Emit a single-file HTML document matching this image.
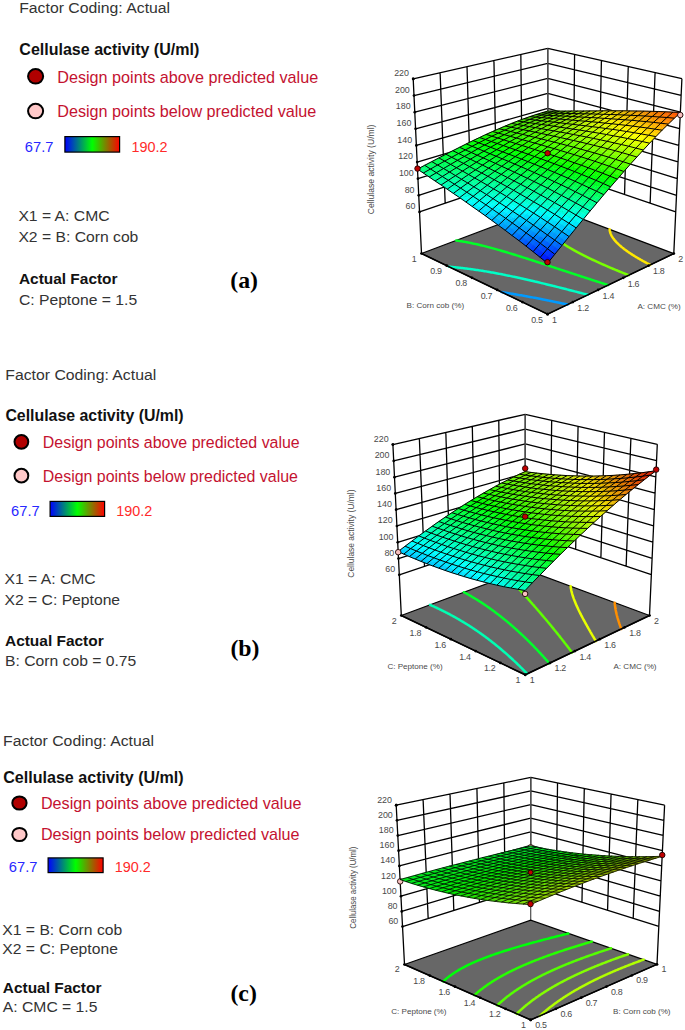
<!DOCTYPE html>
<html><head><meta charset="utf-8"><style>
html,body{margin:0;padding:0;background:#fff;}
body{width:685px;height:1030px;overflow:hidden;position:relative;}
svg{position:absolute;left:0;top:0;}
</style></head><body>
<svg width="685" height="1030" viewBox="0 0 685 1030">
<defs><linearGradient id="cb" x1="0" x2="1" y1="0" y2="0"><stop offset="0" stop-color="#0000ff"/><stop offset="0.5" stop-color="#00ff00"/><stop offset="1" stop-color="#ff0000"/></linearGradient></defs>
<rect width="685" height="1030" fill="#fff"/>
<g font-family="Liberation Sans, sans-serif"><text transform="translate(19.2 13.1) scale(1.053 1)" font-size="15.0" fill="#333" >Factor Coding: Actual</text><text transform="translate(19.299999999999997 55.0) scale(1.0 1)" font-size="16.04" fill="#111" font-weight="bold" >Cellulase activity (U/ml)</text><ellipse cx="35.6" cy="76.3" rx="7.55" ry="7.25" fill="#b00000" stroke="#000" stroke-width="2"/><ellipse cx="35.6" cy="111.1" rx="7.55" ry="7.25" fill="#ffc8c8" stroke="#000" stroke-width="2"/><text transform="translate(57.2 82.6) scale(1.0 1)" font-size="16.19" fill="#c41230" >Design points above predicted value</text><text transform="translate(57.2 116.8) scale(1.0 1)" font-size="16.19" fill="#c41230" >Design points below predicted value</text><text transform="translate(24.8 152.1) scale(1.0 1)" font-size="14.7" fill="#2828ff" >67.7</text><rect x="64.9" y="136.6" width="54.69999999999999" height="15.5" fill="url(#cb)" stroke="#000" stroke-width="1.2"/><text transform="translate(131.4 152.1) scale(1.0 1)" font-size="14.4" fill="#ff2a2a" >190.2</text><text transform="translate(18.4 221.3) scale(1.047 1)" font-size="15.0" fill="#333" >X1 = A: CMC</text><text transform="translate(18.4 242.0) scale(1.047 1)" font-size="15.0" fill="#333" >X2 = B: Corn cob</text><text transform="translate(18.9 284.0) scale(1.0 1)" font-size="15.45" fill="#111" font-weight="bold" >Actual Factor</text><text transform="translate(18.9 305.4) scale(1.047 1)" font-size="15.0" fill="#333" >C: Peptone = 1.5</text><text x="230.3" y="287.5" font-size="23.8" font-family="Liberation Serif, serif" font-weight="bold" fill="#000">(a)</text></g>
<g font-family="Liberation Sans, sans-serif"><text transform="translate(5.3 379.9) scale(1.053 1)" font-size="15.0" fill="#333" >Factor Coding: Actual</text><text transform="translate(5.4 420.7) scale(1.0 1)" font-size="15.88" fill="#111" font-weight="bold" >Cellulase activity (U/ml)</text><ellipse cx="21.4" cy="441.8" rx="6.9" ry="6.9" fill="#b00000" stroke="#000" stroke-width="2"/><ellipse cx="21.4" cy="475.7" rx="6.9" ry="6.9" fill="#ffc8c8" stroke="#000" stroke-width="2"/><text transform="translate(42.8 448.0) scale(1.0 1)" font-size="15.94" fill="#c41230" >Design points above predicted value</text><text transform="translate(42.8 481.8) scale(1.0 1)" font-size="15.94" fill="#c41230" >Design points below predicted value</text><text transform="translate(11.1 515.5) scale(1.0 1)" font-size="14.7" fill="#2828ff" >67.7</text><rect x="50.1" y="501.4" width="54.49999999999999" height="15.0" fill="url(#cb)" stroke="#000" stroke-width="1.2"/><text transform="translate(116.2 515.5) scale(1.0 1)" font-size="14.4" fill="#ff2a2a" >190.2</text><text transform="translate(4.5 584.1) scale(1.047 1)" font-size="15.0" fill="#333" >X1 = A: CMC</text><text transform="translate(4.5 604.5) scale(1.047 1)" font-size="15.0" fill="#333" >X2 = C: Peptone</text><text transform="translate(5.0 646.0) scale(1.0 1)" font-size="15.45" fill="#111" font-weight="bold" >Actual Factor</text><text transform="translate(5.0 666.4) scale(1.047 1)" font-size="15.0" fill="#333" >B: Corn cob = 0.75</text><text x="230.4" y="656.0" font-size="23.8" font-family="Liberation Serif, serif" font-weight="bold" fill="#000">(b)</text></g>
<g font-family="Liberation Sans, sans-serif"><text transform="translate(3.0999999999999996 745.6) scale(1.053 1)" font-size="15.0" fill="#333" >Factor Coding: Actual</text><text transform="translate(3.1999999999999997 783.0) scale(1.0 1)" font-size="16.08" fill="#111" font-weight="bold" >Cellulase activity (U/ml)</text><ellipse cx="19.45" cy="803.0" rx="7.15" ry="6.6" fill="#b00000" stroke="#000" stroke-width="2"/><ellipse cx="19.45" cy="834.5" rx="7.15" ry="6.6" fill="#ffc8c8" stroke="#000" stroke-width="2"/><text transform="translate(40.9 808.6) scale(1.0 1)" font-size="16.16" fill="#c41230" >Design points above predicted value</text><text transform="translate(40.9 840.0) scale(1.0 1)" font-size="16.16" fill="#c41230" >Design points below predicted value</text><text transform="translate(8.8 872.0) scale(1.0 1)" font-size="14.7" fill="#2828ff" >67.7</text><rect x="48.1" y="857.9" width="54.99999999999999" height="14.700000000000045" fill="url(#cb)" stroke="#000" stroke-width="1.2"/><text transform="translate(114.7 872.0) scale(1.0 1)" font-size="14.4" fill="#ff2a2a" >190.2</text><text transform="translate(2.3 935.3) scale(1.047 1)" font-size="15.0" fill="#333" >X1 = B: Corn cob</text><text transform="translate(2.3 954.3) scale(1.047 1)" font-size="15.0" fill="#333" >X2 = C: Peptone</text><text transform="translate(2.8 992.8) scale(1.0 1)" font-size="15.45" fill="#111" font-weight="bold" >Actual Factor</text><text transform="translate(2.8 1012.1) scale(1.047 1)" font-size="15.0" fill="#333" >A: CMC = 1.5</text><text x="230.4" y="1000.7" font-size="23.8" font-family="Liberation Serif, serif" font-weight="bold" fill="#000">(c)</text></g>
<path d="M419.52 211.93L547.79 168.38M547.79 168.38L675.73 211.96M418.73 195.30L547.78 153.37M547.78 153.37L676.50 195.30M417.94 178.67L547.78 138.36M547.78 138.36L677.27 178.64M417.15 162.04L547.77 123.35M547.77 123.35L678.04 161.99M416.36 145.41L547.77 108.34M547.77 108.34L678.81 145.33M415.57 128.79L547.76 93.33M547.76 93.33L679.59 128.67M414.78 112.16L547.76 78.32M547.76 78.32L680.36 112.01M413.99 95.53L547.75 63.31M547.75 63.31L681.13 95.36M413.20 78.90L547.75 48.30M547.75 48.30L681.90 78.70M413.20 78.90L421.50 253.50M440.11 72.78L445.18 203.22M467.02 66.66L470.83 194.51M493.93 60.54L496.48 185.80M520.84 54.42L522.14 177.09M547.75 48.30L547.79 168.38M574.58 54.38L573.38 177.09M601.41 60.46L598.96 185.81M628.24 66.54L624.55 194.52M655.07 72.62L650.14 203.24M681.90 78.70L673.80 253.60" stroke="#000" stroke-width="1.3" fill="none"/>
<path d="M547.75 48.30L547.80 205.90" stroke="#555" stroke-width="1.3" fill="none"/>
<path d="M421.50 253.50L547.80 205.90L673.80 253.60L547.60 314.20Z" fill="#676767" stroke="#000" stroke-width="1.2"/>
<path d="M501.59 292.09L502.44 292.22L503.71 292.42L504.12 292.48L504.97 292.62L506.23 292.82L506.69 292.89L507.49 293.02L508.75 293.22L509.29 293.31L510.00 293.43L511.26 293.64L511.91 293.75L512.51 293.85L513.76 294.06L514.57 294.19L515.00 294.27L516.25 294.48L517.26 294.66L517.49 294.70L518.73 294.91L519.98 295.13L519.99 295.13L521.21 295.35L522.45 295.57L522.74 295.62L523.69 295.79L524.92 296.01L525.53 296.12L526.16 296.24L527.39 296.46L528.35 296.64L528.62 296.69L529.85 296.92L531.08 297.15L531.20 297.17L532.31 297.38L533.54 297.61L534.08 297.71L534.76 297.84L535.99 298.08L537.00 298.27L537.21 298.31L538.44 298.55L539.66 298.79L539.96 298.84L540.88 299.03L542.10 299.27L542.94 299.43L543.32 299.51L544.55 299.75L545.77 299.99L545.96 300.03L546.98 300.23L548.20 300.48L549.01 300.64L549.42 300.73L550.64 300.97L551.86 301.22L552.10 301.27L553.08 301.47L554.29 301.72L555.22 301.91L555.51 301.97L556.73 302.22L557.95 302.47L558.37 302.56L559.16 302.73L560.38 302.98L561.56 303.23L561.60 303.24L562.81 303.49L564.03 303.75L564.78 303.91L565.25 304.01L566.46 304.27L567.68 304.53" stroke="#009aff" stroke-width="2.5" fill="none" stroke-linecap="round"/>
<path d="M448.82 266.68L449.82 266.76L450.80 266.85L451.15 266.88L452.48 267.00L452.80 267.03L453.79 267.12L454.83 267.22L455.10 267.25L456.40 267.38L456.89 267.43L457.69 267.52L458.97 267.65L458.98 267.65L460.25 267.79L461.10 267.89L461.52 267.94L462.78 268.09L463.26 268.14L464.04 268.24L465.29 268.39L465.45 268.41L466.53 268.55L467.67 268.69L467.77 268.70L469.00 268.87L469.94 268.99L470.23 269.03L471.45 269.20L472.24 269.31L472.67 269.37L473.88 269.54L474.58 269.64L475.09 269.72L476.29 269.89L476.96 269.99L477.48 270.07L478.68 270.25L479.38 270.36L479.87 270.44L481.05 270.63L481.85 270.75L482.23 270.81L483.41 271.01L484.36 271.16L484.58 271.20L485.75 271.39L486.91 271.59L486.92 271.59L488.08 271.79L489.24 271.99L489.51 272.04L490.39 272.19L491.55 272.40L492.17 272.51L492.70 272.60L493.85 272.81L494.87 273.00L494.99 273.02L496.13 273.24L497.27 273.45L497.62 273.51L498.41 273.66L499.54 273.88L500.42 274.05L500.68 274.10L501.81 274.32L502.94 274.54L503.27 274.61L504.06 274.76L505.19 274.99L506.18 275.19L506.31 275.22L507.43 275.44L508.55 275.67L509.15 275.79L509.67 275.90L510.78 276.13L511.90 276.37L512.17 276.42L513.01 276.60L514.12 276.84L515.23 277.07L515.24 277.08L516.34 277.31L517.45 277.55L518.38 277.75L518.56 277.79L519.66 278.03L520.77 278.28L521.57 278.45L521.87 278.52L522.98 278.77L524.08 279.01L524.82 279.18L525.18 279.26L526.28 279.51L527.38 279.76L528.13 279.93L528.48 280.01L529.58 280.26L530.68 280.52L531.50 280.71L531.78 280.77L532.87 281.02L533.97 281.28L534.93 281.50L535.07 281.54L536.16 281.80L537.26 282.05L538.36 282.31L538.41 282.33L539.45 282.57L540.55 282.84L541.64 283.10L541.96 283.17L542.74 283.36L543.83 283.63L544.93 283.89L545.56 284.05L546.02 284.16L547.12 284.42L548.21 284.69L549.22 284.94L549.31 284.96L550.40 285.23L551.50 285.50L552.60 285.77L552.93 285.86L553.69 286.04L554.79 286.32L555.88 286.59L556.71 286.79L556.98 286.86L558.08 287.14L559.18 287.41L560.27 287.69L560.53 287.75L561.37 287.97L562.47 288.24L563.57 288.52L564.41 288.73L564.67 288.80L565.77 289.08L566.87 289.36L567.97 289.64L568.34 289.73L569.08 289.92L570.18 290.20L571.28 290.49L572.32 290.75L572.39 290.77L573.49 291.05L574.60 291.34L575.70 291.62L576.34 291.79L576.81 291.91L577.92 292.20L579.03 292.48L580.14 292.77L580.42 292.84L581.25 293.06L582.36 293.35L583.47 293.64L584.53 293.92L584.58 293.93L585.70 294.22L586.81 294.51L587.93 294.80" stroke="#00ffc6" stroke-width="2.5" fill="none" stroke-linecap="round"/>
<path d="M456.15 240.49L457.27 240.65L457.62 240.70L458.37 240.81L459.47 240.97L459.92 241.04L460.56 241.14L461.63 241.31L462.30 241.42L462.70 241.49L463.76 241.67L464.79 241.85L464.81 241.86L465.85 242.04L466.89 242.23L467.40 242.33L467.92 242.43L468.94 242.63L469.95 242.83L470.12 242.86L470.96 243.03L471.97 243.24L472.96 243.45L472.99 243.45L473.95 243.66L474.94 243.87L475.92 244.09L476.01 244.11L476.90 244.31L477.87 244.53L478.84 244.75L479.19 244.84L479.80 244.98L480.76 245.21L481.72 245.44L482.56 245.65L482.67 245.67L483.62 245.91L484.56 246.14L485.50 246.38L486.14 246.55L486.44 246.62L487.38 246.87L488.31 247.11L489.25 247.36L489.94 247.54L490.17 247.60L491.10 247.85L492.03 248.10L492.95 248.35L493.87 248.61L493.99 248.64L494.79 248.86L495.71 249.12L496.62 249.38L497.53 249.63L498.30 249.85L498.45 249.89L499.36 250.16L500.27 250.42L501.18 250.68L502.09 250.95L502.89 251.18L502.99 251.21L503.90 251.48L504.80 251.75L505.71 252.02L506.61 252.29L507.51 252.56L507.77 252.64L508.42 252.83L509.32 253.11L510.22 253.38L511.12 253.66L512.02 253.93L512.92 254.21L512.96 254.22L513.82 254.49L514.72 254.77L515.63 255.05L516.53 255.33L517.43 255.61L518.33 255.90L518.43 255.93L519.23 256.18L520.13 256.46L521.03 256.75L521.93 257.03L522.83 257.32L523.73 257.61L524.19 257.75L524.63 257.89L525.53 258.18L526.44 258.47L527.34 258.76L528.24 259.05L529.15 259.34L530.05 259.64L530.22 259.69L530.96 259.93L531.86 260.22L532.77 260.52L533.68 260.81L534.59 261.10L535.49 261.40L536.40 261.70L536.47 261.72L537.31 261.99L538.22 262.29L539.14 262.59L540.05 262.89L540.96 263.18L541.88 263.48L542.79 263.78L542.92 263.82L543.71 264.08L544.63 264.38L545.55 264.69L546.46 264.99L547.39 265.29L548.31 265.59L549.23 265.90L549.51 265.99L550.15 266.20L551.08 266.50L552.00 266.81L552.93 267.11L553.86 267.42L554.79 267.72L555.72 268.03L556.22 268.19L556.65 268.34L557.59 268.64L558.52 268.95L559.46 269.26L560.39 269.57L561.33 269.88L562.27 270.19L562.99 270.42L563.21 270.50L564.16 270.81L565.10 271.12L566.04 271.43L566.99 271.74L567.94 272.05L568.89 272.36L569.81 272.66L569.84 272.67L570.79 272.98L571.75 273.30L572.70 273.61L573.66 273.92L574.62 274.24L575.58 274.55L576.54 274.87L576.62 274.89L577.50 275.18L578.46 275.50L579.43 275.81L580.40 276.13L581.37 276.44L582.34 276.76L583.31 277.08L583.42 277.11L584.28 277.39L585.26 277.71L586.24 278.03L587.21 278.35L588.19 278.66L589.18 278.98L590.16 279.30L590.19 279.31L591.15 279.62L592.13 279.94L593.12 280.26L594.11 280.58L595.10 280.90L596.10 281.22L596.90 281.48L597.09 281.54L598.09 281.86L599.09 282.18L600.09 282.50L601.09 282.83L602.10 283.15L603.10 283.47L603.56 283.62L604.11 283.79L605.12 284.12L606.13 284.44L607.14 284.76L608.16 285.09" stroke="#00ff27" stroke-width="2.5" fill="none" stroke-linecap="round"/>
<path d="M558.57 209.99L557.95 210.29L557.35 210.60L556.75 210.92L556.16 211.24L555.59 211.56L555.45 211.64L555.02 211.89L554.47 212.22L553.92 212.56L553.39 212.90L553.10 213.10L552.87 213.25L552.36 213.61L551.87 213.97L551.45 214.29L551.39 214.34L550.92 214.71L550.47 215.09L550.21 215.33L550.04 215.48L549.62 215.87L549.23 216.26L549.21 216.28L548.83 216.69L548.46 217.11L548.44 217.13L548.11 217.54L547.81 217.94L547.79 217.97L547.48 218.42L547.30 218.70L547.20 218.87L546.93 219.34L546.89 219.43L546.70 219.82L546.56 220.12L546.49 220.31L546.31 220.79L546.30 220.81L546.15 221.32L546.12 221.44L546.02 221.85L545.98 222.07L545.93 222.39L545.89 222.68L545.87 222.94L545.85 223.27L545.84 223.51L545.84 223.85L545.85 224.10L545.88 224.42L545.91 224.70L545.94 224.97L546.00 225.33L546.04 225.52L546.14 225.97L546.17 226.05L546.32 226.58L546.33 226.63L546.49 227.10L546.58 227.32L546.69 227.61L546.88 228.03L546.91 228.11L547.15 228.61L547.24 228.77L547.41 229.10L547.66 229.54L547.69 229.58L547.98 230.06L548.16 230.33L548.29 230.54L548.61 231.01L548.73 231.16L548.95 231.47L549.31 231.93L549.39 232.03L549.67 232.39L550.05 232.84L550.14 232.94L550.45 233.29L550.85 233.74L550.99 233.89L551.26 234.18L551.69 234.62L551.95 234.89L552.12 235.06L552.57 235.49L553.02 235.92L553.04 235.94L553.49 236.35L553.96 236.78L554.27 237.05L554.45 237.20L554.94 237.62L555.44 238.04L555.66 238.23L555.94 238.46L556.46 238.87L556.98 239.29L557.24 239.49L557.51 239.70L558.05 240.11L558.59 240.52L559.02 240.84L559.14 240.92L559.70 241.33L560.27 241.73L560.84 242.13L561.06 242.29L561.41 242.53L562.00 242.93L562.59 243.33L563.18 243.73L563.40 243.87L563.78 244.12L564.39 244.52L565.00 244.91L565.62 245.30L566.10 245.60L566.24 245.69L566.87 246.08L567.50 246.47L568.14 246.86L568.78 247.25L569.26 247.53L569.43 247.63L570.08 248.02L570.74 248.40L571.40 248.78L572.07 249.17L572.74 249.55L573.03 249.71L573.42 249.93L574.10 250.31L574.78 250.69L575.47 251.07L576.16 251.45L576.86 251.82L577.56 252.20L577.66 252.25L578.27 252.58L578.98 252.95L579.69 253.33L580.41 253.70L581.13 254.08L581.86 254.45L582.58 254.82L583.32 255.20L583.62 255.35L584.05 255.57L584.79 255.94L585.54 256.31L586.29 256.68L587.04 257.05L587.79 257.42L588.55 257.79L589.31 258.16L590.08 258.53L590.85 258.90L591.62 259.27L592.08 259.49L592.40 259.63L593.18 260.00L593.96 260.37L594.75 260.73L595.54 261.10L596.33 261.47L597.12 261.83L597.92 262.20L598.73 262.56L599.53 262.93L600.34 263.29L601.15 263.65L601.97 264.02L602.79 264.38L603.61 264.75L604.43 265.11L605.26 265.47L606.09 265.83L606.93 266.20L607.76 266.56L608.60 266.92L609.45 267.28L610.29 267.64L610.65 267.79L611.14 268.01L612.00 268.37L612.85 268.73L613.71 269.09L614.57 269.45L615.43 269.81L616.30 270.17L617.17 270.53L618.04 270.89L618.92 271.25L619.80 271.61L620.68 271.97L621.56 272.33L622.45 272.69L623.34 273.05L624.23 273.41L625.13 273.77L625.39 273.87L626.03 274.12L626.93 274.48L627.83 274.84L628.74 275.20" stroke="#77ff00" stroke-width="2.5" fill="none" stroke-linecap="round"/>
<path d="M609.60 229.27L609.65 229.85L609.65 229.87L609.73 230.44L609.73 230.47L609.83 231.05L609.84 231.06L609.97 231.65L609.97 231.67L610.12 232.22L610.15 232.31L610.30 232.79L610.36 232.96L610.50 233.35L610.61 233.63L610.72 233.90L610.89 234.31L610.95 234.45L611.21 234.99L611.22 235.02L611.48 235.52L611.60 235.74L611.77 236.05L612.02 236.48L612.08 236.57L612.40 237.09L612.50 237.25L612.74 237.61L613.03 238.03L613.08 238.12L613.45 238.62L613.61 238.85L613.82 239.12L614.21 239.62L614.26 239.68L614.61 240.11L614.98 240.55L615.02 240.60L615.45 241.09L615.77 241.45L615.88 241.57L616.32 242.05L616.63 242.38L616.78 242.53L617.24 243.00L617.58 243.34L617.72 243.47L618.20 243.94L618.63 244.34L618.70 244.41L619.20 244.87L619.71 245.33L619.77 245.39L620.23 245.79L620.76 246.25L621.03 246.48L621.29 246.70L621.83 247.16L622.39 247.61L622.41 247.63L622.94 248.05L623.51 248.50L623.93 248.83L624.08 248.95L624.67 249.39L625.25 249.83L625.61 250.09L625.85 250.27L626.45 250.71L627.06 251.14L627.47 251.43L627.67 251.58L628.29 252.01L628.92 252.44L629.53 252.86L629.55 252.87L630.19 253.30L630.84 253.73L631.49 254.15L631.83 254.38L632.14 254.58L632.81 255.00L633.47 255.43L634.15 255.85L634.42 256.02L634.83 256.27L635.51 256.69L636.20 257.11L636.89 257.52L637.36 257.80L637.59 257.94L638.30 258.35L639.01 258.77L639.72 259.18L640.44 259.59L640.73 259.75L641.17 260.00L641.90 260.42L642.63 260.82L643.37 261.23L644.12 261.64L644.66 261.94L644.86 262.05L645.62 262.46L646.37 262.86L647.14 263.27L647.90 263.67L648.67 264.07L649.37 264.43L649.45 264.48L650.23 264.88" stroke="#ffe800" stroke-width="2.5" fill="none" stroke-linecap="round"/>
<path d="M421.50 253.50L547.60 314.20L673.80 253.60" stroke="#000" stroke-width="1.5" fill="none"/>
<g fill="#000"><circle cx="421.50" cy="253.50" r="1.35"/><circle cx="547.60" cy="314.20" r="1.35"/><circle cx="446.72" cy="265.64" r="1.35"/><circle cx="572.84" cy="302.08" r="1.35"/><circle cx="471.94" cy="277.78" r="1.35"/><circle cx="598.08" cy="289.96" r="1.35"/><circle cx="497.16" cy="289.92" r="1.35"/><circle cx="623.32" cy="277.84" r="1.35"/><circle cx="522.38" cy="302.06" r="1.35"/><circle cx="648.56" cy="265.72" r="1.35"/><circle cx="547.60" cy="314.20" r="1.35"/><circle cx="673.80" cy="253.60" r="1.35"/><circle cx="419.52" cy="211.93" r="1.35"/><circle cx="418.73" cy="195.30" r="1.35"/><circle cx="417.94" cy="178.67" r="1.35"/><circle cx="417.15" cy="162.04" r="1.35"/><circle cx="416.36" cy="145.41" r="1.35"/><circle cx="415.57" cy="128.79" r="1.35"/><circle cx="414.78" cy="112.16" r="1.35"/><circle cx="413.99" cy="95.53" r="1.35"/><circle cx="413.20" cy="78.90" r="1.35"/><circle cx="413.20" cy="78.90" r="1.35"/></g>
<g stroke-width="4.5" transform="scale(0.1)"><path d="M5475 2633l36 -45l-36 -29l-36 44z" fill="#0010ff" stroke="#0010ff"/><path d="M5439 2603l36 -44l-36 -29l-37 44z" fill="#0020ff" stroke="#0020ff"/><path d="M5402 2574l37 -44l-36 -28l-37 43zm109 14l37 -45l-37 -28l-36 44z" fill="#002cff" stroke="#002cff"/><path d="M5366 2545l37 -43l-36 -27l-36 42zm109 14l36 -44l-36 -28l-36 43z" fill="#0038ff" stroke="#0038ff"/><path d="M5331 2517l36 -42l-36 -28l-36 42zm108 13l36 -43l-36 -27l-36 42z" fill="#0044ff" stroke="#0044ff"/><path d="M5295 2489l36 -42l-35 -26l-36 40zm108 13l36 -42l-36 -27l-36 42z" fill="#0050ff" stroke="#0050ff"/><path d="M5260 2461l36 -40l-35 -27l-36 40z" fill="#0058ff" stroke="#0058ff"/><path d="M5225 2434l36 -40l-35 -26l-36 39zm359 64l36 -44l-37 -27l-36 44z" fill="#0064ff" stroke="#0064ff"/><path d="M5190 2407l36 -39l-35 -26l-36 39zm106 14l36 -41l-35 -26l-36 40zm251 50l36 -44l-36 -26l-36 43z" fill="#0070ff" stroke="#0070ff"/><path d="M5155 2381l36 -39l-34 -25l-37 38zm106 13l36 -40l-35 -25l-36 39z" fill="#007cff" stroke="#007cff"/><path d="M5120 2355l37 -38l-35 -26l-36 38zm106 13l36 -39l-35 -25l-36 38zm106 12l36 -40l-35 -25l-36 39zm251 47l36 -43l-36 -26l-36 43z" fill="#0088ff" stroke="#0088ff"/><path d="M5086 2329l36 -38l-34 -24l-36 36zm105 13l36 -38l-34 -25l-36 38zm248 49l36 -41l-35 -26l-36 41z" fill="#0090ff" stroke="#0090ff"/><path d="M5052 2303l36 -36l-34 -25l-36 36zm105 14l36 -38l-34 -25l-37 37zm354 58l36 -42l-36 -25l-36 42z" fill="#009cff" stroke="#009cff"/><path d="M5018 2278l36 -36l-33 -24l-37 35zm601 106l36 -43l-37 -25l-35 42z" fill="#00a4ff" stroke="#00a4ff"/><path d="M4984 2253l37 -35l-34 -24l-36 35zm104 14l36 -37l-33 -23l-37 35zm105 12l36 -38l-35 -23l-35 36zm247 45l35 -40l-35 -24l-36 40z" fill="#00b0ff" stroke="#00b0ff"/><path d="M4951 2229l36 -35l-33 -23l-36 33zm103 13l37 -35l-34 -24l-36 35zm350 58l36 -40l-35 -24l-36 39zm143 33l35 -42l-36 -24l-35 41z" fill="#00b8ff" stroke="#00b8ff"/><path d="M4918 2204l36 -33l-33 -24l-36 33zm103 14l36 -35l-34 -23l-36 34zm103 12l36 -36l-34 -23l-35 36zm245 45l36 -39l-35 -23l-36 38z" fill="#00c4ff" stroke="#00c4ff"/><path d="M4885 2180l36 -33l-33 -23l-36 33zm102 14l36 -34l-33 -23l-36 34zm347 57l36 -38l-35 -23l-36 38z" fill="#00ccff" stroke="#00ccff"/><path d="M4852 2157l36 -33l-33 -23l-36 32zm102 14l36 -34l-33 -23l-36 33zm103 12l36 -35l-34 -22l-36 34zm103 11l36 -36l-34 -22l-36 35zm245 42l35 -38l-35 -23l-35 38zm141 31l36 -40l-36 -23l-35 40zm144 31l35 -43l-36 -23l-35 42z" fill="#00d8ff" stroke="#00d8ff"/><path d="M4819 2133l36 -32l-32 -22l-36 31zm102 14l36 -33l-33 -22l-36 32zm102 13l36 -34l-33 -22l-36 33zm103 11l36 -35l-34 -22l-35 34zm244 42l35 -38l-35 -22l-35 37zm141 31l35 -40l-35 -23l-36 40zm143 30l35 -42l-36 -23l-35 41z" fill="#00e0ff" stroke="#00e0ff"/><path d="M4787 2110l36 -31l-33 -22l-36 30zm101 14l36 -32l-33 -22l-36 31zm102 13l36 -33l-33 -22l-36 32zm240 44l36 -36l-34 -22l-36 35zm245 40l36 -40l-36 -22l-35 39zm143 29l35 -41l-36 -22l-35 40zm144 29l35 -43l-37 -23l-35 42z" fill="#00e8ff" stroke="#00e8ff"/><path d="M4754 2087l36 -30l-32 -22l-36 30zm101 14l36 -31l-32 -22l-36 31zm102 13l36 -32l-33 -22l-36 32zm239 44l36 -35l-34 -22l-36 35zm244 40l35 -39l-35 -22l-35 38zm142 29l35 -40l-36 -22l-35 39zm143 28l35 -42l-36 -22l-35 41z" fill="#00f0ff" stroke="#00f0ff"/><path d="M4722 2065l36 -30l-32 -22l-36 29zm101 14l36 -31l-33 -22l-36 31zm101 13l36 -32l-33 -22l-36 32zm238 44l36 -35l-34 -21l-36 34zm243 39l35 -38l-35 -21l-35 37zm141 29l35 -39l-35 -22l-35 38zm143 28l35 -41l-36 -22l-35 40z" fill="#00f8ff" stroke="#00f8ff"/><path d="M4690 2042l36 -29l-31 -22l-36 29zm100 15l36 -31l-32 -21l-36 30zm101 13l36 -32l-32 -21l-36 31zm341 53l35 -35l-34 -21l-35 34zm138 30l35 -37l-34 -22l-35 37zm283 56l35 -40l-36 -22l-35 40zm144 27l35 -42l-37 -22l-35 41z" fill="#00fffc" stroke="#00fffc"/><path d="M4659 2020l36 -29l-32 -21l-36 28zm301 40l35 -32l-32 -21l-36 31zm102 10l35 -32l-33 -21l-36 32zm239 39l35 -36l-34 -20l-35 35zm139 28l35 -37l-35 -21l-35 37zm141 28l35 -40l-35 -21l-35 39z" fill="#00fff0" stroke="#00fff0"/><path d="M4627 1998l36 -28l-31 -21l-36 27zm401 51l36 -32l-33 -20l-36 31zm239 39l35 -35l-34 -21l-35 35zm138 28l35 -37l-34 -21l-35 36zm141 27l35 -39l-36 -21l-35 38z" fill="#00ffe8" stroke="#00ffe8"/><path d="M4596 1976l36 -27l-31 -21l-37 27zm399 52l36 -31l-33 -21l-35 31zm238 39l35 -35l-34 -20l-35 34zm138 27l35 -36l-35 -20l-35 35zm139 27l35 -38l-35 -20l-35 37zm322 73l35 -42l-37 -22l-35 42z" fill="#00ffe0" stroke="#00ffe0"/><path d="M4564 1955l37 -27l-31 -21l-37 27zm399 52l35 -31l-32 -20l-36 31zm101 10l35 -32l-33 -20l-35 32zm135 29l35 -34l-33 -20l-35 33zm137 27l35 -35l-34 -20l-35 35zm139 27l35 -37l-35 -20l-35 36zm141 25l35 -38l-36 -21l-34 38zm179 47l35 -42l-36 -21l-35 41z" fill="#00ffd8" stroke="#00ffd8"/><path d="M4533 1934l37 -27l-31 -20l-36 25zm99 15l36 -27l-31 -20l-36 26zm298 38l36 -31l-33 -19l-35 29zm101 10l35 -32l-33 -19l-35 30zm135 28l35 -33l-34 -19l-35 32zm136 28l35 -35l-34 -20l-35 34zm138 26l35 -36l-34 -20l-35 35zm141 25l34 -38l-35 -20l-35 37z" fill="#00ffd0" stroke="#00ffd0"/><path d="M4503 1912l36 -25l-31 -20l-36 25zm98 16l36 -26l-31 -21l-36 26zm397 48l35 -30l-32 -20l-35 30zm134 29l35 -32l-33 -20l-35 32zm413 78l35 -37l-35 -20l-35 37zm322 69l34 -42l-36 -21l-35 41z" fill="#00ffc8" stroke="#00ffc8"/><path d="M4472 1892l36 -25l-30 -21l-36 25zm98 15l36 -26l-31 -19l-36 25zm396 49l35 -30l-32 -19l-36 30zm235 36l35 -32l-34 -19l-35 32zm136 26l35 -34l-34 -19l-35 33zm173 45l35 -37l-35 -19l-35 36zm141 24l35 -39l-36 -20l-35 38zm179 43l35 -41l-37 -20l-34 40z" fill="#00ffc0" stroke="#00ffc0"/><path d="M4442 1871l36 -25l-31 -19l-36 23zm97 16l36 -25l-31 -20l-36 25zm164 8l36 -27l-31 -19l-36 26zm99 12l35 -28l-31 -19l-36 27zm131 30l36 -30l-33 -18l-35 28zm100 9l36 -31l-33 -18l-35 29zm134 27l35 -32l-33 -19l-35 31zm136 25l35 -33l-34 -19l-35 33zm312 68l35 -38l-35 -19l-35 37zm179 43l34 -40l-36 -20l-35 40z" fill="#00ffb8" stroke="#00ffb8"/><path d="M4411 1850l36 -23l-30 -20l-36 23zm164 12l35 -26l-30 -19l-36 25zm97 13l36 -26l-31 -19l-36 26zm98 12l36 -27l-32 -18l-35 26zm231 39l35 -29l-32 -19l-35 29zm133 27l35 -31l-33 -19l-35 31zm135 26l35 -33l-33 -19l-35 33zm137 24l35 -35l-34 -18l-35 34zm174 43l35 -37l-35 -19l-35 36zm321 64l35 -41l-37 -20l-34 40z" fill="#00ffb0" stroke="#00ffb0"/><path d="M4381 1830l36 -23l-30 -20l-36 23zm163 12l36 -25l-31 -19l-35 24zm97 14l36 -26l-31 -18l-36 24zm98 12l35 -26l-31 -19l-35 26zm98 11l36 -27l-32 -19l-35 27zm132 28l35 -29l-33 -18l-35 29zm100 8l34 -30l-32 -18l-35 30zm303 69l35 -34l-34 -19l-35 34zm138 23l35 -36l-35 -19l-35 35zm176 41l34 -38l-35 -19l-35 37zm179 41l34 -40l-36 -20l-35 40z" fill="#00ffa8" stroke="#00ffa8"/><path d="M4351 1810l36 -23l-29 -19l-36 22zm163 12l35 -24l-30 -18l-36 23zm96 14l36 -24l-31 -19l-35 24zm98 13l35 -26l-31 -18l-35 25zm98 11l35 -27l-31 -18l-36 27zm98 10l35 -28l-31 -18l-35 28zm132 27l35 -30l-33 -18l-34 29zm133 25l35 -31l-33 -18l-35 30zm135 24l35 -33l-34 -18l-34 32zm171 41l35 -35l-34 -18l-35 34zm175 41l35 -37l-36 -19l-34 37zm178 41l35 -40l-37 -19l-34 39z" fill="#00ffa0" stroke="#00ffa0"/><path d="M4322 1790l36 -22l-30 -20l-36 22zm161 13l36 -23l-30 -19l-36 23zm97 14l35 -24l-30 -18l-36 23zm194 25l36 -27l-32 -18l-35 26zm99 10l35 -28l-32 -17l-35 26zm131 26l34 -29l-32 -17l-35 28zm132 25l35 -30l-33 -18l-35 30zm135 24l34 -32l-33 -18l-35 32zm309 63l34 -36l-35 -19l-34 36zm176 39l34 -38l-36 -19l-34 38z" fill="#00ff98" stroke="#00ff98"/><path d="M4292 1770l36 -22l-29 -19l-36 21zm161 14l36 -23l-30 -19l-36 23zm162 9l36 -24l-31 -18l-35 24zm97 12l35 -25l-30 -18l-36 25zm129 28l35 -26l-31 -18l-35 26zm98 9l35 -28l-32 -17l-34 27zm132 25l35 -29l-33 -17l-35 28zm133 24l35 -31l-33 -17l-35 30zm169 40l34 -33l-34 -17l-34 32zm172 40l34 -36l-35 -18l-34 35zm175 39l34 -38l-35 -18l-34 37zm179 39l34 -40l-36 -19l-34 39z" fill="#00ff90" stroke="#00ff90"/><path d="M4263 1750l36 -21l-30 -19l-36 20zm160 15l36 -23l-30 -18l-35 22zm162 10l35 -24l-30 -18l-35 23zm96 12l36 -25l-31 -17l-35 24zm97 10l35 -25l-31 -17l-35 25zm130 27l34 -27l-31 -17l-35 27zm130 25l35 -28l-32 -17l-35 28zm133 24l35 -30l-33 -17l-35 29zm134 22l35 -32l-34 -17l-34 31zm171 39l34 -34l-34 -18l-35 34zm387 95l34 -39l-36 -19l-35 39z" fill="#00ff88" stroke="#00ff88"/><path d="M4233 1730l36 -20l-29 -19l-36 20zm161 16l35 -22l-29 -18l-36 21zm65 -4l36 -22l-30 -17l-36 21zm96 14l35 -23l-30 -17l-36 22zm96 13l35 -24l-31 -17l-35 23zm96 11l35 -25l-30 -17l-35 24zm98 9l34 -26l-31 -16l-35 25zm129 25l35 -27l-32 -17l-35 27zm132 24l34 -29l-32 -17l-35 29zm166 39l34 -31l-33 -17l-34 31zm169 39l35 -34l-35 -17l-34 33zm173 38l34 -36l-35 -18l-34 35zm176 37l35 -38l-36 -18l-35 37z" fill="#00ff80" stroke="#00ff80"/><path d="M4204 1711l36 -20l-29 -19l-36 19zm225 13l36 -21l-30 -18l-35 21zm161 9l35 -22l-30 -17l-35 22zm96 12l35 -24l-31 -16l-35 23zm127 27l35 -25l-31 -17l-35 25zm98 8l35 -26l-32 -16l-35 25zm162 41l35 -29l-32 -16l-35 28zm133 22l34 -30l-33 -16l-34 29zm167 38l35 -33l-34 -16l-34 31zm171 36l35 -34l-35 -17l-34 34zm210 55l35 -37l-36 -18l-34 37z" fill="#00ff78" stroke="#00ff78"/><path d="M5367 2475l36 -42l-35 -27l-37 41z" fill="#005cff" stroke="#005cff"/><path d="M5331 2447l37 -41l-36 -26l-36 41zm108 13l36 -43l-36 -26l-36 42z" fill="#0068ff" stroke="#0068ff"/><path d="M5122 2291l37 -37l-35 -24l-36 37zm105 13l36 -38l-34 -25l-36 38zm248 46l36 -42l-36 -24l-35 40z" fill="#00a8ff" stroke="#00a8ff"/><path d="M4758 2035l36 -30l-32 -21l-36 29zm101 13l36 -31l-33 -21l-36 30zm339 53l35 -34l-34 -21l-35 34zm138 30l35 -37l-35 -21l-35 36zm281 56l35 -40l-36 -22l-35 40zm143 26l35 -41l-36 -22l-35 41z" fill="#00fff4" stroke="#00fff4"/><path d="M4726 2013l36 -29l-31 -21l-36 28zm100 13l36 -30l-32 -20l-36 29zm101 12l36 -31l-33 -20l-35 30zm237 42l35 -34l-33 -21l-36 34zm560 111l35 -41l-36 -22l-35 41z" fill="#00ffec" stroke="#00ffec"/><path d="M4695 1991l36 -28l-32 -21l-36 28zm99 14l36 -29l-32 -21l-36 29zm101 12l35 -30l-32 -21l-36 30zm235 42l36 -34l-34 -20l-35 33zm558 110l35 -41l-36 -21l-35 40z" fill="#00ffe4" stroke="#00ffe4"/><path d="M4663 1970l36 -28l-31 -20l-36 27zm99 14l36 -29l-32 -20l-35 28zm100 12l36 -30l-32 -20l-36 30zm235 42l35 -33l-33 -20l-35 32zm555 109l35 -40l-36 -20l-35 38z" fill="#00ffdc" stroke="#00ffdc"/><path d="M4508 1867l36 -25l-30 -20l-36 24zm98 14l35 -25l-31 -20l-35 26zm295 36l35 -28l-32 -19l-35 28zm540 106l34 -36l-34 -19l-35 35zm316 66l35 -40l-36 -20l-35 39z" fill="#00ffb4" stroke="#00ffb4"/><path d="M4478 1846l36 -24l-31 -19l-36 24zm391 52l35 -28l-31 -18l-36 27zm232 36l35 -31l-33 -18l-34 30zm135 26l35 -33l-34 -18l-35 32zm309 66l35 -36l-35 -19l-35 36zm176 42l35 -39l-36 -19l-34 38z" fill="#00ffac" stroke="#00ffac"/><path d="M4447 1827l36 -24l-30 -19l-36 23zm489 62l35 -29l-32 -18l-35 28zm266 52l35 -32l-33 -18l-35 31zm136 24l35 -34l-34 -18l-35 33z" fill="#00ffa4" stroke="#00ffa4"/><path d="M4417 1807l36 -23l-30 -19l-36 22zm260 23l35 -25l-31 -18l-35 25zm764 138l35 -34l-35 -18l-34 34zm174 41l34 -37l-35 -18l-34 36zm177 40l34 -39l-36 -19l-34 38z" fill="#00ff9c" stroke="#00ff9c"/><path d="M4387 1787l36 -22l-29 -19l-36 22zm162 11l36 -23l-30 -19l-36 24zm97 14l35 -25l-30 -18l-36 24zm97 11l35 -26l-31 -17l-35 25zm228 37l35 -28l-32 -18l-35 28zm132 25l35 -30l-32 -17l-35 29zm134 24l35 -32l-33 -17l-35 31zm170 41l34 -34l-34 -18l-34 33zm529 119l34 -41l-37 -19l-34 40z" fill="#00ff94" stroke="#00ff94"/><path d="M4358 1768l36 -22l-30 -19l-36 21zm161 12l36 -24l-31 -18l-35 23zm291 35l35 -26l-32 -17l-35 25zm529 98l34 -32l-33 -18l-35 32zm171 39l34 -35l-34 -17l-34 34zm175 39l34 -37l-36 -18l-34 36z" fill="#00ff8c" stroke="#00ff8c"/><path d="M4328 1748l36 -21l-29 -19l-36 21zm161 13l35 -23l-29 -18l-36 22zm387 46l35 -27l-32 -17l-34 26zm130 25l35 -28l-32 -17l-35 27zm132 23l35 -29l-33 -17l-34 29zm511 117l34 -36l-35 -18l-34 36zm177 38l35 -39l-36 -18l-35 38z" fill="#00ff84" stroke="#00ff84"/><path d="M4299 1729l36 -21l-30 -18l-36 20zm65 -2l36 -21l-30 -18l-35 20zm160 11l36 -22l-30 -17l-35 21zm96 13l35 -23l-30 -17l-35 22zm97 11l35 -24l-31 -17l-35 24zm225 35l35 -27l-31 -16l-35 26zm297 63l34 -31l-33 -16l-34 30zm168 38l34 -33l-33 -17l-35 33zm172 37l34 -35l-34 -17l-35 34zm391 93l34 -41l-36 -18l-35 40z" fill="#00ff7c" stroke="#00ff7c"/><path d="M4269 1710l36 -20l-29 -19l-36 20zm66 -2l35 -20l-29 -18l-36 20zm160 12l35 -21l-30 -18l-35 22zm287 35l35 -25l-31 -16l-34 24zm259 49l35 -28l-33 -16l-34 27zm132 22l34 -29l-32 -17l-35 29zm167 37l34 -31l-34 -17l-34 31zm379 91l34 -37l-35 -17l-35 36zm214 55l35 -40l-37 -19l-34 40z" fill="#00ff74" stroke="#00ff74"/><path d="M4240 1691l36 -20l-29 -18l-36 19zm160 15l35 -21l-29 -18l-36 21zm65 -3l35 -22l-30 -17l-35 21zm95 13l35 -22l-30 -17l-35 22zm95 12l35 -23l-30 -17l-35 23zm97 10l34 -24l-30 -16l-35 23zm127 25l35 -25l-31 -16l-35 25zm130 24l34 -27l-31 -16l-35 26zm131 22l35 -29l-33 -16l-34 28zm166 37l34 -31l-33 -16l-34 30zm204 54l34 -34l-34 -17l-34 33zm173 36l35 -36l-36 -18l-34 36zm214 54l34 -40l-36 -17l-34 38z" fill="#00ff70" stroke="#00ff70"/><path d="M5548 2543l36 -45l-37 -27l-36 44z" fill="#0048ff" stroke="#0048ff"/><path d="M5511 2515l36 -44l-36 -27l-36 43z" fill="#0054ff" stroke="#0054ff"/><path d="M5475 2487l36 -43l-36 -27l-36 43z" fill="#0060ff" stroke="#0060ff"/><path d="M5403 2433l36 -42l-35 -26l-36 41z" fill="#0074ff" stroke="#0074ff"/><path d="M5368 2406l36 -41l-36 -25l-36 40zm252 48l36 -45l-37 -25l-36 43z" fill="#0080ff" stroke="#0080ff"/><path d="M5297 2354l36 -39l-35 -25l-36 39zm250 47l36 -43l-36 -25l-36 42z" fill="#0094ff" stroke="#0094ff"/><path d="M5262 2329l36 -39l-35 -24l-36 38zm106 11l36 -40l-35 -25l-36 40z" fill="#00a0ff" stroke="#00a0ff"/><path d="M5159 2254l35 -36l-34 -24l-36 36zm496 87l35 -43l-36 -24l-36 42z" fill="#00bcff" stroke="#00bcff"/><path d="M5091 2207l35 -36l-33 -23l-36 35zm103 11l36 -37l-34 -23l-36 36zm246 42l35 -39l-35 -23l-35 38zm142 31l36 -41l-36 -23l-36 40zm145 31l35 -43l-37 -24l-35 43z" fill="#00d0ff" stroke="#00d0ff"/><path d="M4731 1963l35 -28l-31 -20l-36 27zm99 13l36 -30l-32 -20l-36 29zm929 174l35 -41l-37 -20l-34 39z" fill="#00ffd4" stroke="#00ffd4"/><path d="M4699 1942l36 -27l-32 -20l-35 27zm99 13l36 -29l-32 -19l-36 28zm100 11l35 -29l-32 -20l-35 29zm370 66l35 -34l-34 -19l-35 33zm138 26l35 -35l-35 -20l-35 35zm317 70l34 -39l-36 -21l-34 39z" fill="#00ffcc" stroke="#00ffcc"/><path d="M4668 1922l35 -27l-31 -20l-35 27zm98 13l36 -28l-32 -20l-35 28zm100 11l35 -29l-32 -19l-35 28zm233 39l35 -32l-33 -19l-35 31zm135 27l35 -33l-33 -19l-35 32zm137 26l35 -35l-34 -19l-35 34zm316 69l34 -39l-35 -20l-35 39z" fill="#00ffc4" stroke="#00ffc4"/><path d="M4637 1902l35 -27l-31 -19l-35 25zm98 13l35 -28l-31 -19l-36 27zm99 11l35 -28l-32 -19l-35 28zm232 39l35 -31l-32 -19l-36 31zm409 78l35 -36l-35 -20l-34 36z" fill="#00ffbc" stroke="#00ffbc"/><path d="M4305 1690l36 -20l-29 -18l-36 19zm65 -2l36 -21l-30 -17l-35 20zm255 23l35 -23l-30 -16l-35 22zm223 36l35 -25l-31 -16l-35 24zm129 23l35 -26l-32 -16l-34 26zm296 59l34 -30l-33 -16l-34 30zm203 53l34 -33l-34 -16l-35 32zm172 36l34 -36l-35 -16l-34 34zm213 53l34 -38l-36 -18l-34 38z" fill="#00ff6c" stroke="#00ff6c"/><path d="M4276 1671l36 -19l-29 -18l-36 19zm65 -1l35 -20l-29 -17l-35 19zm159 11l35 -21l-29 -16l-36 20zm95 13l35 -22l-30 -17l-35 22zm95 11l35 -23l-30 -16l-35 22zm224 33l35 -26l-32 -15l-34 25zm494 110l34 -31l-34 -16l-34 31z" fill="#00ff64" stroke="#00ff64"/><path d="M5511 2444l36 -43l-36 -26l-36 42z" fill="#0078ff" stroke="#0078ff"/><path d="M5475 2417l36 -42l-36 -25l-36 41z" fill="#0084ff" stroke="#0084ff"/><path d="M5404 2365l36 -41l-36 -24l-36 40zm252 44l35 -43l-36 -25l-36 43z" fill="#0098ff" stroke="#0098ff"/><path d="M5333 2315l36 -40l-35 -24l-36 39zm250 43l35 -42l-36 -25l-35 42z" fill="#00acff" stroke="#00acff"/><path d="M5298 2290l36 -39l-35 -23l-36 38zm393 76l36 -44l-37 -24l-35 43z" fill="#00b4ff" stroke="#00b4ff"/><path d="M5263 2266l36 -38l-34 -24l-36 37zm248 42l35 -41l-35 -23l-36 40z" fill="#00c0ff" stroke="#00c0ff"/><path d="M5229 2241l36 -37l-35 -23l-36 37zm246 43l36 -40l-36 -23l-35 39zm143 32l36 -42l-36 -24l-36 41z" fill="#00c8ff" stroke="#00c8ff"/><path d="M5093 2148l35 -34l-33 -22l-36 34zm242 42l35 -37l-34 -22l-36 36z" fill="#00ecff" stroke="#00ecff"/><path d="M5059 2126l36 -34l-33 -22l-36 34zm241 41l36 -36l-35 -22l-35 36z" fill="#00f4ff" stroke="#00f4ff"/><path d="M5026 2104l36 -34l-34 -21l-35 33zm240 41l35 -36l-34 -21l-35 35z" fill="#00fcff" stroke="#00fcff"/><path d="M4993 2082l35 -33l-33 -21l-35 32zm102 10l35 -33l-33 -21l-35 32zm380 67l35 -38l-35 -21l-35 37z" fill="#00fff8" stroke="#00fff8"/><path d="M4312 1652l35 -19l-29 -17l-35 18zm64 -2l36 -20l-29 -16l-36 19zm254 22l35 -22l-30 -16l-35 21zm710 143l35 -30l-34 -16l-34 30zm628 154l33 -40l-36 -17l-34 38z" fill="#00ff5c" stroke="#00ff5c"/><path d="M5299 2228l36 -38l-35 -23l-35 37z" fill="#00d4ff" stroke="#00d4ff"/><path d="M5265 2204l35 -37l-34 -22l-36 36z" fill="#00dcff" stroke="#00dcff"/><path d="M5128 2114l36 -34l-34 -21l-35 33zm383 67l35 -38l-36 -22l-35 38z" fill="#00ffff" stroke="#00ffff"/><path d="M4435 1685l35 -21l-29 -17l-35 20zm95 14l35 -22l-30 -17l-35 21zm191 22l35 -23l-31 -16l-35 23zm96 9l35 -24l-31 -16l-35 24zm129 24l34 -26l-31 -16l-35 26zm162 38l34 -28l-32 -15l-34 27zm-32 -16l34 -27l-32 -16l-35 27zm164 37l34 -30l-33 -15l-34 29zm201 52l35 -32l-34 -16l-34 31zm172 35l34 -34l-34 -17l-34 34zm212 53l34 -38l-36 -17l-34 37z" fill="#00ff68" stroke="#00ff68"/><path d="M4406 1667l35 -20l-29 -17l-36 20zm64 -3l36 -20l-30 -17l-35 20zm95 13l35 -22l-30 -16l-35 21zm95 11l35 -22l-30 -16l-35 22zm126 26l35 -24l-31 -16l-34 24zm-30 -16l34 -24l-30 -15l-35 23zm127 24l34 -25l-31 -15l-34 24zm160 38l35 -27l-32 -15l-34 26zm-31 -16l34 -26l-32 -16l-34 26zm195 53l34 -29l-32 -16l-34 28zm-32 -17l34 -28l-33 -15l-34 27zm199 52l34 -31l-33 -16l-35 30zm205 51l34 -34l-35 -16l-34 33zm-35 -17l34 -33l-34 -16l-34 32zm245 69l34 -37l-36 -17l-34 36zm-36 -18l34 -36l-35 -17l-34 36zm251 70l34 -40l-37 -18l-33 40z" fill="#00ff60" stroke="#00ff60"/><path d="M4347 1633l36 -19l-29 -17l-36 19zm65 -3l35 -19l-29 -16l-35 19zm94 14l35 -21l-30 -15l-35 19zm189 22l34 -22l-30 -16l-34 22zm383 67l34 -26l-32 -15l-34 26zm196 50l34 -29l-33 -15l-34 29zm408 99l34 -35l-35 -16l-34 35zm213 51l34 -39l-37 -16l-33 37z" fill="#00ff54" stroke="#00ff54"/><path d="M4441 1647l35 -20l-29 -16l-35 19zm94 13l35 -21l-29 -16l-35 21zm65 -5l35 -21l-30 -15l-35 20zm125 27l35 -23l-31 -15l-34 22zm127 24l34 -24l-31 -16l-34 24zm-31 -16l34 -24l-30 -15l-35 23zm159 38l34 -26l-31 -15l-34 25zm-31 -16l34 -25l-31 -15l-35 25zm193 52l34 -27l-32 -15l-34 27zm-32 -15l34 -27l-32 -15l-34 26zm197 50l34 -30l-33 -15l-34 29zm203 50l34 -32l-34 -16l-34 32zm-34 -16l34 -32l-34 -16l-34 32zm242 67l34 -36l-36 -17l-34 35zm213 50l34 -38l-36 -18l-34 39z" fill="#00ff58" stroke="#00ff58"/><path d="M4383 1614l35 -19l-29 -16l-35 18zm158 9l34 -20l-29 -15l-35 20zm94 11l34 -21l-29 -15l-35 21zm379 68l34 -25l-31 -14l-34 24zm162 35l34 -28l-32 -14l-34 27zm199 48l33 -30l-33 -15l-34 29zm238 64l33 -34l-34 -15l-34 33zm210 49l33 -37l-35 -16l-34 36z" fill="#00ff4c" stroke="#00ff4c"/><path d="M4476 1627l35 -19l-29 -16l-35 19zm94 12l35 -20l-30 -16l-34 20zm95 11l34 -22l-30 -15l-34 21zm125 24l35 -23l-31 -15l-34 23zm-30 -15l34 -23l-30 -14l-35 22zm157 38l35 -25l-31 -14l-35 24zm-31 -15l35 -24l-31 -15l-35 23zm160 36l34 -26l-32 -15l-34 25zm195 50l34 -29l-32 -15l-34 28zm-32 -16l34 -28l-33 -15l-34 28zm233 65l34 -32l-34 -15l-34 31zm-34 -16l34 -31l-34 -15l-33 30zm239 65l34 -35l-35 -16l-33 34zm212 49l33 -37l-36 -17l-33 37z" fill="#00ff50" stroke="#00ff50"/><path d="M4447 1611l35 -19l-29 -16l-35 19zm64 -3l35 -20l-29 -15l-35 19zm94 11l35 -21l-30 -15l-35 20zm124 25l35 -22l-30 -15l-35 21zm-30 -16l35 -21l-30 -15l-35 21zm156 38l35 -23l-31 -14l-34 22zm-30 -15l34 -22l-31 -15l-34 22zm158 36l34 -24l-31 -15l-34 24zm161 35l34 -27l-32 -15l-34 27zm197 47l34 -29l-33 -15l-34 29zm237 64l34 -33l-34 -16l-34 33zm-34 -16l34 -33l-35 -15l-33 32zm243 64l34 -36l-36 -16l-33 35zm251 66l34 -40l-37 -17l-34 39z" fill="#00ff48" stroke="#00ff48"/><path d="M4418 1595l35 -19l-29 -16l-35 19zm157 8l35 -20l-30 -14l-34 19zm219 33l34 -22l-30 -14l-34 22zm158 36l34 -24l-31 -14l-34 24zm160 35l34 -27l-32 -14l-34 26zm196 47l34 -29l-33 -14l-34 28zm202 47l33 -32l-34 -15l-33 31zm242 63l33 -35l-35 -16l-34 34zm249 65l34 -39l-36 -17l-34 39z" fill="#00ff44" stroke="#00ff44"/><path d="M4482 1592l35 -19l-29 -15l-35 18zm64 -4l34 -19l-29 -15l-34 19zm123 25l35 -21l-30 -14l-34 20zm-29 -15l34 -20l-30 -14l-34 19zm124 24l34 -22l-30 -14l-34 21zm157 36l34 -24l-31 -14l-34 23zm-31 -15l34 -23l-31 -14l-34 23zm190 49l34 -26l-32 -14l-34 25zm-32 -15l34 -25l-31 -14l-34 25zm227 62l34 -28l-32 -15l-34 28zm-32 -15l34 -28l-33 -14l-34 27zm233 61l33 -31l-33 -15l-34 31zm240 62l34 -34l-35 -16l-34 34zm249 65l34 -39l-37 -16l-33 37z" fill="#00ff40" stroke="#00ff40"/><path d="M4453 1576l35 -18l-29 -16l-35 18zm281 31l34 -21l-30 -14l-34 20zm125 22l34 -23l-31 -14l-34 22zm158 34l34 -25l-31 -14l-34 24zm193 46l34 -27l-32 -14l-34 27zm232 61l34 -31l-34 -14l-34 30zm239 61l34 -34l-35 -15l-34 33zm248 63l33 -37l-36 -16l-34 37z" fill="#00ff3c" stroke="#00ff3c"/><path d="M4517 1573l34 -19l-29 -15l-34 19zm93 10l34 -19l-29 -15l-35 20zm-30 -14l35 -20l-29 -14l-35 19zm124 23l34 -20l-30 -14l-34 20zm124 22l34 -22l-30 -13l-34 21zm158 34l34 -24l-31 -13l-34 23zm192 47l34 -27l-32 -14l-34 26zm-32 -15l34 -26l-32 -13l-34 25zm262 75l34 -30l-33 -14l-34 29zm-33 -15l34 -29l-33 -15l-34 29zm271 75l34 -33l-34 -15l-34 33zm-34 -15l34 -33l-35 -15l-33 32zm280 78l34 -37l-36 -16l-34 36z" fill="#00ff38" stroke="#00ff38"/><path d="M4488 1558l34 -19l-29 -14l-34 17zm186 20l34 -20l-30 -14l-34 20zm124 22l34 -21l-30 -14l-34 21zm157 34l34 -23l-31 -14l-34 23zm159 32l34 -25l-32 -14l-34 25zm228 59l34 -29l-33 -13l-34 28zm236 59l33 -32l-34 -14l-34 31zm278 77l34 -36l-36 -16l-33 36z" fill="#00ff34" stroke="#00ff34"/><path d="M4551 1554l35 -19l-30 -14l-34 18zm-29 -15l34 -18l-28 -14l-35 18zm122 25l34 -20l-29 -14l-34 19zm124 22l34 -21l-30 -13l-34 20zm-30 -14l34 -20l-30 -14l-34 20zm186 48l34 -23l-31 -13l-34 22zm-31 -14l34 -22l-31 -13l-34 21zm189 46l34 -25l-31 -13l-34 24zm-31 -14l34 -24l-32 -13l-33 23zm258 73l34 -28l-33 -14l-33 27zm-32 -15l33 -27l-32 -14l-34 27zm266 73l34 -31l-34 -15l-34 31zm278 76l33 -36l-35 -15l-34 35zm-36 -16l34 -35l-35 -16l-34 35zm287 78l34 -39l-37 -16l-34 38z" fill="#00ff30" stroke="#00ff30"/><path d="M4615 1549l34 -19l-29 -13l-34 18zm93 9l34 -20l-29 -13l-35 19zm154 34l34 -21l-30 -14l-34 22zm158 32l33 -23l-31 -13l-33 23zm224 58l34 -27l-33 -13l-33 26zm265 72l34 -31l-34 -14l-33 30zm-33 -15l33 -30l-33 -14l-34 30zm274 74l34 -35l-35 -14l-34 33zm285 77l34 -38l-37 -17l-33 38z" fill="#00ff2c" stroke="#00ff2c"/><path d="M4586 1535l34 -18l-29 -14l-35 18zm-30 -14l35 -18l-29 -13l-34 17zm122 23l35 -19l-30 -13l-34 18zm154 35l34 -22l-30 -13l-34 21zm-30 -14l34 -21l-30 -12l-34 20zm187 46l33 -23l-31 -13l-33 22zm-31 -14l33 -22l-30 -13l-34 22zm254 71l33 -26l-32 -13l-33 25zm-32 -14l33 -25l-32 -13l-33 25zm-32 -13l33 -25l-31 -13l-34 24zm294 84l34 -30l-34 -13l-33 29zm-33 -14l33 -29l-33 -14l-33 28zm306 86l34 -33l-35 -15l-34 33zm284 76l33 -38l-36 -15l-34 37z" fill="#00ff28" stroke="#00ff28"/><path d="M4649 1530l34 -18l-29 -13l-34 18zm123 22l34 -20l-30 -13l-34 19zm155 32l34 -22l-31 -13l-34 22zm189 43l34 -24l-32 -13l-33 24zm260 69l33 -28l-33 -13l-33 28zm304 86l34 -33l-35 -14l-33 32zm-34 -15l33 -32l-34 -15l-34 32zm316 90l34 -37l-36 -16l-34 37z" fill="#00ff24" stroke="#00ff24"/><path d="M4620 1517l34 -18l-29 -13l-34 17zm-29 -14l34 -17l-29 -13l-34 17zm151 35l34 -19l-30 -13l-33 19zm-29 -13l33 -19l-29 -13l-34 19zm183 46l34 -22l-30 -12l-34 20zm-30 -14l34 -20l-30 -13l-34 20zm219 57l33 -24l-31 -13l-34 24zm-32 -13l34 -24l-31 -12l-34 23zm290 82l33 -28l-32 -13l-34 27zm-33 -14l34 -27l-33 -13l-33 26zm301 83l34 -32l-35 -13l-33 31zm-34 -14l33 -31l-33 -14l-34 30zm349 103l34 -37l-36 -15l-34 36zm-36 -16l34 -36l-36 -15l-34 35z" fill="#00ff20" stroke="#00ff20"/><path d="M4683 1512l34 -19l-29 -12l-34 18zm153 32l34 -20l-31 -12l-33 20zm-30 -12l33 -20l-29 -13l-34 20zm216 56l34 -23l-31 -13l-34 23zm-31 -13l34 -23l-31 -12l-33 22zm287 80l33 -26l-32 -13l-34 26zm-33 -13l34 -26l-32 -13l-34 26zm298 81l34 -30l-34 -14l-34 30zm311 86l34 -35l-36 -15l-33 35z" fill="#00ff1c" stroke="#00ff1c"/><path d="M4654 1499l34 -18l-30 -13l-33 18zm-29 -13l33 -18l-28 -12l-34 17zm151 33l34 -20l-30 -12l-34 19zm-30 -13l34 -19l-29 -12l-34 18zm215 56l33 -22l-30 -12l-34 21zm-31 -13l34 -21l-31 -12l-33 21zm-30 -12l33 -21l-30 -12l-33 20zm313 92l34 -26l-32 -12l-34 25zm-32 -13l34 -25l-32 -12l-33 24zm-31 -13l33 -24l-31 -13l-34 24zm359 106l34 -30l-34 -13l-33 29zm-33 -14l33 -29l-33 -13l-34 29zm343 99l33 -35l-35 -14l-33 33zm-35 -16l33 -33l-35 -15l-33 34zm322 90l33 -39l-37 -16l-33 39z" fill="#00ff18" stroke="#00ff18"/><path d="M4717 1493l34 -18l-30 -12l-33 18zm153 31l33 -20l-30 -12l-34 20zm248 66l34 -24l-32 -12l-33 23zm-31 -13l33 -23l-31 -12l-33 23zm355 105l34 -29l-33 -13l-34 28zm-33 -14l34 -28l-33 -13l-34 28zm340 96l33 -34l-35 -14l-33 33zm320 88l33 -39l-36 -15l-34 37z" fill="#00ff14" stroke="#00ff14"/><path d="M4688 1481l33 -18l-29 -12l-34 17zm-30 -13l34 -17l-29 -12l-33 17zm181 44l34 -20l-30 -12l-33 19zm-29 -13l33 -19l-29 -11l-34 18zm-30 -12l34 -18l-30 -12l-33 18zm276 78l33 -23l-31 -12l-33 22zm-31 -13l33 -22l-30 -11l-34 21zm-31 -12l34 -21l-31 -12l-33 21zm382 115l34 -28l-33 -12l-33 27zm-32 -13l33 -27l-32 -12l-34 26zm-33 -13l34 -26l-33 -13l-33 26zm403 120l33 -33l-35 -13l-33 32zm-35 -14l33 -32l-34 -14l-33 31zm353 100l34 -37l-37 -15l-33 37zm-36 -15l33 -37l-36 -15l-33 36z" fill="#00ff10" stroke="#00ff10"/><path d="M4751 1475l33 -18l-29 -12l-34 18zm-30 -12l34 -18l-29 -11l-34 17zm243 65l33 -21l-30 -11l-34 20zm-31 -12l34 -20l-31 -12l-33 20zm346 100l33 -26l-32 -12l-33 25zm-32 -13l33 -25l-32 -12l-33 25zm398 117l33 -31l-34 -13l-34 31zm-35 -13l34 -31l-34 -13l-33 30zm350 97l33 -36l-36 -15l-33 36z" fill="#00ff0c" stroke="#00ff0c"/><path d="M4692 1451l34 -17l-29 -11l-34 16z" fill="#00fc08" stroke="#00fc08"/><path d="M4903 1504l33 -20l-30 -11l-33 19zm-30 -12l33 -19l-30 -11l-33 18zm-30 -12l33 -18l-29 -12l-33 19zm372 111l33 -25l-32 -11l-33 24zm-32 -12l33 -24l-31 -12l-33 23zm-31 -13l33 -23l-31 -12l-34 23zm-32 -12l34 -23l-32 -11l-33 22zm-31 -12l33 -22l-31 -11l-33 21zm488 151l33 -30l-34 -13l-33 29zm-34 -14l33 -29l-34 -13l-33 29zm-34 -13l33 -29l-33 -12l-33 28zm415 123l33 -36l-36 -14l-33 35zm-36 -15l33 -35l-35 -14l-34 34z" fill="#00ff08" stroke="#00ff08"/><path d="M4814 1469l33 -19l-30 -11l-33 18zm244 61l33 -21l-30 -11l-33 21zm-30 -11l33 -21l-31 -11l-33 20zm-31 -12l33 -20l-30 -11l-33 20zm479 146l33 -28l-33 -12l-33 27zm-33 -13l33 -27l-33 -13l-33 27zm409 119l34 -34l-36 -14l-33 34z" fill="#00ff04" stroke="#00ff04"/><path d="M4784 1457l33 -18l-29 -11l-33 17zm-29 -12l33 -17l-29 -11l-33 17z" fill="#00fc04" stroke="#00fc04"/><path d="M4726 1434l33 -17l-29 -11l-33 17zm121 16l33 -17l-30 -11l-33 17z" fill="#00fc00" stroke="#00fc00"/><path d="M4967 1496l33 -20l-30 -11l-34 19zm-31 -12l34 -19l-31 -11l-33 19zm-30 -11l33 -19l-29 -11l-34 19zm-30 -11l34 -19l-30 -10l-33 17zm534 165l33 -27l-33 -12l-33 27zm-33 -12l33 -27l-32 -11l-33 26zm-32 -12l33 -26l-33 -12l-33 25zm-33 -13l33 -25l-32 -11l-33 24zm-32 -12l33 -24l-32 -12l-33 24zm537 167l33 -34l-35 -13l-33 32zm-35 -15l33 -32l-35 -14l-33 32zm-35 -14l33 -32l-34 -13l-34 32zm392 113l34 -38l-37 -15l-34 37z" fill="#00ff00" stroke="#00ff00"/><path d="M4817 1439l33 -17l-29 -11l-33 17zm-29 -11l33 -17l-29 -10l-33 16zm-29 -11l33 -16l-29 -11l-33 16z" fill="#04fc00" stroke="#04fc00"/><path d="M5248 1566l33 -24l-31 -11l-34 24zm-32 -11l34 -24l-32 -11l-33 23zm-31 -12l33 -23l-31 -11l-33 22zm-31 -12l33 -22l-32 -11l-33 22zm558 172l34 -32l-35 -13l-33 31zm390 110l34 -37l-37 -15l-33 37z" fill="#04ff00" stroke="#04ff00"/><path d="M5122 1520l33 -22l-30 -11l-34 22zm-31 -11l34 -22l-31 -10l-33 21zm-30 -11l33 -21l-31 -11l-33 21zm-31 -11l33 -21l-30 -10l-33 20zm-30 -11l33 -20l-31 -10l-32 19zm-30 -11l32 -19l-30 -11l-33 19zm708 224l33 -31l-34 -12l-33 30zm-34 -13l33 -30l-34 -13l-33 30zm-34 -13l33 -30l-34 -12l-33 29zm-34 -13l33 -29l-34 -12l-33 28zm490 148l33 -37l-37 -15l-33 37zm-37 -15l33 -37l-36 -14l-33 36z" fill="#08ff00" stroke="#08ff00"/><path d="M4939 1454l33 -19l-29 -10l-33 18zm-29 -11l33 -18l-30 -10l-33 18zm-30 -10l33 -18l-30 -10l-33 17zm-30 -11l33 -17l-29 -10l-33 16z" fill="#08fc00" stroke="#08fc00"/><path d="M4821 1411l33 -16l-29 -10l-33 16zm-29 -10l33 -16l-29 -10l-33 15z" fill="#0cf800" stroke="#0cf800"/><path d="M5542 1637l33 -28l-33 -12l-33 28zm-33 -12l33 -28l-33 -12l-33 28zm-33 -12l33 -28l-33 -11l-33 26zm-33 -13l33 -26l-33 -12l-33 26zm550 168l33 -36l-36 -14l-33 35z" fill="#0cff00" stroke="#0cff00"/><path d="M5410 1588l33 -26l-32 -11l-33 26zm-32 -11l33 -26l-33 -11l-33 25zm-33 -12l33 -25l-32 -11l-33 25zm-32 -11l33 -25l-32 -11l-33 24zm-32 -12l33 -24l-32 -10l-32 23zm-31 -11l32 -23l-31 -11l-33 23zm-32 -11l33 -23l-31 -10l-33 22zm-31 -11l33 -22l-32 -10l-33 21zm-32 -11l33 -21l-31 -11l-32 21zm-30 -11l32 -21l-30 -10l-33 21zm-31 -10l33 -21l-31 -10l-33 20zm-31 -11l33 -20l-30 -10l-33 20zm-30 -10l33 -20l-31 -9l-33 19zm924 297l33 -35l-36 -13l-33 34zm-36 -14l33 -34l-35 -14l-33 34zm-35 -14l33 -34l-36 -13l-33 33z" fill="#10ff00" stroke="#10ff00"/><path d="M5002 1446l33 -19l-30 -10l-33 18zm-30 -11l33 -18l-30 -10l-32 18zm-29 -10l32 -18l-29 -10l-33 18z" fill="#10fc00" stroke="#10fc00"/><path d="M4913 1415l33 -18l-30 -9l-33 17zm-30 -10l33 -17l-29 -10l-33 17zm-29 -10l33 -17l-29 -9l-33 16zm-29 -10l33 -16l-29 -10l-33 16z" fill="#10f800" stroke="#10f800"/><path d="M5850 1711l33 -33l-35 -13l-33 33zm-35 -13l33 -33l-35 -13l-33 32z" fill="#14ff00" stroke="#14ff00"/><path d="M5780 1684l33 -32l-34 -12l-33 31zm-34 -13l33 -31l-35 -12l-33 30zm-35 -13l33 -30l-34 -12l-33 30zm-34 -12l33 -30l-34 -12l-33 29zm-34 -13l33 -29l-34 -12l-33 29zm530 158l33 -38l-37 -15l-33 38z" fill="#18ff00" stroke="#18ff00"/><path d="M5609 1621l33 -29l-34 -11l-33 28zm-34 -12l33 -28l-33 -12l-33 28zm-33 -12l33 -28l-33 -11l-33 27zm-33 -12l33 -27l-33 -11l-33 27zm-33 -11l33 -27l-33 -10l-33 25zm-33 -12l33 -25l-33 -11l-32 25zm-32 -11l32 -25l-32 -10l-33 24zm-33 -11l33 -24l-32 -11l-33 24zm-32 -11l33 -24l-32 -10l-33 23zm-32 -11l33 -23l-32 -10l-33 23zm-32 -10l33 -23l-31 -10l-33 22zm-31 -11l33 -22l-32 -10l-32 22zm-31 -10l32 -22l-31 -10l-33 22zm-32 -10l33 -22l-31 -9l-33 20zm-31 -11l33 -20l-31 -10l-32 20zm-30 -10l32 -20l-30 -9l-33 19zm1009 320l33 -38l-37 -14l-33 37z" fill="#1cff00" stroke="#1cff00"/><path d="M5096 1446l33 -19l-31 -10l-32 19z" fill="#1cfc00" stroke="#1cfc00"/><path d="M5066 1436l32 -19l-30 -9l-33 19zm-31 -9l33 -19l-30 -9l-33 18zm-30 -10l33 -18l-30 -9l-33 17z" fill="#18fc00" stroke="#18fc00"/><path d="M4975 1407l33 -17l-30 -10l-32 17zm-29 -10l32 -17l-29 -9l-33 17zm-30 -9l33 -17l-30 -9l-32 16z" fill="#18f800" stroke="#18f800"/><path d="M4887 1378l32 -16l-29 -9l-32 16zm-29 -9l32 -16l-29 -9l-32 15z" fill="#18f400" stroke="#18f400"/><path d="M6099 1761l33 -37l-37 -14l-33 36zm-37 -15l33 -36l-36 -13l-33 35zm-36 -14l33 -35l-36 -13l-33 34z" fill="#20ff00" stroke="#20ff00"/><path d="M5990 1718l33 -34l-36 -13l-33 34zm-36 -13l33 -34l-35 -13l-33 33z" fill="#24ff00" stroke="#24ff00"/><path d="M5919 1691l33 -33l-36 -13l-33 33zm-36 -13l33 -33l-35 -12l-33 32zm-35 -13l33 -32l-35 -12l-33 31zm-35 -13l33 -31l-35 -12l-32 31zm-34 -12l32 -31l-34 -11l-33 30zm-35 -12l33 -30l-34 -12l-33 30zm-333 -112l33 -25l-32 -9l-33 23zm-32 -11l33 -23l-32 -10l-33 23zm-32 -10l33 -23l-32 -10l-33 23zm-32 -10l33 -23l-32 -9l-32 22zm-31 -10l32 -22l-31 -9l-33 21zm-32 -10l33 -21l-31 -10l-33 21zm-31 -10l33 -21l-31 -9l-33 21z" fill="#28ff00" stroke="#28ff00"/><path d="M5710 1616l33 -30l-34 -11l-33 29zm-34 -12l33 -29l-34 -11l-33 28zm-34 -12l33 -28l-34 -11l-33 28zm-34 -11l33 -28l-33 -11l-33 27zm-33 -12l33 -27l-34 -10l-32 26zm-33 -11l32 -26l-33 -10l-32 25zm-33 -11l32 -25l-32 -11l-33 26zm-33 -10l33 -26l-33 -10l-33 25zm-33 -11l33 -25l-32 -10l-33 25z" fill="#2cff00" stroke="#2cff00"/><path d="M5190 1446l33 -21l-31 -9l-33 20zm-31 -10l33 -20l-31 -9l-32 20zm-30 -9l32 -20l-30 -9l-33 19zm-31 -10l33 -19l-31 -8l-32 18z" fill="#24fc00" stroke="#24fc00"/><path d="M5068 1408l32 -18l-30 -9l-32 18zm-30 -9l32 -18l-30 -9l-32 18zm-30 -9l32 -18l-29 -8l-33 16zm-30 -10l33 -16l-30 -9l-32 16z" fill="#20f800" stroke="#20f800"/><path d="M4949 1371l32 -16l-29 -9l-33 16zm-30 -9l33 -16l-29 -8l-33 15zm-29 -9l33 -15l-29 -9l-33 15z" fill="#1cf400" stroke="#1cf400"/><path d="M6206 1753l33 -38l-37 -14l-33 37zm-921 -309l32 -21l-31 -9l-32 20z" fill="#30ff00" stroke="#30ff00"/><path d="M6169 1738l33 -37l-37 -13l-33 36zm-37 -14l33 -36l-37 -13l-33 35zm-784 -262l32 -22l-31 -9l-33 22zm-32 -9l33 -22l-32 -8l-32 21z" fill="#34ff00" stroke="#34ff00"/><path d="M6095 1710l33 -35l-36 -13l-33 35zm-36 -13l33 -35l-36 -13l-33 35zm-36 -13l33 -35l-36 -12l-33 34zm-36 -13l33 -34l-36 -12l-32 33zm-35 -13l32 -33l-35 -12l-33 32zm-411 -136l33 -26l-33 -10l-32 25zm-32 -11l32 -25l-32 -9l-33 24zm-33 -10l33 -24l-33 -9l-32 23zm-32 -10l32 -23l-32 -10l-32 24zm-32 -9l32 -24l-32 -9l-32 23zm-32 -10l32 -23l-32 -9l-32 22z" fill="#38ff00" stroke="#38ff00"/><path d="M5916 1645l33 -32l-35 -12l-33 32zm-35 -12l33 -32l-35 -11l-33 31zm-35 -12l33 -31l-35 -11l-33 30zm-35 -12l33 -30l-34 -11l-33 30zm-34 -11l33 -30l-35 -11l-32 29zm-34 -12l32 -29l-34 -11l-32 29zm-34 -11l32 -29l-34 -10l-32 28zm-34 -11l32 -28l-33 -10l-33 27zm-34 -11l33 -27l-34 -10l-32 26zm-33 -11l32 -26l-33 -10l-33 26zm-34 -10l33 -26l-33 -10l-33 26z" fill="#3cff00" stroke="#3cff00"/><path d="M5254 1434l32 -20l-31 -9l-32 20zm-31 -9l32 -20l-31 -8l-32 19zm-31 -9l32 -19l-31 -9l-32 19z" fill="#30fc00" stroke="#30fc00"/><path d="M5161 1407l32 -19l-30 -8l-32 18zm-30 -9l32 -18l-30 -8l-33 18z" fill="#2cf800" stroke="#2cf800"/><path d="M5100 1390l33 -18l-30 -9l-33 18zm-30 -9l33 -18l-30 -8l-33 17z" fill="#28f800" stroke="#28f800"/><path d="M5040 1372l33 -17l-30 -8l-32 17z" fill="#28f400" stroke="#28f400"/><path d="M5011 1364l32 -17l-30 -8l-32 16zm-30 -9l32 -16l-29 -8l-32 15zm-29 -9l32 -15l-29 -8l-32 15z" fill="#24f400" stroke="#24f400"/><path d="M4923 1338l32 -15l-29 -8l-32 14z" fill="#20f000" stroke="#20f000"/><path d="M6239 1715l32 -37l-37 -13l-32 36zm-37 -14l32 -36l-36 -13l-33 36zm-562 -185l33 -27l-34 -9l-32 26zm-33 -10l32 -26l-33 -9l-32 25zm-33 -10l32 -25l-33 -9l-32 24zm-33 -10l32 -24l-32 -9l-32 24zm-32 -9l32 -24l-33 -9l-32 24z" fill="#48ff00" stroke="#48ff00"/><path d="M6165 1688l33 -36l-37 -12l-33 35zm-37 -13l33 -35l-36 -12l-33 34zm-36 -13l33 -34l-36 -12l-33 33zm-351 -116l33 -28l-34 -10l-33 28zm-34 -10l33 -28l-34 -9l-32 27zm-33 -10l32 -27l-33 -10l-33 27zm-230 -99l32 -22l-32 -8l-32 21z" fill="#4cff00" stroke="#4cff00"/><path d="M6056 1649l33 -33l-36 -12l-33 33zm-36 -12l33 -33l-36 -12l-33 33zm-36 -12l33 -33l-35 -11l-33 32zm-35 -12l33 -32l-36 -11l-32 31zm-35 -12l32 -31l-35 -11l-32 31zm-35 -11l32 -31l-34 -10l-33 30zm-35 -11l33 -30l-35 -11l-32 30zm-34 -11l32 -30l-34 -10l-33 29zm-35 -11l33 -29l-34 -10l-33 28zm-267 -113l33 -23l-33 -8l-32 22zm-32 -9l32 -22l-32 -8l-32 22z" fill="#50ff00" stroke="#50ff00"/><path d="M5476 1468l32 -24l-32 -9l-32 23zm-32 -10l32 -23l-32 -8l-32 22z" fill="#44ff00" stroke="#44ff00"/><path d="M5412 1449l32 -22l-32 -9l-32 22zm-32 -9l32 -22l-31 -8l-32 21z" fill="#40ff00" stroke="#40ff00"/><path d="M5349 1431l32 -21l-32 -8l-32 21z" fill="#40fc00" stroke="#40fc00"/><path d="M5317 1423l32 -21l-31 -8l-32 20zm-31 -9l32 -20l-31 -8l-32 19z" fill="#3cfc00" stroke="#3cfc00"/><path d="M5255 1405l32 -19l-31 -8l-32 19z" fill="#38fc00" stroke="#38fc00"/><path d="M5224 1397l32 -19l-30 -8l-33 18z" fill="#38f800" stroke="#38f800"/><path d="M5193 1388l33 -18l-31 -8l-32 18zm-30 -8l32 -18l-30 -8l-32 18z" fill="#34f800" stroke="#34f800"/><path d="M5133 1372l32 -18l-30 -8l-32 17zm-30 -9l32 -17l-30 -7l-32 16z" fill="#30f400" stroke="#30f400"/><path d="M5073 1355l32 -16l-30 -8l-32 16zm-30 -8l32 -16l-29 -8l-33 16z" fill="#2cf400" stroke="#2cf400"/><path d="M5013 1339l33 -16l-30 -7l-32 15zm-29 -8l32 -15l-29 -8l-32 15zm-29 -8l32 -15l-29 -7l-32 14z" fill="#28f000" stroke="#28f000"/><path d="M6271 1678l33 -37l-37 -12l-33 36zm-37 -13l33 -36l-37 -12l-32 35zm-36 -13l32 -35l-36 -12l-33 35zm-37 -12l33 -35l-37 -11l-32 34zm-36 -12l32 -34l-36 -12l-32 34zm-108 -36l32 -32l-35 -10l-32 31zm-35 -11l32 -31l-35 -11l-33 31zm-36 -11l33 -31l-35 -10l-33 30zm-35 -11l33 -30l-35 -10l-32 30zm-34 -10l32 -30l-35 -9l-32 28zm-35 -11l32 -28l-34 -10l-32 28zm-34 -10l32 -28l-34 -9l-32 27zm-202 -91l32 -23l-33 -8l-32 23zm-33 -8l32 -23l-33 -8l-31 23z" fill="#60ff00" stroke="#60ff00"/><path d="M6089 1616l32 -34l-36 -11l-32 33zm-36 -12l32 -33l-36 -11l-32 32zm-415 -158l32 -24l-32 -8l-32 23z" fill="#64ff00" stroke="#64ff00"/><path d="M5774 1518l32 -27l-34 -10l-32 27zm-34 -10l32 -27l-34 -9l-32 27zm-34 -9l32 -27l-33 -9l-32 26zm-165 -78l31 -23l-32 -7l-32 22z" fill="#5cff00" stroke="#5cff00"/><path d="M5673 1489l32 -26l-33 -8l-33 25zm-34 -9l33 -25l-34 -9l-32 25zm-33 -9l32 -25l-32 -9l-33 25z" fill="#58ff00" stroke="#58ff00"/><path d="M5573 1462l33 -25l-33 -8l-32 24zm-32 -9l32 -24l-32 -8l-33 23z" fill="#54ff00" stroke="#54ff00"/><path d="M5412 1418l32 -21l-31 -8l-32 21z" fill="#4cfc00" stroke="#4cfc00"/><path d="M5381 1410l32 -21l-32 -8l-32 21zm-32 -8l32 -21l-31 -7l-32 20z" fill="#48fc00" stroke="#48fc00"/><path d="M5318 1394l32 -20l-31 -8l-32 20z" fill="#44f800" stroke="#44f800"/><path d="M5287 1386l32 -20l-31 -7l-32 19zm-31 -8l32 -19l-30 -8l-32 19z" fill="#40f800" stroke="#40f800"/><path d="M5226 1370l32 -19l-31 -7l-32 18z" fill="#3cf800" stroke="#3cf800"/><path d="M5195 1362l32 -18l-30 -7l-32 17z" fill="#3cf400" stroke="#3cf400"/><path d="M5165 1354l32 -17l-30 -7l-32 16zm-30 -8l32 -16l-30 -8l-32 17z" fill="#38f400" stroke="#38f400"/><path d="M5105 1339l32 -17l-30 -7l-32 16z" fill="#34f000" stroke="#34f000"/><path d="M5075 1331l32 -16l-30 -7l-31 15zm-29 -8l31 -15l-29 -7l-32 15z" fill="#30f000" stroke="#30f000"/><path d="M5016 1316l32 -15l-29 -7l-32 14z" fill="#2cf000" stroke="#2cf000"/><path d="M4987 1308l32 -14l-29 -7l-32 14z" fill="#2cec00" stroke="#2cec00"/><path d="M6304 1641l33 -36l-38 -11l-32 35zm-37 -12l32 -35l-36 -12l-33 35zm-37 -12l33 -35l-37 -11l-32 34zm-36 -12l32 -34l-37 -11l-32 34zm-37 -11l32 -34l-36 -11l-32 33zm-36 -12l32 -33l-36 -10l-32 32zm-36 -11l32 -32l-35 -10l-33 31zm-36 -11l33 -31l-36 -10l-32 31zm-279 -114l32 -26l-33 -7l-32 25zm-33 -8l32 -25l-34 -8l-31 25z" fill="#78ff00" stroke="#78ff00"/><path d="M6014 1550l32 -31l-35 -10l-32 30zm-35 -11l32 -30l-35 -9l-32 29zm-35 -10l32 -29l-35 -10l-32 29zm-240 -99l31 -25l-33 -7l-32 24z" fill="#74ff00" stroke="#74ff00"/><path d="M5909 1519l32 -29l-35 -9l-32 29zm-35 -9l32 -29l-34 -9l-32 28zm-34 -10l32 -28l-34 -9l-32 28zm-34 -9l32 -28l-34 -8l-32 26zm-136 -69l32 -24l-33 -8l-31 24zm-32 -8l31 -24l-32 -7l-32 23z" fill="#70ff00" stroke="#70ff00"/><path d="M5772 1481l32 -26l-34 -9l-32 26z" fill="#6cff00" stroke="#6cff00"/><path d="M5738 1472l32 -26l-33 -8l-32 25zm-33 -9l32 -25l-33 -8l-32 25zm-33 -8l32 -25l-34 -8l-32 24z" fill="#68ff00" stroke="#68ff00"/><path d="M5508 1413l32 -22l-32 -8l-32 22z" fill="#5cfc00" stroke="#5cfc00"/><path d="M5476 1405l32 -22l-32 -7l-32 21z" fill="#58fc00" stroke="#58fc00"/><path d="M5444 1397l32 -21l-31 -7l-32 20z" fill="#54fc00" stroke="#54fc00"/><path d="M5413 1389l32 -20l-32 -8l-32 20z" fill="#54f800" stroke="#54f800"/><path d="M5381 1381l32 -20l-31 -7l-32 20z" fill="#50f800" stroke="#50f800"/><path d="M5350 1374l32 -20l-31 -7l-32 19zm-31 -8l32 -19l-31 -7l-32 19z" fill="#4cf800" stroke="#4cf800"/><path d="M5288 1359l32 -19l-31 -7l-31 18z" fill="#48f400" stroke="#48f400"/><path d="M5258 1351l31 -18l-30 -6l-32 17z" fill="#44f400" stroke="#44f400"/><path d="M5227 1344l32 -17l-30 -7l-32 17zm-30 -7l32 -17l-31 -7l-31 17z" fill="#40f400" stroke="#40f400"/><path d="M5167 1330l31 -17l-30 -7l-31 16z" fill="#3cf000" stroke="#3cf000"/><path d="M5137 1322l31 -16l-29 -6l-32 15zm-30 -7l32 -15l-30 -7l-32 15z" fill="#38f000" stroke="#38f000"/><path d="M5077 1308l32 -15l-29 -7l-32 15zm3 -22l31 -14l-29 -6l-31 14z" fill="#34ec00" stroke="#34ec00"/><path d="M5048 1301l32 -15l-29 -6l-32 14zm-29 -7l32 -14l-30 -7l-31 14z" fill="#30ec00" stroke="#30ec00"/><path d="M6337 1605l32 -35l-37 -11l-33 35zm-38 -11l33 -35l-37 -11l-32 34zm-361 -141l32 -28l-34 -7l-32 27zm-34 -8l32 -27l-34 -8l-32 26z" fill="#90ff00" stroke="#90ff00"/><path d="M6263 1582l32 -34l-37 -11l-32 34zm-37 -11l32 -34l-36 -10l-33 33zm-37 -11l33 -33l-37 -10l-32 32zm-36 -11l32 -32l-35 -10l-33 32zm-283 -113l32 -26l-34 -8l-32 26zm-34 -8l32 -26l-34 -7l-32 25z" fill="#8cff00" stroke="#8cff00"/><path d="M6117 1539l33 -32l-36 -9l-32 31zm-35 -10l32 -31l-36 -10l-32 31zm-36 -10l32 -31l-35 -9l-32 30zm-35 -10l32 -30l-35 -9l-32 30zm-209 -89l32 -25l-34 -7l-31 25z" fill="#88ff00" stroke="#88ff00"/><path d="M5976 1500l32 -30l-35 -8l-32 28zm-35 -10l32 -28l-35 -9l-32 28zm-172 -77l31 -25l-33 -7l-32 24z" fill="#84ff00" stroke="#84ff00"/><path d="M5906 1481l32 -28l-34 -8l-32 27zm-34 -9l32 -27l-34 -9l-32 27zm-34 -9l32 -27l-34 -8l-32 27zm-103 -58l32 -24l-33 -7l-32 24zm-33 -7l32 -24l-33 -7l-32 23z" fill="#80ff00" stroke="#80ff00"/><path d="M5804 1455l32 -27l-34 -8l-32 26z" fill="#7cff00" stroke="#7cff00"/><path d="M5605 1406l32 -23l-33 -7l-32 22z" fill="#6cfc00" stroke="#6cfc00"/><path d="M5572 1398l32 -22l-32 -7l-32 22z" fill="#68fc00" stroke="#68fc00"/><path d="M5540 1391l32 -22l-32 -7l-32 21zm-32 -8l32 -21l-32 -7l-32 21z" fill="#64fc00" stroke="#64fc00"/><path d="M5476 1376l32 -21l-32 -7l-31 21z" fill="#60f800" stroke="#60f800"/><path d="M5445 1369l31 -21l-31 -6l-32 19z" fill="#5cf800" stroke="#5cf800"/><path d="M5413 1361l32 -19l-31 -7l-32 19z" fill="#58f800" stroke="#58f800"/><path d="M5382 1354l32 -19l-31 -6l-32 18zm-31 -7l32 -18l-31 -7l-32 18z" fill="#54f400" stroke="#54f400"/><path d="M5320 1340l32 -18l-31 -6l-32 17z" fill="#50f400" stroke="#50f400"/><path d="M5289 1333l32 -17l-31 -7l-31 18z" fill="#4cf400" stroke="#4cf400"/><path d="M5259 1327l31 -18l-30 -6l-31 17z" fill="#48f000" stroke="#48f000"/><path d="M5229 1320l31 -17l-30 -6l-32 16zm-31 -7l32 -16l-30 -6l-32 15z" fill="#44f000" stroke="#44f000"/><path d="M5168 1306l32 -15l-30 -7l-31 16z" fill="#40f000" stroke="#40f000"/><path d="M5139 1300l31 -16l-29 -6l-32 15z" fill="#3cec00" stroke="#3cec00"/><path d="M5109 1293l32 -15l-30 -6l-31 14z" fill="#38ec00" stroke="#38ec00"/><path d="M5051 1280l31 -14l-29 -6l-32 13z" fill="#34e800" stroke="#34e800"/><path d="M6369 1570l32 -36l-37 -10l-32 35zm-37 -11l32 -35l-37 -10l-32 34zm-37 -11l32 -34l-37 -10l-32 33zm-290 -115l32 -27l-35 -8l-32 27zm-35 -8l32 -27l-35 -7l-31 27zm-105 -55l32 -24l-34 -6l-31 24z" fill="#a4ff00" stroke="#a4ff00"/><path d="M6258 1537l32 -33l-36 -10l-32 33zm-36 -10l32 -33l-37 -9l-32 32zm-37 -10l32 -32l-36 -9l-31 31zm-35 -10l31 -31l-35 -9l-32 31zm-214 -89l31 -27l-34 -7l-31 26z" fill="#a0ff00" stroke="#a0ff00"/><path d="M6114 1498l32 -31l-36 -9l-32 30zm-36 -10l32 -30l-35 -8l-32 29zm-176 -78l31 -26l-34 -7l-31 25z" fill="#9cff00" stroke="#9cff00"/><path d="M6043 1479l32 -29l-35 -9l-32 29zm-35 -9l32 -29l-35 -8l-32 29zm-140 -68l31 -25l-34 -7l-31 25zm-34 -7l31 -25l-33 -6l-32 24z" fill="#98ff00" stroke="#98ff00"/><path d="M5973 1462l32 -29l-35 -8l-32 28zm-173 -74l32 -24l-33 -7l-32 24z" fill="#94ff00" stroke="#94ff00"/><path d="M5669 1390l32 -23l-33 -6l-31 22z" fill="#7cfc00" stroke="#7cfc00"/><path d="M5637 1383l31 -22l-32 -7l-32 22z" fill="#78fc00" stroke="#78fc00"/><path d="M5604 1376l32 -22l-32 -7l-32 22z" fill="#74fc00" stroke="#74fc00"/><path d="M5572 1369l32 -22l-33 -6l-31 21z" fill="#70f800" stroke="#70f800"/><path d="M5540 1362l31 -21l-31 -6l-32 20z" fill="#6cf800" stroke="#6cf800"/><path d="M5508 1355l32 -20l-32 -6l-32 19z" fill="#68f800" stroke="#68f800"/><path d="M5476 1348l32 -19l-32 -7l-31 20z" fill="#64f800" stroke="#64f800"/><path d="M5445 1342l31 -20l-31 -6l-31 19z" fill="#60f400" stroke="#60f400"/><path d="M5414 1335l31 -19l-31 -6l-31 19zm-31 -6l31 -19l-31 -6l-31 18z" fill="#5cf400" stroke="#5cf400"/><path d="M5352 1322l31 -18l-31 -5l-31 17zm0 -23l32 -17l-31 -6l-31 17z" fill="#58f000" stroke="#58f000"/><path d="M5321 1316l31 -17l-30 -6l-32 16z" fill="#54f000" stroke="#54f000"/><path d="M5290 1309l32 -16l-30 -6l-32 16z" fill="#50f000" stroke="#50f000"/><path d="M5260 1303l32 -16l-31 -6l-31 16z" fill="#4cf000" stroke="#4cf000"/><path d="M5230 1297l31 -16l-29 -6l-32 16zm2 -22l31 -15l-30 -5l-31 15z" fill="#48ec00" stroke="#48ec00"/><path d="M5200 1291l32 -16l-30 -5l-32 14z" fill="#44ec00" stroke="#44ec00"/><path d="M5170 1284l32 -14l-30 -6l-31 14z" fill="#40ec00" stroke="#40ec00"/><path d="M5141 1278l31 -14l-29 -6l-32 14zm2 -20l31 -13l-29 -6l-32 14z" fill="#3ce800" stroke="#3ce800"/><path d="M5111 1272l32 -14l-30 -5l-31 13zm-29 -6l31 -13l-29 -6l-31 13z" fill="#38e800" stroke="#38e800"/><path d="M6401 1534l32 -34l-37 -10l-32 34zm-37 -10l32 -34l-37 -9l-32 33zm-37 -10l32 -33l-37 -10l-32 33zm-37 -10l32 -33l-36 -9l-32 32zm-219 -91l32 -28l-35 -7l-31 28zm-34 -7l31 -28l-35 -7l-31 27z" fill="#b8ff00" stroke="#b8ff00"/><path d="M6254 1494l32 -32l-37 -8l-32 31zm-37 -9l32 -31l-36 -9l-32 31zm-215 -87l31 -27l-34 -6l-32 26z" fill="#b4ff00" stroke="#b4ff00"/><path d="M6181 1476l32 -31l-36 -8l-31 30zm-35 -9l31 -30l-35 -8l-32 29zm-179 -76l32 -26l-34 -7l-32 26z" fill="#b0ff00" stroke="#b0ff00"/><path d="M6110 1458l32 -29l-35 -8l-32 29zm-177 -74l32 -26l-34 -6l-32 25z" fill="#acff00" stroke="#acff00"/><path d="M6075 1450l32 -29l-36 -8l-31 28zm-35 -9l31 -28l-34 -7l-32 27zm-141 -64l32 -25l-34 -6l-32 24z" fill="#a8ff00" stroke="#a8ff00"/><path d="M5767 1381l32 -24l-34 -6l-31 23z" fill="#90fc00" stroke="#90fc00"/><path d="M5734 1374l31 -23l-32 -6l-32 22z" fill="#8cfc00" stroke="#8cfc00"/><path d="M5701 1367l32 -22l-33 -7l-32 23z" fill="#88fc00" stroke="#88fc00"/><path d="M5668 1361l32 -23l-33 -6l-31 22z" fill="#84fc00" stroke="#84fc00"/><path d="M5636 1354l31 -22l-32 -6l-31 21z" fill="#80f800" stroke="#80f800"/><path d="M5604 1347l31 -21l-32 -5l-32 20z" fill="#7cf800" stroke="#7cf800"/><path d="M5571 1341l32 -20l-32 -6l-31 20z" fill="#74f800" stroke="#74f800"/><path d="M5540 1335l31 -20l-32 -6l-31 20zm-1 -26l32 -19l-32 -5l-31 19z" fill="#74f400" stroke="#74f400"/><path d="M5508 1329l31 -20l-31 -5l-32 18z" fill="#70f400" stroke="#70f400"/><path d="M5476 1322l32 -18l-31 -6l-32 18z" fill="#68f400" stroke="#68f400"/><path d="M5445 1316l32 -18l-32 -6l-31 18z" fill="#64f000" stroke="#64f000"/><path d="M5414 1310l31 -18l-31 -5l-31 17z" fill="#60f000" stroke="#60f000"/><path d="M5383 1304l31 -17l-30 -5l-32 17z" fill="#5cf000" stroke="#5cf000"/><path d="M5322 1293l31 -17l-30 -5l-31 16z" fill="#54ec00" stroke="#54ec00"/><path d="M5292 1287l31 -16l-30 -5l-32 15z" fill="#50ec00" stroke="#50ec00"/><path d="M5261 1281l32 -15l-30 -6l-31 15z" fill="#4cec00" stroke="#4cec00"/><path d="M5202 1270l31 -15l-30 -5l-31 14z" fill="#44e800" stroke="#44e800"/><path d="M5172 1264l31 -14l-29 -5l-31 13z" fill="#40e800" stroke="#40e800"/><path d="M5113 1253l32 -14l-29 -5l-32 13z" fill="#38e400" stroke="#38e400"/><path d="M6433 1500l32 -34l-37 -10l-32 34zm-37 -10l32 -34l-37 -8l-32 33zm-223 -90l32 -29l-35 -7l-32 28zm-108 -55l31 -26l-35 -5l-31 25z" fill="#d0ff00" stroke="#d0ff00"/><path d="M6359 1481l32 -33l-37 -9l-32 32zm-37 -10l32 -32l-37 -8l-31 31zm-184 -79l32 -28l-36 -6l-31 27z" fill="#ccff00" stroke="#ccff00"/><path d="M6286 1462l31 -31l-36 -8l-32 31zm-37 -8l32 -31l-36 -8l-32 30zm-146 -69l31 -27l-35 -7l-31 27zm-35 -7l31 -27l-34 -6l-32 26z" fill="#c8ff00" stroke="#c8ff00"/><path d="M6213 1445l32 -30l-36 -8l-32 30z" fill="#c4ff00" stroke="#c4ff00"/><path d="M6177 1437l32 -30l-36 -7l-31 29zm-35 -8l31 -29l-35 -8l-31 29zm-109 -58l32 -26l-35 -6l-31 26zm-34 -6l31 -26l-34 -6l-31 25z" fill="#c0ff00" stroke="#c0ff00"/><path d="M6107 1421l31 -29l-35 -7l-32 28zm-142 -63l31 -25l-34 -5l-31 24z" fill="#bcff00" stroke="#bcff00"/><path d="M5832 1364l31 -24l-33 -6l-31 23z" fill="#a0fc00" stroke="#a0fc00"/><path d="M5799 1357l31 -23l-33 -6l-32 23z" fill="#9cfc00" stroke="#9cfc00"/><path d="M5765 1351l32 -23l-33 -6l-31 23z" fill="#98fc00" stroke="#98fc00"/><path d="M5733 1345l31 -23l-33 -5l-31 21z" fill="#90f800" stroke="#90f800"/><path d="M5700 1338l31 -21l-32 -6l-32 21z" fill="#8cf800" stroke="#8cf800"/><path d="M5667 1332l32 -21l-33 -5l-31 20z" fill="#88f800" stroke="#88f800"/><path d="M5635 1326l31 -20l-32 -5l-31 20z" fill="#84f400" stroke="#84f400"/><path d="M5603 1321l31 -20l-32 -6l-31 20z" fill="#80f400" stroke="#80f400"/><path d="M5571 1315l31 -20l-31 -5l-32 19z" fill="#7cf400" stroke="#7cf400"/><path d="M5508 1304l31 -19l-31 -5l-31 18z" fill="#70f000" stroke="#70f000"/><path d="M5477 1298l31 -18l-31 -5l-32 17z" fill="#6cf000" stroke="#6cf000"/><path d="M5445 1292l32 -17l-31 -5l-32 17z" fill="#68f000" stroke="#68f000"/><path d="M5414 1287l32 -17l-31 -5l-31 17zm1 -22l31 -16l-31 -4l-31 15z" fill="#64ec00" stroke="#64ec00"/><path d="M5384 1282l31 -17l-31 -5l-31 16z" fill="#60ec00" stroke="#60ec00"/><path d="M5353 1276l31 -16l-30 -5l-31 16z" fill="#5cec00" stroke="#5cec00"/><path d="M5323 1271l31 -16l-30 -4l-31 15z" fill="#58ec00" stroke="#58ec00"/><path d="M5293 1266l31 -15l-30 -5l-31 14z" fill="#54e800" stroke="#54e800"/><path d="M5263 1260l31 -14l-30 -5l-31 14z" fill="#4ce800" stroke="#4ce800"/><path d="M5233 1255l31 -14l-30 -5l-31 14z" fill="#48e800" stroke="#48e800"/><path d="M5203 1250l31 -14l-29 -4l-31 13zm2 -18l31 -13l-29 -5l-31 13z" fill="#44e400" stroke="#44e400"/><path d="M5174 1245l31 -13l-29 -5l-31 12z" fill="#40e400" stroke="#40e400"/><path d="M5145 1239l31 -12l-29 -5l-31 12z" fill="#3ce400" stroke="#3ce400"/><path d="M6465 1466l31 -34l-37 -9l-31 33zm-189 -81l32 -29l-36 -7l-31 29zm-110 -54l31 -27l-35 -5l-31 26z" fill="#e8ff00" stroke="#e8ff00"/><path d="M6428 1456l31 -33l-37 -8l-31 33zm-187 -78l31 -29l-36 -6l-31 28zm-110 -53l31 -26l-35 -5l-31 25z" fill="#e4ff00" stroke="#e4ff00"/><path d="M6391 1448l31 -33l-37 -8l-31 32zm-37 -9l31 -32l-36 -7l-32 31zm-149 -68l31 -28l-35 -6l-31 27zm-35 -7l31 -27l-35 -6l-32 27z" fill="#e0ff00" stroke="#e0ff00"/><path d="M6317 1431l32 -31l-37 -8l-31 31z" fill="#dcff00" stroke="#dcff00"/><path d="M6281 1423l31 -31l-36 -7l-31 30zm-36 -8l31 -30l-35 -7l-32 29zm-111 -57l32 -27l-35 -6l-32 26zm-35 -7l32 -26l-35 -6l-31 26z" fill="#d8ff00" stroke="#d8ff00"/><path d="M6209 1407l32 -29l-36 -7l-32 29z" fill="#d4ff00" stroke="#d4ff00"/><path d="M5931 1352l31 -24l-34 -6l-31 24z" fill="#b4fc00" stroke="#b4fc00"/><path d="M5897 1346l31 -24l-33 -6l-32 24z" fill="#b0fc00" stroke="#b0fc00"/><path d="M5863 1340l32 -24l-34 -5l-31 23z" fill="#acfc00" stroke="#acfc00"/><path d="M5830 1334l31 -23l-33 -5l-31 22z" fill="#a8f800" stroke="#a8f800"/><path d="M5797 1328l31 -22l-33 -5l-31 21z" fill="#a0f800" stroke="#a0f800"/><path d="M5764 1322l31 -21l-33 -5l-31 21z" fill="#9cf800" stroke="#9cf800"/><path d="M5731 1317l31 -21l-32 -5l-31 20z" fill="#98f800" stroke="#98f800"/><path d="M5699 1311l31 -20l-33 -5l-31 20z" fill="#90f400" stroke="#90f400"/><path d="M5666 1306l31 -20l-32 -5l-31 20z" fill="#8cf400" stroke="#8cf400"/><path d="M5634 1301l31 -20l-32 -5l-31 19z" fill="#88f400" stroke="#88f400"/><path d="M5602 1295l31 -19l-31 -4l-31 18z" fill="#84f000" stroke="#84f000"/><path d="M5571 1290l31 -18l-32 -5l-31 18z" fill="#80f000" stroke="#80f000"/><path d="M5539 1285l31 -18l-31 -5l-31 18z" fill="#78f000" stroke="#78f000"/><path d="M5508 1280l31 -18l-31 -4l-31 17zm0 -22l30 -17l-31 -4l-30 16z" fill="#74ec00" stroke="#74ec00"/><path d="M5477 1275l31 -17l-31 -5l-31 17z" fill="#70ec00" stroke="#70ec00"/><path d="M5446 1270l31 -17l-31 -4l-31 16z" fill="#6cec00" stroke="#6cec00"/><path d="M5384 1260l31 -15l-30 -5l-31 15z" fill="#60e800" stroke="#60e800"/><path d="M5354 1255l31 -15l-30 -4l-31 15z" fill="#5ce800" stroke="#5ce800"/><path d="M5324 1251l31 -15l-30 -4l-31 14z" fill="#58e800" stroke="#58e800"/><path d="M5294 1246l31 -14l-30 -5l-31 14zm31 -14l31 -14l-30 -4l-31 13z" fill="#54e400" stroke="#54e400"/><path d="M5264 1241l31 -14l-30 -4l-31 13z" fill="#4ce400" stroke="#4ce400"/><path d="M5234 1236l31 -13l-29 -4l-31 13z" fill="#48e400" stroke="#48e400"/><path d="M5176 1227l31 -13l-29 -4l-31 12zm31 -13l30 -12l-29 -4l-30 12z" fill="#40e000" stroke="#40e000"/><path d="M6496 1432l32 -33l-37 -8l-32 32zm-188 -76l31 -29l-36 -6l-31 28z" fill="#fcff00" stroke="#fcff00"/><path d="M6459 1423l32 -32l-37 -8l-32 32zm-37 -8l32 -32l-37 -7l-32 31zm-150 -66l31 -28l-36 -6l-31 28z" fill="#f8ff00" stroke="#f8ff00"/><path d="M6385 1407l32 -31l-37 -7l-31 31zm-149 -64l31 -28l-35 -5l-31 27z" fill="#f4ff00" stroke="#f4ff00"/><path d="M6349 1400l31 -31l-36 -7l-32 30zm-148 -63l31 -27l-35 -6l-31 27z" fill="#f0ff00" stroke="#f0ff00"/><path d="M6312 1392l32 -30l-36 -6l-32 29z" fill="#ecff00" stroke="#ecff00"/><path d="M6030 1339l31 -25l-34 -5l-31 24z" fill="#ccfc00" stroke="#ccfc00"/><path d="M5996 1333l31 -24l-34 -6l-31 25z" fill="#c8fc00" stroke="#c8fc00"/><path d="M5962 1328l31 -25l-34 -5l-31 24z" fill="#c4fc00" stroke="#c4fc00"/><path d="M5928 1322l31 -24l-33 -5l-31 23z" fill="#bcfc00" stroke="#bcfc00"/><path d="M5895 1316l31 -23l-34 -4l-31 22z" fill="#b8f800" stroke="#b8f800"/><path d="M5861 1311l31 -22l-33 -5l-31 22z" fill="#b0f800" stroke="#b0f800"/><path d="M5828 1306l31 -22l-33 -5l-31 22z" fill="#acf800" stroke="#acf800"/><path d="M5795 1301l31 -22l-33 -4l-31 21z" fill="#a8f400" stroke="#a8f400"/><path d="M5762 1296l31 -21l-32 -5l-31 21z" fill="#a0f400" stroke="#a0f400"/><path d="M5730 1291l31 -21l-33 -4l-31 20z" fill="#9cf400" stroke="#9cf400"/><path d="M5697 1286l31 -20l-32 -4l-31 19z" fill="#94f000" stroke="#94f000"/><path d="M5665 1281l31 -19l-32 -5l-31 19z" fill="#90f000" stroke="#90f000"/><path d="M5633 1276l31 -19l-32 -4l-30 19z" fill="#8cf000" stroke="#8cf000"/><path d="M5602 1272l30 -19l-31 -4l-31 18z" fill="#84ec00" stroke="#84ec00"/><path d="M5570 1267l31 -18l-31 -4l-31 17z" fill="#80ec00" stroke="#80ec00"/><path d="M5539 1262l31 -17l-32 -4l-30 17z" fill="#78ec00" stroke="#78ec00"/><path d="M5477 1253l30 -16l-30 -4l-31 16zm0 -20l30 -15l-30 -3l-31 14z" fill="#70e800" stroke="#70e800"/><path d="M5446 1249l31 -16l-31 -4l-31 16z" fill="#68e800" stroke="#68e800"/><path d="M5415 1245l31 -16l-30 -3l-31 14z" fill="#64e800" stroke="#64e800"/><path d="M5385 1240l31 -14l-30 -4l-31 14zm1 -18l30 -14l-30 -4l-30 14z" fill="#60e400" stroke="#60e400"/><path d="M5355 1236l31 -14l-30 -4l-31 14z" fill="#5ce400" stroke="#5ce400"/><path d="M5295 1227l31 -13l-30 -4l-31 13z" fill="#50e400" stroke="#50e400"/><path d="M5265 1223l31 -13l-29 -4l-31 13z" fill="#4ce000" stroke="#4ce000"/><path d="M5236 1219l31 -13l-30 -4l-30 12zm31 -13l30 -12l-29 -3l-31 11z" fill="#48e000" stroke="#48e000"/><path d="M6528 1399l31 -33l-37 -7l-31 32zm-37 -8l31 -32l-37 -7l-31 31zm-152 -64l31 -29l-36 -5l-31 28z" fill="#fff000" stroke="#fff000"/><path d="M6454 1383l31 -31l-37 -7l-31 31z" fill="#fff400" stroke="#fff400"/><path d="M6417 1376l31 -31l-37 -6l-31 30zm-114 -55l31 -28l-36 -5l-31 27z" fill="#fff800" stroke="#fff800"/><path d="M6380 1369l31 -30l-36 -6l-31 29zm-113 -54l31 -27l-35 -5l-31 27z" fill="#fffc00" stroke="#fffc00"/><path d="M6344 1362l31 -29l-36 -6l-31 29zm-112 -52l31 -27l-36 -5l-30 26z" fill="#ffff00" stroke="#ffff00"/><path d="M6096 1319l31 -25l-35 -5l-31 25z" fill="#e0fc00" stroke="#e0fc00"/><path d="M6061 1314l31 -25l-34 -4l-31 24z" fill="#d8fc00" stroke="#d8fc00"/><path d="M6027 1309l31 -24l-34 -5l-31 23z" fill="#d4fc00" stroke="#d4fc00"/><path d="M5993 1303l31 -23l-34 -5l-31 23z" fill="#ccf800" stroke="#ccf800"/><path d="M5959 1298l31 -23l-34 -4l-30 22z" fill="#c8f800" stroke="#c8f800"/><path d="M5926 1293l30 -22l-33 -4l-31 22z" fill="#c0f800" stroke="#c0f800"/><path d="M5892 1289l31 -22l-33 -4l-31 21z" fill="#bcf400" stroke="#bcf400"/><path d="M5859 1284l31 -21l-33 -5l-31 21z" fill="#b8f400" stroke="#b8f400"/><path d="M5826 1279l31 -21l-33 -4l-31 21z" fill="#b0f400" stroke="#b0f400"/><path d="M5793 1275l31 -21l-33 -3l-30 19z" fill="#a8f000" stroke="#a8f000"/><path d="M5761 1270l30 -19l-32 -4l-31 19z" fill="#a4f000" stroke="#a4f000"/><path d="M5728 1266l31 -19l-32 -4l-31 19z" fill="#9cf000" stroke="#9cf000"/><path d="M5696 1262l31 -19l-32 -4l-31 18z" fill="#98f000" stroke="#98f000"/><path d="M5664 1257l31 -18l-32 -3l-31 17z" fill="#90ec00" stroke="#90ec00"/><path d="M5632 1253l31 -17l-31 -4l-31 17z" fill="#8cec00" stroke="#8cec00"/><path d="M5601 1249l31 -17l-32 -4l-30 17z" fill="#88ec00" stroke="#88ec00"/><path d="M5570 1245l30 -17l-31 -3l-31 16zm-1 -20l31 -16l-31 -3l-31 15z" fill="#80e800" stroke="#80e800"/><path d="M5538 1241l31 -16l-31 -4l-31 16z" fill="#7ce800" stroke="#7ce800"/><path d="M5507 1237l31 -16l-31 -3l-30 15z" fill="#74e800" stroke="#74e800"/><path d="M5446 1229l31 -14l-31 -4l-30 15z" fill="#68e400" stroke="#68e400"/><path d="M5416 1226l30 -15l-30 -3l-30 14z" fill="#64e400" stroke="#64e400"/><path d="M5356 1218l30 -14l-30 -3l-30 13z" fill="#58e000" stroke="#58e000"/><path d="M5326 1214l30 -13l-29 -3l-31 12zm30 -13l31 -13l-30 -3l-30 13z" fill="#54e000" stroke="#54e000"/><path d="M5296 1210l31 -12l-30 -4l-30 12z" fill="#50e000" stroke="#50e000"/><path d="M5237 1202l31 -11l-29 -4l-31 11zm31 -11l30 -12l-29 -3l-30 11z" fill="#44dc00" stroke="#44dc00"/><path d="M6559 1366l31 -32l-37 -6l-31 31zm-117 -57l31 -29l-36 -5l-31 29z" fill="#ffd800" stroke="#ffd800"/><path d="M6522 1359l31 -31l-37 -7l-31 31zm-116 -55l31 -29l-36 -4l-31 27z" fill="#ffdc00" stroke="#ffdc00"/><path d="M6485 1352l31 -31l-37 -6l-31 30zm-115 -54l31 -27l-36 -5l-31 27z" fill="#ffe000" stroke="#ffe000"/><path d="M6448 1345l31 -30l-37 -6l-31 30zm-114 -52l31 -27l-36 -5l-31 27z" fill="#ffe400" stroke="#ffe400"/><path d="M6411 1339l31 -30l-36 -5l-31 29zm-113 -51l31 -27l-36 -4l-30 26z" fill="#ffe800" stroke="#ffe800"/><path d="M6375 1333l31 -29l-36 -6l-31 29z" fill="#ffec00" stroke="#ffec00"/><path d="M6197 1304l30 -26l-35 -4l-30 25z" fill="#f8fc00" stroke="#f8fc00"/><path d="M6162 1299l30 -25l-34 -5l-31 25z" fill="#f4fc00" stroke="#f4fc00"/><path d="M6127 1294l31 -25l-35 -4l-31 24z" fill="#ecfc00" stroke="#ecfc00"/><path d="M6092 1289l31 -24l-34 -4l-31 24z" fill="#e4f800" stroke="#e4f800"/><path d="M6058 1285l31 -24l-34 -4l-31 23z" fill="#e0f800" stroke="#e0f800"/><path d="M6024 1280l31 -23l-34 -4l-31 22z" fill="#d8f800" stroke="#d8f800"/><path d="M5990 1275l31 -22l-34 -4l-31 22z" fill="#d4f400" stroke="#d4f400"/><path d="M5956 1271l31 -22l-33 -4l-31 22z" fill="#ccf400" stroke="#ccf400"/><path d="M5923 1267l31 -22l-34 -3l-30 21z" fill="#c4f400" stroke="#c4f400"/><path d="M5890 1263l30 -21l-33 -4l-30 20z" fill="#c0f400" stroke="#c0f400"/><path d="M5857 1258l30 -20l-32 -3l-31 19z" fill="#b8f000" stroke="#b8f000"/><path d="M5824 1254l31 -19l-33 -4l-31 20z" fill="#b4f000" stroke="#b4f000"/><path d="M5791 1251l31 -20l-32 -3l-31 19z" fill="#acf000" stroke="#acf000"/><path d="M5759 1247l31 -19l-33 -3l-30 18z" fill="#a4ec00" stroke="#a4ec00"/><path d="M5727 1243l30 -18l-32 -4l-30 18z" fill="#a0ec00" stroke="#a0ec00"/><path d="M5695 1239l30 -18l-31 -3l-31 18z" fill="#98ec00" stroke="#98ec00"/><path d="M5663 1236l31 -18l-32 -3l-30 17z" fill="#94e800" stroke="#94e800"/><path d="M5632 1232l30 -17l-31 -3l-31 16z" fill="#8ce800" stroke="#8ce800"/><path d="M5600 1228l31 -16l-31 -3l-31 16z" fill="#84e800" stroke="#84e800"/><path d="M5538 1221l31 -15l-31 -3l-31 15z" fill="#78e400" stroke="#78e400"/><path d="M5507 1218l31 -15l-31 -3l-30 15z" fill="#74e400" stroke="#74e400"/><path d="M5477 1215l30 -15l-30 -3l-31 14z" fill="#6ce400" stroke="#6ce400"/><path d="M5446 1211l31 -14l-30 -3l-31 14z" fill="#68e000" stroke="#68e000"/><path d="M5416 1208l31 -14l-30 -3l-31 13z" fill="#60e000" stroke="#60e000"/><path d="M5386 1204l31 -13l-30 -3l-31 13z" fill="#5ce000" stroke="#5ce000"/><path d="M5327 1198l30 -13l-29 -3l-31 12z" fill="#50dc00" stroke="#50dc00"/><path d="M5297 1194l31 -12l-30 -3l-30 12zm31 -12l30 -11l-29 -3l-31 11z" fill="#4cdc00" stroke="#4cdc00"/><path d="M6590 1334l31 -32l-37 -5l-31 31zm-117 -54l31 -28l-37 -5l-30 28z" fill="#ffc400" stroke="#ffc400"/><path d="M6553 1328l31 -31l-37 -6l-31 30zm-116 -53l30 -28l-36 -4l-30 28z" fill="#ffc800" stroke="#ffc800"/><path d="M6516 1321l31 -30l-37 -5l-31 29zm-37 -6l31 -29l-37 -6l-31 29zm-78 -44l30 -28l-36 -4l-30 27z" fill="#ffd000" stroke="#ffd000"/><path d="M6263 1283l30 -26l-35 -4l-31 25z" fill="#fcec00" stroke="#fcec00"/><path d="M6227 1278l31 -25l-35 -4l-31 25z" fill="#fcf000" stroke="#fcf000"/><path d="M6192 1274l31 -25l-35 -4l-30 24z" fill="#fcf400" stroke="#fcf400"/><path d="M6158 1269l30 -24l-34 -4l-31 24z" fill="#f8f800" stroke="#f8f800"/><path d="M6123 1265l31 -24l-35 -3l-30 23z" fill="#f0f800" stroke="#f0f800"/><path d="M6089 1261l30 -23l-34 -4l-30 23z" fill="#e8f800" stroke="#e8f800"/><path d="M6055 1257l30 -23l-34 -3l-30 22z" fill="#e4f400" stroke="#e4f400"/><path d="M6021 1253l30 -22l-33 -4l-31 22z" fill="#dcf400" stroke="#dcf400"/><path d="M5987 1249l31 -22l-34 -3l-30 21z" fill="#d8f400" stroke="#d8f400"/><path d="M5954 1245l30 -21l-33 -3l-31 21z" fill="#d0f000" stroke="#d0f000"/><path d="M5920 1242l31 -21l-33 -3l-31 20z" fill="#c8f000" stroke="#c8f000"/><path d="M5887 1238l31 -20l-33 -3l-30 20z" fill="#c0f000" stroke="#c0f000"/><path d="M5855 1235l30 -20l-33 -3l-30 19zm-3 -23l31 -18l-33 -3l-30 18z" fill="#bcec00" stroke="#bcec00"/><path d="M5822 1231l30 -19l-32 -3l-30 19z" fill="#b4ec00" stroke="#b4ec00"/><path d="M5790 1228l30 -19l-32 -2l-31 18z" fill="#acec00" stroke="#acec00"/><path d="M5757 1225l31 -18l-32 -3l-31 17z" fill="#a8e800" stroke="#a8e800"/><path d="M5725 1221l31 -17l-32 -3l-30 17z" fill="#a0e800" stroke="#a0e800"/><path d="M5694 1218l30 -17l-32 -2l-30 16z" fill="#98e800" stroke="#98e800"/><path d="M5662 1215l30 -16l-31 -3l-30 16z" fill="#90e800" stroke="#90e800"/><path d="M5631 1212l30 -16l-31 -2l-30 15z" fill="#8ce400" stroke="#8ce400"/><path d="M5600 1209l30 -15l-31 -3l-30 15z" fill="#84e400" stroke="#84e400"/><path d="M5569 1206l30 -15l-31 -3l-30 15z" fill="#7ce400" stroke="#7ce400"/><path d="M5538 1203l30 -15l-30 -2l-31 14z" fill="#78e000" stroke="#78e000"/><path d="M5507 1200l31 -14l-31 -2l-30 13z" fill="#70e000" stroke="#70e000"/><path d="M5477 1197l30 -13l-30 -3l-30 13z" fill="#6ce000" stroke="#6ce000"/><path d="M5447 1194l30 -13l-30 -2l-30 12z" fill="#64e000" stroke="#64e000"/><path d="M5417 1191l30 -12l-30 -3l-30 12zm30 -12l30 -13l-30 -2l-30 12z" fill="#60dc00" stroke="#60dc00"/><path d="M5387 1188l30 -12l-30 -2l-30 11zm30 -12l30 -12l-30 -2l-30 12z" fill="#58dc00" stroke="#58dc00"/><path d="M5357 1185l30 -11l-29 -3l-30 11z" fill="#54dc00" stroke="#54dc00"/><path d="M5298 1179l31 -11l-30 -2l-30 10zm31 -11l30 -10l-30 -2l-30 10z" fill="#48d800" stroke="#48d800"/><path d="M6621 1302l31 -31l-37 -5l-31 31zm-80 -46l30 -28l-37 -4l-30 28z" fill="#ffb000" stroke="#ffb000"/><path d="M6584 1297l31 -31l-37 -5l-31 30z" fill="#ffb800" stroke="#ffb800"/><path d="M6547 1291l31 -30l-37 -5l-31 30z" fill="#ffbc00" stroke="#ffbc00"/><path d="M6510 1286l31 -30l-37 -4l-31 28z" fill="#ffc000" stroke="#ffc000"/><path d="M6365 1266l30 -27l-36 -4l-30 26z" fill="#fcd400" stroke="#fcd400"/><path d="M6329 1261l30 -26l-35 -3l-31 25z" fill="#fcd800" stroke="#fcd800"/><path d="M6293 1257l31 -25l-35 -4l-31 25z" fill="#fcdc00" stroke="#fcdc00"/><path d="M6258 1253l31 -25l-35 -4l-31 25z" fill="#f8e000" stroke="#f8e000"/><path d="M6223 1249l31 -25l-35 -3l-31 24z" fill="#f8e400" stroke="#f8e400"/><path d="M6188 1245l31 -24l-35 -3l-30 23z" fill="#f8ec00" stroke="#f8ec00"/><path d="M6154 1241l30 -23l-34 -3l-31 23z" fill="#f4f000" stroke="#f4f000"/><path d="M6119 1238l31 -23l-34 -3l-31 22z" fill="#f4f400" stroke="#f4f400"/><path d="M6085 1234l31 -22l-34 -3l-31 22z" fill="#ecf400" stroke="#ecf400"/><path d="M6051 1231l31 -22l-34 -3l-30 21zm-3 -25l30 -20l-33 -2l-30 20z" fill="#e8f000" stroke="#e8f000"/><path d="M6018 1227l30 -21l-33 -2l-31 20z" fill="#e0f000" stroke="#e0f000"/><path d="M5984 1224l31 -20l-34 -3l-30 20z" fill="#d8f000" stroke="#d8f000"/><path d="M5951 1221l30 -20l-33 -3l-30 20zm-3 -23l30 -19l-33 -1l-30 18z" fill="#d0ec00" stroke="#d0ec00"/><path d="M5918 1218l30 -20l-33 -2l-30 19z" fill="#c8ec00" stroke="#c8ec00"/><path d="M5885 1215l30 -19l-32 -2l-31 18z" fill="#c0ec00" stroke="#c0ec00"/><path d="M5820 1209l30 -18l-32 -2l-30 18z" fill="#b4e800" stroke="#b4e800"/><path d="M5788 1207l30 -18l-32 -2l-30 17z" fill="#ace800" stroke="#ace800"/><path d="M5756 1204l30 -17l-32 -2l-30 16z" fill="#a4e800" stroke="#a4e800"/><path d="M5724 1201l30 -16l-31 -2l-31 16z" fill="#9ce400" stroke="#9ce400"/><path d="M5692 1199l31 -16l-32 -2l-30 15z" fill="#98e400" stroke="#98e400"/><path d="M5661 1196l30 -15l-31 -3l-30 16z" fill="#90e400" stroke="#90e400"/><path d="M5630 1194l30 -16l-31 -2l-30 15z" fill="#88e000" stroke="#88e000"/><path d="M5599 1191l30 -15l-31 -2l-30 14z" fill="#80e000" stroke="#80e000"/><path d="M5568 1188l30 -14l-30 -2l-30 14z" fill="#7ce000" stroke="#7ce000"/><path d="M5538 1186l30 -14l-31 -2l-30 14z" fill="#74e000" stroke="#74e000"/><path d="M5507 1184l30 -14l-30 -2l-30 13z" fill="#6cdc00" stroke="#6cdc00"/><path d="M5477 1181l30 -13l-30 -2l-30 13z" fill="#68dc00" stroke="#68dc00"/><path d="M5387 1174l30 -12l-29 -2l-30 11zm30 -12l30 -11l-29 -1l-30 10z" fill="#54d800" stroke="#54d800"/><path d="M5358 1171l30 -11l-29 -2l-30 10z" fill="#4cd800" stroke="#4cd800"/><path d="M6652 1271l31 -30l-38 -5l-30 30z" fill="#ffa000" stroke="#ffa000"/><path d="M6615 1266l30 -30l-37 -4l-30 29z" fill="#ffa400" stroke="#ffa400"/><path d="M6578 1261l30 -29l-37 -4l-30 28z" fill="#ffa800" stroke="#ffa800"/><path d="M6504 1252l30 -28l-36 -4l-31 27z" fill="#ffb400" stroke="#ffb400"/><path d="M6467 1247l31 -27l-36 -4l-31 27z" fill="#fcb800" stroke="#fcb800"/><path d="M6431 1243l31 -27l-36 -3l-31 26z" fill="#fcbc00" stroke="#fcbc00"/><path d="M6395 1239l31 -26l-36 -3l-31 25z" fill="#fcc400" stroke="#fcc400"/><path d="M6359 1235l31 -25l-36 -3l-30 25z" fill="#f8c800" stroke="#f8c800"/><path d="M6324 1232l30 -25l-35 -4l-30 25z" fill="#f8cc00" stroke="#f8cc00"/><path d="M6289 1228l30 -25l-35 -2l-30 23z" fill="#f8d000" stroke="#f8d000"/><path d="M6254 1224l30 -23l-35 -3l-30 23z" fill="#f4d800" stroke="#f4d800"/><path d="M6219 1221l30 -23l-35 -3l-30 23z" fill="#f4dc00" stroke="#f4dc00"/><path d="M6184 1218l30 -23l-34 -2l-30 22z" fill="#f4e000" stroke="#f4e000"/><path d="M6150 1215l30 -22l-34 -3l-30 22z" fill="#f4e400" stroke="#f4e400"/><path d="M6116 1212l30 -22l-34 -2l-30 21z" fill="#f0ec00" stroke="#f0ec00"/><path d="M6082 1209l30 -21l-34 -2l-30 20z" fill="#f0f000" stroke="#f0f000"/><path d="M6015 1204l30 -20l-34 -3l-30 20z" fill="#e0ec00" stroke="#e0ec00"/><path d="M5981 1201l30 -20l-33 -2l-30 19z" fill="#d8ec00" stroke="#d8ec00"/><path d="M5915 1196l30 -18l-32 -2l-30 18z" fill="#c8e800" stroke="#c8e800"/><path d="M5883 1194l30 -18l-33 -2l-30 17z" fill="#c0e800" stroke="#c0e800"/><path d="M5850 1191l30 -17l-32 -2l-30 17z" fill="#b8e800" stroke="#b8e800"/><path d="M5818 1189l30 -17l-32 -2l-30 17z" fill="#b0e400" stroke="#b0e400"/><path d="M5786 1187l30 -17l-32 -1l-30 16z" fill="#ace400" stroke="#ace400"/><path d="M5754 1185l30 -16l-31 -2l-30 16z" fill="#a4e400" stroke="#a4e400"/><path d="M5723 1183l30 -16l-32 -2l-30 16z" fill="#9ce000" stroke="#9ce000"/><path d="M5691 1181l30 -16l-31 -1l-30 14z" fill="#94e000" stroke="#94e000"/><path d="M5660 1178l30 -14l-31 -2l-30 14z" fill="#8ce000" stroke="#8ce000"/><path d="M5629 1176l30 -14l-31 -1l-30 13z" fill="#84e000" stroke="#84e000"/><path d="M5598 1174l30 -13l-30 -2l-30 13z" fill="#7cdc00" stroke="#7cdc00"/><path d="M5568 1172l30 -13l-31 -1l-30 12z" fill="#78dc00" stroke="#78dc00"/><path d="M5537 1170l30 -12l-30 -2l-30 12z" fill="#70dc00" stroke="#70dc00"/><path d="M5507 1168l30 -12l-30 -2l-30 12z" fill="#68d800" stroke="#68d800"/><path d="M5477 1166l30 -12l-30 -1l-30 11zm30 -12l30 -11l-30 -1l-30 11z" fill="#64d800" stroke="#64d800"/><path d="M5447 1164l30 -11l-30 -2l-30 11z" fill="#5cd800" stroke="#5cd800"/><path d="M5388 1160l30 -10l-30 -2l-29 10zm30 -10l30 -11l-30 -1l-30 10z" fill="#50d400" stroke="#50d400"/><path d="M5359 1158l29 -10l-29 -2l-30 10zm29 -10l30 -10l-29 -1l-30 9z" fill="#48d400" stroke="#48d400"/><path d="M6683 1241l30 -30l-37 -4l-31 29z" fill="#ff8c00" stroke="#ff8c00"/><path d="M6645 1236l31 -29l-37 -4l-31 29z" fill="#ff9000" stroke="#ff9000"/><path d="M6608 1232l31 -29l-37 -3l-31 28z" fill="#ff9800" stroke="#ff9800"/><path d="M6571 1228l31 -28l-37 -4l-31 28z" fill="#ff9c00" stroke="#ff9c00"/><path d="M6534 1224l31 -28l-37 -3l-30 27z" fill="#fca000" stroke="#fca000"/><path d="M6498 1220l30 -27l-36 -3l-30 26z" fill="#fca800" stroke="#fca800"/><path d="M6462 1216l30 -26l-36 -3l-30 26z" fill="#fcac00" stroke="#fcac00"/><path d="M6426 1213l30 -26l-36 -2l-30 25z" fill="#f8b000" stroke="#f8b000"/><path d="M6390 1210l30 -25l-35 -3l-31 25z" fill="#f8b800" stroke="#f8b800"/><path d="M6354 1207l31 -25l-36 -2l-30 23z" fill="#f8bc00" stroke="#f8bc00"/><path d="M6319 1203l30 -23l-35 -3l-30 24z" fill="#f4c000" stroke="#f4c000"/><path d="M6284 1201l30 -24l-35 -2l-30 23z" fill="#f4c800" stroke="#f4c800"/><path d="M6249 1198l30 -23l-34 -2l-31 22z" fill="#f4cc00" stroke="#f4cc00"/><path d="M6214 1195l31 -22l-35 -2l-30 22z" fill="#f0d000" stroke="#f0d000"/><path d="M6180 1193l30 -22l-34 -2l-30 21z" fill="#f0d800" stroke="#f0d800"/><path d="M6146 1190l30 -21l-34 -2l-30 21z" fill="#f0dc00" stroke="#f0dc00"/><path d="M6112 1188l30 -21l-34 -1l-30 20z" fill="#ece400" stroke="#ece400"/><path d="M6078 1186l30 -20l-33 -2l-30 20z" fill="#ece800" stroke="#ece800"/><path d="M6045 1184l30 -20l-34 -2l-30 19z" fill="#e8ec00" stroke="#e8ec00"/><path d="M6011 1181l30 -19l-33 -1l-30 18z" fill="#e0e800" stroke="#e0e800"/><path d="M5978 1179l30 -18l-33 -2l-30 19z" fill="#d8e800" stroke="#d8e800"/><path d="M5945 1178l30 -19l-32 -1l-30 18z" fill="#d0e800" stroke="#d0e800"/><path d="M5913 1176l30 -18l-33 -1l-30 17z" fill="#c8e400" stroke="#c8e400"/><path d="M5880 1174l30 -17l-32 -1l-30 16z" fill="#c0e400" stroke="#c0e400"/><path d="M5848 1172l30 -16l-32 -2l-30 16z" fill="#b8e400" stroke="#b8e400"/><path d="M5816 1170l30 -16l-32 -1l-30 16z" fill="#b0e000" stroke="#b0e000"/><path d="M5784 1169l30 -16l-31 -1l-30 15z" fill="#a8e000" stroke="#a8e000"/><path d="M5753 1167l30 -15l-32 -1l-30 14z" fill="#a0e000" stroke="#a0e000"/><path d="M5721 1165l30 -14l-31 -1l-30 14z" fill="#98e000" stroke="#98e000"/><path d="M5690 1164l30 -14l-31 -1l-30 13z" fill="#90dc00" stroke="#90dc00"/><path d="M5659 1162l30 -13l-31 -2l-30 14z" fill="#88dc00" stroke="#88dc00"/><path d="M5628 1161l30 -14l-31 -1l-29 13z" fill="#80dc00" stroke="#80dc00"/><path d="M5598 1159l29 -13l-30 -1l-30 13z" fill="#78d800" stroke="#78d800"/><path d="M5567 1158l30 -13l-30 -1l-30 12z" fill="#70d800" stroke="#70d800"/><path d="M5537 1156l30 -12l-30 -1l-30 11z" fill="#6cd800" stroke="#6cd800"/><path d="M5477 1153l30 -11l-30 -1l-30 10zm30 -11l29 -11l-29 -1l-30 11z" fill="#5cd400" stroke="#5cd400"/><path d="M5447 1151l30 -10l-29 -2l-30 11z" fill="#54d400" stroke="#54d400"/><path d="M6713 1211l31 -29l-38 -4l-30 29z" fill="#ff7800" stroke="#ff7800"/><path d="M6676 1207l30 -29l-37 -3l-30 28z" fill="#ff8000" stroke="#ff8000"/><path d="M6639 1203l30 -28l-37 -3l-30 28z" fill="#fc8400" stroke="#fc8400"/><path d="M6602 1200l30 -28l-37 -2l-30 26z" fill="#fc8800" stroke="#fc8800"/><path d="M6565 1196l30 -26l-37 -3l-30 26z" fill="#fc9000" stroke="#fc9000"/><path d="M6528 1193l30 -26l-36 -2l-30 25z" fill="#f89400" stroke="#f89400"/><path d="M6492 1190l30 -25l-36 -3l-30 25z" fill="#f89c00" stroke="#f89c00"/><path d="M6456 1187l30 -25l-36 -2l-30 25z" fill="#f8a000" stroke="#f8a000"/><path d="M6420 1185l30 -25l-35 -2l-30 24z" fill="#f4a800" stroke="#f4a800"/><path d="M6385 1182l30 -24l-36 -2l-30 24z" fill="#f4ac00" stroke="#f4ac00"/><path d="M6349 1180l30 -24l-35 -2l-30 23z" fill="#f4b400" stroke="#f4b400"/><path d="M6314 1177l30 -23l-35 -1l-30 22z" fill="#f0b800" stroke="#f0b800"/><path d="M6279 1175l30 -22l-34 -2l-30 22z" fill="#f0c000" stroke="#f0c000"/><path d="M6245 1173l30 -22l-35 -1l-30 21z" fill="#f0c400" stroke="#f0c400"/><path d="M6210 1171l30 -21l-34 -2l-30 21z" fill="#eccc00" stroke="#eccc00"/><path d="M6176 1169l30 -21l-34 -1l-30 20z" fill="#ecd000" stroke="#ecd000"/><path d="M6142 1167l30 -20l-34 -1l-30 20z" fill="#ecd800" stroke="#ecd800"/><path d="M6108 1166l30 -20l-33 -1l-30 19z" fill="#e8dc00" stroke="#e8dc00"/><path d="M6075 1164l30 -19l-34 -1l-30 18z" fill="#e8e400" stroke="#e8e400"/><path d="M6041 1162l30 -18l-33 -1l-30 18z" fill="#e4e800" stroke="#e4e800"/><path d="M6008 1161l30 -18l-33 -1l-30 17z" fill="#dce400" stroke="#dce400"/><path d="M5975 1159l30 -17l-32 -1l-30 17z" fill="#d4e400" stroke="#d4e400"/><path d="M5943 1158l30 -17l-33 -1l-30 17z" fill="#cce400" stroke="#cce400"/><path d="M5910 1157l30 -17l-32 -1l-30 17z" fill="#c4e400" stroke="#c4e400"/><path d="M5878 1156l30 -17l-32 0l-30 15z" fill="#bce000" stroke="#bce000"/><path d="M5846 1154l30 -15l-32 -1l-30 15z" fill="#b4e000" stroke="#b4e000"/><path d="M5814 1153l30 -15l-32 -1l-29 15z" fill="#ace000" stroke="#ace000"/><path d="M5783 1152l29 -15l-31 0l-30 14zm29 -15l30 -14l-32 0l-29 14z" fill="#a4dc00" stroke="#a4dc00"/><path d="M5751 1151l30 -14l-31 -1l-30 14z" fill="#9cdc00" stroke="#9cdc00"/><path d="M5720 1150l30 -14l-31 -1l-30 14z" fill="#94dc00" stroke="#94dc00"/><path d="M5689 1149l30 -14l-31 0l-30 12zm30 -14l29 -13l-31 0l-29 13z" fill="#8cd800" stroke="#8cd800"/><path d="M5658 1147l30 -12l-31 -1l-30 12zm30 -12l29 -13l-30 0l-30 12z" fill="#84d800" stroke="#84d800"/><path d="M5627 1146l30 -12l-30 -1l-30 12z" fill="#7cd800" stroke="#7cd800"/><path d="M5597 1145l30 -12l-31 0l-29 11z" fill="#74d800" stroke="#74d800"/><path d="M5567 1144l29 -11l-30 -1l-29 11zm29 -11l30 -11l-30 -1l-30 11z" fill="#6cd400" stroke="#6cd400"/><path d="M5537 1143l29 -11l-30 -1l-29 11zm29 -11l30 -11l-30 0l-30 10z" fill="#64d400" stroke="#64d400"/><path d="M5477 1141l30 -11l-30 0l-29 9z" fill="#58d400" stroke="#58d400"/><path d="M5448 1139l29 -9l-29 -1l-30 9zm29 -9l30 -10l-30 0l-29 9z" fill="#50d000" stroke="#50d000"/><path d="M5418 1138l30 -9l-29 -1l-30 9z" fill="#48d000" stroke="#48d000"/><path d="M6744 1182l30 -29l-38 -3l-30 28z" fill="#ff6800" stroke="#ff6800"/><path d="M6706 1178l30 -28l-37 -2l-30 27z" fill="#fc6c00" stroke="#fc6c00"/><path d="M6669 1175l30 -27l-37 -3l-30 27z" fill="#fc7400" stroke="#fc7400"/><path d="M6632 1172l30 -27l-37 -2l-30 27z" fill="#fc7800" stroke="#fc7800"/><path d="M6595 1170l30 -27l-37 -2l-30 26z" fill="#f88000" stroke="#f88000"/><path d="M6558 1167l30 -26l-36 -2l-30 26z" fill="#f88400" stroke="#f88400"/><path d="M6522 1165l30 -26l-36 -1l-30 24z" fill="#f48c00" stroke="#f48c00"/><path d="M6486 1162l30 -24l-36 -2l-30 24z" fill="#f49000" stroke="#f49000"/><path d="M6450 1160l30 -24l-36 -1l-29 23z" fill="#f49800" stroke="#f49800"/><path d="M6415 1158l29 -23l-35 -2l-30 23z" fill="#f09c00" stroke="#f09c00"/><path d="M6379 1156l30 -23l-35 -1l-30 22z" fill="#f0a400" stroke="#f0a400"/><path d="M6344 1154l30 -22l-35 -1l-30 22z" fill="#f0ac00" stroke="#f0ac00"/><path d="M6309 1153l30 -22l-35 -1l-29 21z" fill="#ecb000" stroke="#ecb000"/><path d="M6275 1151l29 -21l-34 -1l-30 21z" fill="#ecb800" stroke="#ecb800"/><path d="M6240 1150l30 -21l-34 -1l-30 20z" fill="#ecc000" stroke="#ecc000"/><path d="M6206 1148l30 -20l-34 -1l-30 20z" fill="#e8c400" stroke="#e8c400"/><path d="M6172 1147l30 -20l-34 0l-30 19z" fill="#e8cc00" stroke="#e8cc00"/><path d="M6138 1146l30 -19l-34 -1l-29 19z" fill="#e8d000" stroke="#e8d000"/><path d="M6105 1145l29 -19l-33 0l-30 18z" fill="#e8d800" stroke="#e8d800"/><path d="M6071 1144l30 -18l-33 -1l-30 18z" fill="#e4e000" stroke="#e4e000"/><path d="M6038 1143l30 -18l-33 0l-30 17z" fill="#e4e400" stroke="#e4e400"/><path d="M6005 1142l30 -17l-33 -1l-29 17z" fill="#d8e400" stroke="#d8e400"/><path d="M5973 1141l29 -17l-32 0l-30 16z" fill="#d0e000" stroke="#d0e000"/><path d="M5940 1140l30 -16l-33 0l-29 15z" fill="#c8e000" stroke="#c8e000"/><path d="M5908 1139l29 -15l-32 -1l-29 16z" fill="#c0e000" stroke="#c0e000"/><path d="M5876 1139l29 -16l-32 0l-29 15z" fill="#b8dc00" stroke="#b8dc00"/><path d="M5844 1138l29 -15l-31 0l-30 14z" fill="#b0dc00" stroke="#b0dc00"/><path d="M5781 1137l29 -14l-31 0l-29 13z" fill="#9cd800" stroke="#9cd800"/><path d="M5750 1136l29 -13l-31 -1l-29 13z" fill="#94d800" stroke="#94d800"/><path d="M5657 1134l30 -12l-31 0l-29 11zm30 -12l29 -12l-31 1l-29 11z" fill="#7cd400" stroke="#7cd400"/><path d="M5627 1133l29 -11l-30 0l-30 11z" fill="#74d400" stroke="#74d400"/><path d="M5536 1131l30 -10l-30 0l-29 9z" fill="#60d000" stroke="#60d000"/><path d="M5507 1130l29 -9l-29 -1l-30 10z" fill="#58d000" stroke="#58d000"/><path d="M5448 1129l29 -9l-29 -1l-29 9zm29 -9l29 -9l-29 0l-29 8z" fill="#48cc00" stroke="#48cc00"/><path d="M6774 1153l30 -28l-38 -2l-30 27z" fill="#fc5400" stroke="#fc5400"/><path d="M6736 1150l30 -27l-37 -2l-30 27z" fill="#fc5c00" stroke="#fc5c00"/><path d="M6699 1148l30 -27l-37 -2l-30 26z" fill="#f86000" stroke="#f86000"/><path d="M6662 1145l30 -26l-37 -1l-30 25z" fill="#f86800" stroke="#f86800"/><path d="M6625 1143l30 -25l-37 -2l-30 25z" fill="#f87000" stroke="#f87000"/><path d="M6588 1141l30 -25l-36 -1l-30 24z" fill="#f47400" stroke="#f47400"/><path d="M6552 1139l30 -24l-36 -1l-30 24z" fill="#f47c00" stroke="#f47c00"/><path d="M6516 1138l30 -24l-36 -1l-30 23z" fill="#f48400" stroke="#f48400"/><path d="M6480 1136l30 -23l-36 -1l-30 23z" fill="#f08800" stroke="#f08800"/><path d="M6444 1135l30 -23l-35 -1l-30 22z" fill="#f09000" stroke="#f09000"/><path d="M6409 1133l30 -22l-35 -1l-30 22z" fill="#f09800" stroke="#f09800"/><path d="M6374 1132l30 -22l-35 0l-30 21z" fill="#ec9c00" stroke="#ec9c00"/><path d="M6339 1131l30 -21l-35 -1l-30 21z" fill="#eca400" stroke="#eca400"/><path d="M6304 1130l30 -21l-35 0l-29 20z" fill="#ecac00" stroke="#ecac00"/><path d="M6270 1129l29 -20l-34 -1l-29 20z" fill="#e8b400" stroke="#e8b400"/><path d="M6236 1128l29 -20l-34 0l-29 19z" fill="#e8b800" stroke="#e8b800"/><path d="M6202 1127l29 -19l-34 0l-29 19z" fill="#e8c000" stroke="#e8c000"/><path d="M6168 1127l29 -19l-33 0l-30 18z" fill="#e4c800" stroke="#e4c800"/><path d="M6134 1126l30 -18l-34 0l-29 18z" fill="#e4cc00" stroke="#e4cc00"/><path d="M6101 1126l29 -18l-33 0l-29 17z" fill="#e4d400" stroke="#e4d400"/><path d="M6068 1125l29 -17l-33 0l-29 17z" fill="#e0dc00" stroke="#e0dc00"/><path d="M6035 1125l29 -17l-32 0l-30 16z" fill="#e0e000" stroke="#e0e000"/><path d="M6002 1124l30 -16l-33 0l-29 16z" fill="#d4e000" stroke="#d4e000"/><path d="M5970 1124l29 -16l-32 1l-30 15z" fill="#ccdc00" stroke="#ccdc00"/><path d="M5937 1124l30 -15l-32 0l-30 14z" fill="#c4dc00" stroke="#c4dc00"/><path d="M5905 1123l30 -14l-32 0l-30 14z" fill="#bcdc00" stroke="#bcdc00"/><path d="M5873 1123l30 -14l-32 0l-29 14z" fill="#b0d800" stroke="#b0d800"/><path d="M5842 1123l29 -14l-31 1l-30 13z" fill="#a8d800" stroke="#a8d800"/><path d="M5810 1123l30 -13l-32 0l-29 13z" fill="#a0d800" stroke="#a0d800"/><path d="M5779 1123l29 -13l-31 0l-29 12z" fill="#98d800" stroke="#98d800"/><path d="M5748 1122l29 -12l-30 0l-30 12z" fill="#90d400" stroke="#90d400"/><path d="M5717 1122l30 -12l-31 0l-29 12z" fill="#88d400" stroke="#88d400"/><path d="M5656 1122l29 -11l-30 0l-29 11z" fill="#74d000" stroke="#74d000"/><path d="M5626 1122l29 -11l-30 0l-29 10z" fill="#6cd000" stroke="#6cd000"/><path d="M5596 1121l29 -10l-30 0l-29 10z" fill="#64d000" stroke="#64d000"/><path d="M5566 1121l29 -10l-30 0l-29 10z" fill="#5cd000" stroke="#5cd000"/><path d="M5536 1121l29 -10l-29 0l-29 9z" fill="#58cc00" stroke="#58cc00"/><path d="M5507 1120l29 -9l-30 0l-29 9z" fill="#50cc00" stroke="#50cc00"/></g>
<path d="M547.5 263.3L540.2 257.4L533.1 251.7L526.0 246.1L519.0 240.7L512.0 235.5L505.2 230.3L498.4 225.3L491.8 220.4L485.2 215.7L478.7 211.0L472.2 206.5L465.9 202.0L459.6 197.6L453.3 193.4L447.2 189.2L441.1 185.0L435.1 181.0L429.2 177.0L423.3 173.0L417.5 169.1M547.5 263.3L554.8 254.3L562.0 245.4L569.1 236.6L576.2 227.9L583.2 219.4L590.1 211.0L597.0 202.8L603.8 194.7L610.6 186.8L617.3 179.1L623.9 171.5L630.4 164.1L636.9 157.0L643.3 150.0L649.6 143.2L655.9 136.6L662.1 130.2L668.3 124.1L674.4 118.2L680.4 112.5M554.8 254.3L547.5 248.7L540.3 243.3L533.2 238.0L526.2 232.9L519.3 227.9L512.4 223.0L505.7 218.3L499.0 213.7L492.4 209.2L485.9 204.8L479.4 200.5L473.1 196.3L466.8 192.2L460.6 188.1L454.4 184.2L448.3 180.3L442.3 176.5L436.4 172.7L430.5 169.0L424.7 165.3M540.2 257.4L547.5 248.7L554.7 240.1L561.8 231.6L568.9 223.2L575.9 215.0L582.8 206.9L589.7 199.0L596.5 191.2L603.2 183.5L609.9 176.1L616.5 168.8L623.0 161.7L629.5 154.8L635.9 148.1L642.2 141.5L648.5 135.2L654.7 129.1L660.8 123.2L666.9 117.5L672.9 112.1M562.0 245.4L554.7 240.1L547.5 235.0L540.4 230.0L533.4 225.1L526.5 220.4L519.6 215.8L512.8 211.4L506.2 207.0L499.5 202.8L493.0 198.7L486.6 194.6L480.2 190.7L473.9 186.8L467.7 183.0L461.5 179.3L455.5 175.6L449.5 172.0L443.5 168.5L437.6 165.0L431.8 161.6M533.1 251.7L540.3 243.3L547.5 235.0L554.6 226.7L561.7 218.7L568.7 210.7L575.6 202.9L582.5 195.3L589.2 187.8L596.0 180.4L602.6 173.2L609.2 166.2L615.7 159.4L622.2 152.7L628.6 146.2L634.9 140.0L641.1 133.9L647.3 128.0L653.4 122.4L659.5 117.0L665.5 111.8M569.1 236.6L561.8 231.6L554.6 226.7L547.5 222.1L540.5 217.5L533.6 213.1L526.7 208.8L519.9 204.6L513.2 200.5L506.6 196.5L500.1 192.6L493.6 188.9L487.3 185.2L481.0 181.5L474.7 178.0L468.6 174.5L462.5 171.1L456.5 167.7L450.6 164.4L444.7 161.1L438.9 157.9M526.0 246.1L533.2 238.0L540.4 230.0L547.5 222.1L554.6 214.3L561.5 206.6L568.5 199.1L575.3 191.7L582.1 184.5L588.8 177.4L595.4 170.5L602.0 163.7L608.5 157.1L615.0 150.7L621.3 144.5L627.6 138.5L633.9 132.7L640.1 127.1L646.2 121.6L652.2 116.5L658.2 111.5M576.2 227.9L568.9 223.2L561.7 218.7L554.6 214.3L547.5 210.0L540.6 205.8L533.7 201.8L526.9 197.9L520.2 194.1L513.6 190.3L507.1 186.7L500.6 183.2L494.2 179.7L487.9 176.3L481.7 173.0L475.6 169.8L469.5 166.6L463.5 163.4L457.5 160.3L451.7 157.3L445.9 154.2M519.0 240.7L526.2 232.9L533.4 225.1L540.5 217.5L547.5 210.0L554.5 202.6L561.4 195.4L568.2 188.2L575.0 181.3L581.7 174.5L588.3 167.8L594.9 161.3L601.4 155.0L607.8 148.8L614.2 142.9L620.5 137.1L626.7 131.5L632.9 126.1L639.0 121.0L645.0 116.0L651.0 111.3M583.2 219.4L575.9 215.0L568.7 210.7L561.5 206.6L554.5 202.6L547.5 198.7L540.7 195.0L533.9 191.3L527.2 187.7L520.6 184.3L514.0 180.9L507.6 177.6L501.2 174.4L494.9 171.2L488.6 168.2L482.5 165.1L476.4 162.2L470.4 159.2L464.4 156.4L458.6 153.5L452.8 150.7M512.0 235.5L519.3 227.9L526.5 220.4L533.6 213.1L540.6 205.8L547.5 198.7L554.4 191.7L561.3 184.9L568.0 178.2L574.7 171.6L581.3 165.2L587.9 159.0L594.4 152.9L600.8 147.0L607.1 141.3L613.4 135.8L619.7 130.4L625.8 125.3L631.9 120.3L637.9 115.6L643.9 111.1M590.1 211.0L582.8 206.9L575.6 202.9L568.5 199.1L561.4 195.4L554.4 191.7L547.6 188.2L540.8 184.8L534.0 181.5L527.4 178.3L520.9 175.2L514.4 172.2L508.0 169.2L501.7 166.3L495.5 163.4L489.3 160.6L483.2 157.9L477.2 155.2L471.3 152.5L465.4 149.9L459.6 147.3M505.2 230.3L512.4 223.0L519.6 215.8L526.7 208.8L533.7 201.8L540.7 195.0L547.6 188.2L554.4 181.7L561.1 175.2L567.8 168.9L574.4 162.8L581.0 156.8L587.4 151.0L593.8 145.3L600.2 139.8L606.5 134.5L612.7 129.4L618.8 124.5L624.9 119.8L630.9 115.3L636.9 111.0M597.0 202.8L589.7 199.0L582.5 195.3L575.3 191.7L568.2 188.2L561.3 184.9L554.4 181.7L547.6 178.5L540.8 175.5L534.2 172.5L527.7 169.6L521.2 166.8L514.8 164.1L508.5 161.4L502.2 158.8L496.1 156.2L490.0 153.7L483.9 151.2L478.0 148.7L472.1 146.3L466.3 143.9M498.4 225.3L505.7 218.3L512.8 211.4L519.9 204.6L526.9 197.9L533.9 191.3L540.8 184.8L547.6 178.5L554.3 172.3L561.0 166.3L567.6 160.4L574.1 154.6L580.6 149.1L587.0 143.6L593.3 138.4L599.6 133.3L605.8 128.5L611.9 123.8L618.0 119.3L624.0 115.0L629.9 110.9M603.8 194.7L596.5 191.2L589.2 187.8L582.1 184.5L575.0 181.3L568.0 178.2L561.1 175.2L554.3 172.3L547.6 169.5L540.9 166.8L534.4 164.2L527.9 161.6L521.5 159.1L515.2 156.6L508.9 154.2L502.8 151.9L496.7 149.6L490.6 147.3L484.7 145.0L478.8 142.8L473.0 140.6M491.8 220.4L499.0 213.7L506.2 207.0L513.2 200.5L520.2 194.1L527.2 187.7L534.0 181.5L540.8 175.5L547.6 169.5L554.2 163.7L560.8 158.1L567.4 152.6L573.8 147.2L580.2 142.0L586.5 137.0L592.8 132.2L599.0 127.5L605.1 123.1L611.2 118.8L617.2 114.7L623.1 110.8M610.6 186.8L603.2 183.5L596.0 180.4L588.8 177.4L581.7 174.5L574.7 171.6L567.8 168.9L561.0 166.3L554.2 163.7L547.6 161.3L541.0 158.8L534.5 156.5L528.1 154.2L521.8 152.0L515.5 149.8L509.4 147.7L503.3 145.6L497.2 143.5L491.3 141.5L485.4 139.5L479.6 137.5M485.2 215.7L492.4 209.2L499.5 202.8L506.6 196.5L513.6 190.3L520.6 184.3L527.4 178.3L534.2 172.5L540.9 166.8L547.6 161.3L554.2 155.8L560.7 150.6L567.2 145.5L573.5 140.5L579.9 135.7L586.1 131.1L592.3 126.7L598.4 122.4L604.5 118.4L610.5 114.5L616.4 110.8M617.3 179.1L609.9 176.1L602.6 173.2L595.4 170.5L588.3 167.8L581.3 165.2L574.4 162.8L567.6 160.4L560.8 158.1L554.2 155.8L547.6 153.7L541.1 151.6L534.7 149.5L528.4 147.5L522.1 145.5L515.9 143.6L509.8 141.7L503.8 139.9L497.8 138.0L491.9 136.2L486.1 134.4M478.7 211.0L485.9 204.8L493.0 198.7L500.1 192.6L507.1 186.7L514.0 180.9L520.9 175.2L527.7 169.6L534.4 164.2L541.0 158.8L547.6 153.7L554.1 148.6L560.6 143.7L566.9 139.0L573.3 134.5L579.5 130.1L585.7 125.8L591.8 121.8L597.8 117.9L603.8 114.3L609.7 110.8M623.9 171.5L616.5 168.8L609.2 166.2L602.0 163.7L594.9 161.3L587.9 159.0L581.0 156.8L574.1 154.6L567.4 152.6L560.7 150.6L554.1 148.6L547.6 146.8L541.2 144.9L534.9 143.1L528.6 141.4L522.4 139.7L516.3 138.0L510.3 136.3L504.3 134.7L498.4 133.1L492.6 131.5M472.2 206.5L479.4 200.5L486.6 194.6L493.6 188.9L500.6 183.2L507.6 177.6L514.4 172.2L521.2 166.8L527.9 161.6L534.5 156.5L541.1 151.6L547.6 146.8L554.1 142.1L560.4 137.6L566.7 133.2L573.0 129.1L579.1 125.1L585.2 121.2L591.3 117.6L597.3 114.1L603.2 110.8M630.4 164.1L623.0 161.7L615.7 159.4L608.5 157.1L601.4 155.0L594.4 152.9L587.4 151.0L580.6 149.1L573.8 147.2L567.2 145.5L560.6 143.7L554.1 142.1L547.6 140.5L541.3 138.9L535.0 137.4L528.8 135.9L522.7 134.4L516.7 133.0L510.7 131.5L504.8 130.1L499.0 128.7M465.9 202.0L473.1 196.3L480.2 190.7L487.3 185.2L494.2 179.7L501.2 174.4L508.0 169.2L514.8 164.1L521.5 159.1L528.1 154.2L534.7 149.5L541.2 144.9L547.6 140.5L554.0 136.2L560.3 132.1L566.5 128.1L572.7 124.3L578.8 120.7L584.8 117.2L590.8 113.9L596.7 110.9M636.9 157.0L629.5 154.8L622.2 152.7L615.0 150.7L607.8 148.8L600.8 147.0L593.8 145.3L587.0 143.6L580.2 142.0L573.5 140.5L566.9 139.0L560.4 137.6L554.0 136.2L547.6 134.8L541.4 133.5L535.2 132.2L529.0 130.9L523.0 129.7L517.0 128.4L511.1 127.2L505.3 126.0M459.6 197.6L466.8 192.2L473.9 186.8L481.0 181.5L487.9 176.3L494.9 171.2L501.7 166.3L508.5 161.4L515.2 156.6L521.8 152.0L528.4 147.5L534.9 143.1L541.3 138.9L547.6 134.8L553.9 130.9L560.2 127.2L566.3 123.6L572.4 120.1L578.4 116.9L584.4 113.8L590.3 110.9M643.3 150.0L635.9 148.1L628.6 146.2L621.3 144.5L614.2 142.9L607.1 141.3L600.2 139.8L593.3 138.4L586.5 137.0L579.9 135.7L573.3 134.5L566.7 133.2L560.3 132.1L553.9 130.9L547.7 129.8L541.4 128.7L535.3 127.6L529.3 126.6L523.3 125.5L517.4 124.5L511.6 123.4M453.3 193.4L460.6 188.1L467.7 183.0L474.7 178.0L481.7 173.0L488.6 168.2L495.5 163.4L502.2 158.8L508.9 154.2L515.5 149.8L522.1 145.5L528.6 141.4L535.0 137.4L541.4 133.5L547.7 129.8L553.9 126.2L560.0 122.8L566.1 119.6L572.1 116.5L578.1 113.7L584.0 111.0M649.6 143.2L642.2 141.5L634.9 140.0L627.6 138.5L620.5 137.1L613.4 135.8L606.5 134.5L599.6 133.3L592.8 132.2L586.1 131.1L579.5 130.1L573.0 129.1L566.5 128.1L560.2 127.2L553.9 126.2L547.7 125.3L541.5 124.5L535.5 123.6L529.5 122.7L523.6 121.9L517.8 121.0M447.2 189.2L454.4 184.2L461.5 179.3L468.6 174.5L475.6 169.8L482.5 165.1L489.3 160.6L496.1 156.2L502.8 151.9L509.4 147.7L515.9 143.6L522.4 139.7L528.8 135.9L535.2 132.2L541.4 128.7L547.7 125.3L553.8 122.1L559.9 119.1L565.9 116.2L571.9 113.5L577.7 111.0M655.9 136.6L648.5 135.2L641.1 133.9L633.9 132.7L626.7 131.5L619.7 130.4L612.7 129.4L605.8 128.5L599.0 127.5L592.3 126.7L585.7 125.8L579.1 125.1L572.7 124.3L566.3 123.6L560.0 122.8L553.8 122.1L547.7 121.5L541.6 120.8L535.6 120.1L529.7 119.4L523.9 118.7M441.1 185.0L448.3 180.3L455.5 175.6L462.5 171.1L469.5 166.6L476.4 162.2L483.2 157.9L490.0 153.7L496.7 149.6L503.3 145.6L509.8 141.7L516.3 138.0L522.7 134.4L529.0 130.9L535.3 127.6L541.5 124.5L547.7 121.5L553.8 118.6L559.8 115.9L565.7 113.4L571.6 111.0M662.1 130.2L654.7 129.1L647.3 128.0L640.1 127.1L632.9 126.1L625.8 125.3L618.8 124.5L611.9 123.8L605.1 123.1L598.4 122.4L591.8 121.8L585.2 121.2L578.8 120.7L572.4 120.1L566.1 119.6L559.9 119.1L553.8 118.6L547.7 118.1L541.7 117.6L535.8 117.1L529.9 116.6M435.1 181.0L442.3 176.5L449.5 172.0L456.5 167.7L463.5 163.4L470.4 159.2L477.2 155.2L483.9 151.2L490.6 147.3L497.2 143.5L503.8 139.9L510.3 136.3L516.7 133.0L523.0 129.7L529.3 126.6L535.5 123.6L541.6 120.8L547.7 118.1L553.7 115.6L559.6 113.3L565.5 111.1M668.3 124.1L660.8 123.2L653.4 122.4L646.2 121.6L639.0 121.0L631.9 120.3L624.9 119.8L618.0 119.3L611.2 118.8L604.5 118.4L597.8 117.9L591.3 117.6L584.8 117.2L578.4 116.9L572.1 116.5L565.9 116.2L559.8 115.9L553.7 115.6L547.7 115.3L541.8 115.0L535.9 114.6M429.2 177.0L436.4 172.7L443.5 168.5L450.6 164.4L457.5 160.3L464.4 156.4L471.3 152.5L478.0 148.7L484.7 145.0L491.3 141.5L497.8 138.0L504.3 134.7L510.7 131.5L517.0 128.4L523.3 125.5L529.5 122.7L535.6 120.1L541.7 117.6L547.7 115.3L553.6 113.1L559.5 111.1M674.4 118.2L666.9 117.5L659.5 117.0L652.2 116.5L645.0 116.0L637.9 115.6L630.9 115.3L624.0 115.0L617.2 114.7L610.5 114.5L603.8 114.3L597.3 114.1L590.8 113.9L584.4 113.8L578.1 113.7L571.9 113.5L565.7 113.4L559.6 113.3L553.6 113.1L547.7 113.0L541.9 112.8M423.3 173.0L430.5 169.0L437.6 165.0L444.7 161.1L451.7 157.3L458.6 153.5L465.4 149.9L472.1 146.3L478.8 142.8L485.4 139.5L491.9 136.2L498.4 133.1L504.8 130.1L511.1 127.2L517.4 124.5L523.6 121.9L529.7 119.4L535.8 117.1L541.8 115.0L547.7 113.0L553.6 111.1M680.4 112.5L672.9 112.1L665.5 111.8L658.2 111.5L651.0 111.3L643.9 111.1L636.9 111.0L629.9 110.9L623.1 110.8L616.4 110.8L609.7 110.8L603.2 110.8L596.7 110.9L590.3 110.9L584.0 111.0L577.7 111.0L571.6 111.0L565.5 111.1L559.5 111.1L553.6 111.1L547.7 111.1M417.5 169.1L424.7 165.3L431.8 161.6L438.9 157.9L445.9 154.2L452.8 150.7L459.6 147.3L466.3 143.9L473.0 140.6L479.6 137.5L486.1 134.4L492.6 131.5L499.0 128.7L505.3 126.0L511.6 123.4L517.8 121.0L523.9 118.7L529.9 116.6L535.9 114.6L541.9 112.8L547.7 111.1" fill="none" stroke="#000" stroke-width="1.0" stroke-linejoin="round"/>
<circle cx="417.50" cy="168.60" r="2.75" fill="#c00000" stroke="#1a0000" stroke-width="0.9"/>
<circle cx="547.60" cy="153.20" r="2.75" fill="#c00000" stroke="#1a0000" stroke-width="0.9"/>
<circle cx="547.49" cy="262.20" r="2.75" fill="#c00000" stroke="#1a0000" stroke-width="0.9"/>
<circle cx="680.25" cy="115.00" r="2.75" fill="#f8c0c0" stroke="#1a0000" stroke-width="0.9"/>
<g font-family="Liberation Sans, sans-serif" fill="#4a4a4a"><text transform="translate(415.32 209.23) scale(1 1.0)" font-size="8.9" text-anchor="end">60</text><text transform="translate(414.53 192.60) scale(1 1.0)" font-size="8.9" text-anchor="end">80</text><text transform="translate(413.74 175.97) scale(1 1.0)" font-size="8.9" text-anchor="end">100</text><text transform="translate(412.95 159.34) scale(1 1.0)" font-size="8.9" text-anchor="end">120</text><text transform="translate(412.16 142.71) scale(1 1.0)" font-size="8.9" text-anchor="end">140</text><text transform="translate(411.37 126.09) scale(1 1.0)" font-size="8.9" text-anchor="end">160</text><text transform="translate(410.58 109.46) scale(1 1.0)" font-size="8.9" text-anchor="end">180</text><text transform="translate(409.79 92.83) scale(1 1.0)" font-size="8.9" text-anchor="end">200</text><text transform="translate(409.00 76.20) scale(1 1.0)" font-size="8.9" text-anchor="end">220</text><text transform="translate(416.50 262.20) scale(1 1.0)" font-size="8.9" text-anchor="end" letter-spacing="-0.3">1</text><text transform="translate(441.72 274.34) scale(1 1.0)" font-size="8.9" text-anchor="end" letter-spacing="-0.3">0.9</text><text transform="translate(466.94 286.48) scale(1 1.0)" font-size="8.9" text-anchor="end" letter-spacing="-0.3">0.8</text><text transform="translate(492.16 298.62) scale(1 1.0)" font-size="8.9" text-anchor="end" letter-spacing="-0.3">0.7</text><text transform="translate(517.38 310.76) scale(1 1.0)" font-size="8.9" text-anchor="end" letter-spacing="-0.3">0.6</text><text transform="translate(542.60 322.90) scale(1 1.0)" font-size="8.9" text-anchor="end" letter-spacing="-0.3">0.5</text><text transform="translate(552.10 322.90) scale(1 1.0)" font-size="8.9" letter-spacing="-0.3">1</text><text transform="translate(577.34 310.78) scale(1 1.0)" font-size="8.9" letter-spacing="-0.3">1.2</text><text transform="translate(602.58 298.66) scale(1 1.0)" font-size="8.9" letter-spacing="-0.3">1.4</text><text transform="translate(627.82 286.54) scale(1 1.0)" font-size="8.9" letter-spacing="-0.3">1.6</text><text transform="translate(653.06 274.42) scale(1 1.0)" font-size="8.9" letter-spacing="-0.3">1.8</text><text transform="translate(678.30 262.30) scale(1 1.0)" font-size="8.9" letter-spacing="-0.3">2</text><text transform="translate(435.40 308.10) scale(1 1.0)" font-size="8.1" text-anchor="middle">B: Corn cob (%)</text><text transform="translate(659.00 308.50) scale(1 1.0)" font-size="8.1" text-anchor="middle">A: CMC (%)</text><text transform="translate(373.50 169.40) rotate(-90) scale(1.0 1)" font-size="8.6" text-anchor="middle">Cellulase activity (U/ml)</text></g>
<path d="M399.30 574.81L525.21 532.47M525.21 532.47L651.36 574.74M398.50 558.53L525.22 517.70M525.22 517.70L652.10 558.43M397.70 542.26L525.22 502.93M525.22 502.93L652.84 542.13M396.90 525.98L525.23 488.16M525.23 488.16L653.59 525.82M396.10 509.70L525.23 473.39M525.23 473.39L654.33 509.52M395.30 493.43L525.24 458.61M525.24 458.61L655.07 493.21M394.50 477.15L525.24 443.84M525.24 443.84L655.81 476.91M393.70 460.88L525.25 429.07M525.25 429.07L656.56 460.60M392.90 444.60L525.25 414.30M525.25 414.30L657.30 444.30M392.90 444.60L401.30 615.50M419.37 438.54L424.48 566.34M445.84 432.48L449.66 557.87M472.31 426.42L474.85 549.41M498.78 420.36L500.03 540.94M525.25 414.30L525.21 532.47M551.66 420.30L550.44 540.92M578.07 426.30L575.67 549.38M604.48 432.30L600.90 557.83M630.89 438.30L626.13 566.28M657.30 444.30L649.50 615.50" stroke="#000" stroke-width="1.3" fill="none"/>
<path d="M525.25 414.30L525.20 569.40" stroke="#555" stroke-width="1.3" fill="none"/>
<path d="M401.30 615.50L525.20 569.40L649.50 615.50L525.20 674.80Z" fill="#676767" stroke="#000" stroke-width="1.2"/>
<path d="M430.08 604.87L430.77 605.18L431.47 605.49L432.16 605.80L432.85 606.11L433.54 606.42L434.23 606.73L434.92 607.04L435.60 607.36L436.29 607.68L436.97 608.00L437.65 608.32L438.33 608.64L438.68 608.81L439.01 608.96L439.68 609.29L440.36 609.61L441.03 609.94L441.70 610.27L442.37 610.60L443.04 610.93L443.71 611.26L444.37 611.60L445.04 611.93L445.70 612.27L446.36 612.61L447.02 612.95L447.68 613.29L448.34 613.64L449.00 613.98L449.65 614.33L450.31 614.68L450.96 615.03L451.01 615.06L451.61 615.38L452.26 615.73L452.91 616.08L453.55 616.44L454.20 616.79L454.84 617.15L455.49 617.51L456.13 617.87L456.77 618.24L457.41 618.60L457.74 618.79L458.05 618.97L458.68 619.34L459.32 619.70L459.95 620.07L460.59 620.45L461.22 620.82L461.85 621.20L462.48 621.57L462.95 621.86L463.11 621.95L463.73 622.33L464.36 622.71L464.99 623.09L465.61 623.48L466.23 623.86L466.85 624.25L467.35 624.56L467.47 624.64L468.09 625.03L468.71 625.42L469.33 625.82L469.95 626.21L470.56 626.61L471.18 627.01L471.22 627.04L471.79 627.41L472.40 627.81L473.01 628.21L473.62 628.62L474.23 629.02L474.72 629.35L474.84 629.43L475.45 629.84L476.06 630.25L476.66 630.66L477.26 631.08L477.87 631.49L477.94 631.55L478.47 631.91L479.07 632.33L479.67 632.75L480.27 633.17L480.87 633.60L480.93 633.64L481.47 634.02L482.07 634.45L482.66 634.88L483.26 635.31L483.74 635.66L483.85 635.74L484.45 636.18L485.04 636.61L485.63 637.05L486.22 637.49L486.40 637.62L486.81 637.93L487.40 638.37L487.99 638.82L488.58 639.26L488.93 639.53L489.17 639.71L489.76 640.16L490.34 640.61L490.93 641.06L491.35 641.39L491.51 641.51L492.10 641.97L492.68 642.43L493.26 642.89L493.66 643.21L493.84 643.35L494.42 643.81L495.00 644.27L495.58 644.74L495.89 644.99L496.16 645.21L496.74 645.68L497.32 646.15L497.89 646.62L498.05 646.75L498.47 647.10L499.05 647.57L499.62 648.05L500.13 648.48L500.19 648.53L500.77 649.01L501.34 649.49L501.91 649.98L502.15 650.19L502.49 650.47L503.06 650.96L503.63 651.45L504.12 651.87L504.20 651.94L504.77 652.43L505.34 652.93L505.91 653.43L506.03 653.54L506.47 653.93L507.04 654.43L507.61 654.93L507.90 655.19L508.17 655.44L508.74 655.94L509.31 656.45L509.72 656.83L509.87 656.96L510.44 657.48L511.00 657.99L511.50 658.45L511.56 658.51L512.13 659.02L512.69 659.54L513.24 660.06L513.25 660.07L513.81 660.59L514.37 661.11L514.94 661.64L514.95 661.66L515.50 662.17L516.06 662.70L516.62 663.24L516.62 663.25L517.18 663.77L517.73 664.31L518.27 664.82L518.29 664.85L518.85 665.39L519.41 665.93L519.88 666.40L519.97 666.48L520.52 667.02L521.08 667.57L521.47 667.96L521.64 668.12L522.19 668.68L522.75 669.23L523.03 669.51L523.30 669.79L523.86 670.35L524.41 670.91L524.57 671.06L524.97 671.47L525.52 672.04L526.08 672.60L526.08 672.61L526.63 673.17L527.18 673.74" stroke="#00ffb2" stroke-width="2.5" fill="none" stroke-linecap="round"/>
<path d="M463.89 592.19L464.49 592.52L465.09 592.84L465.59 593.11L465.69 593.17L466.29 593.50L466.89 593.83L467.48 594.16L468.08 594.49L468.67 594.83L469.26 595.16L469.85 595.50L470.07 595.63L470.44 595.84L471.02 596.18L471.61 596.52L472.19 596.87L472.78 597.21L473.36 597.56L473.86 597.86L473.94 597.90L474.51 598.25L475.09 598.60L475.67 598.95L476.24 599.31L476.82 599.66L477.22 599.91L477.39 600.02L477.96 600.38L478.53 600.73L479.10 601.09L479.67 601.46L480.23 601.82L480.26 601.84L480.80 602.18L481.36 602.55L481.93 602.92L482.49 603.29L483.05 603.66L483.06 603.67L483.61 604.03L484.17 604.40L484.73 604.78L485.28 605.15L485.68 605.42L485.84 605.53L486.39 605.91L486.95 606.29L487.50 606.67L488.05 607.06L488.14 607.12L488.60 607.44L489.15 607.83L489.70 608.22L490.25 608.61L490.47 608.76L490.80 609.00L491.34 609.39L491.89 609.78L492.43 610.18L492.69 610.37L492.98 610.58L493.52 610.97L494.06 611.37L494.60 611.77L494.82 611.93L495.14 612.18L495.68 612.58L496.22 612.99L496.76 613.39L496.86 613.47L497.30 613.80L497.84 614.21L498.37 614.62L498.83 614.98L498.91 615.04L499.44 615.45L499.98 615.87L500.51 616.28L500.74 616.47L501.04 616.70L501.57 617.12L502.10 617.54L502.59 617.93L502.63 617.97L503.17 618.39L503.69 618.82L504.22 619.25L504.39 619.38L504.75 619.68L505.28 620.11L505.81 620.54L506.14 620.81L506.33 620.97L506.86 621.41L507.38 621.85L507.84 622.23L507.91 622.29L508.43 622.73L508.95 623.17L509.48 623.61L509.51 623.64L510.00 624.05L510.52 624.50L511.04 624.95L511.13 625.03L511.56 625.40L512.08 625.85L512.60 626.30L512.73 626.41L513.12 626.76L513.64 627.21L514.16 627.67L514.29 627.78L514.68 628.13L515.20 628.59L515.71 629.05L515.82 629.15L516.23 629.51L516.75 629.98L517.26 630.44L517.33 630.50L517.78 630.91L518.30 631.38L518.81 631.85L518.81 631.85L519.32 632.33L519.84 632.80L520.26 633.20L520.35 633.28L520.87 633.76L521.38 634.23L521.70 634.53L521.89 634.72L522.40 635.20L522.92 635.68L523.11 635.86L523.43 636.17L523.94 636.66L524.45 637.15L524.50 637.19L524.96 637.64L525.47 638.13L525.87 638.51L525.98 638.62L526.49 639.12L527.00 639.62L527.22 639.83L527.51 640.12L528.02 640.62L528.53 641.12L528.56 641.15L529.04 641.62L529.55 642.13L529.88 642.46L530.06 642.64L530.57 643.15L531.07 643.66L531.18 643.77L531.58 644.17L532.09 644.69L532.47 645.07L532.60 645.20L533.10 645.72L533.61 646.24L533.75 646.38L534.12 646.76L534.63 647.28L535.01 647.68L535.13 647.81L535.64 648.34L536.14 648.86L536.26 648.98L536.65 649.39L537.16 649.93L537.49 650.28L537.66 650.46L538.17 651.00L538.67 651.53L538.72 651.58L539.18 652.07L539.69 652.61L539.93 652.88L540.19 653.16L540.70 653.70L541.13 654.18L541.20 654.25L541.71 654.80L542.21 655.35L542.33 655.47L542.72 655.90L543.22 656.45L543.51 656.77L543.73 657.01L544.23 657.57L544.68 658.06L544.74 658.13L545.24 658.69L545.75 659.25L545.84 659.36L546.25 659.81L546.76 660.38L547.00 660.65L547.26 660.95L547.77 661.52L548.14 661.95L548.27 662.09L548.77 662.67L549.28 663.25" stroke="#00ff2a" stroke-width="2.5" fill="none" stroke-linecap="round"/>
<path d="M507.22 575.94L507.49 576.24L507.57 576.34L507.93 576.74L508.24 577.08L508.28 577.14L508.64 577.54L508.99 577.93L509.00 577.93L509.36 578.33L509.72 578.73L509.76 578.78L510.08 579.14L510.44 579.54L510.53 579.63L510.80 579.94L511.17 580.34L511.30 580.49L511.53 580.75L511.90 581.15L512.09 581.36L512.27 581.56L512.63 581.96L512.87 582.23L513.00 582.37L513.37 582.78L513.67 583.10L513.74 583.19L514.12 583.59L514.47 583.98L514.49 584.00L514.86 584.41L515.23 584.83L515.27 584.86L515.61 585.24L515.98 585.65L516.07 585.75L516.36 586.07L516.74 586.48L516.88 586.64L517.12 586.90L517.50 587.31L517.70 587.53L517.88 587.73L518.26 588.15L518.51 588.43L518.64 588.57L519.02 588.99L519.33 589.33L519.40 589.41L519.78 589.83L520.15 590.24L520.17 590.25L520.55 590.68L520.94 591.10L520.98 591.15L521.32 591.53L521.71 591.95L521.80 592.06L522.09 592.38L522.48 592.81L522.63 592.97L522.87 593.24L523.26 593.67L523.46 593.89L523.65 594.10L524.04 594.53L524.29 594.81L524.43 594.96L524.82 595.40L525.13 595.74L525.21 595.83L525.60 596.27L525.96 596.67L526.00 596.71L526.39 597.14L526.78 597.58L526.80 597.60L527.18 598.02L527.57 598.47L527.63 598.53L527.97 598.91L528.36 599.35L528.47 599.47L528.76 599.80L529.16 600.24L529.31 600.41L529.56 600.69L529.95 601.14L530.15 601.36L530.35 601.58L530.75 602.03L530.99 602.30L531.15 602.49L531.55 602.94L531.83 603.25L531.95 603.39L532.35 603.85L532.67 604.20L532.75 604.30L533.16 604.76L533.51 605.16L533.56 605.21L533.96 605.67L534.35 606.12L534.36 606.13L534.77 606.59L535.17 607.06L535.19 607.08L535.58 607.52L535.98 607.99L536.03 608.04L536.39 608.45L536.80 608.92L536.87 609.01L537.20 609.39L537.61 609.86L537.71 609.98L538.02 610.33L538.42 610.80L538.55 610.95L538.83 611.27L539.24 611.74L539.39 611.92L539.65 612.22L540.06 612.70L540.23 612.90L540.47 613.17L540.88 613.65L541.07 613.88L541.29 614.13L541.71 614.62L541.91 614.86L542.12 615.10L542.53 615.58L542.75 615.85L542.94 616.07L543.36 616.56L543.59 616.84L543.77 617.04L544.19 617.53L544.43 617.83L544.60 618.02L545.02 618.51L545.27 618.82L545.43 619.01L545.85 619.50L546.11 619.82L546.26 620.00L546.68 620.50L546.95 620.82L547.10 620.99L547.52 621.49L547.79 621.82L547.93 622.00L548.35 622.50L548.62 622.82L548.77 623.00L549.19 623.51L549.46 623.83L549.61 624.01L550.03 624.52L550.29 624.84L550.45 625.03L550.87 625.54L551.13 625.85L551.30 626.05L551.72 626.57L551.96 626.87L552.14 627.08L552.56 627.60L552.80 627.89L552.99 628.12L553.41 628.64L553.63 628.91L553.83 629.16L554.26 629.68L554.46 629.93L554.68 630.20L555.11 630.73L555.30 630.96L555.54 631.26L555.96 631.78L556.13 631.99L556.39 632.31L556.82 632.85L556.96 633.02L557.24 633.38L557.67 633.91L557.79 634.06L558.10 634.45L558.53 634.98L558.62 635.10L558.96 635.52L559.39 636.06L559.45 636.14L559.82 636.61L560.25 637.15L560.28 637.18L560.68 637.69L561.10 638.23L561.11 638.24L561.55 638.79L561.93 639.28L561.98 639.34L562.41 639.89L562.76 640.33L562.84 640.44L563.28 641.00L563.58 641.39L563.71 641.55L564.15 642.11L564.41 642.44L564.58 642.67L565.02 643.23L565.23 643.51L565.45 643.79L565.89 644.36L566.06 644.57L566.33 644.92L566.76 645.49L566.88 645.64L567.20 646.06L567.64 646.63L567.70 646.71L568.08 647.20L568.52 647.77L568.52 647.78L568.96 648.35L569.35 648.86L569.40 648.93L569.84 649.51L570.17 649.94L570.28 650.09L570.72 650.67L570.99 651.02L571.16 651.25L571.61 651.84L571.81 652.11L572.05 652.43" stroke="#5eff00" stroke-width="2.5" fill="none" stroke-linecap="round"/>
<path d="M570.58 586.12L570.61 586.35L570.65 586.69L570.68 586.92L570.73 587.26L570.76 587.48L570.81 587.84L570.85 588.04L570.91 588.42L570.94 588.60L571.02 589.01L571.05 589.15L571.14 589.61L571.16 589.71L571.26 590.21L571.28 590.26L571.40 590.82L571.40 590.82L571.53 591.37L571.54 591.43L571.67 591.92L571.70 592.04L571.81 592.47L571.86 592.66L571.96 593.02L572.03 593.29L572.11 593.57L572.21 593.92L572.27 594.12L572.39 594.55L572.43 594.67L572.59 595.19L572.60 595.21L572.77 595.76L572.80 595.84L572.95 596.31L573.01 596.49L573.13 596.85L573.23 597.14L573.32 597.40L573.46 597.80L573.51 597.95L573.70 598.47L573.71 598.49L573.91 599.04L573.94 599.14L574.11 599.58L574.20 599.81L574.32 600.13L574.46 600.49L574.53 600.67L574.73 601.17L574.75 601.22L574.97 601.77L575.00 601.86L575.19 602.31L575.29 602.56L575.41 602.86L575.58 603.26L575.64 603.40L575.87 603.95L575.88 603.96L576.11 604.50L576.18 604.67L576.35 605.05L576.50 605.38L576.59 605.59L576.82 606.10L576.84 606.14L577.08 606.69L577.14 606.82L577.34 607.24L577.48 607.55L577.59 607.79L577.82 608.28L577.85 608.34L578.10 608.89L578.16 609.01L578.37 609.44L578.52 609.75L578.63 609.99L578.88 610.50L578.90 610.54L579.17 611.09L579.24 611.25L579.44 611.65L579.62 612.00L579.71 612.20L579.99 612.76L579.99 612.76L580.27 613.31L580.38 613.53L580.55 613.87L580.77 614.30L580.84 614.42L581.12 614.98L581.16 615.07L581.41 615.54L581.57 615.84L581.70 616.10L581.97 616.63L581.99 616.66L582.29 617.22L582.39 617.41L582.58 617.78L582.81 618.20L582.88 618.34L583.18 618.91L583.23 619.00L583.48 619.47L583.66 619.80L583.79 620.04L584.09 620.60L584.10 620.60L584.40 621.17L584.53 621.41L584.71 621.74L584.98 622.22L585.03 622.31L585.34 622.88L585.43 623.04L585.65 623.45L585.88 623.86L585.97 624.02L586.29 624.59L586.34 624.68L586.61 625.17L586.80 625.51L586.93 625.74L587.26 626.32L587.27 626.34L587.58 626.89L587.75 627.18L587.91 627.47L588.22 628.02L588.24 628.05L588.57 628.63L588.70 628.87L588.90 629.22L589.19 629.72L589.24 629.80L589.57 630.38L589.68 630.57L589.91 630.97L590.18 631.43L590.25 631.56L590.59 632.14L590.67 632.30L590.93 632.73L591.18 633.16L591.27 633.32L591.61 633.92L591.68 634.03L591.96 634.51L592.19 634.91L592.31 635.10L592.66 635.70L592.71 635.79L593.01 636.30L593.23 636.67L593.36 636.89L593.71 637.49L593.75 637.56L594.06 638.09L594.27 638.45L594.42 638.70L594.77 639.30L594.80 639.35L595.13 639.91L595.33 640.25L595.49 640.51L595.85 641.12" stroke="#e7ff00" stroke-width="2.5" fill="none" stroke-linecap="round"/>
<path d="M614.67 602.64L614.68 602.81L614.71 603.22L614.74 603.46L614.77 603.80L614.80 604.11L614.82 604.39L614.86 604.75L614.89 604.99L614.94 605.40L614.96 605.59L615.02 606.04L615.04 606.19L615.11 606.68L615.12 606.80L615.20 607.32L615.22 607.41L615.30 607.96L615.31 608.02L615.41 608.60L615.42 608.64L615.52 609.24L615.53 609.27L615.64 609.88L615.64 609.89L615.77 610.52L615.77 610.52L615.90 611.16L615.90 611.16L616.03 611.79L616.03 611.80L616.17 612.43L616.17 612.44L616.32 613.07L616.32 613.09L616.47 613.70L616.48 613.74L616.62 614.34L616.64 614.40L616.78 614.97L616.80 615.06L616.95 615.61L616.97 615.72L617.11 616.25L617.15 616.39L617.29 616.88L617.34 617.06L617.46 617.52L617.53 617.74L617.65 618.16L617.72 618.42L617.83 618.79L617.92 619.10L618.02 619.43L618.13 619.79L618.21 620.07L618.34 620.49L618.41 620.70L618.56 621.18L618.61 621.34L618.79 621.88L618.82 621.98L619.02 622.59L619.03 622.62L619.24 623.26L619.25 623.30L619.45 623.90L619.49 624.01L619.67 624.54L619.74 624.73L619.89 625.18L619.99 625.45L620.12 625.82L620.24 626.18L620.35 626.46L620.51 626.91L620.58 627.10L620.77 627.64L620.81 627.75L621.05 628.38L621.05 628.39L621.29 629.03" stroke="#ff8f00" stroke-width="2.5" fill="none" stroke-linecap="round"/>
<path d="M401.30 615.50L525.20 674.80L649.50 615.50" stroke="#000" stroke-width="1.5" fill="none"/>
<g fill="#000"><circle cx="401.30" cy="615.50" r="1.35"/><circle cx="525.20" cy="674.80" r="1.35"/><circle cx="426.08" cy="627.36" r="1.35"/><circle cx="550.06" cy="662.94" r="1.35"/><circle cx="450.86" cy="639.22" r="1.35"/><circle cx="574.92" cy="651.08" r="1.35"/><circle cx="475.64" cy="651.08" r="1.35"/><circle cx="599.78" cy="639.22" r="1.35"/><circle cx="500.42" cy="662.94" r="1.35"/><circle cx="624.64" cy="627.36" r="1.35"/><circle cx="525.20" cy="674.80" r="1.35"/><circle cx="649.50" cy="615.50" r="1.35"/><circle cx="399.30" cy="574.81" r="1.35"/><circle cx="398.50" cy="558.53" r="1.35"/><circle cx="397.70" cy="542.26" r="1.35"/><circle cx="396.90" cy="525.98" r="1.35"/><circle cx="396.10" cy="509.70" r="1.35"/><circle cx="395.30" cy="493.43" r="1.35"/><circle cx="394.50" cy="477.15" r="1.35"/><circle cx="393.70" cy="460.88" r="1.35"/><circle cx="392.90" cy="444.60" r="1.35"/><circle cx="392.90" cy="444.60" r="1.35"/></g>
<g stroke-width="4.5" transform="scale(0.1)"><path d="M5251 5905l36 -38l-36 -6l-36 38zm-72 -55l36 -37l-35 -6l-36 37zm-69 -55l35 -36l-35 -6l-35 35zm-68 -56l35 -34l-34 -7l-35 34zm-100 -62l35 -33l-33 -7l-35 32zm-96 -64l35 -31l-32 -8l-35 31zm-93 -63l34 -30l-31 -8l-34 29zm-31 -9l34 -29l-31 -9l-35 29zm-120 -74l34 -28l-31 -9l-34 28zm-31 -9l34 -28l-30 -9l-34 27zm-30 -10l34 -27l-30 -10l-34 27z" fill="#00ffb8" stroke="#00ffb8"/><path d="M5215 5899l36 -38l-36 -5l-36 37zm-71 -55l36 -37l-35 -6l-36 36zm-69 -56l35 -35l-34 -7l-36 35zm-166 -119l35 -32l-33 -8l-35 32zm-95 -64l35 -31l-32 -8l-35 31zm-32 -8l35 -31l-32 -8l-35 30zm-123 -74l35 -29l-31 -9l-35 29zm-31 -9l35 -29l-31 -9l-34 28zm-176 -95l34 -27l-30 -10l-34 26zm-30 -11l34 -26l-29 -10l-34 26zm-29 -10l34 -26l-29 -10l-34 26zm-29 -10l34 -26l-29 -10l-34 25zm-29 -11l34 -25l-29 -11l-33 26zm-28 -10l33 -26l-28 -10l-34 25zm-29 -11l34 -25l-29 -11l-33 25zm-28 -11l33 -25l-28 -10l-34 24z" fill="#00ffc0" stroke="#00ffc0"/><path d="M5179 5893l36 -37l-36 -6l-36 37zm-70 -56l36 -36l-35 -6l-36 35zm-69 -56l36 -35l-34 -7l-36 35zm-100 -64l36 -33l-34 -7l-35 33zm-96 -64l35 -32l-33 -8l-35 32zm-126 -74l35 -29l-31 -9l-35 30zm-151 -84l35 -28l-31 -9l-34 27zm-30 -10l34 -27l-30 -10l-34 28zm-30 -9l34 -28l-30 -10l-34 28z" fill="#00ffc8" stroke="#00ffc8"/><path d="M5143 5887l36 -37l-35 -6l-36 36zm-69 -57l36 -35l-35 -7l-36 35zm-102 -64l36 -34l-34 -7l-35 34zm-98 -64l35 -33l-33 -8l-35 33zm-95 -66l35 -31l-32 -8l-35 31zm-123 -75l34 -29l-31 -9l-34 29zm-31 -9l34 -29l-31 -9l-34 29zm-207 -107l34 -26l-30 -11l-34 27zm-30 -10l34 -27l-29 -10l-34 26zm-29 -11l34 -26l-29 -10l-34 26zm-29 -10l34 -26l-29 -11l-34 26zm-29 -11l34 -26l-28 -10l-34 25zm-28 -11l34 -25l-29 -11l-34 25zm-29 -11l34 -25l-28 -11l-34 25zm-28 -11l34 -25l-29 -11l-33 25z" fill="#00ffd0" stroke="#00ffd0"/><path d="M5108 5880l36 -36l-35 -7l-36 37zm-69 -57l36 -35l-35 -7l-35 35zm-292 -195l35 -31l-32 -9l-35 31zm-153 -85l34 -29l-30 -10l-35 29zm-31 -10l35 -29l-31 -9l-34 28z" fill="#00ffd4" stroke="#00ffd4"/><path d="M5073 5874l36 -37l-35 -7l-36 37zm-168 -123l35 -34l-33 -7l-35 33zm-96 -66l35 -32l-33 -8l-35 32zm-157 -84l35 -30l-31 -10l-35 30zm-179 -98l34 -27l-30 -10l-34 27zm-30 -10l34 -27l-30 -11l-34 28zm-30 -10l34 -28l-29 -10l-34 27z" fill="#00ffdc" stroke="#00ffdc"/><path d="M5038 5867l36 -37l-35 -7l-36 36zm-101 -66l35 -35l-33 -7l-36 34zm-98 -66l35 -33l-33 -8l-35 32zm-280 -163l35 -29l-31 -10l-34 29z" fill="#00ffe4" stroke="#00ffe4"/><path d="M5003 5859l36 -36l-34 -7l-36 36zm-100 -66l36 -34l-34 -8l-35 34zm-97 -67l35 -32l-32 -9l-36 33zm-94 -67l35 -31l-32 -9l-35 31zm-32 -9l35 -31l-31 -9l-35 31zm-151 -88l34 -29l-30 -10l-35 29zm-31 -10l35 -29l-30 -10l-35 29zm-30 -10l35 -29l-30 -10l-35 29z" fill="#00ffe8" stroke="#00ffe8"/><path d="M4969 5852l36 -36l-34 -7l-36 35zm-99 -67l35 -34l-33 -8l-36 34zm-129 -76l35 -32l-32 -9l-35 32zm-123 -78l34 -30l-31 -10l-35 30zm-32 -10l35 -30l-31 -9l-35 30zm-237 -121l35 -28l-30 -10l-34 27zm-29 -11l34 -27l-29 -11l-34 27zm-29 -11l34 -27l-29 -11l-34 27zm-29 -11l34 -27l-29 -11l-34 27zm-29 -11l34 -27l-28 -11l-35 27zm-29 -11l35 -27l-29 -11l-34 26zm-28 -12l34 -26l-28 -11l-34 26zm-28 -11l34 -26l-28 -12l-34 26z" fill="#00fff0" stroke="#00fff0"/><path d="M4935 5844l36 -35l-34 -8l-36 35zm-99 -67l36 -34l-33 -8l-36 33zm-127 -77l35 -32l-32 -9l-35 32zm-154 -88l35 -30l-31 -10l-34 30z" fill="#00fff4" stroke="#00fff4"/><path d="M4901 5836l36 -35l-34 -8l-36 35zm-98 -68l36 -33l-33 -9l-35 33zm-126 -77l35 -32l-32 -9l-35 31zm-152 -89l34 -30l-30 -10l-35 30zm-31 -10l35 -30l-31 -10l-34 29zm-30 -11l34 -29l-30 -10l-34 29z" fill="#00fff8" stroke="#00fff8"/><path d="M4867 5828l36 -35l-33 -8l-36 34zm-253 -156l35 -31l-31 -10l-35 31zm-270 -133l35 -28l-30 -11l-34 28zm-29 -11l34 -28l-29 -11l-35 28zm-30 -11l35 -28l-29 -11l-35 28zm-29 -11l35 -28l-29 -11l-35 27zm-29 -12l35 -27l-29 -11l-34 27zm-28 -11l34 -27l-29 -11l-34 26zm-29 -12l34 -26l-28 -12l-34 27zm-28 -11l34 -27l-28 -11l-35 26zm-29 -12l35 -26l-28 -12l-35 26z" fill="#00ffff" stroke="#00ffff"/><path d="M4834 5819l36 -34l-34 -8l-35 34zm-96 -68l35 -33l-32 -9l-35 32zm-155 -89l35 -31l-32 -10l-35 31zm-32 -10l35 -31l-31 -9l-35 30z" fill="#00fcff" stroke="#00fcff"/><path d="M4801 5811l35 -34l-33 -9l-35 34zm-95 -70l35 -32l-32 -9l-35 32zm-32 -9l35 -32l-32 -9l-35 32zm-154 -90l35 -30l-30 -10l-35 30zm-30 -10l35 -30l-31 -10l-35 29z" fill="#00f8ff" stroke="#00f8ff"/><path d="M4768 5802l35 -34l-32 -9l-36 34zm-33 -9l36 -34l-33 -8l-36 33zm-125 -80l35 -32l-31 -9l-35 31zm-211 -113l35 -29l-30 -11l-35 29zm-30 -11l35 -29l-30 -10l-35 28zm-30 -11l35 -28l-30 -11l-35 28zm-30 -11l35 -28l-29 -11l-35 28zm-29 -11l35 -28l-30 -11l-34 28zm-29 -11l34 -28l-29 -11l-34 27zm-29 -12l34 -27l-29 -12l-34 28zm-29 -11l34 -28l-28 -11l-35 27zm-29 -12l35 -27l-29 -12l-34 27zm-28 -12l34 -27l-28 -11l-35 26zm-29 -12l35 -26l-29 -12l-34 26zm-28 -12l34 -26l-28 -12l-34 26z" fill="#00f0ff" stroke="#00f0ff"/><path d="M4702 5784l36 -33l-32 -10l-36 33zm-32 -10l36 -33l-32 -9l-36 33zm-154 -91l35 -31l-31 -10l-35 31zm-31 -10l35 -31l-30 -10l-35 30z" fill="#00e8ff" stroke="#00e8ff"/><path d="M4638 5765l36 -33l-32 -9l-36 32zm-183 -103l35 -30l-31 -11l-35 31zm-31 -10l35 -31l-30 -10l-35 30z" fill="#00e4ff" stroke="#00e4ff"/><path d="M4606 5755l36 -32l-32 -10l-35 32zm-212 -114l35 -30l-30 -11l-35 30zm-30 -11l35 -30l-30 -11l-35 30zm-30 -11l35 -30l-30 -11l-35 30zm-30 -11l35 -30l-30 -11l-34 29zm-29 -12l34 -29l-29 -11l-35 29zm-30 -11l35 -29l-29 -11l-35 28zm-87 -35l35 -28l-29 -12l-35 28zm-29 -12l35 -28l-28 -12l-35 28zm-28 -12l35 -28l-29 -12l-35 28zm-29 -12l35 -28l-28 -12l-35 27zm-28 -13l35 -27l-28 -12l-35 27z" fill="#00e0ff" stroke="#00e0ff"/><path d="M4575 5745l35 -32l-31 -10l-36 32zm-32 -10l36 -32l-32 -10l-35 32zm-327 -162l35 -28l-29 -12l-35 29zm-29 -11l35 -29l-29 -11l-35 28z" fill="#00dcff" stroke="#00dcff"/><path d="M4512 5725l35 -32l-31 -10l-35 31zm-31 -11l35 -31l-31 -10l-35 31z" fill="#00d8ff" stroke="#00d8ff"/><path d="M4450 5704l35 -31l-30 -11l-36 31z" fill="#00d4ff" stroke="#00d4ff"/><path d="M4419 5693l36 -31l-31 -10l-35 30zm-30 -11l35 -30l-30 -11l-35 30zm-30 -11l35 -30l-30 -11l-35 30zm-30 -11l35 -30l-30 -11l-35 30zm-30 -11l35 -30l-30 -11l-35 29zm-233 -95l35 -28l-29 -12l-34 27zm-28 -13l34 -27l-28 -13l-35 28zm-29 -12l35 -28l-28 -12l-35 27z" fill="#00d0ff" stroke="#00d0ff"/><path d="M4269 5637l35 -29l-29 -12l-35 30zm-29 -11l35 -30l-30 -11l-35 29zm-30 -12l35 -29l-29 -12l-35 29zm-29 -12l35 -29l-29 -11l-35 28zm-29 -12l35 -28l-29 -12l-35 28zm-29 -12l35 -28l-29 -12l-35 28zm-29 -12l35 -28l-28 -12l-35 28z" fill="#00ccff" stroke="#00ccff"/><path d="M5287 5867l36 -38l-36 -5l-36 37zm-107 -102l36 -35l-35 -6l-36 35zm-69 -53l36 -34l-35 -6l-35 33zm-100 -61l35 -32l-34 -7l-35 32zm-65 -53l35 -31l-33 -8l-35 31zm-95 -62l34 -29l-32 -8l-34 29zm-32 -8l34 -29l-31 -8l-35 29zm-91 -62l34 -28l-31 -9l-34 28zm-31 -9l34 -28l-31 -8l-34 27zm-148 -81l34 -26l-30 -10l-34 26zm-30 -10l34 -26l-29 -9l-34 25zm-29 -10l34 -25l-30 -9l-33 25zm-29 -9l33 -25l-29 -10l-33 25z" fill="#00ffa0" stroke="#00ffa0"/><path d="M5251 5861l36 -37l-36 -5l-36 37zm-208 -163l35 -33l-34 -7l-35 33zm-66 -54l35 -32l-33 -7l-35 32zm-96 -62l34 -30l-32 -8l-34 30zm-94 -62l35 -29l-32 -8l-34 29zm-31 -8l34 -29l-31 -9l-34 29zm-120 -73l33 -27l-30 -9l-34 27zm-31 -9l34 -27l-30 -9l-34 27zm-30 -9l34 -27l-30 -9l-34 26z" fill="#00ffa8" stroke="#00ffa8"/><path d="M5215 5856l36 -37l-36 -6l-36 37zm-70 -55l35 -36l-35 -6l-35 36zm-69 -55l35 -34l-34 -7l-35 34zm-67 -55l35 -33l-33 -7l-35 33zm-98 -62l35 -31l-33 -8l-34 31zm-94 -63l34 -30l-32 -8l-34 30zm-123 -72l34 -28l-31 -9l-34 28zm-31 -9l34 -28l-31 -9l-34 28zm-177 -93l33 -26l-29 -10l-34 26zm-30 -10l34 -26l-29 -9l-34 25zm-29 -10l34 -25l-29 -10l-34 25zm-29 -10l34 -25l-29 -10l-34 25zm-29 -10l34 -25l-29 -10l-34 24z" fill="#00ffb0" stroke="#00ffb0"/><path d="M5005 5816l35 -35l-34 -7l-35 35zm-66 -57l35 -34l-34 -8l-35 34zm-98 -65l35 -33l-32 -8l-35 32zm-126 -75l35 -31l-32 -9l-34 31zm-31 -9l34 -31l-31 -8l-35 30zm-151 -87l34 -28l-30 -10l-34 28zm-30 -10l34 -28l-30 -9l-34 27z" fill="#00ffd8" stroke="#00ffd8"/><path d="M4971 5809l35 -35l-34 -8l-35 35zm-99 -66l35 -33l-33 -8l-35 33zm-96 -66l35 -32l-32 -9l-35 32zm-32 -9l35 -32l-32 -8l-35 31zm-123 -77l35 -30l-31 -9l-35 30zm-31 -9l35 -30l-31 -9l-35 29zm-206 -110l34 -27l-30 -10l-34 27zm-30 -10l34 -27l-29 -11l-34 27zm-29 -11l34 -27l-29 -10l-34 26zm-29 -11l34 -26l-29 -11l-34 26zm-29 -11l34 -26l-28 -11l-34 26zm-28 -11l34 -26l-29 -11l-34 26zm-29 -11l34 -26l-28 -11l-34 26zm-28 -11l34 -26l-28 -11l-34 25z" fill="#00ffe0" stroke="#00ffe0"/><path d="M4771 5759l35 -33l-33 -8l-35 33zm-126 -78l35 -31l-31 -9l-35 31zm-211 -110l34 -29l-30 -10l-34 28zm-30 -11l34 -28l-30 -11l-34 29zm-30 -10l34 -29l-29 -10l-35 28z" fill="#00fffc" stroke="#00fffc"/><path d="M4642 5723l35 -32l-32 -10l-35 32zm-183 -102l35 -29l-30 -11l-35 30zm-30 -10l35 -30l-30 -10l-35 29z" fill="#00f4ff" stroke="#00f4ff"/><path d="M4579 5703l35 -31l-31 -10l-36 31zm-32 -10l36 -31l-32 -10l-35 31z" fill="#00ecff" stroke="#00ecff"/><path d="M5323 5829l36 -37l-36 -5l-36 37zm-342 -262l34 -31l-33 -7l-34 30zm-96 -60l34 -30l-32 -7l-34 29zm-92 -61l34 -28l-32 -8l-33 28zm-150 -78l33 -26l-30 -9l-33 26zm-30 -9l33 -26l-30 -9l-33 26z" fill="#00ff8c" stroke="#00ff8c"/><path d="M5287 5824l36 -37l-36 -5l-36 37zm-275 -212l35 -32l-33 -6l-35 31zm-190 -121l34 -29l-32 -8l-34 29zm-122 -70l34 -27l-31 -9l-34 27zm-206 -99l34 -25l-30 -10l-33 25zm-29 -10l33 -25l-29 -9l-33 24zm-29 -10l33 -24l-28 -10l-34 24z" fill="#00ff94" stroke="#00ff94"/><path d="M5251 5819l36 -37l-36 -5l-36 36zm-207 -161l35 -32l-33 -7l-35 32zm-285 -184l34 -28l-31 -8l-34 28zm-150 -80l34 -26l-30 -9l-34 26zm-30 -9l34 -26l-30 -9l-34 26z" fill="#00ff9c" stroke="#00ff9c"/><path d="M5215 5813l36 -36l-36 -6l-35 36zm-70 -54l36 -35l-35 -6l-36 35zm-68 -54l35 -33l-34 -7l-35 33zm-164 -115l35 -31l-33 -7l-34 30zm-247 -142l34 -27l-31 -9l-33 27zm-234 -111l33 -25l-29 -10l-33 25zm-29 -10l33 -25l-29 -10l-33 25zm-29 -10l33 -25l-28 -10l-34 24zm-29 -11l34 -24l-29 -10l-33 24zm-28 -10l33 -24l-28 -10l-33 24z" fill="#00ffa4" stroke="#00ffa4"/><path d="M5180 5807l35 -36l-35 -6l-35 36zm-70 -54l36 -35l-35 -6l-35 34zm-166 -116l35 -32l-33 -7l-35 31zm-95 -63l34 -30l-32 -8l-34 30zm-124 -71l34 -29l-31 -8l-34 28zm-180 -92l34 -26l-30 -9l-34 26zm-30 -9l34 -26l-30 -10l-33 26z" fill="#00ffac" stroke="#00ffac"/><path d="M5006 5774l36 -35l-34 -7l-36 34zm-99 -64l35 -33l-33 -8l-35 33zm-96 -65l35 -32l-32 -8l-35 31zm-124 -74l35 -30l-32 -9l-34 29zm-210 -105l34 -28l-30 -10l-34 27zm-30 -11l34 -27l-29 -9l-34 26z" fill="#00ffcc" stroke="#00ffcc"/><path d="M4773 5718l36 -33l-33 -8l-35 32zm-124 -77l35 -31l-32 -9l-34 30zm-211 -109l35 -29l-30 -10l-35 28zm-30 -11l35 -28l-30 -10l-34 28zm-29 -10l34 -28l-29 -11l-35 28z" fill="#00ffec" stroke="#00ffec"/><path d="M5359 5792l36 -37l-37 -4l-35 36zm-177 -148l34 -33l-34 -6l-35 33zm-68 -51l35 -31l-34 -7l-35 32zm-99 -57l34 -31l-32 -6l-35 30zm-63 -51l34 -29l-33 -8l-34 29zm-94 -59l34 -28l-32 -7l-33 27zm-121 -67l33 -26l-30 -8l-34 25zm-31 -9l34 -25l-31 -9l-33 26zm-145 -78l33 -24l-29 -9l-33 24zm-29 -9l33 -24l-29 -9l-33 24zm-29 -9l33 -24l-29 -9l-33 23zm-29 -10l33 -23l-29 -9l-33 23z" fill="#00ff78" stroke="#00ff78"/><path d="M5323 5787l35 -36l-36 -5l-35 36zm-72 -51l35 -36l-35 -5l-35 35zm-204 -156l34 -31l-33 -6l-34 31zm-65 -51l35 -30l-33 -7l-34 30zm-95 -59l34 -29l-31 -7l-34 28zm-92 -60l34 -27l-31 -8l-34 27zm-31 -8l34 -27l-31 -8l-33 27zm-118 -69l33 -25l-30 -9l-33 25zm-30 -9l33 -25l-29 -9l-34 25zm-30 -9l34 -25l-30 -9l-33 25z" fill="#00ff80" stroke="#00ff80"/><path d="M5287 5782l35 -36l-36 -5l-35 36zm-71 -52l35 -35l-35 -5l-35 34zm-69 -52l35 -34l-35 -6l-35 34zm-68 -52l35 -33l-34 -6l-34 32zm-65 -52l34 -31l-33 -7l-34 31zm-97 -60l35 -29l-33 -8l-34 30zm-93 -60l34 -28l-31 -8l-34 28zm-121 -69l34 -26l-31 -9l-33 27zm-30 -8l33 -27l-30 -8l-33 26zm-175 -90l34 -24l-29 -9l-34 24zm-29 -9l34 -24l-29 -10l-33 24zm-28 -10l33 -24l-29 -9l-33 23zm-29 -10l33 -23l-28 -10l-33 23zm-28 -10l33 -23l-29 -10l-33 23z" fill="#00ff88" stroke="#00ff88"/><path d="M5251 5777l35 -36l-35 -5l-36 35zm-70 -53l35 -34l-35 -6l-35 34zm-69 -52l35 -34l-34 -6l-35 33zm-66 -53l34 -32l-33 -7l-35 32zm-98 -60l34 -30l-32 -7l-35 30zm-95 -60l34 -29l-31 -8l-34 29zm-91 -61l33 -28l-31 -8l-33 27zm-31 -9l33 -27l-30 -8l-34 27zm-148 -79l33 -26l-30 -9l-33 25zm-30 -10l33 -25l-29 -9l-33 25zm-29 -9l33 -25l-29 -9l-34 25z" fill="#00ff90" stroke="#00ff90"/><path d="M5215 5771l36 -35l-35 -6l-36 35zm-69 -53l35 -34l-34 -6l-36 34zm-68 -53l35 -33l-34 -6l-35 32zm-99 -60l35 -31l-33 -7l-35 31zm-64 -53l35 -30l-33 -8l-34 30zm-32 -8l34 -30l-32 -7l-34 29zm-93 -61l34 -29l-31 -8l-34 28zm-121 -71l34 -27l-30 -8l-34 26zm-30 -9l34 -26l-30 -9l-34 26zm-232 -111l34 -24l-29 -10l-33 24zm-28 -10l33 -24l-28 -10l-34 24zm-29 -10l34 -24l-29 -10l-33 24z" fill="#00ff98" stroke="#00ff98"/><path d="M5008 5732l35 -34l-34 -7l-35 34zm-318 -200l35 -29l-31 -9l-35 29zm-179 -94l34 -27l-30 -9l-34 26zm-30 -10l34 -26l-29 -10l-34 27z" fill="#00ffbc" stroke="#00ffbc"/><path d="M4974 5725l35 -34l-33 -7l-36 33zm-98 -64l35 -32l-32 -8l-35 32zm-126 -73l35 -30l-32 -8l-35 29zm-152 -84l34 -28l-30 -9l-35 28z" fill="#00ffc4" stroke="#00ffc4"/><path d="M5395 5755l35 -36l-36 -4l-36 36zm-109 -94l35 -34l-35 -5l-35 33zm-104 -94l35 -31l-34 -6l-34 32zm-66 -49l34 -30l-33 -6l-35 30zm-98 -56l34 -29l-33 -6l-33 29zm-63 -49l34 -28l-32 -7l-34 28zm-92 -57l33 -26l-31 -8l-33 27zm-31 -7l33 -27l-31 -7l-33 26zm-89 -58l33 -25l-31 -8l-33 25zm-31 -8l33 -25l-30 -8l-33 24zm-144 -76l33 -23l-29 -9l-32 23zm-28 -9l32 -23l-29 -8l-32 22zm-29 -9l32 -22l-28 -9l-33 22zm-29 -9l33 -22l-29 -10l-32 22z" fill="#00ff60" stroke="#00ff60"/><path d="M5358 5751l36 -36l-36 -5l-36 36zm-405 -303l34 -28l-32 -7l-34 28zm-93 -57l34 -27l-31 -8l-34 27zm-120 -66l33 -26l-30 -8l-34 25zm-31 -9l34 -25l-31 -8l-33 25zm-173 -86l32 -23l-28 -9l-33 23zm-29 -9l33 -23l-29 -9l-33 23zm-29 -9l33 -23l-29 -9l-33 22z" fill="#00ff6c" stroke="#00ff6c"/><path d="M5322 5746l36 -36l-36 -5l-36 36zm-71 -51l35 -34l-35 -6l-35 35zm-203 -152l34 -31l-33 -7l-34 31zm-64 -51l34 -30l-32 -6l-34 29zm-94 -58l33 -28l-31 -8l-34 28zm-123 -67l34 -26l-31 -8l-33 26zm-147 -77l33 -24l-30 -9l-33 24zm-30 -9l33 -24l-29 -9l-33 24z" fill="#00ff74" stroke="#00ff74"/><path d="M5286 5741l36 -36l-36 -5l-35 36zm-70 -51l35 -35l-35 -5l-35 34zm-69 -52l35 -33l-34 -5l-35 32zm-67 -51l35 -32l-34 -6l-34 31zm-161 -110l34 -29l-32 -7l-34 29zm-92 -59l33 -27l-31 -8l-34 27zm-151 -76l33 -26l-30 -8l-33 25zm-231 -107l33 -23l-29 -10l-32 23zm-28 -10l32 -23l-28 -9l-33 22z" fill="#00ff7c" stroke="#00ff7c"/><path d="M4976 5684l35 -33l-34 -7l-35 33zm-97 -63l34 -31l-32 -8l-35 31zm-94 -63l34 -30l-32 -8l-34 30zm-153 -82l34 -28l-30 -9l-34 28zm-292 -135l34 -24l-29 -11l-33 25zm-28 -10l33 -25l-28 -10l-34 24zm-29 -11l34 -24l-28 -10l-34 24z" fill="#00ffb4" stroke="#00ffb4"/><path d="M5430 5719l36 -36l-37 -4l-35 36z" fill="#00fc4c" stroke="#00fc4c"/><path d="M5394 5715l35 -36l-36 -4l-35 35zm-108 -93l35 -34l-35 -4l-35 33zm-329 -244l33 -27l-31 -7l-34 27zm-92 -56l33 -25l-31 -8l-33 26zm-120 -64l33 -24l-30 -8l-33 24zm-30 -8l33 -24l-30 -8l-32 24zm-172 -83l33 -22l-29 -9l-32 22zm-28 -9l32 -22l-28 -9l-33 21z" fill="#00ff54" stroke="#00ff54"/><path d="M5358 5710l35 -35l-36 -5l-35 35zm-107 -93l35 -33l-35 -6l-35 33zm-200 -148l33 -29l-32 -7l-34 29zm-157 -105l33 -27l-31 -7l-33 26zm-121 -65l33 -25l-30 -8l-33 25zm-146 -74l32 -24l-29 -8l-33 23zm-30 -9l33 -23l-29 -9l-33 23z" fill="#00ff5c" stroke="#00ff5c"/><path d="M5322 5705l35 -35l-36 -4l-35 34zm-71 -50l35 -33l-35 -5l-35 33zm-69 -50l35 -32l-35 -6l-34 33zm-67 -50l34 -31l-33 -6l-35 31zm-66 -50l34 -30l-32 -6l-34 30zm-63 -49l33 -29l-32 -7l-34 28zm-94 -58l33 -27l-31 -7l-34 27zm-122 -65l33 -26l-30 -8l-33 26zm-147 -76l33 -24l-29 -8l-33 23zm-29 -9l33 -23l-30 -9l-32 23zm-29 -9l32 -23l-29 -9l-32 23z" fill="#00ff68" stroke="#00ff68"/><path d="M5286 5700l35 -34l-35 -5l-35 34zm-70 -50l35 -33l-35 -6l-34 33zm-68 -50l34 -33l-33 -5l-35 31zm-67 -51l35 -31l-34 -6l-34 31zm-64 -50l34 -30l-33 -7l-34 30zm-96 -58l34 -28l-32 -7l-33 28zm-92 -58l34 -27l-31 -7l-34 26zm-31 -8l34 -26l-31 -8l-34 26zm-119 -67l33 -25l-30 -9l-33 25zm-30 -9l33 -25l-29 -8l-33 24zm-200 -97l33 -22l-28 -10l-33 23z" fill="#00ff70" stroke="#00ff70"/><path d="M5181 5684l35 -34l-34 -6l-35 34zm-68 -52l35 -32l-34 -7l-35 33zm-163 -110l34 -30l-32 -7l-35 29zm-94 -60l34 -28l-32 -8l-34 28zm-122 -68l33 -27l-30 -8l-34 26zm-177 -88l33 -25l-29 -9l-33 25zm-29 -9l33 -25l-29 -9l-34 24z" fill="#00ff84" stroke="#00ff84"/><path d="M5466 5683l35 -36l-37 -3l-35 35z" fill="#00fc38" stroke="#00fc38"/><path d="M5429 5679l35 -35l-36 -4l-35 35z" fill="#00fc40" stroke="#00fc40"/><path d="M5393 5675l35 -35l-36 -4l-35 34z" fill="#00fc48" stroke="#00fc48"/><path d="M5357 5670l35 -34l-36 -5l-35 35zm-106 -92l35 -32l-35 -5l-34 32zm-68 -48l34 -31l-34 -6l-34 31zm-66 -48l33 -30l-33 -6l-34 29zm-65 -49l33 -28l-32 -7l-34 29zm-63 -48l33 -27l-32 -7l-33 27zm-93 -55l33 -26l-31 -7l-33 25zm-120 -64l32 -24l-30 -8l-33 24zm-117 -65l33 -23l-29 -8l-33 23zm-29 -8l33 -23l-29 -8l-33 22zm-29 -9l33 -22l-29 -9l-33 22zm-29 -9l33 -22l-29 -8l-33 22z" fill="#00ff50" stroke="#00ff50"/><path d="M5321 5666l35 -35l-35 -4l-35 34zm-104 -93l34 -32l-34 -5l-35 31zm-68 -49l34 -31l-33 -5l-34 30zm-66 -49l34 -29l-33 -6l-33 29zm-64 -48l34 -29l-32 -6l-34 28zm-32 -7l34 -28l-32 -7l-34 28zm-62 -49l34 -27l-32 -7l-33 27zm-91 -56l33 -26l-31 -7l-33 25zm-31 -8l33 -25l-30 -8l-33 25zm-117 -65l32 -24l-29 -8l-33 23zm-30 -9l33 -23l-30 -9l-32 24z" fill="#00ff58" stroke="#00ff58"/><path d="M5501 5647l35 -35l-37 -3l-35 35zm-146 -128l34 -32l-35 -4l-34 31zm-104 -86l34 -29l-34 -5l-33 29z" fill="#00fc24" stroke="#00fc24"/><path d="M5464 5644l35 -35l-36 -4l-35 35zm-144 -130l34 -31l-35 -5l-34 31z" fill="#00fc2c" stroke="#00fc2c"/><path d="M5428 5640l35 -35l-36 -3l-35 34zm-37 -43l35 -33l-36 -4l-34 33z" fill="#00fc34" stroke="#00fc34"/><path d="M5392 5636l35 -34l-36 -5l-35 34zm-36 -43l34 -33l-35 -4l-34 32z" fill="#00fc3c" stroke="#00fc3c"/><path d="M5356 5631l35 -34l-35 -4l-35 34zm-105 -90l34 -32l-34 -5l-34 32zm-198 -143l33 -28l-32 -6l-33 28zm-63 -47l33 -27l-31 -6l-33 26zm-92 -54l33 -26l-31 -7l-33 25zm-120 -63l33 -24l-30 -8l-33 24zm-115 -64l32 -22l-29 -8l-32 22zm-29 -8l32 -22l-29 -9l-32 22z" fill="#00ff44" stroke="#00ff44"/><path d="M5321 5627l35 -34l-35 -5l-35 34zm-104 -91l34 -32l-34 -5l-34 31zm-67 -48l34 -30l-34 -6l-33 30zm-66 -48l34 -29l-33 -6l-33 28zm-157 -103l33 -26l-31 -7l-33 26zm-121 -63l33 -25l-31 -7l-32 24zm-117 -64l32 -23l-29 -9l-33 23z" fill="#00ff4c" stroke="#00ff4c"/><path d="M5216 5611l35 -33l-34 -5l-35 32zm-67 -49l34 -32l-34 -6l-34 31zm-67 -50l35 -30l-34 -7l-34 30zm-159 -106l34 -28l-32 -7l-33 27zm-122 -65l33 -26l-31 -8l-33 26zm-119 -67l33 -24l-29 -8l-33 24zm-29 -8l33 -24l-30 -9l-33 24z" fill="#00ff64" stroke="#00ff64"/><path d="M5536 5612l35 -35l-37 -3l-35 35zm-147 -125l34 -31l-35 -4l-34 31zm-36 -40l34 -30l-34 -4l-34 30zm-68 -43l33 -30l-33 -4l-34 29zm-100 -83l33 -27l-32 -5l-33 27zm-64 -43l33 -26l-32 -6l-33 26zm-62 -44l32 -25l-31 -6l-33 25zm-61 -43l32 -24l-31 -6l-32 23zm-31 -7l32 -23l-30 -7l-33 24zm-59 -43l32 -23l-30 -6l-32 22zm-87 -51l32 -21l-30 -7l-32 21z" fill="#00fc10" stroke="#00fc10"/><path d="M5499 5609l35 -35l-36 -3l-35 34zm-37 -41l34 -34l-36 -3l-34 33zm-108 -85l34 -31l-35 -5l-34 31zm-103 -84l34 -29l-34 -5l-33 28zm-66 -45l33 -27l-33 -6l-33 28z" fill="#00fc18" stroke="#00fc18"/><path d="M5463 5605l35 -34l-36 -3l-35 34zm-37 -41l34 -33l-35 -4l-35 33zm-107 -86l34 -31l-34 -4l-34 30zm-101 -85l33 -28l-33 -5l-33 28z" fill="#00fc20" stroke="#00fc20"/><path d="M5427 5602l35 -34l-36 -4l-35 33zm-37 -42l35 -33l-35 -4l-35 33zm-105 -87l34 -30l-34 -5l-34 30z" fill="#00fc28" stroke="#00fc28"/><path d="M5321 5588l34 -32l-35 -5l-34 33zm-104 -89l34 -31l-34 -5l-34 30zm-67 -47l34 -30l-33 -5l-34 29zm-65 -47l34 -28l-33 -7l-33 28zm-63 -47l33 -27l-32 -7l-33 27zm-93 -54l33 -26l-31 -7l-33 26zm-90 -55l32 -24l-30 -7l-33 24zm-31 -7l33 -24l-30 -8l-33 24zm-87 -55l33 -23l-30 -8l-32 22zm-29 -9l32 -22l-29 -8l-32 22z" fill="#00ff40" stroke="#00ff40"/><path d="M5286 5584l34 -33l-34 -5l-35 32zm-103 -91l34 -30l-33 -5l-34 30zm-66 -47l34 -29l-33 -6l-34 29zm-96 -54l33 -28l-32 -6l-33 27zm-62 -48l33 -26l-32 -7l-33 26zm-92 -55l33 -25l-31 -7l-33 25zm-31 -7l33 -25l-30 -8l-33 25zm-88 -56l33 -24l-30 -7l-33 23zm-30 -8l33 -23l-30 -8l-32 23zm-113 -65l32 -22l-29 -8l-32 22zm-29 -8l32 -22l-28 -9l-33 22zm-29 -9l33 -22l-29 -8l-32 21z" fill="#00ff48" stroke="#00ff48"/><path d="M5571 5577l34 -34l-36 -3l-35 34zm-39 -39l35 -34l-37 -3l-34 33zm-145 -121l34 -30l-35 -4l-33 30zm-35 -38l34 -29l-34 -4l-34 28zm-101 -80l33 -27l-33 -4l-33 26zm-65 -42l33 -26l-32 -5l-33 26zm-63 -42l32 -24l-31 -6l-33 24zm-62 -42l32 -23l-31 -6l-32 23zm-60 -42l32 -22l-31 -6l-32 22zm-59 -41l31 -21l-30 -7l-31 21zm-30 -7l31 -21l-29 -7l-32 21zm-57 -41l31 -20l-29 -7l-31 20zm-29 -7l31 -20l-29 -7l-32 19z" fill="#04fc00" stroke="#04fc00"/><path d="M5534 5574l35 -34l-37 -2l-34 33zm-38 -40l34 -33l-35 -3l-35 33zm-143 -121l33 -30l-34 -4l-33 29zm-102 -81l33 -28l-33 -5l-33 28zm-65 -43l33 -27l-33 -5l-32 26zm-126 -86l32 -24l-31 -6l-32 24zm-61 -42l32 -23l-30 -7l-32 23zm-59 -43l32 -22l-30 -6l-32 22zm-30 -6l32 -22l-30 -7l-32 22zm-57 -43l31 -20l-29 -7l-32 20zm-30 -7l32 -20l-29 -7l-32 20zm-84 -49l31 -20l-28 -7l-32 19z" fill="#00fc04" stroke="#00fc04"/><path d="M5498 5571l34 -33l-36 -4l-34 34zm-38 -40l35 -33l-36 -3l-34 32zm-141 -123l33 -29l-34 -5l-33 30zm-68 -43l33 -28l-33 -5l-33 28zm-97 -82l32 -26l-32 -5l-33 26zm-64 -43l33 -25l-32 -6l-32 25zm-61 -43l32 -24l-31 -6l-32 24zm-91 -49l32 -23l-30 -7l-32 23zm-88 -50l32 -22l-29 -7l-32 21zm-114 -58l32 -20l-29 -7l-32 19zm-29 -8l32 -19l-29 -8l-31 19z" fill="#00fc0c" stroke="#00fc0c"/><path d="M5355 5556l35 -33l-35 -4l-35 32z" fill="#00fc30" stroke="#00fc30"/><path d="M5320 5551l35 -32l-35 -5l-34 32zm-69 -47l34 -31l-34 -5l-34 31zm-197 -140l33 -27l-32 -6l-33 27zm-62 -46l33 -27l-32 -6l-33 26zm-92 -54l33 -25l-31 -7l-33 25zm-89 -54l32 -23l-30 -8l-32 23zm-30 -8l32 -23l-29 -7l-33 23zm-86 -54l32 -22l-29 -8l-32 22zm-29 -8l32 -22l-29 -8l-32 21zm-29 -9l32 -21l-29 -8l-32 21z" fill="#00ff38" stroke="#00ff38"/><path d="M5286 5546l34 -32l-35 -5l-34 32zm-102 -88l34 -30l-34 -6l-34 30zm-66 -47l34 -29l-33 -5l-34 28zm-158 -100l33 -26l-31 -7l-33 26zm-91 -54l33 -25l-31 -7l-32 24zm-118 -62l33 -23l-30 -8l-33 23zm-143 -72l32 -21l-28 -9l-32 21zm-28 -9l32 -21l-29 -8l-32 21z" fill="#00ff3c" stroke="#00ff3c"/><path d="M5605 5543l35 -34l-37 -2l-34 33zm-38 -39l34 -32l-36 -3l-35 32zm-38 -38l34 -32l-36 -3l-34 32z" fill="#18f800" stroke="#18f800"/><path d="M5569 5540l34 -33l-36 -3l-35 34z" fill="#0cf800" stroke="#0cf800"/><path d="M5425 5527l34 -32l-35 -4l-34 32zm-106 -84l34 -30l-34 -5l-34 30zm-101 -83l33 -28l-33 -5l-33 27zm-65 -44l33 -27l-32 -6l-33 27zm-64 -44l33 -26l-32 -6l-32 26zm-62 -44l33 -25l-31 -6l-33 24z" fill="#00fc14" stroke="#00fc14"/><path d="M5390 5523l34 -32l-35 -4l-34 32zm-105 -85l34 -30l-34 -4l-34 29z" fill="#00fc1c" stroke="#00fc1c"/><path d="M5285 5509l34 -31l-34 -5l-34 31zm-101 -87l34 -29l-33 -5l-34 29zm-65 -45l33 -28l-32 -6l-34 27zm-64 -46l33 -27l-31 -6l-34 26zm-93 -53l33 -25l-31 -7l-33 25zm-60 -46l33 -24l-31 -7l-33 24zm-31 -7l33 -24l-30 -7l-33 24zm-87 -53l32 -23l-30 -8l-32 23zm-30 -8l32 -23l-29 -7l-33 22zm-114 -62l32 -21l-28 -9l-32 21zm-28 -9l32 -21l-29 -8l-32 21z" fill="#00ff30" stroke="#00ff30"/><path d="M5640 5509l34 -33l-37 -2l-34 33zm-39 -37l34 -33l-36 -2l-34 32zm-182 -151l33 -28l-34 -4l-33 28zm-35 -36l33 -27l-34 -4l-32 27zm-100 -74l32 -25l-32 -5l-33 25zm-33 -35l33 -24l-33 -5l-32 24zm-63 -39l32 -23l-32 -5l-32 23zm-31 -33l32 -23l-31 -5l-32 22zm-61 -39l31 -21l-30 -6l-32 22zm-60 -38l32 -20l-30 -6l-32 20zm-58 -38l31 -20l-29 -6l-31 19zm-57 -38l31 -19l-29 -6l-31 18z" fill="#28f800" stroke="#28f800"/><path d="M5603 5507l34 -33l-36 -2l-34 32zm-38 -38l34 -32l-36 -3l-34 32zm-409 -337l32 -23l-31 -5l-32 23zm-61 -39l32 -22l-31 -6l-32 22zm-60 -39l32 -21l-31 -6l-31 21zm-58 -39l31 -20l-30 -6l-31 19zm-87 -46l31 -18l-29 -7l-31 19z" fill="#20f800" stroke="#20f800"/><path d="M5530 5501l35 -32l-36 -3l-34 32zm-37 -38l34 -32l-35 -3l-34 31zm-36 -38l33 -31l-35 -3l-33 30zm-105 -79l33 -29l-34 -4l-33 28zm-34 -37l33 -28l-34 -4l-33 27zm-67 -41l33 -27l-33 -5l-32 26zm-96 -77l33 -25l-32 -5l-32 24zm-62 -41l32 -23l-31 -6l-32 23zm-60 -41l31 -22l-30 -6l-32 22zm-60 -40l32 -21l-30 -7l-32 21zm-87 -47l32 -20l-30 -7l-31 20zm-85 -48l32 -18l-29 -7l-31 18z" fill="#10fc00" stroke="#10fc00"/><path d="M5495 5498l34 -32l-36 -3l-34 32zm-37 -39l34 -31l-35 -3l-34 31zm-140 -118l33 -28l-33 -4l-34 28zm-99 -79l32 -26l-32 -5l-33 26zm-64 -41l32 -25l-32 -5l-32 24zm-63 -42l32 -24l-31 -5l-32 23zm-61 -41l32 -23l-30 -6l-32 22zm-59 -42l32 -21l-31 -6l-31 21zm-88 -47l32 -21l-30 -6l-31 20zm-85 -48l31 -20l-29 -7l-31 19zm-29 -8l31 -19l-28 -7l-31 19z" fill="#08fc00" stroke="#08fc00"/><path d="M5459 5495l34 -32l-35 -4l-34 32zm-36 -39l34 -31l-35 -4l-34 31zm-105 -82l34 -28l-34 -5l-33 29zm-34 -37l34 -28l-34 -5l-33 28zm-66 -43l33 -26l-32 -6l-33 27zm-64 -42l33 -26l-32 -5l-33 25zm-63 -43l33 -24l-32 -6l-32 24zm-61 -42l32 -23l-31 -6l-32 23zm-60 -42l32 -22l-30 -7l-32 22zm-88 -49l32 -21l-30 -6l-31 20zm-86 -49l32 -19l-29 -7l-31 19zm-28 -7l31 -19l-29 -8l-31 20z" fill="#00fc00" stroke="#00fc00"/><path d="M5424 5491l34 -32l-35 -3l-34 31zm-36 -39l34 -31l-35 -4l-34 30zm-103 -82l33 -29l-34 -4l-33 28zm-67 -43l33 -28l-33 -5l-33 27zm-96 -81l33 -25l-32 -6l-33 25zm-153 -92l32 -23l-31 -6l-32 23zm-89 -49l32 -22l-30 -7l-32 22zm-86 -50l32 -20l-30 -8l-31 20zm-29 -8l31 -20l-28 -7l-32 20z" fill="#00fc08" stroke="#00fc08"/><path d="M5251 5468l34 -30l-34 -5l-34 30zm-258 -183l33 -26l-31 -6l-33 25zm-180 -106l33 -23l-30 -7l-32 23zm-115 -61l32 -21l-29 -8l-32 21zm-29 -8l32 -21l-29 -8l-32 21z" fill="#00ff2c" stroke="#00ff2c"/><path d="M5217 5463l34 -30l-33 -5l-34 30zm-66 -46l34 -29l-33 -6l-34 29zm-65 -47l34 -27l-33 -6l-33 27zm-63 -46l34 -26l-32 -7l-33 27zm-92 -53l33 -25l-31 -7l-33 25zm-90 -53l33 -24l-31 -7l-32 23zm-117 -62l33 -22l-30 -8l-32 22z" fill="#00ff34" stroke="#00ff34"/><path d="M5674 5476l34 -33l-37 -2l-34 33zm-39 -37l34 -32l-37 -2l-33 32zm-39 -36l34 -31l-36 -3l-33 31zm-37 -36l33 -30l-35 -3l-33 30zm-37 -36l33 -29l-35 -3l-33 29zm-36 -35l33 -28l-34 -3l-33 28zm-137 -106l32 -25l-33 -4l-32 25zm-33 -34l32 -24l-33 -4l-31 24zm-33 -32l32 -24l-32 -4l-32 23zm-63 -38l32 -22l-32 -5l-31 22zm-31 -32l31 -21l-31 -5l-31 21zm-61 -36l31 -21l-30 -5l-31 20zm-29 -31l31 -20l-30 -5l-31 19zm-59 -36l31 -19l-30 -6l-30 19z" fill="#3cf800" stroke="#3cf800"/><path d="M5637 5474l34 -33l-36 -2l-34 33zm-38 -37l33 -32l-36 -2l-33 31zm-38 -37l33 -31l-35 -2l-34 30zm-37 -36l33 -30l-35 -3l-33 30zm-37 -36l33 -29l-34 -3l-33 29zm-35 -35l33 -28l-34 -3l-33 27zm-103 -73l33 -26l-33 -4l-32 25zm-33 -34l32 -25l-32 -5l-32 25zm-96 -72l31 -23l-31 -5l-32 23zm-31 -33l31 -22l-31 -5l-31 22zm-62 -37l32 -21l-31 -5l-31 20zm-59 -37l31 -20l-30 -6l-31 20zm-29 -32l31 -19l-30 -5l-31 18zm-58 -36l31 -18l-29 -6l-31 17zm-56 -37l30 -17l-28 -6l-31 17z" fill="#34f800" stroke="#34f800"/><path d="M5218 5428l33 -29l-33 -6l-34 29zm-66 -46l33 -28l-33 -5l-33 28zm-65 -45l34 -27l-33 -6l-33 27zm-62 -46l33 -25l-32 -7l-33 26zm-61 -45l32 -25l-31 -6l-32 24zm-31 -7l32 -24l-30 -7l-33 24zm-59 -45l32 -23l-30 -7l-33 23zm-31 -7l33 -23l-30 -8l-33 23zm-86 -53l32 -22l-30 -8l-32 22zm-30 -8l32 -22l-29 -7l-32 21z" fill="#00ff28" stroke="#00ff28"/><path d="M5708 5443l34 -33l-37 -1l-34 32zm-294 -274l32 -25l-33 -4l-32 25zm-34 -33l32 -24l-32 -4l-32 24zm-33 -32l32 -23l-32 -4l-32 23zm-32 -31l31 -22l-32 -4l-31 22z" fill="#50f800" stroke="#50f800"/><path d="M5671 5441l34 -32l-36 -2l-34 32zm-39 -36l34 -31l-36 -2l-34 31zm-38 -36l34 -30l-36 -2l-33 30zm-37 -35l33 -29l-35 -3l-33 29zm-37 -35l33 -28l-34 -3l-33 28zm-35 -34l32 -27l-34 -3l-32 27zm-36 -34l33 -26l-34 -4l-32 27zm-101 -70l32 -25l-32 -4l-32 24zm-33 -33l32 -24l-32 -4l-32 24zm-32 -32l32 -23l-32 -4l-32 22zm-31 -32l31 -22l-31 -4l-32 21zm-63 -36l32 -21l-31 -5l-31 21zm-30 -31l31 -20l-30 -5l-31 20z" fill="#44f800" stroke="#44f800"/><path d="M5563 5434l33 -31l-35 -3l-34 31zm-38 -37l34 -30l-35 -3l-34 30zm-36 -36l33 -30l-35 -3l-33 29zm-36 -36l33 -29l-34 -3l-33 28zm-103 -75l33 -26l-34 -4l-32 26zm-33 -35l32 -25l-33 -4l-32 25zm-33 -34l32 -25l-32 -4l-33 24zm-64 -39l31 -23l-31 -5l-32 23zm-32 -33l32 -23l-31 -5l-32 23zm-61 -38l31 -22l-31 -5l-31 21zm-60 -38l31 -21l-30 -5l-32 20zm-59 -38l31 -20l-30 -6l-31 20zm-58 -38l31 -18l-29 -7l-31 19zm-56 -37l31 -18l-29 -6l-30 17z" fill="#2cf800" stroke="#2cf800"/><path d="M5527 5431l34 -31l-36 -3l-33 31zm-37 -37l34 -30l-35 -3l-34 30zm-36 -37l33 -29l-34 -3l-33 29zm-137 -111l32 -26l-32 -5l-33 26zm-98 -75l32 -24l-31 -5l-32 24zm-93 -73l32 -22l-31 -5l-32 22zm-61 -38l32 -22l-30 -5l-32 21zm-59 -39l32 -20l-30 -6l-31 20zm-57 -39l31 -19l-30 -6l-31 19zm-30 -6l31 -19l-29 -6l-31 18zm-27 -32l31 -18l-29 -6l-31 18zm-29 -6l31 -18l-28 -7l-31 18z" fill="#24f800" stroke="#24f800"/><path d="M5492 5428l33 -31l-35 -3l-33 31zm-545 -420l31 -19l-29 -7l-31 20zm-29 -6l31 -20l-30 -6l-31 19zm-57 -39l31 -19l-29 -6l-30 18zm-28 -7l30 -18l-28 -7l-31 18z" fill="#1cf800" stroke="#1cf800"/><path d="M5422 5421l33 -30l-34 -4l-34 30zm-36 -38l34 -29l-34 -4l-34 29zm-102 -79l33 -27l-33 -5l-33 27zm-97 -78l32 -25l-32 -5l-32 25zm-63 -41l32 -24l-32 -6l-32 24zm-62 -41l32 -23l-31 -6l-32 23zm-60 -41l32 -22l-30 -6l-32 21zm-59 -41l32 -21l-30 -6l-31 20zm-29 -7l31 -20l-29 -7l-32 21zm-57 -40l31 -20l-29 -7l-31 20zm-29 -7l31 -20l-29 -7l-31 20z" fill="#0cfc00" stroke="#0cfc00"/><path d="M5185 5388l33 -28l-33 -6l-33 28zm-65 -45l33 -27l-32 -6l-34 27zm-63 -45l32 -26l-31 -6l-33 25zm-62 -45l32 -25l-31 -7l-32 25zm-91 -52l32 -23l-30 -7l-32 23zm-118 -60l32 -22l-29 -7l-32 22zm-114 -60l32 -21l-28 -8l-32 20zm-28 -9l32 -20l-29 -8l-32 20z" fill="#00ff24" stroke="#00ff24"/><path d="M5742 5410l33 -32l-36 -1l-34 32zm-364 -355l31 -23l-32 -3l-31 22zm-32 -30l31 -22l-32 -3l-31 21zm-32 -29l31 -21l-32 -4l-30 20zm-93 -85l31 -18l-30 -5l-31 18z" fill="#60f400" stroke="#60f400"/><path d="M5705 5409l34 -32l-37 -1l-33 31zm-39 -35l33 -31l-36 -2l-33 31z" fill="#58f800" stroke="#58f800"/><path d="M5669 5407l33 -31l-36 -2l-34 31zm-39 -35l33 -31l-35 -2l-34 30zm-38 -35l33 -30l-35 -2l-33 29zm-37 -35l33 -28l-35 -3l-33 28zm-36 -34l33 -28l-35 -2l-32 27zm-36 -33l33 -27l-34 -3l-33 26zm-35 -34l33 -26l-34 -3l-32 26zm-165 -132l31 -22l-31 -5l-31 22zm-31 -31l31 -22l-31 -4l-32 21z" fill="#4cf800" stroke="#4cf800"/><path d="M5455 5391l34 -30l-35 -4l-33 30zm-35 -37l33 -29l-34 -4l-33 29zm-103 -77l33 -27l-33 -4l-33 26zm-33 -36l33 -26l-33 -4l-33 25zm-65 -40l32 -25l-32 -5l-32 25zm-94 -74l32 -23l-31 -6l-32 23zm-61 -40l32 -22l-31 -5l-31 21zm-59 -39l31 -21l-30 -6l-31 20z" fill="#1cfc00" stroke="#1cfc00"/><path d="M5421 5387l33 -30l-34 -3l-34 29zm-137 -115l33 -26l-33 -5l-33 27zm-65 -41l32 -25l-32 -5l-32 25zm-32 -35l32 -25l-31 -5l-33 25zm-63 -41l32 -23l-31 -5l-32 23zm-61 -40l32 -22l-31 -6l-31 22zm-59 -40l31 -21l-30 -6l-32 21zm-59 -40l32 -20l-30 -7l-31 20zm-29 -7l31 -20l-29 -6l-32 20zm-57 -40l31 -19l-29 -6l-31 18zm-29 -7l31 -18l-28 -7l-32 18z" fill="#14fc00" stroke="#14fc00"/><path d="M5152 5349l33 -28l-32 -5l-33 27zm-64 -45l33 -26l-32 -6l-32 26zm-153 -96l32 -24l-31 -6l-32 23zm-89 -52l32 -22l-30 -7l-32 22zm-30 -7l32 -22l-30 -8l-32 22zm-86 -52l32 -21l-29 -8l-32 21zm-29 -8l32 -21l-29 -8l-32 21z" fill="#00ff20" stroke="#00ff20"/><path d="M5775 5378l34 -32l-37 -1l-33 32zm-81 -98l33 -29l-36 -2l-33 29zm-38 -33l33 -28l-36 -1l-32 27zm-37 -32l32 -27l-35 -2l-32 27zm-109 -120l31 -24l-33 -3l-31 24zm-35 -30l32 -23l-33 -3l-31 23zm-33 -29l31 -22l-32 -3l-32 21zm-33 -29l30 -21l-31 -4l-31 21z" fill="#74f400" stroke="#74f400"/><path d="M5739 5377l33 -32l-36 -1l-34 32zm-40 -34l34 -31l-36 -1l-34 30zm-151 -162l32 -26l-34 -2l-32 26zm-35 -31l32 -25l-34 -3l-32 25zm-35 -31l32 -24l-33 -3l-32 24zm-34 -31l31 -23l-32 -3l-32 23zm-34 -30l32 -22l-33 -4l-31 23zm-33 -29l32 -22l-32 -4l-31 22zm-32 -29l31 -21l-31 -4l-31 21zm-32 -29l31 -20l-31 -4l-31 20zm-31 -28l31 -19l-31 -4l-30 18zm-30 -28l30 -18l-30 -4l-31 18z" fill="#68f400" stroke="#68f400"/><path d="M5702 5376l34 -32l-37 -1l-33 31z" fill="#60f800" stroke="#60f800"/><path d="M5386 5350l33 -29l-34 -4l-33 29zm-35 -37l33 -28l-33 -4l-33 28zm-100 -77l33 -25l-33 -5l-32 25zm-95 -75l32 -24l-32 -5l-32 23zm-62 -40l32 -23l-31 -5l-32 22zm-60 -40l31 -21l-30 -6l-31 21zm-59 -40l31 -20l-29 -6l-32 20zm-87 -46l31 -19l-29 -7l-31 19z" fill="#18fc00" stroke="#18fc00"/><path d="M5121 5310l33 -27l-33 -5l-33 26zm-95 -51l33 -25l-32 -6l-32 25zm-61 -44l33 -24l-31 -7l-32 24zm-89 -51l32 -23l-30 -7l-32 22zm-87 -52l32 -22l-30 -7l-32 21zm-30 -8l32 -21l-29 -7l-32 21z" fill="#00ff1c" stroke="#00ff1c"/><path d="M5809 5346l33 -31l-36 -1l-34 31zm-82 -95l32 -29l-35 -1l-33 28zm-38 -32l32 -27l-35 -2l-33 28zm-77 -89l32 -25l-34 -3l-32 25zm-36 -30l32 -24l-34 -2l-31 24z" fill="#84f400" stroke="#84f400"/><path d="M5772 5345l34 -31l-37 0l-33 30zm-39 -33l33 -30l-36 -1l-33 30zm-117 -126l33 -26l-35 -2l-32 26zm-36 -31l32 -25l-34 -3l-32 26zm-35 -30l31 -25l-33 -2l-32 24zm-71 -86l31 -22l-32 -3l-31 22zm-33 -28l30 -22l-32 -3l-30 21zm-33 -29l30 -20l-31 -4l-31 21z" fill="#78f400" stroke="#78f400"/><path d="M5736 5344l33 -30l-36 -2l-34 31zm-39 -33l33 -30l-36 -1l-33 29zm-115 -127l32 -26l-34 -3l-32 26zm-36 -31l32 -26l-33 -2l-32 25zm-35 -31l32 -24l-33 -3l-32 24zm-34 -30l31 -24l-33 -3l-31 23zm-34 -30l31 -23l-32 -3l-32 22zm-67 -83l31 -21l-32 -3l-30 20zm-32 -28l31 -20l-31 -3l-31 19z" fill="#70f400" stroke="#70f400"/><path d="M5663 5341l34 -30l-36 -2l-33 30zm-38 -34l33 -29l-35 -2l-33 29zm-37 -33l33 -29l-35 -2l-33 28zm-36 -34l32 -27l-34 -2l-33 27zm-36 -32l32 -27l-34 -2l-32 26zm-35 -33l32 -25l-34 -3l-32 25z" fill="#5cf800" stroke="#5cf800"/><path d="M5628 5339l33 -30l-36 -2l-33 30zm-38 -34l33 -29l-35 -2l-33 28zm-37 -34l33 -28l-34 -3l-33 28zm-36 -33l33 -27l-34 -3l-33 27zm-35 -33l32 -26l-33 -4l-33 26zm-35 -33l32 -25l-33 -3l-32 25zm-34 -32l32 -24l-33 -4l-32 24zm-33 -32l31 -23l-32 -4l-32 23z" fill="#54f800" stroke="#54f800"/><path d="M5385 5317l33 -28l-34 -4l-33 28zm-34 -36l32 -27l-33 -4l-33 27zm-100 -75l33 -25l-33 -5l-32 25zm-63 -40l32 -24l-32 -5l-32 24z" fill="#20fc00" stroke="#20fc00"/><path d="M5058 5266l32 -26l-31 -6l-33 25zm-62 -45l33 -24l-31 -6l-33 24zm-90 -50l32 -23l-30 -7l-32 23zm-88 -52l32 -21l-29 -8l-32 22zm-114 -59l32 -20l-29 -8l-31 20zm-28 -8l31 -20l-28 -8l-32 20z" fill="#00ff18" stroke="#00ff18"/><path d="M5842 5315l34 -31l-37 0l-33 30zm-83 -93l33 -28l-36 -1l-32 28zm-78 -88l32 -26l-35 -2l-32 26zm-37 -29l32 -25l-34 -2l-32 24z" fill="#94f400" stroke="#94f400"/><path d="M5806 5314l33 -30l-37 -1l-33 31zm-40 -32l33 -29l-36 -1l-33 29zm-80 -92l32 -27l-35 -2l-32 27zm-37 -30l32 -26l-35 -2l-32 26zm-75 -86l32 -24l-33 -2l-32 23zm-35 -29l32 -23l-33 -2l-31 22z" fill="#88f400" stroke="#88f400"/><path d="M5769 5314l33 -31l-36 -1l-33 30zm-39 -33l33 -29l-36 -1l-33 29zm-79 -93l32 -27l-34 -1l-33 26zm-37 -30l32 -26l-34 -2l-32 25zm-36 -31l32 -25l-34 -2l-31 25zm-37 -56l32 -23l-34 -3l-31 23zm-34 -29l31 -22l-33 -3l-31 22zm-34 -28l31 -22l-33 -3l-30 22z" fill="#80f400" stroke="#80f400"/><path d="M5661 5309l33 -29l-36 -2l-33 29zm-38 -33l33 -29l-35 -2l-33 29zm-37 -33l33 -28l-35 -2l-32 27zm-36 -32l32 -27l-34 -3l-32 27zm-36 -32l32 -26l-33 -3l-32 25zm-35 -32l32 -25l-33 -3l-32 25zm-34 -31l32 -24l-33 -4l-32 24zm-34 -31l32 -23l-33 -4l-31 23zm-129 -118l31 -20l-31 -4l-30 19zm-30 -29l30 -18l-30 -5l-31 19z" fill="#64f400" stroke="#64f400"/><path d="M5418 5289l33 -27l-34 -4l-33 27zm-35 -35l33 -26l-33 -4l-33 26zm-132 -107l32 -23l-32 -5l-31 23zm-93 -71l31 -22l-31 -5l-31 22zm-61 -38l31 -20l-30 -6l-31 21zm-59 -37l31 -20l-30 -6l-31 20zm-29 -32l31 -18l-29 -6l-31 18zm-29 -6l31 -18l-30 -6l-31 18zm-28 -31l31 -17l-29 -7l-31 18zm-29 -6l31 -18l-29 -6l-31 18z" fill="#30f800" stroke="#30f800"/><path d="M5876 5284l33 -30l-37 0l-33 30z" fill="#a4f400" stroke="#a4f400"/><path d="M5839 5284l33 -30l-37 -1l-33 30zm-44 -61l33 -29l-36 0l-33 28zm-39 -30l33 -28l-36 -1l-32 28z" fill="#9cf400" stroke="#9cf400"/><path d="M5802 5283l33 -30l-36 0l-33 29zm-39 -31l32 -29l-36 -1l-32 29zm-42 -60l32 -28l-35 -1l-32 27zm-38 -31l32 -26l-34 -1l-32 26zm-75 -85l31 -24l-33 -2l-32 24z" fill="#90f400" stroke="#90f400"/><path d="M5658 5278l33 -29l-35 -2l-33 29zm-37 -33l32 -27l-34 -3l-33 28zm-37 -32l32 -27l-34 -2l-32 27zm-175 -181l32 -21l-32 -4l-32 22zm-32 -29l31 -21l-32 -3l-31 21zm-32 -28l30 -20l-31 -4l-31 20zm-32 -28l31 -19l-31 -4l-31 19z" fill="#6cf400" stroke="#6cf400"/><path d="M5451 5262l32 -27l-34 -4l-32 27zm-35 -34l32 -27l-33 -3l-32 26zm-34 -34l32 -25l-33 -4l-32 25zm-131 -103l32 -22l-31 -5l-32 22zm-31 -32l32 -21l-32 -5l-31 21zm-61 -36l31 -21l-31 -5l-31 21zm-30 -31l31 -20l-30 -5l-31 20zm-59 -36l30 -19l-29 -5l-31 19z" fill="#40f800" stroke="#40f800"/><path d="M5417 5258l32 -27l-33 -3l-33 26zm-34 -34l32 -26l-33 -4l-33 26zm-99 -72l31 -24l-32 -4l-32 23zm-33 -33l32 -23l-32 -5l-31 23zm-93 -70l31 -21l-30 -5l-32 21zm-60 -37l31 -20l-30 -5l-31 20zm-29 -31l31 -19l-30 -6l-31 19zm-58 -36l30 -19l-29 -5l-31 18zm-57 -37l30 -17l-29 -6l-30 17z" fill="#38f800" stroke="#38f800"/><path d="M4936 5178l33 -24l-31 -6l-32 23zm-58 -44l32 -22l-30 -7l-32 22zm-30 -7l32 -22l-30 -7l-32 21zm-86 -51l32 -21l-29 -8l-32 21zm-29 -8l32 -21l-29 -7l-32 20z" fill="#00ff14" stroke="#00ff14"/><path d="M5909 5254l32 -31l-37 1l-32 30zm-45 -59l32 -29l-36 0l-32 28zm-82 -85l32 -26l-35 0l-32 25zm-41 -53l32 -25l-35 -1l-31 24zm-39 -52l31 -23l-34 -1l-31 23z" fill="#b4f000" stroke="#b4f000"/><path d="M5872 5254l32 -30l-36 0l-33 29zm-41 -31l33 -28l-36 -1l-33 29zm-42 -58l32 -27l-36 -1l-32 27zm-79 -84l31 -24l-34 -2l-31 25zm-39 -53l31 -23l-34 -1l-31 23zm-38 -50l30 -22l-33 -2l-30 22z" fill="#a8f000" stroke="#a8f000"/><path d="M5835 5253l33 -29l-37 -1l-32 30z" fill="#a0f400" stroke="#a0f400"/><path d="M5799 5253l32 -30l-36 0l-32 29zm-81 -90l32 -27l-35 -1l-32 26z" fill="#98f400" stroke="#98f400"/><path d="M5691 5249l33 -28l-35 -2l-33 28zm-38 -31l33 -28l-35 -2l-32 27zm-110 -120l31 -24l-33 -3l-31 24zm-35 -30l31 -23l-32 -3l-32 23z" fill="#7cf400" stroke="#7cf400"/><path d="M5941 5223l33 -29l-37 0l-33 30zm-45 -57l33 -28l-37 0l-32 28zm-43 -55l31 -26l-35 0l-32 26zm-43 -53l32 -25l-35 0l-31 25z" fill="#c4f000" stroke="#c4f000"/><path d="M5904 5224l33 -30l-37 1l-32 29zm-44 -58l32 -28l-36 0l-32 28zm-43 -55l32 -26l-35 -1l-32 26zm-41 -53l31 -25l-34 -1l-32 25zm-41 -51l31 -24l-33 -1l-31 23z" fill="#bcf000" stroke="#bcf000"/><path d="M5868 5224l32 -29l-36 0l-33 28zm-44 -58l32 -28l-35 0l-32 27zm-80 -83l32 -25l-35 -1l-31 24zm-40 -53l31 -23l-33 -2l-31 23zm-38 -50l30 -22l-33 -2l-30 22z" fill="#b0f000" stroke="#b0f000"/><path d="M5724 5221l32 -28l-35 -1l-32 27zm-78 -89l32 -26l-34 -1l-32 25zm-36 -30l32 -24l-34 -2l-32 24z" fill="#8cf400" stroke="#8cf400"/><path d="M5415 5198l32 -26l-33 -3l-32 25zm-34 -33l32 -25l-33 -4l-32 25zm-33 -33l32 -24l-33 -4l-32 24zm-33 -32l32 -23l-32 -4l-32 23zm-95 -67l32 -21l-31 -5l-32 21z" fill="#48f800" stroke="#48f800"/><path d="M4791 5083l32 -21l-29 -7l-32 21z" fill="#00ff10" stroke="#00ff10"/><path d="M5974 5194l32 -30l-37 1l-32 29zm-45 -56l32 -27l-37 0l-32 27z" fill="#d4f000" stroke="#d4f000"/><path d="M5937 5194l32 -29l-36 1l-33 29zm-45 -56l32 -27l-36 0l-32 27zm-43 -53l32 -26l-36 0l-31 25zm-42 -52l31 -24l-34 -1l-31 24z" fill="#c8f000" stroke="#c8f000"/><path d="M5900 5195l33 -29l-37 0l-32 29zm-44 -57l32 -27l-35 0l-32 27zm-42 -54l31 -25l-35 -1l-31 26zm-41 -52l31 -24l-34 0l-32 23z" fill="#c0f000" stroke="#c0f000"/><path d="M5828 5194l32 -28l-36 0l-32 28zm-43 -57l32 -26l-35 -1l-32 26zm-38 -28l32 -25l-35 -1l-31 25zm-40 -54l31 -24l-34 -1l-31 24zm-39 -51l31 -23l-33 -1l-31 22zm-38 -50l31 -21l-33 -2l-30 21z" fill="#acf000" stroke="#acf000"/><path d="M5792 5194l32 -28l-35 -1l-33 28zm-42 -58l32 -26l-35 -1l-32 26zm-77 -82l31 -24l-33 -2l-32 24zm-38 -52l31 -22l-33 -2l-31 22zm-37 -50l30 -21l-32 -2l-31 21z" fill="#a4f000" stroke="#a4f000"/><path d="M6006 5164l33 -28l-37 1l-33 28z" fill="#e4f000" stroke="#e4f000"/><path d="M5969 5165l33 -28l-37 1l-32 28zm-45 -54l32 -27l-36 1l-32 26z" fill="#d8f000" stroke="#d8f000"/><path d="M5933 5166l32 -28l-36 0l-33 28zm-45 -55l32 -26l-36 0l-31 26zm-43 -52l32 -25l-35 -1l-32 25z" fill="#ccf000" stroke="#ccf000"/><path d="M5753 5164l32 -27l-35 -1l-32 27zm-40 -56l31 -25l-34 -2l-32 25zm-37 -28l31 -25l-34 -1l-31 24zm-39 -53l31 -23l-33 -2l-31 22zm-37 -51l30 -22l-32 -2l-31 21zm-37 -49l31 -20l-32 -2l-31 19z" fill="#a0f000" stroke="#a0f000"/><path d="M5446 5144l32 -25l-33 -3l-32 24zm-34 -32l32 -24l-33 -3l-31 23zm-33 -31l31 -23l-32 -3l-31 22zm-33 -30l31 -22l-31 -4l-32 22zm-32 -30l31 -21l-31 -4l-31 20zm-31 -30l30 -20l-31 -4l-30 20zm-31 -29l30 -19l-30 -5l-31 20zm-31 -28l31 -19l-31 -4l-30 18zm-30 -28l31 -18l-30 -5l-31 18z" fill="#5cf400" stroke="#5cf400"/><path d="M6039 5136l32 -29l-37 2l-32 28zm-42 -26l32 -28l-37 1l-31 28zm-5 -27l32 -26l-36 1l-32 26zm-44 -50l31 -25l-36 1l-31 25zm-48 -71l31 -23l-35 0l-30 23z" fill="#ecec00" stroke="#ecec00"/><path d="M6002 5137l32 -28l-37 1l-32 28zm-50 -79l31 -25l-35 0l-32 26zm-48 -73l31 -24l-35 1l-31 23z" fill="#e8ec00" stroke="#e8ec00"/><path d="M5965 5138l32 -28l-36 1l-32 27z" fill="#dcf000" stroke="#dcf000"/><path d="M5821 5138l32 -27l-36 0l-32 26zm-42 -54l31 -26l-34 0l-32 25zm-41 -53l32 -23l-35 -1l-31 23zm-39 -50l31 -22l-34 -1l-30 22z" fill="#b8f000" stroke="#b8f000"/><path d="M5715 5135l32 -26l-34 -1l-32 26zm-76 -83l32 -24l-34 -1l-31 23zm-37 -52l31 -22l-33 -2l-31 21zm-35 -27l31 -21l-33 -2l-30 21zm-2 -23l31 -21l-33 -2l-30 20zm-34 -26l31 -19l-32 -3l-31 20z" fill="#9cf000" stroke="#9cf000"/><path d="M6071 5107l32 -28l-37 2l-32 28zm-52 -75l32 -26l-36 1l-32 26zm-49 -71l31 -24l-35 1l-31 23z" fill="#ecd800" stroke="#ecd800"/><path d="M6034 5109l32 -28l-37 1l-32 28zm-51 -76l32 -26l-36 1l-31 25zm-44 -48l31 -24l-35 0l-31 24zm-4 -24l31 -23l-35 1l-31 23z" fill="#ece400" stroke="#ece400"/><path d="M5961 5111l31 -28l-36 1l-32 27zm-45 -52l32 -26l-36 1l-31 25zm-4 -25l31 -25l-35 0l-31 25zm-43 -49l31 -23l-34 0l-31 23zm-3 -23l30 -23l-34 0l-31 22z" fill="#e0ec00" stroke="#e0ec00"/><path d="M5678 5106l32 -25l-34 -1l-32 25zm-36 -28l31 -24l-34 -2l-31 24zm-38 -54l31 -22l-33 -2l-31 22zm-71 -77l30 -20l-32 -3l-30 21zm-35 -48l30 -18l-31 -3l-30 19z" fill="#98f000" stroke="#98f000"/><path d="M5347 5077l31 -22l-32 -4l-31 22zm-95 -65l31 -21l-31 -4l-31 20zm-31 -30l31 -20l-31 -4l-31 19zm-30 -29l30 -19l-30 -5l-31 19zm-30 -29l30 -18l-30 -5l-30 18zm-29 -28l30 -17l-30 -5l-30 17zm-30 -5l30 -17l-29 -6l-30 17zm-28 -28l30 -16l-29 -6l-30 17z" fill="#54f400" stroke="#54f400"/><path d="M6103 5079l32 -28l-37 3l-32 27zm-47 -49l31 -26l-36 2l-32 26zm-5 -24l31 -26l-36 2l-31 25z" fill="#eccc00" stroke="#eccc00"/><path d="M6066 5081l32 -27l-37 1l-32 27zm-51 -74l31 -25l-36 1l-31 25z" fill="#ecd400" stroke="#ecd400"/><path d="M6029 5082l32 -27l-37 2l-32 26zm-50 -74l31 -25l-36 1l-31 25z" fill="#ece000" stroke="#ece000"/><path d="M5956 5084l32 -26l-36 0l-32 27zm-48 -75l31 -24l-35 0l-31 24zm-46 -70l30 -22l-34 0l-30 22zm-4 -22l31 -22l-34 0l-31 21z" fill="#e4ec00" stroke="#e4ec00"/><path d="M5920 5085l32 -27l-36 1l-32 26zm-47 -76l31 -24l-35 0l-31 24zm-45 -70l30 -22l-34 -1l-30 22zm-4 -23l31 -21l-34 0l-30 21z" fill="#dcec00" stroke="#dcec00"/><path d="M5884 5085l32 -26l-35 0l-32 26z" fill="#d0f000" stroke="#d0f000"/><path d="M5314 5047l32 -22l-32 -4l-31 21zm-31 -31l31 -20l-31 -5l-31 21zm-31 -29l30 -20l-30 -5l-31 20zm-31 -29l31 -20l-31 -4l-30 19zm-30 -29l30 -18l-30 -5l-30 18zm-30 -28l31 -18l-30 -4l-30 17zm-29 -27l30 -17l-29 -5l-30 16zm-29 -6l30 -16l-29 -5l-30 16z" fill="#58f400" stroke="#58f400"/><path d="M5283 5042l31 -21l-31 -5l-31 22zm-62 -35l31 -20l-31 -5l-31 20zm-31 -30l31 -19l-30 -5l-31 19zm-30 -29l31 -19l-30 -5l-31 19zm-29 -29l30 -18l-29 -5l-31 18zm-58 -34l30 -17l-29 -5l-30 17zm-28 -27l30 -17l-29 -5l-30 16z" fill="#50f400" stroke="#50f400"/><path d="M6135 5051l31 -27l-37 3l-31 27z" fill="#ecbc00" stroke="#ecbc00"/><path d="M6098 5054l31 -27l-37 2l-31 26zm-6 -25l32 -27l-37 2l-31 26z" fill="#ecc400" stroke="#ecc400"/><path d="M6061 5055l31 -26l-36 1l-32 27zm-51 -72l31 -24l-36 1l-31 24z" fill="#ecd000" stroke="#ecd000"/><path d="M6024 5057l32 -27l-37 2l-31 26zm-50 -73l31 -24l-35 1l-31 24z" fill="#ecdc00" stroke="#ecdc00"/><path d="M5988 5058l31 -26l-36 1l-31 25zm-45 -49l31 -25l-35 1l-31 24zm-47 -70l31 -22l-35 0l-30 22z" fill="#ece800" stroke="#ece800"/><path d="M5881 5059l31 -25l-35 0l-32 25zm-43 -50l31 -24l-34 0l-31 23zm-44 -71l30 -22l-33 0l-31 21zm-3 -22l30 -21l-33 -1l-31 21z" fill="#d4ec00" stroke="#d4ec00"/><path d="M5606 5050l31 -23l-33 -3l-31 24zm-35 -28l31 -22l-33 -3l-31 23zm-2 -25l31 -21l-33 -3l-31 22zm-34 -26l30 -21l-32 -3l-31 21zm-36 -49l31 -20l-32 -3l-30 20z" fill="#94f000" stroke="#94f000"/><path d="M5573 5048l31 -24l-33 -2l-32 23zm-35 -28l31 -23l-33 -2l-31 22zm-36 -52l31 -21l-32 -2l-31 20zm-33 -26l30 -20l-31 -3l-31 19zm-34 -49l30 -18l-31 -3l-30 18z" fill="#8cf000" stroke="#8cf000"/><path d="M5190 5002l31 -20l-31 -5l-31 20zm-60 -35l30 -19l-30 -5l-30 19zm-30 -30l31 -18l-30 -5l-30 18zm-28 -29l30 -17l-29 -6l-31 18zm-30 -5l31 -18l-29 -5l-31 17zm-27 -29l30 -16l-29 -6l-30 16z" fill="#48f400" stroke="#48f400"/><path d="M6166 5024l32 -27l-38 3l-31 27zm-58 -91l30 -24l-36 2l-30 24z" fill="#e8ac00" stroke="#e8ac00"/><path d="M6129 5027l31 -27l-36 2l-32 27zm-52 -70l31 -24l-36 2l-31 24zm-5 -22l30 -24l-35 2l-31 23z" fill="#e8b800" stroke="#e8b800"/><path d="M5877 5034l31 -25l-35 0l-31 24zm-42 -49l31 -23l-35 -1l-31 23zm-4 -24l31 -22l-34 0l-31 22zm-43 -67l30 -20l-33 -1l-31 20z" fill="#d8ec00" stroke="#d8ec00"/><path d="M5842 5033l31 -24l-35 0l-31 24zm-42 -49l31 -23l-34 0l-31 22zm-3 -23l31 -22l-34 -1l-31 22zm-43 -68l31 -20l-33 -1l-31 20z" fill="#d0ec00" stroke="#d0ec00"/><path d="M5505 5017l31 -22l-32 -3l-31 22zm-34 -28l31 -21l-32 -3l-31 21zm-34 -51l31 -19l-32 -3l-30 19zm-32 -26l30 -19l-31 -3l-30 19zm-32 -47l30 -17l-31 -4l-30 17z" fill="#84f000" stroke="#84f000"/><path d="M5160 4972l31 -19l-31 -5l-30 19zm-30 -29l31 -19l-30 -5l-31 18zm-29 -29l31 -18l-30 -5l-30 17zm-57 -34l30 -17l-29 -5l-30 16zm-28 -28l30 -16l-29 -6l-30 16z" fill="#4cf400" stroke="#4cf400"/><path d="M5100 4962l30 -19l-30 -6l-30 19zm-29 -30l30 -18l-29 -6l-31 18zm-58 -35l31 -17l-29 -6l-31 17zm-27 -29l30 -16l-29 -6l-30 16z" fill="#44f400" stroke="#44f400"/><path d="M6198 4997l31 -26l-37 3l-32 26zm-6 -23l31 -26l-37 3l-31 25z" fill="#e89c00" stroke="#e89c00"/><path d="M6160 5000l32 -26l-37 2l-31 26zm-58 -89l31 -23l-36 2l-30 23zm-5 -21l30 -23l-35 2l-30 22z" fill="#e8a800" stroke="#e8a800"/><path d="M6124 5002l31 -26l-37 3l-31 25zm-57 -89l30 -23l-35 1l-31 23zm-5 -22l30 -22l-35 2l-30 22z" fill="#e8b400" stroke="#e8b400"/><path d="M6087 5004l31 -25l-36 1l-31 26zm-51 -68l31 -23l-36 1l-30 23zm-5 -22l31 -23l-35 2l-31 22z" fill="#e8c000" stroke="#e8c000"/><path d="M5804 5008l31 -23l-35 -1l-30 24zm-44 -71l31 -21l-34 -1l-30 21zm-3 -22l31 -21l-34 -1l-30 21z" fill="#ccec00" stroke="#ccec00"/><path d="M5770 5008l30 -24l-34 -1l-31 24zm-43 -72l30 -21l-33 -1l-30 21zm-3 -22l30 -21l-33 -1l-30 20z" fill="#c4ec00" stroke="#c4ec00"/><path d="M5536 4995l31 -22l-32 -2l-31 21zm-35 -50l30 -21l-32 -2l-30 20zm-33 -26l30 -20l-31 -2l-31 19zm-1 -22l30 -19l-32 -3l-30 18z" fill="#90f000" stroke="#90f000"/><path d="M5504 4992l31 -21l-33 -3l-31 21zm-34 -27l31 -20l-32 -3l-31 20zm-34 -49l31 -19l-32 -4l-30 19zm-32 -26l30 -18l-31 -4l-30 19zm-1 -22l30 -17l-30 -3l-30 17z" fill="#88f000" stroke="#88f000"/><path d="M5439 4986l31 -21l-32 -3l-30 20zm-32 -28l30 -20l-31 -3l-31 20zm-33 -49l30 -19l-31 -3l-30 18zm-31 -26l30 -18l-31 -4l-30 18z" fill="#7cf000" stroke="#7cf000"/><path d="M5041 4926l31 -18l-30 -5l-30 18zm-57 -35l31 -17l-29 -6l-31 17z" fill="#40f400" stroke="#40f400"/><path d="M5012 4921l30 -18l-29 -6l-30 18zm-29 -6l30 -18l-29 -6l-30 17zm-28 -30l31 -17l-29 -6l-30 17z" fill="#3cf400" stroke="#3cf400"/><path d="M6229 4971l31 -26l-37 3l-31 26z" fill="#e89000" stroke="#e89000"/><path d="M6155 4976l31 -25l-37 2l-31 26zm-6 -23l31 -24l-36 2l-31 25z" fill="#e8a400" stroke="#e8a400"/><path d="M6118 4979l31 -26l-36 3l-31 24zm-5 -23l31 -25l-36 2l-31 24zm-56 -85l30 -22l-35 2l-30 21z" fill="#e8b000" stroke="#e8b000"/><path d="M6082 4980l31 -24l-36 1l-31 25zm-55 -87l30 -22l-35 1l-30 22zm-5 -21l30 -21l-35 1l-30 21z" fill="#e8bc00" stroke="#e8bc00"/><path d="M6046 4982l31 -25l-36 2l-31 24zm-50 -67l31 -22l-35 1l-31 22zm-4 -21l30 -22l-35 1l-30 22z" fill="#e8c800" stroke="#e8c800"/><path d="M5766 4983l31 -22l-34 -1l-30 22zm-3 -23l31 -22l-34 -1l-30 22zm-42 -68l31 -20l-33 -1l-30 20zm-2 -21l30 -19l-33 -1l-30 19z" fill="#c8ec00" stroke="#c8ec00"/><path d="M5733 4982l30 -22l-33 -1l-31 22zm-3 -23l30 -22l-33 -1l-31 22zm-39 -47l30 -20l-32 -1l-30 20zm-2 -21l30 -20l-33 -1l-30 19zm-3 -21l30 -19l-32 -2l-30 19z" fill="#c0ec00" stroke="#c0ec00"/><path d="M5438 4962l31 -20l-32 -4l-30 20zm-32 -27l30 -19l-31 -4l-30 19zm-33 -48l30 -19l-30 -3l-30 18zm-31 -26l30 -17l-30 -4l-30 17z" fill="#80f000" stroke="#80f000"/><path d="M5375 4955l31 -20l-31 -4l-31 20zm-31 -27l30 -19l-31 -4l-30 19zm-32 -27l31 -18l-31 -4l-30 18zm-30 -48l30 -16l-30 -5l-30 17zm-30 -25l29 -16l-29 -4l-30 16z" fill="#74f000" stroke="#74f000"/><path d="M6260 4945l31 -26l-37 4l-31 25z" fill="#e88000" stroke="#e88000"/><path d="M6223 4948l31 -25l-37 3l-31 25zm-6 -22l30 -25l-36 3l-31 25z" fill="#e88c00" stroke="#e88c00"/><path d="M6186 4951l31 -25l-37 3l-31 24zm-6 -22l31 -25l-37 3l-30 24z" fill="#e89800" stroke="#e89800"/><path d="M6041 4959l31 -24l-36 1l-31 24zm-54 -86l30 -21l-34 1l-30 21zm-4 -20l30 -21l-34 1l-30 20z" fill="#e8c400" stroke="#e8c400"/><path d="M6005 4960l31 -24l-35 1l-31 24zm-48 -65l30 -22l-34 1l-30 21z" fill="#e8d000" stroke="#e8d000"/><path d="M5696 4958l31 -22l-33 -1l-31 21zm-37 -47l30 -20l-33 -2l-30 20zm-3 -22l30 -19l-32 -2l-30 19z" fill="#b8ec00" stroke="#b8ec00"/><path d="M5663 4956l31 -21l-33 -2l-31 21zm-2 -23l30 -21l-32 -1l-31 20zm-37 -46l30 -19l-32 -2l-30 19zm-2 -21l30 -18l-32 -2l-30 18zm-2 -20l29 -18l-31 -2l-30 18z" fill="#b4ec00" stroke="#b4ec00"/><path d="M5375 4931l30 -19l-31 -3l-30 19zm-32 -26l30 -18l-30 -4l-31 18zm-31 -26l30 -18l-30 -4l-30 18zm0 -22l30 -17l-30 -3l-30 16zm-30 -25l29 -16l-30 -4l-29 16z" fill="#78f000" stroke="#78f000"/><path d="M5313 4924l30 -19l-31 -4l-30 19zm-31 -27l30 -18l-30 -4l-30 18zm0 -22l30 -18l-30 -4l-30 17zm-30 -26l30 -17l-30 -4l-30 17zm-30 -25l30 -16l-30 -4l-29 15z" fill="#70f000" stroke="#70f000"/><path d="M5282 4920l30 -19l-30 -4l-30 18zm-30 -50l30 -17l-30 -4l-30 17zm-30 -25l30 -17l-30 -4l-30 16zm-29 -26l29 -15l-29 -5l-29 16z" fill="#6cf000" stroke="#6cf000"/><path d="M6291 4919l31 -25l-38 4l-30 25z" fill="#e47400" stroke="#e47400"/><path d="M6254 4923l30 -25l-37 3l-30 25z" fill="#e48000" stroke="#e48000"/><path d="M6144 4931l30 -24l-36 2l-30 24zm-6 -22l31 -23l-36 2l-31 23z" fill="#e8a000" stroke="#e8a000"/><path d="M6001 4937l30 -23l-35 1l-30 23zm-48 -63l30 -21l-34 0l-30 21zm-4 -21l30 -20l-34 1l-30 20z" fill="#e8cc00" stroke="#e8cc00"/><path d="M5966 4938l30 -23l-35 1l-30 23zm-5 -22l31 -22l-35 1l-30 22zm-46 -62l30 -20l-34 0l-30 20zm-4 -20l29 -19l-33 0l-30 19z" fill="#e8d400" stroke="#e8d400"/><path d="M5931 4939l30 -23l-34 1l-31 22zm-46 -65l30 -20l-34 0l-30 20zm-4 -20l30 -20l-34 0l-29 20z" fill="#e8e000" stroke="#e8e000"/><path d="M5694 4935l30 -21l-33 -2l-30 21zm-40 -67l30 -19l-32 -1l-30 18z" fill="#bcec00" stroke="#bcec00"/><path d="M5628 4931l31 -20l-33 -2l-30 20zm-2 -22l30 -20l-32 -2l-30 20zm-36 -45l30 -18l-32 -2l-30 18zm-2 -20l30 -18l-32 -2l-30 18z" fill="#b0ec00" stroke="#b0ec00"/><path d="M5596 4929l30 -20l-32 -2l-31 20zm-36 -46l30 -19l-32 -2l-30 19zm-2 -21l30 -18l-32 -2l-29 18zm-2 -20l30 -18l-31 -2l-30 17z" fill="#a8ec00" stroke="#a8ec00"/><path d="M5252 4893l30 -18l-30 -5l-30 18zm-30 -27l30 -17l-30 -4l-30 16zm-30 -26l30 -16l-29 -5l-30 16zm-28 -25l29 -16l-29 -4l-30 15zm-29 -25l30 -15l-29 -5l-30 15z" fill="#68f000" stroke="#68f000"/><path d="M5222 4888l30 -18l-30 -4l-30 17zm-30 -27l30 -16l-30 -5l-30 17zm-29 -26l30 -16l-29 -4l-30 15zm-29 -25l30 -15l-29 -5l-29 15z" fill="#64f000" stroke="#64f000"/><path d="M5192 4883l30 -17l-30 -5l-30 18zm-30 -26l30 -17l-29 -5l-30 17zm-28 -27l30 -15l-30 -5l-29 15zm-28 -25l29 -15l-29 -5l-29 15z" fill="#60f000" stroke="#60f000"/><path d="M5162 4879l30 -18l-30 -4l-30 17zm-29 -27l30 -17l-29 -5l-30 17zm-28 -27l29 -15l-28 -5l-30 15z" fill="#5cf000" stroke="#5cf000"/><path d="M6322 4894l30 -25l-37 4l-31 25zm-7 -21l30 -24l-37 4l-30 24zm-7 -20l30 -23l-36 3l-30 24zm-6 -20l30 -22l-37 3l-30 23z" fill="#e46400" stroke="#e46400"/><path d="M6284 4898l31 -25l-37 4l-31 24zm-6 -21l30 -24l-36 4l-31 23zm-6 -20l30 -24l-37 4l-30 23zm-7 -20l30 -23l-36 4l-30 22z" fill="#e47000" stroke="#e47000"/><path d="M6247 4901l31 -24l-37 3l-30 24zm-6 -21l31 -23l-37 3l-30 23zm-6 -20l30 -23l-36 3l-30 23z" fill="#e47c00" stroke="#e47c00"/><path d="M6211 4904l30 -24l-36 3l-31 24zm-6 -21l30 -23l-36 3l-30 23zm-6 -20l30 -23l-36 3l-30 22z" fill="#e48800" stroke="#e48800"/><path d="M6174 4907l31 -24l-36 3l-31 23zm-5 -21l30 -23l-36 2l-30 23z" fill="#e49400" stroke="#e49400"/><path d="M5927 4917l30 -22l-34 0l-31 22zm-50 -83l30 -19l-33 0l-30 19z" fill="#e8dc00" stroke="#e8dc00"/><path d="M5892 4917l31 -22l-34 0l-31 22zm-3 -22l30 -21l-34 0l-30 21zm-45 -61l30 -19l-33 0l-30 19zm-3 -19l29 -19l-33 0l-29 18z" fill="#e8e400" stroke="#e8e400"/><path d="M5594 4907l30 -20l-32 -2l-30 20zm-2 -22l30 -19l-32 -2l-30 19z" fill="#acec00" stroke="#acec00"/><path d="M5562 4905l30 -20l-32 -2l-30 19zm-37 -66l30 -17l-31 -3l-30 17zm-1 -20l29 -17l-31 -2l-29 17z" fill="#a4ec00" stroke="#a4ec00"/><path d="M5530 4902l30 -19l-32 -2l-30 18zm-35 -45l30 -18l-31 -3l-30 18zm-1 -21l30 -17l-31 -2l-30 17z" fill="#9cec00" stroke="#9cec00"/><path d="M5104 4847l30 -17l-29 -5l-30 16zm-29 -6l30 -16l-29 -5l-30 16zm1 -21l30 -15l-29 -5l-30 15z" fill="#58f000" stroke="#58f000"/><path d="M5046 4836l30 -16l-29 -5l-30 15z" fill="#54f000" stroke="#54f000"/><path d="M6352 4869l31 -24l-38 4l-30 24zm-7 -20l31 -23l-38 4l-30 23z" fill="#e45800" stroke="#e45800"/><path d="M6133 4888l30 -23l-36 2l-30 23zm-6 -21l30 -22l-35 2l-30 22zm-5 -20l30 -21l-35 2l-30 21z" fill="#e49c00" stroke="#e49c00"/><path d="M5923 4895l30 -21l-34 0l-30 21zm-4 -21l30 -21l-34 1l-30 20z" fill="#e8d800" stroke="#e8d800"/><path d="M5855 4895l30 -21l-34 0l-30 21zm-4 -21l30 -20l-33 0l-30 20zm-3 -20l29 -20l-33 0l-30 19z" fill="#e8e800" stroke="#e8e800"/><path d="M5821 4895l30 -21l-33 0l-30 20zm-3 -21l30 -20l-34 -1l-29 20zm-4 -21l30 -19l-33 0l-30 19zm-3 -19l30 -19l-33 -1l-30 19zm-3 -20l29 -18l-32 0l-30 18z" fill="#e0e800" stroke="#e0e800"/><path d="M5528 4881l30 -19l-31 -2l-30 18zm-1 -21l29 -18l-31 -3l-30 18zm-34 -43l29 -17l-31 -3l-29 17z" fill="#a0ec00" stroke="#a0ec00"/><path d="M5497 4878l30 -18l-32 -3l-30 18zm-33 -24l30 -18l-31 -2l-30 17zm-1 -20l30 -17l-31 -3l-30 16zm-1 -20l29 -17l-30 -3l-30 17z" fill="#98ec00" stroke="#98ec00"/><path d="M5465 4875l30 -18l-31 -3l-30 18zm-33 -45l30 -16l-31 -3l-29 16zm-1 -19l30 -17l-31 -3l-29 16zm-1 -20l30 -15l-31 -3l-29 15z" fill="#94ec00" stroke="#94ec00"/><path d="M5434 4872l30 -18l-31 -3l-30 17zm-1 -21l30 -17l-31 -4l-29 18zm-32 -44l29 -16l-30 -3l-29 16zm-1 -19l29 -15l-30 -3l-29 15z" fill="#90ec00" stroke="#90ec00"/><path d="M6383 4845l30 -24l-37 5l-31 23zm-7 -19l30 -24l-38 5l-30 23zm-8 -19l30 -23l-36 4l-30 23zm-6 -19l29 -22l-36 4l-30 22zm-7 -18l29 -21l-36 4l-30 21zm-7 -17l29 -21l-36 4l-29 21z" fill="#e04c00" stroke="#e04c00"/><path d="M6163 4865l30 -22l-36 2l-30 22zm-6 -20l30 -22l-35 3l-30 21zm-5 -19l30 -22l-36 3l-29 21zm-6 -19l30 -21l-35 2l-29 21z" fill="#e49000" stroke="#e49000"/><path d="M6092 4869l30 -22l-35 2l-30 22z" fill="#e4a800" stroke="#e4a800"/><path d="M5785 4873l29 -20l-33 0l-29 19zm-4 -20l30 -19l-33 -1l-29 19zm-3 -20l30 -19l-33 0l-29 18zm-3 -19l30 -18l-33 -1l-29 18zm-3 -19l29 -17l-32 -1l-29 17z" fill="#d8e800" stroke="#d8e800"/><path d="M5752 4872l29 -19l-32 -1l-30 19zm-3 -20l29 -19l-32 -1l-30 19z" fill="#d0e800" stroke="#d0e800"/><path d="M5403 4848l29 -18l-30 -3l-30 17zm-1 -21l29 -16l-30 -4l-30 17zm-32 -42l29 -15l-29 -4l-30 15z" fill="#8cec00" stroke="#8cec00"/><path d="M5372 4844l30 -17l-31 -3l-29 16zm-1 -20l30 -17l-30 -3l-30 16zm0 -20l29 -16l-30 -3l-29 15zm-31 -23l30 -15l-30 -3l-29 14z" fill="#88ec00" stroke="#88ec00"/><path d="M5342 4840l29 -16l-30 -4l-29 17zm-31 -24l30 -16l-30 -3l-30 15zm0 -19l29 -16l-29 -4l-30 16zm0 -20l29 -14l-30 -4l-29 15zm-30 -22l29 -14l-29 -4l-29 14z" fill="#80ec00" stroke="#80ec00"/><path d="M5312 4837l29 -17l-30 -4l-29 16zm-31 -44l30 -16l-30 -3l-29 14zm0 -19l29 -15l-29 -4l-29 14zm-29 -23l29 -14l-29 -4l-29 14z" fill="#7cec00" stroke="#7cec00"/><path d="M6413 4821l30 -24l-37 5l-30 24zm-7 -19l29 -23l-37 5l-30 23zm-8 -18l30 -22l-37 4l-29 22zm-7 -18l30 -22l-37 5l-29 21z" fill="#e04000" stroke="#e04000"/><path d="M6338 4830l30 -23l-36 4l-30 22zm-6 -19l30 -23l-37 4l-30 22zm-7 -19l30 -22l-37 4l-29 22zm-7 -18l30 -21l-36 4l-30 21zm-6 -17l29 -21l-36 4l-29 20z" fill="#e05800" stroke="#e05800"/><path d="M6229 4840l30 -22l-36 3l-30 22zm-6 -19l30 -22l-36 3l-30 21z" fill="#e47800" stroke="#e47800"/><path d="M6193 4843l30 -22l-36 2l-30 22zm-6 -20l30 -21l-35 2l-30 22zm-5 -19l29 -20l-35 2l-30 21z" fill="#e48400" stroke="#e48400"/><path d="M6087 4849l30 -21l-35 1l-30 22zm-5 -20l30 -20l-35 2l-30 20zm-5 -18l29 -21l-34 2l-30 20zm-5 -19l29 -19l-34 1l-29 20z" fill="#e4a400" stroke="#e4a400"/><path d="M6052 4851l30 -22l-35 2l-30 21z" fill="#e4b000" stroke="#e4b000"/><path d="M6017 4852l30 -21l-34 1l-30 21zm-4 -20l29 -20l-34 1l-29 20zm-5 -19l30 -19l-34 1l-30 19z" fill="#e4b800" stroke="#e4b800"/><path d="M5716 4851l30 -19l-33 -1l-29 18zm-3 -20l30 -18l-32 -1l-30 17zm-2 -19l29 -18l-32 -1l-29 17zm-3 -19l29 -17l-31 -1l-30 16z" fill="#cce800" stroke="#cce800"/><path d="M5684 4849l29 -18l-32 -2l-29 19zm-3 -20l30 -17l-32 -2l-30 18zm-2 -19l29 -17l-32 -2l-29 18zm-3 -19l30 -16l-32 -2l-29 17zm-2 -18l29 -16l-31 -1l-29 16z" fill="#c4e800" stroke="#c4e800"/><path d="M5652 4848l29 -19l-32 -1l-29 18zm-3 -20l30 -18l-32 -1l-29 17zm-6 -56l29 -16l-32 -2l-29 16z" fill="#bce800" stroke="#bce800"/><path d="M5341 4820l30 -16l-30 -4l-30 16zm0 -20l29 -15l-30 -4l-29 16z" fill="#84ec00" stroke="#84ec00"/><path d="M5281 4812l30 -15l-30 -4l-29 15zm-29 -4l29 -15l-29 -5l-30 16zm0 -20l29 -14l-29 -5l-29 15zm0 -19l29 -14l-29 -4l-29 14zm-29 -22l29 -14l-29 -4l-29 13z" fill="#78ec00" stroke="#78ec00"/><path d="M5222 4804l30 -16l-29 -4l-30 15zm-29 -5l30 -15l-30 -4l-29 15zm0 -19l30 -15l-29 -4l-29 14zm1 -19l29 -14l-29 -5l-29 14z" fill="#70ec00" stroke="#70ec00"/><path d="M5164 4795l29 -15l-28 -5l-30 15z" fill="#68ec00" stroke="#68ec00"/><path d="M6443 4797l30 -23l-38 5l-29 23zm-8 -18l30 -22l-37 5l-30 22zm-7 -17l30 -22l-37 4l-30 22z" fill="#e03400" stroke="#e03400"/><path d="M6295 4814l30 -22l-36 4l-30 22zm-6 -18l29 -22l-36 4l-29 21zm-7 -18l30 -21l-36 3l-29 21zm-6 -18l29 -20l-35 3l-29 20z" fill="#e06400" stroke="#e06400"/><path d="M6259 4818l30 -22l-36 3l-30 22zm-6 -19l29 -21l-35 3l-30 21zm-6 -18l29 -21l-35 3l-30 21zm-6 -18l29 -20l-35 3l-30 20z" fill="#e07000" stroke="#e07000"/><path d="M6117 4828l29 -21l-34 2l-30 20zm-5 -19l29 -21l-35 2l-29 21zm-6 -19l30 -19l-35 2l-29 19z" fill="#e49800" stroke="#e49800"/><path d="M6047 4831l30 -20l-35 1l-29 20zm-5 -19l30 -20l-34 2l-30 19zm-4 -18l29 -20l-34 2l-29 19zm-5 -18l29 -19l-34 1l-29 19z" fill="#e4ac00" stroke="#e4ac00"/><path d="M5979 4833l29 -20l-34 1l-29 20zm-5 -19l30 -19l-34 0l-30 20zm-4 -19l29 -18l-33 0l-30 19zm-4 -18l29 -18l-33 1l-30 18z" fill="#e4c000" stroke="#e4c000"/><path d="M5945 4834l29 -20l-34 1l-29 19z" fill="#e4cc00" stroke="#e4cc00"/><path d="M5746 4832l29 -18l-32 -1l-30 18zm-3 -19l29 -18l-32 -1l-29 18zm-3 -19l29 -17l-32 -1l-29 17z" fill="#d4e800" stroke="#d4e800"/><path d="M5618 4826l29 -17l-32 -2l-29 17zm-3 -19l30 -17l-32 -2l-29 17zm-2 -19l30 -16l-32 -2l-29 16zm-2 -18l29 -16l-31 -2l-29 16z" fill="#b8e800" stroke="#b8e800"/><path d="M5586 4824l29 -17l-31 -2l-29 17zm-2 -19l29 -17l-31 -2l-29 16zm-2 -19l29 -16l-31 -2l-29 16zm-2 -18l29 -16l-30 -2l-29 16z" fill="#b0e800" stroke="#b0e800"/><path d="M5555 4822l29 -17l-31 -3l-29 17zm-2 -20l29 -16l-31 -2l-29 16zm-2 -18l29 -16l-30 -2l-29 15zm-1 -18l29 -16l-31 -2l-29 15z" fill="#ace800" stroke="#ace800"/><path d="M5223 4784l29 -15l-29 -4l-30 15zm0 -19l29 -14l-29 -4l-29 14z" fill="#74ec00" stroke="#74ec00"/><path d="M5165 4775l29 -14l-29 -5l-29 14z" fill="#6cec00" stroke="#6cec00"/><path d="M6473 4774l29 -23l-37 6l-30 22z" fill="#e02800" stroke="#e02800"/><path d="M6217 4802l30 -21l-36 3l-29 20zm-6 -18l30 -21l-36 3l-29 20z" fill="#e07800" stroke="#e07800"/><path d="M5940 4815l30 -20l-34 1l-29 19zm-4 -19l30 -19l-34 1l-29 18zm-4 -18l30 -18l-34 1l-29 17z" fill="#e4c800" stroke="#e4c800"/><path d="M5907 4815l29 -19l-33 0l-29 19z" fill="#e4d400" stroke="#e4d400"/><path d="M5874 4815l29 -19l-33 0l-29 19zm-4 -19l29 -18l-32 0l-30 18z" fill="#e4dc00" stroke="#e4dc00"/><path d="M5647 4809l29 -18l-31 -1l-30 17zm-2 -19l29 -17l-31 -1l-30 16z" fill="#c0e800" stroke="#c0e800"/><path d="M5522 4800l29 -16l-30 -3l-30 16zm-1 -19l29 -15l-31 -3l-29 16z" fill="#a4e800" stroke="#a4e800"/><path d="M5491 4797l30 -16l-31 -2l-29 15zm-1 -18l29 -16l-30 -2l-29 15zm-1 -18l29 -15l-31 -3l-29 15z" fill="#a0e800" stroke="#a0e800"/><path d="M5461 4794l29 -15l-30 -3l-30 15zm-1 -18l29 -15l-31 -3l-29 15zm-2 -18l29 -15l-30 -3l-29 15z" fill="#9ce800" stroke="#9ce800"/><path d="M6502 4751l30 -22l-37 6l-30 22z" fill="#dc1c00" stroke="#dc1c00"/><path d="M6465 4757l30 -22l-37 5l-30 22z" fill="#dc2800" stroke="#dc2800"/><path d="M6176 4786l29 -20l-35 3l-29 19zm-6 -17l30 -20l-35 2l-29 20z" fill="#e08400" stroke="#e08400"/><path d="M6141 4788l29 -19l-34 2l-30 19zm-5 -17l29 -20l-35 3l-29 19z" fill="#e09000" stroke="#e09000"/><path d="M6004 4795l29 -19l-34 1l-29 18zm-5 -18l29 -19l-33 1l-29 18z" fill="#e4b400" stroke="#e4b400"/><path d="M5903 4796l29 -18l-33 0l-29 18zm-4 -18l29 -17l-32 0l-29 17z" fill="#e4d000" stroke="#e4d000"/><path d="M5837 4796l30 -18l-33 0l-29 18z" fill="#e4e400" stroke="#e4e400"/><path d="M5805 4796l29 -18l-33 0l-29 17zm-4 -18l30 -17l-33 -1l-29 17z" fill="#e0e400" stroke="#e0e400"/><path d="M5429 4773l29 -15l-30 -3l-29 15z" fill="#94e800" stroke="#94e800"/><path d="M5399 4770l29 -15l-29 -3l-29 14zm0 -18l28 -15l-29 -3l-29 14z" fill="#90e800" stroke="#90e800"/><path d="M5370 4766l29 -14l-30 -4l-29 15zm-1 -18l29 -14l-30 -3l-29 14z" fill="#8ce800" stroke="#8ce800"/><path d="M5340 4763l29 -15l-30 -3l-29 14zm-1 -18l29 -14l-29 -4l-29 14z" fill="#88e800" stroke="#88e800"/><path d="M5310 4759l29 -14l-29 -4l-29 14zm0 -18l29 -14l-29 -3l-29 13z" fill="#84e800" stroke="#84e800"/><path d="M6532 4729l29 -22l-37 6l-29 22z" fill="#dc1400" stroke="#dc1400"/><path d="M6495 4735l29 -22l-37 5l-29 22z" fill="#dc2000" stroke="#dc2000"/><path d="M6458 4740l29 -22l-37 5l-29 21z" fill="#dc2c00" stroke="#dc2c00"/><path d="M6421 4744l29 -21l-37 5l-29 21z" fill="#dc3800" stroke="#dc3800"/><path d="M6384 4749l29 -21l-36 4l-29 21z" fill="#dc4400" stroke="#dc4400"/><path d="M6205 4766l30 -20l-35 3l-30 20z" fill="#e07c00" stroke="#e07c00"/><path d="M6101 4773l29 -19l-34 1l-29 19z" fill="#e09800" stroke="#e09800"/><path d="M6067 4774l29 -19l-34 2l-29 19z" fill="#e0a400" stroke="#e0a400"/><path d="M5867 4778l29 -17l-33 0l-29 17z" fill="#e4d800" stroke="#e4d800"/><path d="M5834 4778l29 -17l-32 0l-30 17z" fill="#e4e000" stroke="#e4e000"/><path d="M5769 4777l29 -17l-32 -1l-29 17z" fill="#d8e400" stroke="#d8e400"/><path d="M5737 4776l29 -17l-31 -1l-29 17z" fill="#d0e400" stroke="#d0e400"/><path d="M5706 4775l29 -17l-32 -1l-29 16z" fill="#cce400" stroke="#cce400"/><path d="M5519 4763l29 -15l-30 -2l-29 15z" fill="#a8e800" stroke="#a8e800"/><path d="M5428 4755l29 -15l-30 -3l-28 15z" fill="#98e800" stroke="#98e800"/><path d="M5281 4737l29 -13l-29 -4l-29 13z" fill="#80e800" stroke="#80e800"/><path d="M5252 4733l29 -13l-29 -4l-29 13z" fill="#7ce800" stroke="#7ce800"/></g>
<path d="M525.1 590.5L517.9 589.3L510.8 588.0L503.8 586.7L496.9 585.2L490.1 583.6L483.4 581.9L476.8 580.2L470.2 578.4L463.8 576.5L457.5 574.5L451.2 572.5L445.0 570.4L438.9 568.2L432.9 566.0L426.9 563.7L421.0 561.4L415.2 559.0L409.4 556.6L403.8 554.1L398.1 551.6M525.1 590.5L532.3 582.9L539.5 575.5L546.6 568.3L553.6 561.2L560.5 554.3L567.4 547.6L574.2 541.0L580.9 534.6L587.6 528.4L594.1 522.3L600.6 516.4L607.1 510.7L613.5 505.1L619.8 499.7L626.0 494.5L632.2 489.4L638.3 484.5L644.3 479.7L650.2 475.1L656.1 470.7M532.3 582.9L525.1 581.9L518.0 580.7L511.0 579.5L504.0 578.1L497.2 576.6L490.5 575.1L483.9 573.5L477.3 571.8L470.9 570.0L464.5 568.1L458.3 566.2L452.0 564.2L445.9 562.1L439.9 560.0L433.9 557.8L428.0 555.6L422.2 553.3L416.4 551.0L410.7 548.6L405.1 546.2M517.9 589.3L525.1 581.9L532.2 574.6L539.3 567.5L546.3 560.5L553.2 553.8L560.1 547.2L566.9 540.7L573.6 534.4L580.2 528.3L586.8 522.4L593.3 516.6L599.7 511.0L606.1 505.5L612.4 500.2L618.6 495.1L624.7 490.1L630.8 485.3L636.8 480.7L642.8 476.2L648.7 471.8M539.5 575.5L532.2 574.6L525.1 573.6L518.1 572.4L511.1 571.2L504.3 569.8L497.6 568.4L490.9 566.9L484.4 565.3L477.9 563.6L471.5 561.9L465.2 560.1L459.0 558.2L452.9 556.2L446.8 554.2L440.8 552.1L434.9 550.0L429.1 547.8L423.3 545.6L417.6 543.3L412.0 541.0M510.8 588.0L518.0 580.7L525.1 573.6L532.1 566.6L539.1 559.7L546.0 553.1L552.9 546.6L559.6 540.3L566.3 534.1L573.0 528.1L579.5 522.3L586.0 516.6L592.4 511.1L598.8 505.8L605.1 500.6L611.3 495.6L617.4 490.7L623.5 486.0L629.5 481.4L635.5 477.0L641.3 472.8M546.6 568.3L539.3 567.5L532.1 566.6L525.1 565.5L518.2 564.4L511.3 563.2L504.6 561.9L497.9 560.5L491.3 559.0L484.9 557.4L478.5 555.8L472.2 554.1L465.9 552.3L459.8 550.4L453.7 548.5L447.7 546.6L441.8 544.5L435.9 542.4L430.1 540.3L424.4 538.1L418.8 535.9M503.8 586.7L511.0 579.5L518.1 572.4L525.1 565.5L532.1 558.8L539.0 552.3L545.8 545.9L552.5 539.7L559.2 533.7L565.8 527.8L572.4 522.1L578.9 516.5L585.3 511.1L591.6 505.9L597.9 500.8L604.1 495.9L610.2 491.1L616.3 486.5L622.3 482.1L628.2 477.8L634.1 473.6M553.6 561.2L546.3 560.5L539.1 559.7L532.1 558.8L525.1 557.8L518.2 556.7L511.5 555.5L504.8 554.3L498.2 552.9L491.7 551.4L485.3 549.9L479.0 548.3L472.8 546.6L466.6 544.8L460.5 543.0L454.5 541.1L448.6 539.2L442.7 537.2L436.9 535.2L431.2 533.1L425.5 531.0M496.9 585.2L504.0 578.1L511.1 571.2L518.2 564.4L525.1 557.8L532.0 551.4L538.8 545.2L545.5 539.1L552.2 533.1L558.8 527.4L565.3 521.8L571.8 516.3L578.2 511.0L584.5 505.9L590.8 500.9L597.0 496.1L603.1 491.4L609.2 486.9L615.2 482.6L621.1 478.4L627.0 474.3M560.5 554.3L553.2 553.8L546.0 553.1L539.0 552.3L532.0 551.4L525.1 550.4L518.3 549.3L511.7 548.2L505.1 546.9L498.6 545.6L492.1 544.1L485.8 542.6L479.5 541.0L473.4 539.4L467.3 537.7L461.3 535.9L455.3 534.0L449.4 532.2L443.6 530.2L437.9 528.2L432.2 526.2M490.1 583.6L497.2 576.6L504.3 569.8L511.3 563.2L518.2 556.7L525.1 550.4L531.9 544.3L538.6 538.3L545.3 532.5L551.9 526.8L558.4 521.3L564.9 516.0L571.3 510.8L577.6 505.8L583.8 500.9L590.0 496.2L596.1 491.6L602.2 487.2L608.2 482.9L614.1 478.8L620.0 474.9M567.4 547.6L560.1 547.2L552.9 546.6L545.8 545.9L538.8 545.2L531.9 544.3L525.1 543.3L518.4 542.2L511.8 541.1L505.3 539.8L498.9 538.5L492.5 537.1L486.3 535.6L480.1 534.1L474.0 532.5L467.9 530.8L462.0 529.0L456.1 527.2L450.3 525.4L444.5 523.5L438.8 521.5M483.4 581.9L490.5 575.1L497.6 568.4L504.6 561.9L511.5 555.5L518.3 549.3L525.1 543.3L531.8 537.4L538.5 531.7L545.1 526.2L551.6 520.8L558.0 515.5L564.4 510.5L570.7 505.5L577.0 500.8L583.1 496.1L589.2 491.7L595.3 487.4L601.3 483.2L607.2 479.2L613.0 475.4M574.2 541.0L566.9 540.7L559.6 540.3L552.5 539.7L545.5 539.1L538.6 538.3L531.8 537.4L525.1 536.5L518.5 535.4L512.0 534.3L505.5 533.1L499.2 531.8L492.9 530.4L486.7 528.9L480.6 527.4L474.5 525.8L468.6 524.2L462.7 522.5L456.8 520.7L451.1 518.9L445.4 517.0M476.8 580.2L483.9 573.5L490.9 566.9L497.9 560.5L504.8 554.3L511.7 548.2L518.4 542.2L525.1 536.5L531.8 530.9L538.3 525.4L544.8 520.1L551.3 515.0L557.6 510.0L563.9 505.2L570.2 500.5L576.3 496.0L582.4 491.6L588.5 487.4L594.5 483.4L600.4 479.5L606.2 475.7M580.9 534.6L573.6 534.4L566.3 534.1L559.2 533.7L552.2 533.1L545.3 532.5L538.5 531.7L531.8 530.9L525.1 529.9L518.6 528.9L512.1 527.8L505.8 526.6L499.5 525.3L493.3 523.9L487.1 522.5L481.1 521.0L475.1 519.5L469.2 517.8L463.4 516.2L457.6 514.5L451.9 512.7M470.2 578.4L477.3 571.8L484.4 565.3L491.3 559.0L498.2 552.9L505.1 546.9L511.8 541.1L518.5 535.4L525.1 529.9L531.7 524.6L538.2 519.4L544.6 514.4L551.0 509.5L557.3 504.8L563.5 500.2L569.6 495.8L575.7 491.5L581.8 487.4L587.7 483.4L593.6 479.6L599.5 475.9M587.6 528.4L580.2 528.3L573.0 528.1L565.8 527.8L558.8 527.4L551.9 526.8L545.1 526.2L538.3 525.4L531.7 524.6L525.1 523.6L518.7 522.6L512.3 521.5L506.0 520.3L499.8 519.1L493.6 517.8L487.6 516.4L481.6 514.9L475.7 513.4L469.8 511.8L464.0 510.2L458.3 508.5M463.8 576.5L470.9 570.0L477.9 563.6L484.9 557.4L491.7 551.4L498.6 545.6L505.3 539.8L512.0 534.3L518.6 528.9L525.1 523.6L531.6 518.6L538.0 513.6L544.4 508.8L550.7 504.2L556.9 499.7L563.0 495.4L569.1 491.2L575.2 487.2L581.1 483.4L587.0 479.6L592.8 476.1M594.1 522.3L586.8 522.4L579.5 522.3L572.4 522.1L565.3 521.8L558.4 521.3L551.6 520.8L544.8 520.1L538.2 519.4L531.6 518.6L525.1 517.6L518.8 516.6L512.4 515.5L506.2 514.4L500.1 513.1L494.0 511.8L488.0 510.5L482.1 509.0L476.2 507.6L470.4 506.0L464.7 504.4M457.5 574.5L464.5 568.1L471.5 561.9L478.5 555.8L485.3 549.9L492.1 544.1L498.9 538.5L505.5 533.1L512.1 527.8L518.7 522.6L525.1 517.6L531.5 512.8L537.9 508.1L544.2 503.6L550.4 499.2L556.5 495.0L562.6 490.9L568.6 487.0L574.6 483.2L580.5 479.6L586.3 476.1M600.6 516.4L593.3 516.6L586.0 516.6L578.9 516.5L571.8 516.3L564.9 516.0L558.0 515.5L551.3 515.0L544.6 514.4L538.0 513.6L531.5 512.8L525.1 511.9L518.8 510.9L512.6 509.8L506.4 508.7L500.4 507.5L494.3 506.2L488.4 504.9L482.6 503.5L476.8 502.0L471.0 500.5M451.2 572.5L458.3 566.2L465.2 560.1L472.2 554.1L479.0 548.3L485.8 542.6L492.5 537.1L499.2 531.8L505.8 526.6L512.3 521.5L518.8 516.6L525.1 511.9L531.5 507.3L537.7 502.9L543.9 498.6L550.1 494.5L556.2 490.5L562.2 486.6L568.1 482.9L574.0 479.4L579.8 476.0M607.1 510.7L599.7 511.0L592.4 511.1L585.3 511.1L578.2 511.0L571.3 510.8L564.4 510.5L557.6 510.0L551.0 509.5L544.4 508.8L537.9 508.1L531.5 507.3L525.2 506.4L518.9 505.4L512.7 504.4L506.7 503.3L500.6 502.1L494.7 500.8L488.8 499.5L483.0 498.1L477.3 496.7M445.0 570.4L452.0 564.2L459.0 558.2L465.9 552.3L472.8 546.6L479.5 541.0L486.3 535.6L492.9 530.4L499.5 525.3L506.0 520.3L512.4 515.5L518.8 510.9L525.2 506.4L531.4 502.1L537.6 497.9L543.7 493.8L549.8 489.9L555.8 486.2L561.8 482.6L567.6 479.1L573.5 475.8M613.5 505.1L606.1 505.5L598.8 505.8L591.6 505.9L584.5 505.9L577.6 505.8L570.7 505.5L563.9 505.2L557.3 504.8L550.7 504.2L544.2 503.6L537.7 502.9L531.4 502.1L525.2 501.2L519.0 500.2L512.9 499.2L506.9 498.1L500.9 496.9L495.0 495.7L489.2 494.4L483.5 493.1M438.9 568.2L445.9 562.1L452.9 556.2L459.8 550.4L466.6 544.8L473.4 539.4L480.1 534.1L486.7 528.9L493.3 523.9L499.8 519.1L506.2 514.4L512.6 509.8L518.9 505.4L525.2 501.2L531.3 497.1L537.5 493.1L543.5 489.3L549.5 485.7L555.5 482.2L561.3 478.8L567.2 475.6M619.8 499.7L612.4 500.2L605.1 500.6L597.9 500.8L590.8 500.9L583.8 500.9L577.0 500.8L570.2 500.5L563.5 500.2L556.9 499.7L550.4 499.2L543.9 498.6L537.6 497.9L531.3 497.1L525.2 496.2L519.1 495.3L513.0 494.3L507.1 493.2L501.2 492.1L495.4 490.8L489.6 489.6M432.9 566.0L439.9 560.0L446.8 554.2L453.7 548.5L460.5 543.0L467.3 537.7L474.0 532.5L480.6 527.4L487.1 522.5L493.6 517.8L500.1 513.1L506.4 508.7L512.7 504.4L519.0 500.2L525.2 496.2L531.3 492.4L537.3 488.7L543.3 485.1L549.3 481.7L555.1 478.4L560.9 475.2M626.0 494.5L618.6 495.1L611.3 495.6L604.1 495.9L597.0 496.1L590.0 496.2L583.1 496.1L576.3 496.0L569.6 495.8L563.0 495.4L556.5 495.0L550.1 494.5L543.7 493.8L537.5 493.1L531.3 492.4L525.2 491.5L519.1 490.6L513.2 489.6L507.3 488.5L501.5 487.4L495.7 486.2M426.9 563.7L433.9 557.8L440.8 552.1L447.7 546.6L454.5 541.1L461.3 535.9L467.9 530.8L474.5 525.8L481.1 521.0L487.6 516.4L494.0 511.8L500.4 507.5L506.7 503.3L512.9 499.2L519.1 495.3L525.2 491.5L531.2 487.9L537.2 484.4L543.1 481.1L549.0 477.9L554.8 474.8M632.2 489.4L624.7 490.1L617.4 490.7L610.2 491.1L603.1 491.4L596.1 491.6L589.2 491.7L582.4 491.6L575.7 491.5L569.1 491.2L562.6 490.9L556.2 490.5L549.8 489.9L543.5 489.3L537.3 488.7L531.2 487.9L525.2 487.0L519.2 486.1L513.3 485.2L507.5 484.1L501.7 483.0M421.0 561.4L428.0 555.6L434.9 550.0L441.8 544.5L448.6 539.2L455.3 534.0L462.0 529.0L468.6 524.2L475.1 519.5L481.6 514.9L488.0 510.5L494.3 506.2L500.6 502.1L506.9 498.1L513.0 494.3L519.1 490.6L525.2 487.0L531.2 483.7L537.1 480.4L542.9 477.3L548.7 474.3M638.3 484.5L630.8 485.3L623.5 486.0L616.3 486.5L609.2 486.9L602.2 487.2L595.3 487.4L588.5 487.4L581.8 487.4L575.2 487.2L568.6 487.0L562.2 486.6L555.8 486.2L549.5 485.7L543.3 485.1L537.2 484.4L531.2 483.7L525.2 482.8L519.3 481.9L513.4 481.0L507.7 480.0M415.2 559.0L422.2 553.3L429.1 547.8L435.9 542.4L442.7 537.2L449.4 532.2L456.1 527.2L462.7 522.5L469.2 517.8L475.7 513.4L482.1 509.0L488.4 504.9L494.7 500.8L500.9 496.9L507.1 493.2L513.2 489.6L519.2 486.1L525.2 482.8L531.1 479.7L537.0 476.6L542.7 473.7M644.3 479.7L636.8 480.7L629.5 481.4L622.3 482.1L615.2 482.6L608.2 482.9L601.3 483.2L594.5 483.4L587.7 483.4L581.1 483.4L574.6 483.2L568.1 482.9L561.8 482.6L555.5 482.2L549.3 481.7L543.1 481.1L537.1 480.4L531.1 479.7L525.2 478.8L519.3 478.0L513.6 477.0M409.4 556.6L416.4 551.0L423.3 545.6L430.1 540.3L436.9 535.2L443.6 530.2L450.3 525.4L456.8 520.7L463.4 516.2L469.8 511.8L476.2 507.6L482.6 503.5L488.8 499.5L495.0 495.7L501.2 492.1L507.3 488.5L513.3 485.2L519.3 481.9L525.2 478.8L531.0 475.9L536.8 473.1M650.2 475.1L642.8 476.2L635.5 477.0L628.2 477.8L621.1 478.4L614.1 478.8L607.2 479.2L600.4 479.5L593.6 479.6L587.0 479.6L580.5 479.6L574.0 479.4L567.6 479.1L561.3 478.8L555.1 478.4L549.0 477.9L542.9 477.3L537.0 476.6L531.0 475.9L525.2 475.1L519.4 474.2M403.8 554.1L410.7 548.6L417.6 543.3L424.4 538.1L431.2 533.1L437.9 528.2L444.5 523.5L451.1 518.9L457.6 514.5L464.0 510.2L470.4 506.0L476.8 502.0L483.0 498.1L489.2 494.4L495.4 490.8L501.5 487.4L507.5 484.1L513.4 481.0L519.3 478.0L525.2 475.1L531.0 472.4M656.1 470.7L648.7 471.8L641.3 472.8L634.1 473.6L627.0 474.3L620.0 474.9L613.0 475.4L606.2 475.7L599.5 475.9L592.8 476.1L586.3 476.1L579.8 476.0L573.5 475.8L567.2 475.6L560.9 475.2L554.8 474.8L548.7 474.3L542.7 473.7L536.8 473.1L531.0 472.4L525.2 471.6M398.1 551.6L405.1 546.2L412.0 541.0L418.8 535.9L425.5 531.0L432.2 526.2L438.8 521.5L445.4 517.0L451.9 512.7L458.3 508.5L464.7 504.4L471.0 500.5L477.3 496.7L483.5 493.1L489.6 489.6L495.7 486.2L501.7 483.0L507.7 480.0L513.6 477.0L519.4 474.2L525.2 471.6" fill="none" stroke="#000" stroke-width="1.0" stroke-linejoin="round"/>
<circle cx="525.20" cy="468.40" r="2.75" fill="#c00000" stroke="#1a0000" stroke-width="0.9"/>
<circle cx="656.19" cy="469.60" r="2.75" fill="#c00000" stroke="#1a0000" stroke-width="0.9"/>
<circle cx="525.14" cy="516.60" r="2.75" fill="#c00000" stroke="#1a0000" stroke-width="0.9"/>
<circle cx="398.18" cy="552.20" r="2.75" fill="#f8c0c0" stroke="#1a0000" stroke-width="0.9"/>
<circle cx="525.09" cy="593.90" r="2.75" fill="#f8c0c0" stroke="#1a0000" stroke-width="0.9"/>
<g font-family="Liberation Sans, sans-serif" fill="#4a4a4a"><text transform="translate(395.10 572.16) scale(1 0.98)" font-size="8.9" text-anchor="end">60</text><text transform="translate(394.30 555.89) scale(1 0.98)" font-size="8.9" text-anchor="end">80</text><text transform="translate(393.50 539.61) scale(1 0.98)" font-size="8.9" text-anchor="end">100</text><text transform="translate(392.70 523.33) scale(1 0.98)" font-size="8.9" text-anchor="end">120</text><text transform="translate(391.90 507.06) scale(1 0.98)" font-size="8.9" text-anchor="end">140</text><text transform="translate(391.10 490.78) scale(1 0.98)" font-size="8.9" text-anchor="end">160</text><text transform="translate(390.30 474.51) scale(1 0.98)" font-size="8.9" text-anchor="end">180</text><text transform="translate(389.50 458.23) scale(1 0.98)" font-size="8.9" text-anchor="end">200</text><text transform="translate(388.70 441.95) scale(1 0.98)" font-size="8.9" text-anchor="end">220</text><text transform="translate(396.30 624.03) scale(1 0.98)" font-size="8.9" text-anchor="end" letter-spacing="-0.3">2</text><text transform="translate(421.08 635.89) scale(1 0.98)" font-size="8.9" text-anchor="end" letter-spacing="-0.3">1.8</text><text transform="translate(445.86 647.75) scale(1 0.98)" font-size="8.9" text-anchor="end" letter-spacing="-0.3">1.6</text><text transform="translate(470.64 659.61) scale(1 0.98)" font-size="8.9" text-anchor="end" letter-spacing="-0.3">1.4</text><text transform="translate(495.42 671.47) scale(1 0.98)" font-size="8.9" text-anchor="end" letter-spacing="-0.3">1.2</text><text transform="translate(520.20 683.33) scale(1 0.98)" font-size="8.9" text-anchor="end" letter-spacing="-0.3">1</text><text transform="translate(529.70 683.33) scale(1 0.98)" font-size="8.9" letter-spacing="-0.3">1</text><text transform="translate(554.56 671.47) scale(1 0.98)" font-size="8.9" letter-spacing="-0.3">1.2</text><text transform="translate(579.42 659.61) scale(1 0.98)" font-size="8.9" letter-spacing="-0.3">1.4</text><text transform="translate(604.28 647.75) scale(1 0.98)" font-size="8.9" letter-spacing="-0.3">1.6</text><text transform="translate(629.14 635.89) scale(1 0.98)" font-size="8.9" letter-spacing="-0.3">1.8</text><text transform="translate(654.00 624.03) scale(1 0.98)" font-size="8.9" letter-spacing="-0.3">2</text><text transform="translate(415.00 669.04) scale(1 0.98)" font-size="8.1" text-anchor="middle">C: Peptone (%)</text><text transform="translate(635.00 669.04) scale(1 0.98)" font-size="8.1" text-anchor="middle">A: CMC (%)</text><text transform="translate(353.50 533.60) rotate(-90) scale(0.982 1)" font-size="8.6" text-anchor="middle">Cellulase activity (U/ml)</text></g>
<path d="M402.52 926.57L530.71 886.19M530.71 886.19L658.81 926.47M401.73 911.40L530.72 872.58M530.72 872.58L659.53 911.30M400.94 896.23L530.72 858.98M530.72 858.98L660.26 896.13M400.15 881.06L530.73 845.37M530.73 845.37L660.98 880.96M399.36 865.89L530.73 831.77M530.73 831.77L661.70 865.79M398.57 850.71L530.74 818.16M530.74 818.16L662.43 850.61M397.78 835.54L530.74 804.56M530.74 804.56L663.15 835.44M396.99 820.37L530.75 790.95M530.75 790.95L663.88 820.27M396.20 805.20L530.75 777.35M530.75 777.35L664.60 805.10M396.20 805.20L404.50 964.50M423.11 799.63L428.16 918.49M450.02 794.06L453.80 910.42M476.93 788.49L479.44 902.34M503.84 782.92L505.07 894.26M530.75 777.35L530.71 886.19M557.52 782.90L556.33 894.24M584.29 788.45L581.95 902.30M611.06 794.00L607.57 910.36M637.83 799.55L633.19 918.41M664.60 805.10L657.00 964.40" stroke="#000" stroke-width="1.3" fill="none"/>
<path d="M530.75 777.35L530.70 920.20" stroke="#555" stroke-width="1.3" fill="none"/>
<path d="M404.50 964.50L530.70 920.20L657.00 964.40L530.70 1019.90Z" fill="#676767" stroke="#000" stroke-width="1.2"/>
<path d="M568.39 933.51L567.53 933.72L566.68 933.93L566.00 934.09L565.82 934.14L564.96 934.35L564.11 934.56L563.25 934.77L562.40 934.98L561.64 935.17L561.54 935.20L560.68 935.41L559.82 935.62L558.97 935.84L558.11 936.05L557.25 936.27L557.15 936.29L556.39 936.49L555.53 936.70L554.68 936.92L553.82 937.14L552.96 937.36L552.52 937.47L552.10 937.58L551.24 937.79L550.38 938.01L549.52 938.24L548.67 938.46L547.81 938.68L547.71 938.71L546.95 938.90L546.09 939.12L545.23 939.35L544.37 939.57L543.51 939.80L542.68 940.02L542.65 940.02L541.80 940.25L540.94 940.48L540.08 940.70L539.22 940.93L538.36 941.16L537.50 941.39L537.39 941.42L536.64 941.62L535.79 941.85L534.93 942.09L534.07 942.32L533.21 942.55L532.36 942.79L531.75 942.95L531.50 943.02L530.64 943.26L529.79 943.49L528.93 943.73L528.08 943.97L527.22 944.21L526.37 944.45L525.63 944.66L525.51 944.69L524.66 944.93L523.80 945.17L522.95 945.42L522.10 945.66L521.25 945.91L520.40 946.15L519.55 946.40L518.78 946.62L518.70 946.65L517.85 946.90L517.00 947.15L516.15 947.40L515.30 947.65L514.45 947.90L513.61 948.16L512.76 948.41L511.92 948.67L511.08 948.93L510.60 949.07L510.23 949.18L509.39 949.44L508.55 949.70L507.71 949.97L506.87 950.23L506.04 950.49L505.20 950.76L504.36 951.03L503.53 951.29L502.70 951.56L501.87 951.83L501.04 952.11L500.21 952.38L499.38 952.66L498.56 952.93L498.52 952.94L497.73 953.21L496.91 953.49L496.09 953.77L495.27 954.05L494.45 954.33L493.63 954.62L492.82 954.91L492.01 955.19L491.19 955.48L490.39 955.77L489.58 956.07L488.77 956.36L487.97 956.66L487.17 956.96L486.37 957.26L485.58 957.56L484.78 957.86L483.99 958.17L483.20 958.48L482.41 958.79L481.63 959.10L480.85 959.41L480.71 959.47L480.07 959.73L479.29 960.05L478.52 960.37L477.75 960.69L476.98 961.01L476.22 961.34L475.45 961.67L474.70 962.00L473.94 962.33L473.19 962.67L472.44 963.01L471.70 963.35L471.69 963.35L470.95 963.69L470.21 964.04L469.48 964.39L468.75 964.74L468.02 965.09L467.29 965.45L466.58 965.81L466.56 965.82L465.86 966.17L465.15 966.53L464.44 966.90L463.73 967.27L463.03 967.65L462.75 967.80L462.34 968.02L461.64 968.40L460.96 968.78L460.27 969.17L459.65 969.53L459.60 969.56L458.92 969.95L458.25 970.35L457.59 970.75L457.04 971.08L456.93 971.15L456.27 971.55L455.62 971.96L454.98 972.37L454.76 972.52L454.34 972.79L453.70 973.21L453.07 973.63L452.74 973.86L452.45 974.06L451.82 974.49L451.21 974.92L450.92 975.13L450.60 975.36L450.00 975.80L449.40 976.25L449.27 976.35L448.80 976.70L448.22 977.15L447.75 977.51L447.63 977.61L447.06 978.07L446.48 978.53L446.35 978.64L445.92 979.00L445.36 979.47L445.06 979.73L444.80 979.95L444.25 980.43L443.85 980.80L443.71 980.92L443.17 981.41" stroke="#00ff09" stroke-width="2.5" fill="none" stroke-linecap="round"/>
<path d="M591.83 941.62L591.02 941.85L590.21 942.09L589.40 942.33L588.59 942.57L587.78 942.80L586.97 943.04L586.16 943.28L586.06 943.31L585.35 943.52L584.54 943.77L583.73 944.01L582.92 944.25L582.11 944.49L581.30 944.74L580.49 944.98L579.68 945.23L579.45 945.30L578.88 945.48L578.07 945.72L577.26 945.97L576.45 946.22L575.64 946.47L574.84 946.72L574.03 946.97L573.23 947.23L572.42 947.48L571.97 947.62L571.61 947.73L570.81 947.99L570.00 948.24L569.20 948.50L568.40 948.76L567.59 949.02L566.79 949.28L565.99 949.54L565.19 949.80L564.39 950.06L563.58 950.32L562.95 950.53L562.78 950.59L561.98 950.85L561.18 951.12L560.39 951.38L559.59 951.65L558.79 951.92L557.99 952.19L557.20 952.46L556.40 952.73L555.61 953.01L554.81 953.28L554.02 953.55L553.22 953.83L552.43 954.11L551.64 954.39L550.85 954.66L550.06 954.94L549.60 955.11L549.27 955.23L548.48 955.51L547.69 955.79L546.91 956.08L546.12 956.36L545.34 956.65L544.55 956.94L543.77 957.23L542.99 957.52L542.21 957.81L541.43 958.10L540.65 958.40L539.87 958.69L539.09 958.99L538.32 959.29L537.54 959.59L536.77 959.89L535.99 960.19L535.22 960.50L534.45 960.80L533.68 961.11L532.91 961.41L532.15 961.72L531.38 962.03L530.62 962.35L529.85 962.66L529.09 962.98L528.33 963.29L527.57 963.61L526.91 963.89L526.82 963.93L526.06 964.25L525.31 964.57L524.55 964.90L523.80 965.22L523.05 965.55L522.30 965.88L521.56 966.21L520.81 966.54L520.07 966.87L519.32 967.21L518.58 967.55L517.85 967.89L517.11 968.23L516.37 968.57L516.22 968.64L515.64 968.91L514.91 969.26L514.18 969.61L513.45 969.96L512.73 970.31L512.00 970.66L511.28 971.02L510.56 971.38L509.84 971.74L509.84 971.74L509.13 972.10L508.41 972.46L507.70 972.83L506.99 973.19L506.29 973.56L505.58 973.93L505.00 974.24L504.88 974.31L504.18 974.68L503.48 975.06L502.78 975.44L502.09 975.82L501.40 976.21L501.02 976.42L500.71 976.59L500.03 976.98L499.34 977.37L498.66 977.77L497.98 978.16L497.61 978.38L497.31 978.56L496.63 978.96L495.96 979.37L495.29 979.77L494.63 980.18L494.61 980.19L493.97 980.59L493.31 981.00L492.65 981.42L492.00 981.84L491.93 981.88L491.35 982.26L490.70 982.68L490.05 983.11L489.49 983.48L489.41 983.53L488.77 983.97L488.13 984.40L487.50 984.84L487.27 985.00L486.87 985.28L486.24 985.72L485.62 986.16L485.21 986.46L485.00 986.61L484.38 987.06L483.77 987.52L483.30 987.87L483.16 987.97L482.55 988.43L481.94 988.90L481.52 989.22L481.34 989.36L480.75 989.83L480.15 990.30L479.85 990.54L479.56 990.78L478.97 991.26L478.39 991.74L478.28 991.83L477.81 992.22L477.23 992.71L476.80 993.08L476.66 993.20L476.09 993.69L475.53 994.19L475.40 994.31L474.97 994.69L474.41 995.20" stroke="#26ff00" stroke-width="2.5" fill="none" stroke-linecap="round"/>
<path d="M611.13 948.29L610.99 948.34L610.34 948.55L609.55 948.80L608.76 949.05L607.98 949.31L607.19 949.56L606.40 949.82L605.61 950.08L604.83 950.34L604.04 950.60L603.25 950.85L603.24 950.86L602.47 951.12L601.68 951.38L600.90 951.64L600.11 951.90L599.33 952.17L598.54 952.43L597.76 952.70L596.97 952.96L596.19 953.23L595.41 953.50L594.63 953.77L593.85 954.04L593.75 954.07L593.07 954.31L592.29 954.58L591.51 954.86L590.73 955.13L589.95 955.40L589.17 955.68L588.39 955.96L587.61 956.24L586.84 956.51L586.06 956.79L585.28 957.08L584.51 957.36L583.74 957.64L582.96 957.92L582.19 958.21L581.42 958.50L580.65 958.78L579.87 959.07L579.10 959.36L578.84 959.46L578.33 959.65L577.56 959.94L576.80 960.24L576.03 960.53L575.26 960.82L574.50 961.12L573.73 961.42L572.97 961.72L572.20 962.02L571.44 962.32L570.68 962.62L569.92 962.92L569.16 963.22L568.40 963.53L567.64 963.84L566.88 964.15L566.12 964.45L565.37 964.76L564.61 965.08L563.86 965.39L563.11 965.70L562.36 966.02L561.60 966.34L560.86 966.65L560.11 966.97L559.36 967.30L558.94 967.48L558.61 967.62L557.87 967.94L557.12 968.27L556.38 968.59L555.64 968.92L554.90 969.25L554.16 969.58L553.42 969.91L552.68 970.25L551.94 970.58L551.21 970.92L550.48 971.26L549.74 971.60L549.01 971.94L548.28 972.28L547.56 972.63L546.83 972.97L546.43 973.17L546.10 973.32L545.38 973.67L544.66 974.02L543.93 974.37L543.21 974.73L542.50 975.08L541.78 975.44L541.06 975.80L540.35 976.16L539.64 976.52L539.33 976.69L538.93 976.89L538.22 977.26L537.51 977.62L536.81 977.99L536.10 978.37L535.40 978.74L534.70 979.11L534.00 979.49L533.96 979.51L533.30 979.87L532.61 980.25L531.91 980.64L531.22 981.02L530.53 981.41L529.85 981.80L529.55 981.96L529.16 982.19L528.48 982.58L527.79 982.98L527.11 983.37L526.43 983.77L525.77 984.17L525.76 984.17L525.08 984.58L524.41 984.98L523.74 985.39L523.07 985.80L522.44 986.20L522.41 986.21L521.74 986.63L521.08 987.04L520.42 987.46L519.77 987.88L519.45 988.09L519.11 988.31L518.46 988.73L517.81 989.16L517.16 989.59L516.73 989.88L516.52 990.02L515.87 990.46L515.23 990.90L514.59 991.34L514.25 991.58L513.96 991.78L513.32 992.23L512.69 992.67L512.06 993.12L511.94 993.21L511.44 993.58L510.81 994.03L510.19 994.49L509.80 994.78L509.57 994.95L508.96 995.41L508.35 995.88L507.80 996.30L507.74 996.35L507.13 996.82L506.52 997.29L505.92 997.77L505.92 997.77L505.32 998.25L504.72 998.73L504.15 999.20L504.13 999.22L503.54 999.71L502.95 1000.20L502.48 1000.60L502.37 1000.69L501.78 1001.19L501.21 1001.69L500.89 1001.96L500.63 1002.19L500.06 1002.70L499.49 1003.21L499.39 1003.30L498.92 1003.72L498.35 1004.24L497.95 1004.61L497.79 1004.76L497.24 1005.28" stroke="#54ff00" stroke-width="2.5" fill="none" stroke-linecap="round"/>
<path d="M628.17 954.19L627.39 954.45L626.62 954.72L625.84 954.99L625.07 955.25L624.30 955.52L623.52 955.79L622.92 956.01L622.75 956.06L621.98 956.34L621.21 956.61L620.43 956.88L619.66 957.15L618.89 957.43L618.12 957.71L617.35 957.98L616.58 958.26L615.82 958.54L615.05 958.82L614.28 959.10L613.51 959.38L612.75 959.66L611.98 959.95L611.46 960.14L611.22 960.23L610.45 960.52L609.69 960.80L608.92 961.09L608.16 961.38L607.40 961.67L606.63 961.96L605.87 962.25L605.11 962.55L604.35 962.84L603.59 963.13L602.83 963.43L602.08 963.73L601.32 964.03L600.56 964.33L599.81 964.63L599.05 964.93L598.30 965.23L597.54 965.53L596.79 965.84L596.04 966.14L595.28 966.45L594.53 966.76L593.78 967.07L593.03 967.38L592.29 967.69L591.54 968.01L590.79 968.32L590.05 968.64L589.30 968.95L588.56 969.27L587.81 969.59L587.07 969.91L586.33 970.23L585.59 970.56L584.85 970.88L584.11 971.21L583.37 971.53L582.63 971.86L581.90 972.19L581.16 972.52L580.43 972.86L579.70 973.19L578.96 973.52L578.23 973.86L577.50 974.20L576.78 974.54L576.05 974.88L575.34 975.21L575.32 975.22L574.60 975.57L573.87 975.91L573.15 976.26L572.43 976.61L571.71 976.96L570.99 977.31L570.27 977.66L569.55 978.01L568.84 978.37L568.12 978.73L567.41 979.09L566.70 979.45L566.10 979.75L565.99 979.81L565.28 980.17L564.57 980.54L563.86 980.91L563.16 981.27L562.45 981.65L561.75 982.02L561.05 982.39L560.35 982.77L559.72 983.11L559.65 983.14L558.95 983.52L558.26 983.90L557.56 984.29L556.87 984.67L556.18 985.06L555.49 985.45L554.81 985.84L554.66 985.92L554.12 986.23L553.43 986.62L552.75 987.02L552.07 987.42L551.39 987.81L550.71 988.22L550.38 988.41L550.04 988.62L549.36 989.02L548.69 989.43L548.02 989.84L547.35 990.25L546.69 990.67L546.66 990.68L546.02 991.08L545.36 991.50L544.69 991.92L544.03 992.34L543.38 992.77L543.34 992.79L542.72 993.19L542.07 993.62L541.41 994.05L540.76 994.48L540.34 994.77L540.12 994.92L539.47 995.35L538.83 995.79L538.18 996.24L537.60 996.64L537.55 996.68L536.91 997.13L536.27 997.57L535.64 998.03L535.07 998.43L535.01 998.48L534.38 998.94L533.75 999.39L533.13 999.85L532.72 1000.16L532.50 1000.32L531.88 1000.78L531.27 1001.25L530.65 1001.72L530.53 1001.82L530.04 1002.20L529.43 1002.67L528.82 1003.15L528.47 1003.42L528.21 1003.63L527.61 1004.11L527.01 1004.60L526.54 1004.99L526.41 1005.09L525.81 1005.58L525.22 1006.08L524.71 1006.51L524.63 1006.57L524.04 1007.07L523.45 1007.58L522.97 1008.00L522.87 1008.08L522.29 1008.59L521.71 1009.10L521.32 1009.45L521.13 1009.62L520.56 1010.14L519.99 1010.66L519.75 1010.88L519.42 1011.18L518.86 1011.71L518.30 1012.23L518.26 1012.27L517.74 1012.77L517.18 1013.30L516.83 1013.65L516.63 1013.84" stroke="#83ff00" stroke-width="2.5" fill="none" stroke-linecap="round"/>
<path d="M643.74 959.57L642.97 959.85L642.21 960.13L641.44 960.41L640.68 960.68L639.92 960.96L639.16 961.25L638.39 961.53L637.63 961.81L636.87 962.09L636.11 962.38L635.35 962.66L634.59 962.95L634.38 963.03L633.83 963.24L633.08 963.53L632.32 963.82L631.56 964.11L630.80 964.40L630.05 964.69L629.29 964.98L628.54 965.28L627.78 965.57L627.03 965.87L626.28 966.17L625.52 966.47L624.77 966.77L624.02 967.07L623.27 967.37L622.52 967.67L621.77 967.98L621.02 968.28L620.28 968.59L619.53 968.90L618.78 969.21L618.04 969.52L617.29 969.83L616.55 970.14L615.80 970.45L615.06 970.77L614.32 971.08L613.58 971.40L612.84 971.72L612.10 972.04L611.36 972.36L610.62 972.68L609.88 973.00L609.15 973.32L608.41 973.65L607.68 973.98L606.94 974.30L606.21 974.63L605.48 974.96L604.75 975.30L604.01 975.63L603.29 975.96L602.56 976.30L601.83 976.64L601.10 976.97L600.38 977.31L599.65 977.65L598.93 978.00L598.21 978.34L597.48 978.69L596.76 979.03L596.04 979.38L595.33 979.73L594.61 980.08L593.89 980.43L593.40 980.68L593.18 980.79L592.46 981.14L591.75 981.50L591.04 981.86L590.33 982.22L589.62 982.58L588.91 982.94L588.20 983.31L587.49 983.67L586.79 984.04L586.09 984.41L585.38 984.78L584.75 985.11L584.68 985.15L583.98 985.53L583.28 985.90L582.58 986.28L581.89 986.66L581.19 987.04L580.50 987.42L579.81 987.80L579.12 988.19L578.54 988.51L578.43 988.58L577.74 988.97L577.05 989.36L576.37 989.75L575.68 990.14L575.00 990.54L574.32 990.94L573.64 991.34L573.53 991.41L572.96 991.74L572.29 992.14L571.61 992.55L570.94 992.96L570.27 993.37L569.60 993.78L569.27 993.98L568.93 994.19L568.26 994.61L567.60 995.02L566.93 995.44L566.27 995.86L565.61 996.29L565.52 996.34L564.95 996.71L564.29 997.14L563.64 997.57L562.99 998.00L562.33 998.43L562.18 998.54L561.68 998.87L561.04 999.31L560.39 999.75L559.74 1000.19L559.14 1000.61L559.10 1000.63L558.46 1001.08L557.82 1001.53L557.19 1001.98L556.55 1002.43L556.36 1002.57L555.92 1002.89L555.29 1003.34L554.66 1003.80L554.03 1004.27L553.79 1004.45L553.41 1004.73L552.78 1005.20L552.16 1005.67L551.54 1006.14L551.39 1006.26L550.93 1006.62L550.31 1007.09L549.70 1007.57L549.15 1008.00L549.09 1008.05L548.48 1008.54L547.87 1009.02L547.27 1009.51L547.05 1009.69L546.67 1010.01L546.07 1010.50L545.47 1011.00L545.07 1011.34L544.88 1011.50L544.28 1012.00L543.69 1012.51L543.19 1012.94L543.11 1013.01L542.52 1013.52L541.94 1014.04L541.41 1014.51L541.36 1014.55L540.78 1015.07L540.20 1015.59L539.71 1016.04" stroke="#b1ff00" stroke-width="2.5" fill="none" stroke-linecap="round"/>
<path d="M404.50 964.50L530.70 1019.90L657.00 964.40" stroke="#000" stroke-width="1.5" fill="none"/>
<g fill="#000"><circle cx="404.50" cy="964.50" r="1.35"/><circle cx="530.70" cy="1019.90" r="1.35"/><circle cx="429.74" cy="975.58" r="1.35"/><circle cx="555.96" cy="1008.80" r="1.35"/><circle cx="454.98" cy="986.66" r="1.35"/><circle cx="581.22" cy="997.70" r="1.35"/><circle cx="480.22" cy="997.74" r="1.35"/><circle cx="606.48" cy="986.60" r="1.35"/><circle cx="505.46" cy="1008.82" r="1.35"/><circle cx="631.74" cy="975.50" r="1.35"/><circle cx="530.70" cy="1019.90" r="1.35"/><circle cx="657.00" cy="964.40" r="1.35"/><circle cx="402.52" cy="926.57" r="1.35"/><circle cx="401.73" cy="911.40" r="1.35"/><circle cx="400.94" cy="896.23" r="1.35"/><circle cx="400.15" cy="881.06" r="1.35"/><circle cx="399.36" cy="865.89" r="1.35"/><circle cx="398.57" cy="850.71" r="1.35"/><circle cx="397.78" cy="835.54" r="1.35"/><circle cx="396.99" cy="820.37" r="1.35"/><circle cx="396.20" cy="805.20" r="1.35"/><circle cx="396.20" cy="805.20" r="1.35"/></g>
<circle cx="530.71" cy="847.30" r="2.75" fill="#f8c0c0" stroke="#1a0000" stroke-width="0.9"/>
<circle cx="400.19" cy="881.40" r="2.75" fill="#f8c0c0" stroke="#1a0000" stroke-width="0.9"/>
<g stroke-width="4.5" transform="scale(0.1)"><path d="M5305 9046l37 -17l-37 -2l-38 16zm74 -50l37 -16l-37 -2l-37 16zm72 -48l36 -14l-37 -2l-36 15zm36 -14l36 -14l-37 -2l-36 14z" fill="#8cd800" stroke="#8cd800"/><path d="M5267 9043l38 -16l-37 -2l-38 16zm38 -34l37 -15l-37 -3l-37 16zm37 -15l37 -16l-37 -2l-37 15zm72 -47l36 -15l-36 -2l-36 15zm36 -15l36 -14l-37 -2l-35 14z" fill="#84d800" stroke="#84d800"/><path d="M5230 9041l38 -16l-37 -3l-37 16zm75 -50l37 -15l-37 -2l-36 15zm73 -46l36 -15l-37 -2l-36 14zm36 -15l35 -14l-36 -2l-36 14zm70 -43l35 -13l-37 -2l-35 13z" fill="#7cd800" stroke="#7cd800"/><path d="M5194 9038l37 -16l-37 -3l-37 16z" fill="#74dc00" stroke="#74dc00"/><path d="M5157 9035l37 -16l-36 -3l-37 16zm38 -34l37 -15l-36 -3l-37 15z" fill="#6cdc00" stroke="#6cdc00"/><path d="M5121 9032l37 -16l-36 -3l-37 16zm37 -16l37 -15l-36 -3l-37 15zm38 -33l37 -15l-36 -3l-37 15z" fill="#68dc00" stroke="#68dc00"/><path d="M5085 9029l37 -16l-36 -3l-37 15zm37 -16l37 -15l-35 -3l-38 15zm38 -33l37 -15l-35 -3l-37 15zm37 -15l36 -14l-35 -3l-36 14z" fill="#60dc00" stroke="#60dc00"/><path d="M5049 9025l37 -15l-35 -4l-37 15zm39 -34l37 -14l-35 -4l-37 14zm37 -14l37 -15l-36 -3l-36 14z" fill="#58dc00" stroke="#58dc00"/><path d="M5014 9021l37 -15l-35 -4l-38 15zm39 -34l37 -14l-35 -4l-37 14zm37 -14l36 -14l-35 -4l-36 14zm38 -32l36 -14l-35 -3l-36 13zm36 -14l35 -13l-34 -4l-36 14z" fill="#50dc00" stroke="#50dc00"/><path d="M4978 9017l38 -15l-35 -4l-37 15zm38 -15l37 -15l-35 -4l-37 15zm39 -33l36 -14l-34 -4l-37 14zm36 -14l37 -14l-35 -4l-36 14zm38 -31l36 -14l-35 -3l-36 13zm36 -14l35 -13l-34 -3l-36 13z" fill="#4cdc00" stroke="#4cdc00"/><path d="M4944 9013l37 -15l-35 -4l-37 14zm39 -34l37 -14l-34 -4l-37 14zm37 -14l37 -14l-35 -4l-36 14zm38 -32l36 -13l-34 -4l-36 13zm36 -13l36 -13l-34 -4l-36 13zm36 -13l36 -13l-35 -4l-35 13zm72 -42l35 -13l-34 -3l-35 12z" fill="#44dc00" stroke="#44dc00"/><path d="M4909 9008l37 -14l-34 -5l-37 15zm37 -14l37 -15l-34 -4l-37 14zm40 -33l36 -14l-34 -4l-37 13zm36 -14l36 -14l-34 -4l-36 14zm38 -31l36 -13l-34 -4l-36 13zm36 -13l35 -13l-34 -4l-35 13zm35 -13l36 -13l-34 -4l-36 13zm36 -13l35 -12l-34 -4l-35 12zm36 -28l34 -12l-34 -4l-34 12z" fill="#40dc00" stroke="#40dc00"/><path d="M4875 9004l37 -15l-34 -5l-38 15z" fill="#38e000" stroke="#38e000"/><path d="M4840 8999l38 -15l-34 -5l-37 15zm38 -15l37 -14l-34 -4l-37 13z" fill="#34e000" stroke="#34e000"/><path d="M4807 8994l37 -15l-34 -5l-37 14zm3 -20l37 -13l-33 -6l-37 14zm37 -13l37 -14l-34 -5l-36 13zm37 -14l36 -14l-33 -4l-37 13z" fill="#2ce000" stroke="#2ce000"/><path d="M4773 8988l37 -14l-33 -5l-38 14zm41 -33l36 -13l-33 -5l-37 13zm36 -13l37 -13l-34 -6l-36 14zm37 -13l36 -14l-33 -4l-37 12zm3 -18l36 -13l-34 -5l-35 12z" fill="#28e000" stroke="#28e000"/><path d="M4739 8983l38 -14l-34 -6l-37 14zm38 -14l37 -14l-34 -5l-37 13zm40 -32l36 -14l-33 -5l-36 13zm36 -14l37 -12l-33 -6l-37 13zm39 -30l36 -13l-33 -5l-35 12z" fill="#24e000" stroke="#24e000"/><path d="M4706 8977l37 -14l-33 -5l-37 13zm4 -19l37 -14l-32 -5l-37 13zm37 -14l37 -13l-33 -6l-36 14zm37 -13l36 -13l-32 -5l-37 12zm4 -18l36 -13l-33 -6l-36 13zm36 -13l36 -13l-33 -5l-36 12zm36 -13l35 -12l-32 -5l-36 12zm3 -17l35 -12l-32 -6l-36 12zm35 -12l35 -12l-32 -5l-35 11z" fill="#1ce000" stroke="#1ce000"/><path d="M4673 8971l37 -13l-32 -6l-37 13zm5 -19l37 -13l-33 -6l-37 13zm37 -13l36 -14l-32 -5l-37 13zm36 -14l37 -12l-33 -6l-36 13zm40 -31l36 -12l-32 -6l-36 13zm36 -12l36 -12l-33 -6l-35 12zm39 -30l35 -11l-32 -6l-36 12zm35 -11l35 -12l-32 -5l-35 11z" fill="#18e000" stroke="#18e000"/><path d="M4641 8965l37 -13l-33 -6l-37 13zm41 -32l37 -13l-33 -6l-36 12zm37 -13l36 -13l-32 -6l-37 13zm36 -13l36 -13l-32 -5l-36 12zm4 -18l36 -13l-33 -5l-35 12zm36 -13l35 -12l-32 -5l-36 12zm35 -12l36 -12l-33 -5l-35 12zm39 -29l35 -11l-32 -6l-35 12zm35 -11l34 -11l-32 -6l-34 11z" fill="#14e000" stroke="#14e000"/><path d="M4608 8959l37 -13l-32 -7l-37 13zm37 -13l37 -13l-32 -7l-37 13zm5 -20l36 -12l-32 -7l-36 13zm36 -12l37 -13l-33 -6l-36 12zm37 -13l36 -12l-32 -6l-37 12zm4 -18l35 -12l-32 -6l-35 12zm35 -12l36 -12l-32 -6l-36 12zm36 -12l35 -12l-32 -6l-35 12zm35 -12l36 -12l-32 -5l-36 11zm-32 -6l36 -11l-32 -6l-35 11zm36 -11l35 -12l-32 -5l-35 11zm35 -12l34 -11l-32 -5l-34 11zm34 -11l35 -11l-32 -5l-35 11z" fill="#10e000" stroke="#10e000"/><path d="M4576 8952l37 -13l-32 -6l-37 13z" fill="#0ce400" stroke="#0ce400"/><path d="M4544 8946l37 -13l-32 -7l-37 13zm37 -13l37 -13l-32 -7l-37 13zm5 -20l36 -12l-31 -7l-37 13z" fill="#08e400" stroke="#08e400"/><path d="M4512 8939l37 -13l-32 -7l-37 13zm37 -13l37 -13l-32 -6l-37 12zm5 -19l37 -13l-32 -6l-36 12zm37 -13l36 -12l-32 -6l-36 12z" fill="#04e400" stroke="#04e400"/><path d="M4480 8932l37 -13l-31 -7l-37 13zm37 -13l37 -12l-31 -7l-37 12zm-31 -7l37 -12l-32 -7l-36 12zm37 -12l36 -12l-31 -7l-37 12zm36 -12l36 -12l-31 -7l-36 12zm36 -12l36 -12l-31 -7l-36 12zm-31 -7l36 -12l-31 -7l-36 12zm36 -12l36 -12l-31 -6l-36 11z" fill="#00e400" stroke="#00e400"/><path d="M4449 8925l37 -13l-31 -7l-37 12zm6 -20l36 -12l-31 -8l-36 13zm36 -12l37 -12l-31 -7l-37 11zm37 -12l36 -12l-31 -7l-36 12zm5 -19l36 -12l-31 -7l-36 12zm36 -12l36 -11l-31 -7l-36 11zm36 -11l35 -12l-31 -6l-35 11zm4 -18l36 -11l-31 -7l-35 11z" fill="#00e404" stroke="#00e404"/><path d="M4418 8917l37 -12l-31 -7l-37 12zm-31 -7l37 -12l-31 -8l-37 12zm37 -12l36 -13l-31 -7l-36 12zm36 -13l37 -11l-31 -8l-37 12zm-31 -7l37 -12l-31 -7l-36 11zm68 -4l36 -12l-31 -7l-36 11zm-31 -8l36 -11l-31 -8l-36 12zm36 -11l36 -12l-31 -7l-36 11zm36 -12l36 -11l-31 -7l-36 11zm-31 -7l36 -11l-30 -8l-36 11zm67 -4l35 -11l-30 -7l-36 11zm-31 -7l36 -11l-31 -7l-35 10zm36 -11l35 -11l-31 -7l-35 11zm35 -11l35 -11l-31 -7l-35 11z" fill="#00e408" stroke="#00e408"/><path d="M4356 8902l37 -12l-31 -8l-37 12zm37 -12l36 -12l-30 -8l-37 12zm-31 -8l37 -12l-31 -8l-36 12zm37 -12l36 -11l-30 -8l-37 11zm36 -11l36 -12l-30 -7l-36 11zm36 -12l36 -11l-30 -8l-36 12zm-30 -7l36 -12l-30 -7l-36 11zm36 -12l36 -11l-31 -7l-35 11zm36 -11l35 -10l-30 -8l-36 11zm35 -10l35 -11l-30 -7l-35 10zm35 -11l35 -11l-30 -7l-35 11zm-30 -7l35 -11l-30 -7l-35 10zm65 -4l35 -10l-30 -7l-35 10zm-30 -7l35 -10l-30 -7l-35 10zm35 -10l34 -10l-30 -8l-34 11zm34 -10l35 -11l-31 -6l-34 9z" fill="#00e40c" stroke="#00e40c"/><path d="M4325 8894l37 -12l-30 -8l-37 12zm7 -20l36 -12l-30 -8l-37 12zm36 -12l37 -11l-31 -8l-36 11zm37 -11l36 -11l-30 -8l-37 11zm-31 -8l37 -11l-31 -8l-36 11zm37 -11l36 -11l-31 -8l-36 11zm-31 -8l36 -11l-30 -8l-35 11zm67 -3l35 -11l-30 -8l-36 11zm-31 -8l36 -11l-30 -7l-36 10zm66 -3l36 -11l-30 -7l-36 10zm-30 -8l36 -10l-30 -8l-36 11zm66 -3l35 -10l-30 -8l-35 11zm-30 -7l35 -11l-30 -7l-35 10zm35 -11l35 -10l-30 -8l-35 11zm35 -10l35 -10l-30 -8l-35 10zm-30 -8l35 -10l-30 -7l-35 10zm65 -2l34 -11l-30 -7l-34 10zm-30 -8l34 -10l-30 -7l-34 10zm64 -3l34 -9l-30 -8l-34 10zm-30 -7l34 -10l-29 -7l-35 10zm64 -2l35 -10l-30 -7l-35 9zm-30 -8l35 -9l-30 -7l-34 9zm35 -9l34 -10l-30 -7l-34 10zm34 -10l33 -9l-30 -7l-33 9z" fill="#00e410" stroke="#00e410"/><path d="M4295 8886l37 -12l-31 -8l-36 12z" fill="#00e810" stroke="#00e810"/><path d="M4265 8878l36 -12l-30 -8l-36 11zm-30 -9l36 -11l-29 -9l-37 12zm66 -3l37 -12l-30 -8l-37 12zm-30 -8l37 -12l-30 -8l-36 11zm37 -12l36 -11l-30 -8l-36 11zm-30 -8l36 -11l-29 -9l-37 11zm36 -11l37 -11l-30 -8l-36 10zm7 -19l36 -11l-30 -8l-36 10z" fill="#00e814" stroke="#00e814"/><path d="M4205 8861l37 -12l-30 -8l-37 11zm-30 -9l37 -11l-30 -9l-36 11zm67 -3l36 -11l-30 -9l-36 12zm-30 -8l36 -12l-29 -8l-37 11zm-30 -9l37 -11l-29 -9l-37 11zm66 -3l37 -11l-30 -8l-36 11zm-29 -8l36 -11l-29 -9l-36 11zm66 -3l36 -10l-30 -9l-36 11zm-30 -8l36 -11l-29 -8l-36 10zm-29 -9l36 -10l-29 -9l-36 10zm65 -2l36 -10l-29 -9l-36 11zm-29 -8l36 -11l-30 -8l-35 10zm65 -2l36 -11l-30 -8l-35 10zm-29 -9l35 -10l-29 -8l-36 10zm35 -10l36 -10l-30 -8l-35 10zm-29 -8l35 -10l-29 -9l-35 10zm35 -10l36 -10l-30 -9l-35 10z" fill="#00e818" stroke="#00e818"/><path d="M4146 8843l36 -11l-29 -9l-37 11zm-30 -9l37 -11l-29 -10l-37 11zm-29 -10l37 -11l-29 -9l-37 11zm-29 -9l37 -11l-29 -9l-36 10zm-28 -10l36 -10l-28 -10l-37 10zm123 18l37 -11l-30 -9l-36 10zm-29 -10l36 -10l-29 -9l-36 10zm-29 -9l36 -10l-28 -10l-37 11zm-29 -9l37 -11l-29 -9l-36 10zm124 17l36 -11l-29 -9l-37 11zm-30 -9l37 -11l-29 -9l-37 11zm-29 -9l37 -11l-29 -9l-36 10zm-28 -10l36 -10l-29 -9l-36 10zm94 8l36 -10l-29 -9l-36 10zm-29 -9l36 -10l-29 -9l-36 10zm-29 -9l36 -10l-29 -9l-36 10zm94 8l35 -10l-29 -9l-35 10zm-29 -9l35 -10l-28 -9l-36 10zm-29 -9l36 -10l-29 -9l-36 10zm93 8l36 -10l-29 -9l-36 10zm-29 -9l36 -10l-29 -9l-35 10zm-28 -9l35 -10l-29 -9l-35 10zm64 -1l35 -10l-29 -9l-35 10zm-29 -9l35 -10l-28 -9l-36 10zm64 -1l35 -10l-28 -8l-36 9zm-29 -9l36 -9l-29 -9l-35 9zm64 -1l35 -9l-29 -9l-34 10zm-28 -8l34 -10l-28 -8l-35 9zm34 -10l35 -9l-29 -9l-34 10zm35 -9l35 -10l-29 -8l-35 9z" fill="#00e81c" stroke="#00e81c"/><path d="M5342 9029l38 -16l-38 -2l-37 16zm38 -16l37 -16l-38 -1l-37 15zm36 -33l36 -15l-37 -2l-36 15zm36 -15l37 -15l-38 -2l-36 15z" fill="#90d800" stroke="#90d800"/><path d="M5305 9027l37 -16l-37 -2l-37 16zm37 -16l37 -15l-37 -2l-37 15zm37 -33l36 -15l-37 -2l-36 15zm36 -15l36 -15l-37 -1l-36 14zm71 -45l35 -14l-36 -2l-36 14z" fill="#88d800" stroke="#88d800"/><path d="M5268 9025l37 -16l-37 -2l-37 15zm74 -49l36 -15l-36 -2l-37 15zm36 -15l36 -14l-36 -2l-36 14zm71 -45l36 -14l-37 -2l-35 14zm36 -14l35 -13l-36 -2l-36 13z" fill="#80d800" stroke="#80d800"/><path d="M5231 9022l37 -15l-36 -3l-38 15zm37 -15l37 -16l-36 -2l-37 15zm37 -33l37 -15l-37 -2l-36 14zm37 -15l36 -14l-37 -3l-36 15zm71 -45l35 -14l-36 -2l-35 14zm35 -14l36 -13l-37 -2l-35 13z" fill="#78d800" stroke="#78d800"/><path d="M5194 9019l38 -15l-37 -3l-37 15z" fill="#70dc00" stroke="#70dc00"/><path d="M5086 9010l38 -15l-36 -4l-37 15zm38 -15l36 -15l-35 -3l-37 14zm38 -33l36 -14l-35 -3l-37 14zm36 -14l36 -14l-35 -3l-36 14z" fill="#5cdc00" stroke="#5cdc00"/><path d="M5051 9006l37 -15l-35 -4l-37 15zm75 -47l37 -14l-35 -4l-37 14zm37 -14l36 -14l-35 -4l-36 14z" fill="#54dc00" stroke="#54dc00"/><path d="M4981 8998l37 -15l-35 -4l-37 15zm37 -15l37 -14l-35 -4l-37 14zm39 -32l36 -14l-35 -4l-36 14zm36 -14l36 -13l-35 -4l-36 13zm73 -43l35 -13l-34 -4l-36 13z" fill="#48dc00" stroke="#48dc00"/><path d="M4912 8989l37 -14l-34 -5l-37 14zm37 -14l37 -14l-35 -5l-36 14zm39 -32l36 -14l-34 -4l-36 13zm36 -14l36 -13l-34 -4l-36 13zm73 -43l36 -13l-34 -4l-35 13zm36 -13l35 -12l-34 -4l-35 12zm35 -12l35 -12l-34 -4l-35 12z" fill="#3cdc00" stroke="#3cdc00"/><path d="M4844 8979l37 -13l-34 -5l-37 13zm37 -13l36 -14l-33 -5l-37 14z" fill="#30e000" stroke="#30e000"/><path d="M4743 8963l37 -13l-33 -6l-37 14zm37 -13l37 -13l-33 -6l-37 13zm40 -32l37 -13l-33 -5l-36 13zm37 -13l35 -12l-32 -6l-36 13zm38 -30l36 -12l-33 -5l-35 12z" fill="#20e000" stroke="#20e000"/><path d="M4613 8939l37 -13l-32 -6l-37 13zm5 -19l36 -13l-32 -6l-36 12zm36 -13l36 -12l-31 -6l-37 12zm36 -12l37 -12l-32 -6l-36 12zm5 -18l35 -12l-31 -7l-36 12zm35 -12l36 -12l-32 -6l-35 11zm36 -12l35 -12l-31 -6l-36 12zm39 -29l35 -11l-32 -6l-35 11zm35 -11l34 -11l-31 -6l-35 11zm34 -11l35 -11l-32 -6l-34 11zm35 -11l34 -11l-31 -5l-35 10zm34 -11l34 -11l-31 -5l-34 11z" fill="#0ce000" stroke="#0ce000"/><path d="M5232 9004l37 -15l-37 -3l-37 15zm37 -15l36 -15l-36 -3l-37 15zm72 -47l36 -14l-36 -2l-36 14zm36 -14l36 -14l-36 -2l-36 14zm70 -43l35 -13l-35 -2l-35 13zm35 -13l35 -13l-36 -2l-34 13z" fill="#74d800" stroke="#74d800"/><path d="M5159 8998l37 -15l-36 -3l-36 15z" fill="#64dc00" stroke="#64dc00"/><path d="M4915 8970l36 -14l-34 -4l-36 14zm36 -14l37 -13l-34 -5l-37 14zm39 -31l36 -13l-34 -5l-36 13zm36 -13l36 -13l-34 -5l-36 13zm36 -13l35 -13l-33 -4l-36 12zm37 -30l35 -12l-34 -4l-35 12zm35 -12l35 -12l-34 -4l-35 12zm35 -12l34 -12l-33 -4l-35 12zm34 -12l35 -12l-34 -3l-34 11z" fill="#38dc00" stroke="#38dc00"/><path d="M4338 8854l36 -11l-30 -8l-36 11zm6 -19l36 -11l-29 -8l-37 11zm7 -19l35 -11l-29 -8l-36 11zm35 -11l36 -10l-30 -8l-35 10zm-29 -8l35 -10l-29 -9l-36 11zm65 -2l36 -11l-30 -8l-36 11zm-30 -8l36 -11l-30 -8l-35 10zm66 -3l35 -10l-30 -8l-35 10zm-30 -8l35 -10l-30 -8l-35 10zm65 -2l35 -11l-30 -7l-35 10zm-30 -8l35 -10l-30 -8l-35 10zm35 -10l35 -10l-30 -8l-35 10zm35 -10l34 -10l-29 -8l-35 10zm34 -10l35 -10l-30 -7l-34 9zm35 -10l34 -9l-30 -8l-34 10zm34 -9l34 -10l-30 -7l-34 9zm34 -10l33 -9l-29 -8l-34 10zm33 -9l34 -10l-30 -7l-33 9z" fill="#00e414" stroke="#00e414"/><path d="M5417 8997l36 -15l-37 -2l-37 16zm72 -47l35 -15l-37 -1l-36 14z" fill="#94d800" stroke="#94d800"/><path d="M5232 8986l37 -15l-36 -3l-37 15zm37 -32l36 -14l-36 -3l-36 14zm36 -14l36 -14l-36 -3l-36 14zm71 -44l36 -13l-36 -3l-35 13zm36 -13l35 -13l-36 -3l-35 13zm35 -13l34 -13l-35 -2l-35 12z" fill="#6cd800" stroke="#6cd800"/><path d="M4917 8952l37 -14l-34 -5l-36 14zm37 -14l36 -13l-34 -5l-36 13zm38 -31l36 -13l-33 -4l-36 13zm36 -13l36 -12l-34 -5l-35 13zm36 -12l35 -13l-34 -4l-35 12zm71 -41l35 -12l-34 -4l-34 12zm35 -12l34 -11l-33 -4l-35 11zm34 -11l34 -12l-33 -4l-34 12z" fill="#34dc00" stroke="#34dc00"/><path d="M4622 8901l37 -12l-32 -7l-36 12zm37 -12l36 -12l-32 -7l-36 12zm4 -19l36 -12l-32 -6l-36 12zm36 -12l35 -11l-31 -6l-36 11zm35 -11l36 -12l-32 -6l-35 12zm36 -12l35 -11l-32 -6l-35 11zm3 -17l35 -11l-31 -6l-35 11zm35 -11l35 -11l-32 -6l-34 11zm35 -11l34 -11l-31 -6l-35 11zm34 -11l35 -10l-32 -6l-34 10zm35 -10l34 -11l-32 -6l-34 11zm34 -11l33 -10l-31 -6l-34 10z" fill="#08e000" stroke="#08e000"/><path d="M5453 8982l37 -15l-38 -2l-36 15zm37 -15l36 -15l-37 -2l-37 15z" fill="#98d800" stroke="#98d800"/><path d="M5269 8971l36 -14l-36 -3l-36 14zm36 -14l36 -15l-36 -2l-36 14zm36 -31l36 -14l-36 -3l-36 14zm36 -14l35 -14l-36 -2l-35 13zm35 -14l35 -13l-35 -2l-36 13zm69 -41l35 -13l-36 -2l-34 13z" fill="#70d800" stroke="#70d800"/><path d="M5233 8968l36 -14l-36 -3l-36 14zm72 -45l36 -14l-36 -2l-35 13zm36 -14l35 -13l-35 -3l-36 14zm70 -42l35 -12l-36 -3l-34 13zm35 -12l34 -13l-35 -2l-35 12zm34 -13l34 -12l-35 -2l-34 12z" fill="#68d800" stroke="#68d800"/><path d="M4920 8933l36 -13l-33 -5l-36 14zm36 -13l36 -13l-33 -4l-36 12zm39 -30l35 -13l-33 -4l-36 12zm35 -13l35 -12l-33 -4l-35 12zm35 -12l35 -12l-33 -4l-35 12zm35 -12l35 -12l-33 -4l-35 12zm36 -28l35 -11l-33 -5l-35 12zm35 -11l34 -12l-33 -4l-34 11zm34 -12l34 -11l-33 -4l-34 11z" fill="#30dc00" stroke="#30dc00"/><path d="M4627 8882l36 -12l-32 -6l-36 12zm4 -18l36 -12l-31 -7l-36 12zm36 -12l36 -11l-32 -7l-35 11zm36 -11l35 -12l-31 -6l-36 11zm35 -12l35 -11l-31 -6l-35 11zm4 -17l35 -11l-31 -6l-35 10zm35 -11l34 -11l-31 -6l-34 11zm34 -11l35 -11l-31 -6l-35 11zm35 -11l34 -10l-31 -6l-34 10zm34 -10l34 -11l-31 -5l-34 10zm34 -11l34 -10l-31 -6l-34 11zm34 -10l34 -10l-32 -6l-33 10zm34 -10l33 -10l-31 -5l-34 9z" fill="#04e000" stroke="#04e000"/><path d="M5233 8951l36 -14l-35 -3l-36 14zm36 -14l36 -14l-35 -3l-36 14zm72 -44l35 -13l-35 -2l-35 13zm35 -13l35 -13l-35 -2l-35 13zm103 -52l34 -12l-35 -3l-34 12z" fill="#64d800" stroke="#64d800"/><path d="M4923 8915l36 -12l-33 -5l-36 13zm36 -12l36 -13l-34 -5l-35 13zm38 -30l35 -12l-33 -5l-35 12zm35 -12l35 -12l-33 -5l-35 12zm35 -12l35 -12l-33 -5l-35 12zm35 -12l34 -12l-33 -4l-34 11zm70 -39l34 -11l-33 -4l-34 11zm34 -11l33 -11l-33 -4l-33 11zm33 -11l34 -11l-33 -4l-34 11z" fill="#2cdc00" stroke="#2cdc00"/><path d="M5526 8952l36 -15l-38 -2l-35 15zm36 -15l36 -15l-38 -1l-36 14zm69 -44l35 -14l-37 -1l-35 14zm35 -14l35 -13l-38 -1l-34 13zm35 -13l34 -14l-37 -1l-35 14zm34 -14l34 -13l-37 0l-34 12z" fill="#9cd400" stroke="#9cd400"/><path d="M5234 8934l36 -14l-35 -3l-36 14zm36 -14l35 -13l-35 -3l-35 13zm35 -13l36 -14l-35 -2l-36 13zm71 -42l34 -13l-35 -2l-35 12zm34 -13l35 -12l-35 -3l-35 13zm35 -12l34 -12l-35 -3l-34 12z" fill="#60d800" stroke="#60d800"/><path d="M5199 8931l36 -14l-36 -3l-35 13zm36 -14l35 -13l-35 -3l-36 13zm71 -42l34 -13l-34 -3l-35 13zm34 -13l35 -12l-35 -3l-34 12zm35 -12l35 -13l-35 -3l-35 13zm135 -62l33 -12l-34 -2l-33 11z" fill="#58d800" stroke="#58d800"/><path d="M4926 8898l35 -13l-33 -5l-36 13zm35 -13l36 -12l-33 -5l-36 12zm38 -29l35 -12l-33 -5l-35 12zm35 -12l35 -12l-33 -4l-35 11zm35 -12l34 -11l-33 -5l-34 12zm34 -11l35 -12l-33 -4l-35 11zm35 -12l34 -11l-33 -4l-34 11zm102 -48l33 -10l-33 -4l-33 10z" fill="#28dc00" stroke="#28dc00"/><path d="M4636 8845l35 -11l-31 -7l-35 12zm35 -11l36 -11l-31 -7l-36 11zm36 -11l35 -11l-31 -7l-35 11zm-31 -7l35 -11l-31 -6l-35 11zm35 -11l35 -10l-31 -7l-35 11zm35 -10l34 -11l-31 -6l-34 10zm34 -11l35 -11l-31 -6l-35 11zm35 -11l34 -10l-31 -6l-34 10zm34 -10l34 -10l-31 -6l-34 10zm34 -10l34 -11l-31 -5l-34 10zm34 -11l33 -10l-31 -5l-33 10zm33 -10l34 -9l-31 -6l-34 10zm-31 -5l34 -10l-31 -6l-34 10zm65 -4l33 -10l-31 -6l-33 10zm-31 -6l33 -10l-31 -5l-33 9zm33 -10l33 -9l-31 -6l-33 10zm33 -9l33 -10l-31 -5l-33 9z" fill="#00e000" stroke="#00e000"/><path d="M4363 8778l35 -10l-29 -8l-36 10zm35 -10l35 -10l-29 -8l-35 10zm-29 -8l35 -10l-29 -8l-36 10zm64 -2l35 -10l-29 -8l-35 10zm-29 -8l35 -10l-30 -8l-34 10zm-29 -8l34 -10l-29 -8l-35 9zm93 6l35 -10l-29 -8l-35 10zm-29 -8l35 -10l-30 -8l-35 10zm-30 -8l35 -10l-29 -8l-35 10zm94 6l35 -10l-30 -7l-34 9zm-29 -8l34 -9l-29 -8l-35 9zm-30 -8l35 -9l-29 -8l-35 9zm94 6l34 -9l-30 -8l-34 10zm-30 -7l34 -10l-29 -8l-34 10zm-29 -8l34 -10l-29 -8l-34 10zm93 6l34 -10l-30 -7l-34 9zm-30 -8l34 -9l-29 -8l-34 9zm-29 -8l34 -9l-29 -8l-34 9zm93 6l34 -9l-30 -8l-34 10zm-30 -7l34 -10l-29 -7l-34 9zm-29 -8l34 -9l-29 -8l-34 9zm93 6l34 -10l-30 -7l-34 9zm-30 -8l34 -9l-29 -7l-34 9zm-29 -7l34 -9l-30 -8l-33 9zm93 5l33 -9l-29 -7l-34 9zm-30 -7l34 -9l-30 -7l-33 9zm-29 -7l33 -9l-29 -8l-34 9zm92 5l33 -9l-29 -7l-33 9zm-29 -7l33 -9l-30 -7l-33 9zm62 -2l33 -9l-29 -7l-33 9zm-29 -7l33 -9l-30 -7l-33 9zm33 -9l33 -9l-30 -7l-33 9zm33 -9l32 -8l-29 -7l-33 8z" fill="#00e418" stroke="#00e418"/><path d="M5524 8935l36 -14l-37 -1l-36 14zm70 -43l35 -14l-37 -1l-35 13zm35 -14l34 -13l-37 -1l-34 13zm34 -13l35 -14l-37 -1l-35 14z" fill="#94d400" stroke="#94d400"/><path d="M5199 8914l36 -13l-35 -4l-35 13zm36 -13l35 -13l-34 -4l-36 13zm35 -13l36 -13l-35 -3l-35 12zm70 -41l35 -13l-35 -3l-34 13zm35 -13l34 -12l-35 -2l-34 11zm34 -12l34 -11l-35 -3l-34 12zm34 -11l34 -12l-35 -3l-34 12zm34 -12l33 -11l-34 -3l-34 11z" fill="#54d800" stroke="#54d800"/><path d="M4928 8880l36 -12l-33 -5l-36 12zm36 -12l35 -12l-33 -5l-35 12zm72 -40l34 -12l-32 -4l-35 11zm34 -12l35 -11l-33 -5l-34 12zm35 -11l34 -11l-33 -5l-34 11zm34 -11l34 -11l-33 -5l-34 11zm34 -11l33 -11l-32 -4l-34 10zm33 -11l34 -11l-33 -4l-33 11z" fill="#24dc00" stroke="#24dc00"/><path d="M4640 8827l36 -11l-31 -6l-36 11zm5 -17l35 -11l-31 -7l-35 11zm35 -11l35 -11l-31 -7l-35 11zm35 -11l34 -10l-31 -7l-34 10zm34 -10l35 -11l-31 -6l-35 10zm35 -11l34 -10l-31 -6l-34 10zm34 -10l34 -10l-31 -7l-34 11zm34 -10l34 -10l-31 -6l-34 9zm34 -10l33 -10l-31 -6l-33 10zm2 -16l34 -10l-31 -6l-33 10zm34 -10l33 -9l-31 -6l-33 9zm33 -9l33 -10l-31 -6l-33 10z" fill="#00e004" stroke="#00e004"/><path d="M5598 8922l35 -14l-37 -1l-36 14zm35 -14l35 -14l-37 -1l-35 14zm35 -14l35 -14l-37 -1l-35 14zm101 -55l34 -13l-37 0l-34 13zm34 -13l34 -12l-37 -1l-34 13z" fill="#a0d400" stroke="#a0d400"/><path d="M5560 8921l36 -14l-38 -1l-35 14zm36 -14l35 -14l-37 -1l-36 14zm102 -56l34 -12l-37 -1l-34 12zm34 -12l34 -13l-37 -1l-34 13zm34 -13l34 -13l-37 0l-34 12zm34 -13l34 -12l-37 -1l-34 13z" fill="#98d400" stroke="#98d400"/><path d="M5523 8920l35 -14l-37 -2l-35 14zm35 -14l36 -14l-37 -2l-36 14zm103 -56l34 -12l-37 -1l-34 12zm34 -12l34 -13l-37 -1l-34 13zm34 -13l34 -12l-37 -1l-34 12zm34 -12l34 -13l-37 -1l-34 13zm34 -13l33 -12l-37 -1l-33 12z" fill="#90d400" stroke="#90d400"/><path d="M5270 8904l36 -13l-36 -3l-35 13zm36 -13l35 -13l-35 -3l-36 13zm35 -13l35 -13l-36 -3l-34 13zm69 -41l34 -12l-35 -3l-34 12zm34 -12l34 -12l-35 -2l-34 11zm34 -12l34 -12l-35 -2l-34 12zm34 -12l33 -11l-35 -2l-33 11z" fill="#5cd800" stroke="#5cd800"/><path d="M5200 8897l36 -13l-35 -3l-35 13zm36 -29l35 -12l-34 -4l-35 13zm35 -12l35 -12l-35 -4l-34 12zm35 -12l34 -13l-34 -3l-35 12zm34 -13l34 -11l-34 -3l-34 11zm34 -11l34 -12l-34 -3l-34 12zm100 -49l34 -11l-35 -3l-33 11zm34 -11l32 -11l-34 -2l-33 10zm32 -11l33 -10l-34 -3l-33 11z" fill="#4cd800" stroke="#4cd800"/><path d="M4931 8863l35 -12l-33 -5l-35 12zm35 -12l35 -12l-33 -5l-35 12zm35 -12l35 -11l-33 -5l-35 11zm37 -27l34 -12l-33 -4l-34 11zm34 -12l34 -11l-33 -4l-34 11zm34 -11l34 -11l-33 -4l-34 11zm34 -11l34 -10l-33 -5l-34 11zm34 -10l33 -11l-33 -4l-33 10zm33 -11l33 -10l-32 -5l-34 11zm33 -10l33 -11l-32 -4l-33 10zm33 -11l33 -10l-32 -4l-33 10z" fill="#20dc00" stroke="#20dc00"/><path d="M5521 8904l36 -14l-37 -1l-35 13zm36 -14l35 -13l-37 -2l-35 14zm67 -41l34 -12l-36 -2l-34 13zm34 -12l34 -13l-36 -1l-34 12zm34 -13l34 -12l-36 -2l-34 13zm34 -12l34 -13l-37 -1l-33 12zm34 -13l33 -12l-36 0l-34 11z" fill="#88d400" stroke="#88d400"/><path d="M5236 8884l35 -12l-35 -4l-35 13zm35 -12l35 -13l-35 -3l-35 12zm35 -13l34 -12l-34 -3l-35 12zm102 -51l34 -12l-34 -3l-34 12zm34 -12l34 -11l-35 -3l-33 11zm34 -11l33 -11l-35 -3l-33 11zm33 -11l33 -11l-34 -3l-34 11z" fill="#50d800" stroke="#50d800"/><path d="M5201 8881l35 -13l-34 -3l-35 12zm105 -53l34 -11l-34 -4l-34 12zm34 -11l34 -12l-34 -3l-34 11zm34 -12l34 -12l-35 -3l-33 12zm34 -12l33 -11l-34 -3l-34 11zm33 -11l33 -11l-34 -3l-33 11z" fill="#48d800" stroke="#48d800"/><path d="M4933 8846l35 -12l-32 -5l-35 12zm35 -12l35 -11l-32 -5l-35 11zm35 -11l35 -11l-33 -5l-34 11zm2 -16l34 -11l-32 -5l-34 11zm68 -22l34 -11l-32 -5l-34 11zm34 -11l34 -11l-32 -4l-34 10zm34 -11l33 -10l-32 -5l-33 11zm33 -10l34 -11l-33 -4l-33 10zm34 -11l33 -10l-33 -4l-33 10zm33 -10l33 -10l-33 -4l-33 10zm33 -10l32 -10l-32 -4l-33 10z" fill="#1cdc00" stroke="#1cdc00"/><path d="M4649 8792l35 -11l-31 -6l-35 10zm35 -11l34 -10l-30 -7l-35 11zm-31 -6l35 -11l-31 -6l-34 10zm65 -4l35 -10l-31 -7l-34 10zm-30 -7l34 -10l-30 -7l-35 11zm65 -3l34 -10l-31 -7l-34 10zm-31 -7l34 -10l-30 -7l-34 10zm65 -3l34 -11l-31 -6l-34 10zm-31 -7l34 -10l-30 -6l-34 9zm65 -4l34 -9l-31 -7l-34 10zm-31 -6l34 -10l-30 -6l-34 10zm65 -3l33 -10l-30 -6l-34 9zm-31 -7l34 -9l-31 -7l-33 10zm34 -9l33 -10l-30 -6l-34 9zm33 -10l33 -9l-30 -7l-33 10zm33 -9l33 -10l-30 -6l-33 9zm64 -4l33 -9l-31 -6l-33 9zm-31 -6l33 -9l-31 -6l-32 9zm64 -3l32 -9l-31 -6l-32 9zm-31 -6l32 -9l-30 -6l-33 9zm63 -3l33 -10l-31 -5l-33 9zm-31 -6l33 -9l-31 -6l-32 9zm33 -9l32 -9l-31 -6l-32 9z" fill="#00e008" stroke="#00e008"/><path d="M4380 8724l35 -10l-29 -8l-35 9zm35 -10l35 -9l-29 -9l-35 10zm35 -9l34 -10l-29 -8l-34 9zm-29 -9l34 -9l-29 -8l-34 9zm63 -1l34 -9l-29 -8l-34 9zm-29 -8l34 -9l-29 -8l-34 9zm63 -1l34 -9l-29 -8l-34 9zm-29 -8l34 -9l-29 -8l-34 9zm63 -1l33 -9l-29 -8l-33 9zm-29 -8l33 -9l-28 -8l-34 9zm62 -1l34 -9l-29 -7l-34 8zm-29 -8l34 -8l-29 -8l-33 8zm92 7l33 -9l-29 -8l-33 9zm-29 -8l33 -9l-29 -7l-33 9zm-29 -7l33 -9l-29 -8l-33 9zm91 6l33 -9l-29 -7l-33 8zm-29 -8l33 -8l-29 -8l-33 9zm62 -1l33 -9l-29 -7l-33 9zm-29 -7l33 -9l-29 -7l-33 8zm62 -2l33 -8l-29 -7l-33 8zm-29 -7l33 -8l-29 -8l-33 9zm62 -1l33 -9l-30 -7l-32 9zm33 -9l32 -8l-29 -7l-33 8z" fill="#00e41c" stroke="#00e41c"/><path d="M5520 8889l35 -14l-36 -1l-35 13zm68 -41l34 -13l-36 -1l-34 12zm34 -13l34 -12l-36 -2l-34 13zm34 -12l34 -13l-36 -1l-34 12zm34 -13l33 -12l-36 -1l-33 12z" fill="#80d400" stroke="#80d400"/><path d="M4936 8829l35 -11l-33 -5l-34 11zm35 -11l34 -11l-32 -5l-35 11zm68 -22l34 -11l-32 -5l-34 11zm2 -16l34 -11l-32 -5l-34 11zm34 -11l34 -10l-32 -5l-34 10zm34 -10l33 -11l-32 -5l-33 11zm33 -11l33 -10l-32 -5l-33 10zm33 -10l33 -10l-32 -5l-33 10zm33 -10l33 -10l-32 -5l-33 10zm33 -10l33 -10l-32 -4l-33 9zm33 -10l32 -10l-32 -4l-32 10zm32 -10l32 -9l-32 -4l-32 9z" fill="#18dc00" stroke="#18dc00"/><path d="M5703 8880l35 -14l-37 0l-35 13zm35 -14l35 -13l-38 -1l-34 14zm35 -13l34 -13l-38 -1l-34 13z" fill="#a4d400" stroke="#a4d400"/><path d="M5592 8877l34 -13l-36 -2l-35 13zm34 -13l35 -14l-37 -1l-34 13zm167 -77l33 -11l-36 -1l-33 12z" fill="#8cd400" stroke="#8cd400"/><path d="M5555 8875l35 -13l-37 -1l-34 13zm35 -13l34 -13l-36 -1l-35 13zm133 -64l34 -11l-36 -2l-34 12zm34 -11l33 -12l-36 -1l-33 11zm33 -12l33 -12l-36 -1l-33 12zm33 -12l32 -11l-36 -1l-32 11z" fill="#84d400" stroke="#84d400"/><path d="M5519 8874l34 -13l-36 -2l-35 13zm34 -13l35 -13l-36 -2l-35 13zm134 -64l34 -12l-36 -1l-34 12zm34 -12l33 -11l-36 -2l-33 12zm33 -11l33 -12l-36 -1l-33 11zm33 -12l32 -11l-36 -1l-32 11zm32 -11l33 -11l-36 -1l-33 11z" fill="#7cd400" stroke="#7cd400"/><path d="M5237 8852l34 -12l-34 -3l-34 12zm34 -12l35 -12l-34 -3l-35 12zm69 -38l33 -12l-33 -3l-34 11zm33 -12l34 -11l-34 -3l-33 11zm34 -11l33 -11l-34 -3l-33 11zm33 -11l33 -11l-34 -3l-33 11zm33 -11l33 -10l-34 -3l-33 10zm33 -10l33 -11l-34 -3l-33 11zm33 -11l32 -10l-34 -3l-32 10z" fill="#44d800" stroke="#44d800"/><path d="M4938 8813l35 -11l-32 -6l-35 11zm35 -11l34 -11l-32 -6l-34 11zm34 -11l34 -11l-32 -5l-34 10zm36 -27l34 -10l-32 -5l-34 10zm34 -10l33 -11l-32 -4l-33 10zm33 -11l33 -10l-32 -4l-33 10zm33 -10l33 -10l-32 -4l-33 10zm33 -10l33 -10l-32 -4l-33 10zm33 -10l33 -9l-32 -5l-33 10zm33 -9l32 -10l-32 -4l-32 9zm32 -10l32 -9l-32 -5l-32 10zm32 -9l32 -10l-32 -4l-32 9zm32 -10l32 -9l-32 -4l-32 9z" fill="#14dc00" stroke="#14dc00"/><path d="M5517 8859l35 -13l-36 -2l-35 13zm101 -51l33 -12l-35 -2l-34 12zm33 -12l34 -12l-36 -2l-33 12zm34 -12l33 -12l-36 -1l-33 11zm33 -12l33 -11l-36 -1l-33 11zm33 -11l32 -11l-35 -1l-33 11zm32 -11l33 -11l-36 -1l-32 11zm33 -11l32 -11l-36 -1l-32 11z" fill="#74d400" stroke="#74d400"/><path d="M5237 8837l35 -12l-34 -4l-35 12zm35 -12l34 -12l-34 -3l-34 11zm34 -12l34 -11l-34 -4l-34 12zm166 -69l33 -11l-34 -3l-32 11zm33 -11l32 -10l-33 -3l-33 10zm32 -10l33 -10l-34 -3l-32 10zm33 -10l32 -10l-34 -3l-32 10z" fill="#40d800" stroke="#40d800"/><path d="M4941 8796l34 -11l-32 -5l-34 11zm34 -11l34 -10l-32 -6l-34 11zm34 -10l34 -11l-32 -5l-34 10zm135 -56l33 -10l-32 -5l-32 10zm33 -10l33 -10l-32 -5l-33 10zm33 -10l32 -9l-32 -5l-32 9z" fill="#10dc00" stroke="#10dc00"/><path d="M4692 8747l34 -10l-30 -6l-35 10zm34 -10l34 -9l-30 -7l-34 10zm34 -9l34 -10l-31 -7l-33 10zm34 -10l33 -10l-30 -6l-34 9zm33 -10l34 -9l-31 -7l-33 10zm34 -9l33 -10l-31 -6l-33 9zm33 -10l33 -9l-31 -6l-33 9zm33 -9l32 -9l-30 -6l-33 9zm32 -9l33 -9l-30 -6l-33 9zm33 -9l32 -9l-30 -6l-32 9zm32 -9l32 -9l-30 -6l-32 9zm63 -3l32 -9l-31 -5l-32 8zm-31 -6l32 -8l-30 -6l-32 8zm32 -8l32 -9l-30 -6l-32 9z" fill="#00e00c" stroke="#00e00c"/><path d="M5552 8846l34 -12l-36 -2l-34 12zm34 -12l34 -13l-36 -1l-34 12zm34 -13l34 -12l-36 -1l-34 12zm34 -12l33 -12l-36 -1l-33 12z" fill="#78d400" stroke="#78d400"/><path d="M5516 8844l34 -12l-36 -2l-34 12zm34 -12l34 -12l-36 -2l-34 12zm34 -12l34 -12l-36 -2l-34 12zm260 -104l32 -10l-35 -1l-32 10z" fill="#70d400" stroke="#70d400"/><path d="M5238 8821l34 -11l-34 -4l-34 12zm34 -11l34 -12l-34 -3l-34 11zm34 -12l34 -11l-34 -3l-34 11zm34 -11l33 -11l-34 -3l-33 11zm33 -11l33 -11l-33 -3l-34 11zm33 -11l33 -11l-33 -3l-33 11zm33 -11l33 -10l-33 -3l-33 10z" fill="#3cd800" stroke="#3cd800"/><path d="M4696 8731l34 -10l-30 -7l-34 10zm34 -10l33 -10l-30 -6l-33 9zm33 -10l34 -9l-30 -7l-34 10zm-30 -6l34 -10l-30 -7l-34 10zm64 -3l33 -10l-30 -6l-33 9zm-30 -7l33 -9l-30 -7l-33 9zm63 -3l33 -9l-30 -6l-33 9zm-30 -6l33 -9l-30 -7l-33 9zm63 -3l33 -9l-30 -6l-33 9zm-30 -6l33 -9l-30 -7l-33 9zm63 -3l33 -9l-30 -6l-33 9zm33 -9l33 -9l-31 -6l-32 9zm33 -9l32 -9l-30 -6l-33 9zm32 -9l32 -9l-30 -6l-32 9zm32 -9l32 -8l-30 -6l-32 8zm32 -8l32 -9l-30 -6l-32 9zm62 -3l32 -9l-31 -5l-31 8zm-30 -6l31 -8l-30 -6l-31 8z" fill="#00e010" stroke="#00e010"/><path d="M5807 8840l34 -13l-38 -1l-34 13zm34 -13l34 -13l-38 0l-34 12zm34 -13l33 -13l-37 0l-34 13z" fill="#a8d000" stroke="#a8d000"/><path d="M5514 8830l34 -12l-35 -2l-34 12zm166 -72l32 -11l-35 -2l-33 11zm32 -11l33 -11l-35 -1l-33 10zm33 -11l32 -10l-35 -2l-32 11zm32 -10l32 -11l-35 -1l-32 10zm32 -11l32 -10l-35 -2l-32 11zm32 -10l31 -10l-35 -2l-31 10zm31 -10l32 -10l-35 -2l-32 10z" fill="#68d400" stroke="#68d400"/><path d="M5238 8806l34 -11l-33 -4l-34 11zm34 -11l34 -11l-34 -4l-33 11zm67 -37l33 -10l-33 -4l-33 11zm33 -10l33 -11l-33 -3l-33 10zm33 -11l33 -10l-33 -3l-33 10zm33 -10l32 -10l-33 -3l-32 10zm32 -10l32 -10l-33 -3l-32 10zm32 -10l33 -10l-34 -3l-32 10zm33 -10l31 -10l-33 -3l-32 10zm31 -10l32 -9l-33 -3l-32 9zm32 -9l31 -10l-33 -3l-31 10zm31 -10l32 -9l-34 -3l-31 9z" fill="#34d800" stroke="#34d800"/><path d="M4977 8769l34 -10l-32 -5l-33 10zm34 -10l34 -10l-32 -6l-34 11zm34 -10l33 -10l-32 -6l-33 10zm33 -10l33 -10l-31 -6l-34 10zm33 -10l33 -10l-31 -5l-33 9zm131 -39l32 -10l-31 -4l-33 9zm32 -10l32 -9l-31 -5l-32 10zm32 -9l32 -9l-32 -5l-31 9zm32 -9l32 -9l-32 -5l-32 9zm32 -9l31 -9l-32 -5l-31 9z" fill="#0cdc00" stroke="#0cdc00"/><path d="M5548 8818l34 -12l-35 -2l-34 12zm34 -12l34 -12l-36 -2l-33 12zm34 -12l33 -12l-35 -1l-34 11zm33 -12l33 -11l-35 -2l-33 12zm33 -11l33 -11l-35 -2l-33 11zm33 -11l33 -11l-36 -2l-32 11zm33 -11l32 -11l-35 -2l-33 11zm32 -11l32 -11l-35 -1l-32 10zm32 -11l32 -11l-35 -1l-32 11z" fill="#6cd400" stroke="#6cd400"/><path d="M5513 8816l34 -12l-35 -3l-34 12zm34 -12l33 -12l-35 -2l-33 11zm33 -12l34 -11l-36 -3l-33 12zm34 -11l33 -12l-36 -2l-33 11zm33 -12l33 -11l-36 -2l-33 11z" fill="#64d400" stroke="#64d400"/><path d="M5239 8791l33 -11l-33 -4l-33 11zm33 -11l34 -11l-33 -4l-34 11zm34 -11l33 -11l-33 -3l-33 10z" fill="#30d800" stroke="#30d800"/><path d="M4979 8754l34 -11l-31 -5l-34 10zm34 -11l33 -10l-31 -5l-33 10zm33 -10l34 -10l-32 -5l-33 10zm34 -10l33 -9l-32 -5l-33 9zm-32 -5l33 -9l-31 -6l-33 10zm65 -4l32 -10l-31 -5l-33 10zm-32 -5l33 -10l-31 -5l-33 9zm64 -5l33 -10l-31 -5l-33 10zm-31 -5l33 -10l-32 -5l-32 10zm64 -5l32 -9l-31 -5l-32 9zm32 -9l33 -9l-32 -5l-32 9zm33 -9l32 -10l-32 -4l-32 9zm32 -10l31 -9l-31 -4l-32 9zm31 -9l32 -9l-32 -4l-31 9zm32 -9l31 -9l-31 -4l-32 9zm31 -9l32 -8l-32 -5l-31 9zm32 -8l31 -9l-32 -4l-31 8zm31 -9l31 -9l-32 -4l-31 9z" fill="#08dc00" stroke="#08dc00"/><path d="M5837 8814l34 -13l-37 0l-34 12zm34 -13l33 -12l-37 0l-33 12z" fill="#a0d000" stroke="#a0d000"/><path d="M5306 8784l33 -11l-33 -4l-34 11zm33 -11l34 -11l-34 -4l-33 11zm34 -11l33 -11l-34 -3l-33 10zm33 -11l33 -10l-34 -4l-33 11zm33 -10l32 -11l-33 -3l-33 10zm32 -11l33 -10l-34 -3l-32 10zm33 -10l32 -10l-34 -3l-32 10zm32 -10l32 -10l-33 -3l-33 10zm32 -10l32 -10l-34 -3l-31 10zm32 -10l31 -9l-33 -3l-32 9z" fill="#38d800" stroke="#38d800"/><path d="M4737 8688l33 -9l-30 -7l-33 9zm33 -9l33 -9l-30 -7l-33 9zm33 -9l33 -9l-30 -7l-33 9zm63 -2l33 -9l-30 -7l-33 9zm-30 -7l33 -9l-30 -6l-33 8zm63 -2l32 -9l-30 -7l-32 9zm-30 -7l32 -9l-29 -6l-33 9zm62 -2l33 -9l-30 -6l-33 8zm33 -9l32 -9l-30 -6l-32 9zm-30 -6l32 -9l-30 -6l-32 8zm62 -3l32 -8l-30 -6l-32 8zm32 -8l32 -9l-31 -6l-31 9zm32 -9l31 -8l-30 -6l-32 8zm61 -2l32 -9l-31 -5l-31 8zm-30 -6l31 -8l-30 -6l-31 8zm62 -3l31 -8l-30 -6l-32 9zm-31 -5l32 -9l-30 -5l-32 8zm62 -3l31 -8l-30 -6l-31 8z" fill="#00e014" stroke="#00e014"/><path d="M5908 8801l34 -12l-38 0l-33 12zm34 -12l33 -12l-38 0l-33 12zm33 -12l33 -12l-38 0l-33 12zm33 -12l33 -12l-38 0l-33 12zm33 -12l32 -11l-38 0l-32 11zm32 -11l32 -12l-37 1l-33 11zm32 -12l32 -11l-37 0l-32 12z" fill="#acd000" stroke="#acd000"/><path d="M5834 8801l33 -12l-37 -1l-33 12z" fill="#98d000" stroke="#98d000"/><path d="M5545 8790l33 -12l-35 -2l-33 12zm33 -12l33 -11l-34 -2l-34 11z" fill="#5cd400" stroke="#5cd400"/><path d="M5273 8765l33 -10l-33 -4l-33 10zm33 -10l33 -11l-33 -4l-33 11zm33 -11l33 -10l-33 -4l-33 10zm33 -10l33 -10l-33 -4l-33 10zm33 -10l32 -10l-33 -4l-32 10zm32 -10l32 -10l-33 -4l-32 10zm32 -10l32 -10l-33 -3l-32 9zm32 -10l32 -10l-33 -3l-32 10zm32 -10l32 -9l-33 -3l-32 9zm32 -9l31 -10l-33 -3l-31 10zm31 -10l31 -9l-33 -3l-31 9zm31 -9l31 -9l-33 -3l-31 9zm31 -9l31 -9l-33 -3l-31 9z" fill="#2cd800" stroke="#2cd800"/><path d="M5015 8728l33 -10l-31 -5l-33 10zm132 -39l32 -9l-31 -5l-33 9zm32 -9l32 -9l-31 -5l-32 9zm32 -9l32 -9l-31 -5l-32 9zm32 -9l32 -9l-31 -5l-32 9zm32 -9l31 -9l-31 -5l-31 9zm31 -9l32 -9l-31 -5l-32 9zm32 -9l31 -9l-31 -4l-31 8zm31 -9l31 -8l-31 -5l-31 9zm31 -8l31 -9l-31 -4l-31 8zm31 -9l31 -8l-32 -5l-30 9z" fill="#04dc00" stroke="#04dc00"/><path d="M4623 8643l33 -9l-29 -7l-33 8zm33 -9l33 -8l-29 -8l-33 9zm33 -8l33 -9l-29 -7l-33 8zm62 -1l32 -9l-29 -7l-32 8zm-29 -8l32 -8l-29 -7l-32 8zm61 -1l33 -8l-30 -7l-32 8zm-29 -7l32 -8l-29 -7l-32 8zm62 -1l32 -8l-30 -7l-32 8zm-30 -7l32 -8l-28 -8l-33 9zm62 -1l32 -8l-30 -7l-32 8zm-30 -7l32 -8l-29 -8l-31 8z" fill="#00e420" stroke="#00e420"/><path d="M5904 8789l33 -12l-37 0l-33 12zm33 -12l33 -12l-37 0l-33 12zm33 -12l33 -12l-37 0l-33 12zm33 -12l32 -11l-37 0l-32 11zm32 -11l33 -11l-38 0l-32 11zm33 -11l32 -12l-38 1l-32 11zm32 -12l32 -10l-38 0l-32 11zm32 -10l31 -11l-37 0l-32 11z" fill="#a4d000" stroke="#a4d000"/><path d="M5867 8789l33 -12l-37 -1l-33 12zm33 -12l33 -12l-37 0l-33 11zm33 -12l33 -12l-37 0l-33 12zm33 -12l32 -11l-37 0l-32 11zm32 -11l32 -11l-37 0l-32 11zm32 -11l32 -11l-37 0l-32 11zm32 -11l32 -11l-37 0l-32 11zm32 -11l32 -11l-37 0l-32 11zm32 -11l31 -10l-37 0l-31 10z" fill="#9cd000" stroke="#9cd000"/><path d="M5830 8788l33 -12l-37 0l-33 11zm33 -12l33 -11l-37 -1l-33 12zm33 -11l33 -12l-37 0l-33 11zm33 -12l32 -11l-37 -1l-32 12zm32 -11l32 -11l-36 -1l-33 11zm32 -11l32 -11l-36 0l-32 10zm32 -11l32 -11l-36 0l-32 11zm32 -11l32 -11l-37 0l-31 11zm32 -11l31 -10l-36 0l-32 10zm31 -10l32 -10l-37 0l-31 10zm32 -10l31 -11l-37 1l-31 10z" fill="#94d000" stroke="#94d000"/><path d="M5543 8776l34 -11l-35 -2l-33 11zm34 -11l32 -11l-34 -2l-33 11zm32 -11l33 -11l-34 -2l-33 11zm33 -11l33 -10l-35 -2l-32 10zm33 -10l32 -11l-35 -2l-32 11zm32 -11l32 -10l-35 -2l-32 10zm32 -10l32 -10l-35 -2l-32 10zm32 -10l31 -10l-34 -2l-32 10zm31 -10l32 -10l-35 -2l-31 10zm32 -10l31 -10l-35 -2l-31 10zm31 -10l31 -10l-35 -1l-31 9zm31 -10l31 -9l-35 -2l-31 10zm31 -9l31 -9l-35 -2l-31 9z" fill="#58d400" stroke="#58d400"/><path d="M5273 8751l33 -11l-33 -4l-33 11zm33 -11l33 -10l-33 -4l-33 10zm33 -10l33 -10l-33 -4l-33 10zm33 -10l32 -10l-33 -4l-32 10zm32 -10l32 -10l-33 -3l-32 9zm32 -10l32 -9l-33 -4l-32 10zm32 -9l32 -10l-33 -3l-32 9zm32 -10l32 -9l-33 -4l-32 10zm32 -9l31 -10l-33 -3l-31 9zm31 -10l31 -9l-32 -3l-32 9zm31 -9l31 -9l-32 -3l-31 9z" fill="#28d800" stroke="#28d800"/><path d="M5017 8713l33 -10l-31 -5l-33 9zm33 -10l33 -9l-31 -6l-33 10zm33 -9l32 -10l-31 -5l-32 9zm32 -10l33 -9l-32 -5l-32 9zm33 -9l32 -9l-31 -5l-33 9zm32 -9l32 -9l-31 -5l-32 9zm32 -9l32 -9l-32 -5l-31 9zm32 -9l31 -9l-31 -5l-32 9zm31 -9l32 -9l-32 -5l-31 9zm32 -9l31 -8l-31 -5l-32 8zm31 -8l31 -9l-31 -5l-31 9zm31 -9l31 -8l-32 -5l-30 8zm31 -8l30 -9l-31 -4l-31 8zm62 -4l30 -9l-31 -4l-31 8z" fill="#00dc00" stroke="#00dc00"/><path d="M4773 8663l33 -9l-29 -7l-33 9zm33 -9l33 -8l-30 -7l-32 8zm33 -8l33 -9l-30 -7l-33 9zm-30 -7l33 -9l-29 -7l-33 9zm92 4l33 -8l-30 -7l-32 9zm-29 -6l32 -9l-30 -6l-32 8zm32 -9l32 -8l-30 -7l-32 9zm62 -2l32 -8l-30 -7l-32 9zm-30 -6l32 -9l-30 -6l-32 8zm62 -2l31 -9l-29 -6l-32 8zm-30 -7l32 -8l-30 -6l-32 8zm61 -2l32 -8l-30 -6l-31 8zm32 -8l31 -8l-29 -6l-32 8zm31 -8l32 -8l-30 -6l-31 8zm62 -3l31 -8l-30 -5l-31 8zm-30 -5l31 -8l-30 -6l-31 8zm61 -3l30 -8l-30 -5l-30 8zm30 -8l31 -8l-30 -5l-31 8zm31 -8l31 -8l-31 -5l-30 8z" fill="#00e018" stroke="#00e018"/><path d="M5826 8776l33 -12l-36 -1l-33 12zm33 -12l33 -11l-37 -1l-32 11zm33 -11l32 -12l-36 0l-33 11zm32 -12l33 -11l-37 0l-32 11zm33 -11l32 -10l-37 -1l-32 11zm32 -10l32 -11l-37 -1l-32 11zm32 -11l31 -11l-36 0l-32 10zm31 -11l32 -10l-37 0l-31 10zm32 -10l31 -10l-37 0l-31 10zm31 -10l31 -10l-37 0l-31 10zm31 -10l31 -10l-37 0l-31 10zm31 -10l30 -10l-36 0l-31 10z" fill="#8cd000" stroke="#8cd000"/><path d="M5611 8767l33 -11l-35 -2l-32 11zm33 -11l33 -11l-35 -2l-33 11zm33 -11l33 -10l-35 -2l-33 10zm33 -10l32 -11l-35 -2l-32 11zm32 -11l32 -10l-35 -2l-32 10zm32 -10l32 -11l-35 -1l-32 10zm32 -11l31 -10l-35 -1l-31 10zm31 -10l32 -10l-35 -1l-32 10zm32 -10l31 -10l-35 -1l-31 10zm31 -10l31 -9l-35 -2l-31 10z" fill="#60d400" stroke="#60d400"/><path d="M5542 8763l33 -11l-35 -3l-32 11zm33 -11l33 -11l-35 -2l-33 10zm33 -11l32 -10l-34 -3l-33 11zm32 -10l32 -11l-34 -2l-32 10zm32 -11l32 -10l-34 -2l-32 10zm158 -50l31 -9l-34 -2l-31 9zm31 -9l31 -10l-34 -1l-31 9zm31 -10l31 -9l-34 -2l-31 10zm31 -9l30 -9l-34 -2l-30 9zm30 -9l31 -9l-35 -2l-30 9z" fill="#50d400" stroke="#50d400"/><path d="M5306 8726l33 -10l-33 -4l-32 10zm33 -10l32 -10l-32 -4l-33 10zm32 -10l32 -9l-32 -4l-32 9zm32 -9l32 -10l-32 -4l-32 10zm222 -53l31 -9l-33 -3l-30 9zm31 -9l31 -9l-33 -3l-31 9zm31 -9l30 -9l-32 -3l-31 9zm30 -9l31 -8l-33 -3l-30 8z" fill="#24d800" stroke="#24d800"/><path d="M5052 8688l32 -9l-31 -5l-32 9zm32 -9l32 -9l-30 -6l-33 10zm32 -9l33 -9l-31 -6l-32 9zm33 -9l32 -9l-31 -5l-32 8zm32 -9l31 -9l-31 -5l-31 9zm31 -9l32 -9l-31 -5l-32 9zm32 -9l31 -9l-31 -5l-31 9zm31 -9l32 -8l-31 -5l-32 8zm32 -8l31 -9l-31 -4l-31 8zm31 -9l30 -8l-31 -5l-30 9zm92 -12l31 -8l-31 -4l-31 8zm31 -8l30 -8l-31 -5l-30 9zm30 -8l30 -8l-31 -5l-30 8zm30 -8l30 -8l-31 -5l-30 8zm30 -8l30 -8l-31 -4l-30 7z" fill="#00dc04" stroke="#00dc04"/><path d="M5855 8752l33 -11l-36 -1l-33 11zm33 -11l32 -11l-36 -1l-32 11zm32 -11l32 -11l-36 -1l-32 11zm32 -11l32 -11l-36 0l-32 10zm32 -11l32 -10l-36 -1l-32 11zm32 -10l31 -10l-36 -1l-31 10zm31 -10l31 -10l-36 -1l-31 10zm31 -10l31 -10l-36 -1l-31 10zm31 -10l31 -10l-36 -1l-31 10zm31 -10l31 -10l-36 0l-31 9zm31 -10l30 -10l-36 0l-30 10zm30 -10l30 -9l-36 0l-30 9z" fill="#84d000" stroke="#84d000"/><path d="M5573 8739l33 -11l-35 -2l-32 10zm33 -11l32 -10l-34 -2l-33 10zm32 -10l32 -10l-34 -3l-32 11zm32 -10l32 -10l-35 -3l-31 10zm32 -10l31 -10l-34 -2l-32 9zm31 -10l32 -10l-34 -2l-32 10zm32 -10l31 -10l-34 -2l-31 10zm31 -10l31 -9l-34 -2l-31 9zm31 -9l31 -9l-34 -2l-31 9zm31 -9l31 -10l-35 -1l-30 9zm31 -10l30 -9l-34 -2l-31 10z" fill="#4cd400" stroke="#4cd400"/><path d="M5306 8712l33 -10l-33 -4l-32 10zm33 -10l32 -9l-33 -4l-32 9zm32 -9l32 -10l-33 -4l-32 10zm32 -10l32 -9l-33 -4l-32 9zm32 -9l31 -9l-32 -4l-32 9zm31 -9l32 -10l-33 -3l-31 9zm32 -10l31 -9l-32 -3l-32 9zm31 -9l31 -9l-32 -3l-31 9zm31 -9l31 -8l-33 -4l-30 9zm31 -8l30 -9l-32 -4l-31 9zm30 -9l31 -9l-32 -3l-31 8zm154 -31l30 -8l-33 -3l-30 8z" fill="#1cd800" stroke="#1cd800"/><path d="M4842 8630l32 -8l-29 -7l-32 8zm32 -8l32 -9l-29 -6l-32 8zm-29 -7l32 -8l-29 -7l-32 8zm61 -2l32 -8l-29 -7l-32 9zm32 -8l32 -8l-29 -7l-32 8zm62 -2l31 -8l-29 -6l-32 8zm-30 -6l32 -8l-30 -7l-31 8zm61 -2l32 -8l-30 -6l-31 8zm-29 -6l31 -8l-30 -7l-31 8zm61 -2l31 -8l-30 -6l-31 8zm-30 -6l31 -8l-29 -7l-32 8zm61 -2l31 -8l-30 -6l-31 8zm61 -2l30 -8l-29 -6l-31 8zm-30 -6l31 -8l-30 -6l-31 8zm60 -2l31 -8l-30 -6l-30 8zm-29 -6l30 -8l-30 -6l-30 8zm60 -2l30 -8l-29 -6l-31 8zm30 -8l31 -8l-30 -5l-30 7zm31 -8l30 -7l-30 -6l-30 8z" fill="#00e01c" stroke="#00e01c"/><path d="M5852 8740l32 -11l-36 -1l-32 11zm32 -11l32 -11l-36 0l-32 10zm32 -11l32 -10l-36 -1l-32 11zm32 -10l32 -11l-36 0l-32 10zm32 -11l31 -10l-36 0l-31 10zm31 -10l31 -10l-36 0l-31 10zm31 -10l31 -10l-36 0l-31 10zm31 -10l31 -10l-36 0l-31 10zm31 -10l31 -9l-36 -1l-31 10zm31 -9l30 -10l-36 0l-30 9zm30 -10l30 -9l-36 0l-30 9zm30 -9l30 -9l-36 -1l-30 10zm30 -9l30 -9l-36 -1l-30 9z" fill="#7cd000" stroke="#7cd000"/><path d="M5571 8726l33 -10l-34 -3l-33 10zm33 -10l32 -11l-34 -2l-32 10zm32 -11l31 -10l-33 -2l-32 10zm31 -10l32 -9l-34 -3l-31 10zm32 -9l32 -10l-34 -2l-32 9zm32 -10l31 -10l-34 -2l-31 10zm31 -10l31 -9l-34 -2l-31 9zm31 -9l31 -9l-34 -2l-31 9zm31 -9l30 -9l-34 -3l-30 10zm30 -9l31 -10l-34 -2l-31 9zm31 -10l30 -8l-34 -2l-30 8zm30 -8l30 -9l-34 -2l-30 9zm30 -9l30 -9l-34 -2l-30 9zm30 -9l30 -9l-34 -1l-30 8z" fill="#44d400" stroke="#44d400"/><path d="M5086 8664l32 -9l-31 -5l-32 9zm32 -9l32 -8l-31 -6l-32 9zm32 -8l31 -9l-30 -6l-32 9zm31 -9l32 -9l-31 -5l-31 8zm32 -9l31 -9l-30 -5l-32 9zm31 -9l32 -8l-31 -5l-31 8zm32 -8l31 -8l-31 -5l-31 8zm31 -8l30 -9l-30 -5l-31 9zm61 -4l31 -8l-31 -5l-31 8zm31 -8l31 -8l-31 -5l-31 8zm31 -8l30 -9l-31 -4l-30 8zm30 -9l30 -8l-31 -4l-30 8zm30 -8l30 -8l-31 -4l-30 8zm30 -8l30 -7l-31 -5l-30 8z" fill="#00dc08" stroke="#00dc08"/><path d="M5848 8728l32 -10l-36 -2l-32 11zm32 -10l32 -11l-36 -1l-32 10zm95 -31l31 -10l-35 -1l-32 10zm31 -10l31 -10l-35 -1l-31 10zm31 -10l31 -10l-36 -1l-30 10zm31 -10l31 -10l-36 0l-31 9zm31 -10l30 -9l-36 -1l-30 10zm30 -9l30 -9l-35 -1l-31 9zm30 -9l30 -10l-35 0l-30 9zm30 -10l30 -9l-35 0l-30 9zm30 -9l30 -9l-36 0l-29 9zm30 -9l29 -8l-35 -1l-30 9z" fill="#74d000" stroke="#74d000"/><path d="M5338 8689l32 -10l-32 -4l-32 10zm32 -10l32 -9l-32 -4l-32 9zm32 -9l32 -9l-32 -4l-32 9zm32 -9l31 -9l-32 -4l-31 9zm31 -9l32 -9l-33 -4l-31 9zm32 -9l31 -9l-33 -4l-31 9zm31 -9l30 -9l-32 -4l-31 9zm124 -23l30 -8l-32 -4l-30 9zm30 -8l30 -9l-32 -3l-30 8zm30 -9l30 -8l-32 -3l-30 8zm30 -8l30 -8l-32 -4l-30 9zm30 -8l30 -8l-33 -4l-29 8zm30 -8l29 -9l-32 -3l-30 8z" fill="#18d800" stroke="#18d800"/><path d="M4877 8607l32 -9l-29 -6l-32 8zm32 -9l32 -8l-30 -7l-31 9zm-29 -6l31 -9l-29 -6l-32 8zm61 -2l31 -8l-29 -7l-32 8zm-30 -7l32 -8l-29 -6l-32 8zm61 -1l31 -8l-29 -6l-31 7zm-29 -7l31 -7l-29 -7l-31 8zm60 -1l32 -8l-30 -6l-31 8zm61 -1l31 -8l-29 -7l-31 8zm-29 -7l31 -8l-30 -6l-31 8zm60 -1l31 -8l-30 -6l-30 7zm31 -8l30 -8l-29 -6l-31 8zm60 -2l31 -8l-30 -6l-31 8zm-30 -6l31 -8l-30 -6l-30 8zm61 -2l30 -7l-30 -6l-30 7zm30 -7l30 -8l-30 -6l-30 8zm60 -2l30 -8l-30 -6l-30 8zm-30 -6l30 -8l-30 -5l-30 7zm60 -2l29 -8l-29 -5l-30 7z" fill="#00e020" stroke="#00e020"/><path d="M6137 8719l32 -11l-37 1l-32 10zm32 -11l32 -11l-38 1l-31 11zm32 -11l31 -10l-37 0l-32 11zm31 -10l31 -11l-37 1l-31 10zm31 -11l31 -10l-37 1l-31 10zm62 -20l31 -10l-38 1l-30 9z" fill="#b0cc00" stroke="#b0cc00"/><path d="M5704 8710l32 -10l-34 -2l-32 10zm32 -10l32 -10l-35 -2l-31 10zm32 -10l31 -10l-34 -2l-32 10zm31 -10l31 -10l-34 -2l-31 10z" fill="#54d400" stroke="#54d400"/><path d="M5602 8703l32 -10l-34 -3l-32 10zm32 -10l31 -10l-34 -2l-31 9zm31 -10l32 -9l-34 -3l-32 10zm32 -9l31 -10l-34 -2l-31 9zm31 -10l31 -9l-34 -3l-31 10zm277 -70l29 -8l-34 -2l-29 9zm29 -8l30 -8l-34 -2l-30 8zm30 -8l29 -9l-34 -1l-29 8z" fill="#40d400" stroke="#40d400"/><path d="M5435 8687l32 -9l-32 -4l-32 9zm32 -9l32 -10l-33 -3l-31 9zm32 -10l31 -9l-32 -4l-32 10zm31 -9l32 -9l-33 -4l-31 9zm32 -9l31 -9l-33 -4l-31 9zm31 -9l30 -9l-32 -3l-31 8zm30 -9l31 -9l-33 -3l-30 9zm31 -9l31 -9l-33 -3l-31 9zm31 -9l30 -8l-33 -3l-30 8zm30 -8l30 -9l-33 -3l-30 9zm30 -9l30 -8l-33 -3l-30 8z" fill="#20d800" stroke="#20d800"/><path d="M5119 8641l32 -9l-31 -5l-32 9zm32 -9l31 -8l-30 -6l-32 9zm31 -8l32 -9l-31 -5l-31 8zm32 -9l31 -8l-31 -5l-31 8zm31 -8l31 -8l-31 -6l-31 9zm31 -8l31 -9l-31 -5l-31 8zm61 -4l31 -8l-31 -5l-30 8zm-30 -5l30 -8l-30 -5l-31 8zm61 -3l31 -8l-31 -5l-31 8zm31 -8l30 -8l-31 -5l-30 8zm30 -8l30 -8l-31 -5l-30 8zm30 -8l30 -8l-31 -5l-30 8zm30 -8l30 -8l-31 -4l-30 7zm61 -3l29 -8l-31 -5l-29 8zm29 -8l30 -8l-31 -4l-30 7zm30 -8l29 -7l-31 -5l-29 8zm29 -7l29 -8l-31 -4l-29 7z" fill="#00dc0c" stroke="#00dc0c"/><path d="M4850 8585l32 -8l-29 -7l-32 7zm32 -8l32 -8l-29 -7l-32 8zm32 -8l31 -8l-29 -7l-31 8z" fill="#00e424" stroke="#00e424"/><path d="M5912 8707l32 -10l-36 -1l-32 10zm32 -10l31 -10l-36 -1l-31 10z" fill="#78d000" stroke="#78d000"/><path d="M5876 8706l32 -10l-36 -1l-31 10zm32 -10l31 -10l-35 -1l-32 10zm31 -10l32 -10l-36 -1l-31 10zm32 -10l31 -10l-36 -1l-31 10zm31 -10l30 -10l-35 -1l-31 10zm276 -73l30 -9l-36 0l-29 8z" fill="#70d000" stroke="#70d000"/><path d="M5370 8666l32 -9l-32 -4l-32 9zm32 -9l31 -9l-32 -4l-31 9zm31 -9l31 -9l-32 -4l-31 9zm31 -9l31 -9l-32 -4l-31 9zm31 -9l31 -9l-32 -4l-31 9zm31 -9l31 -8l-32 -4l-31 8zm31 -8l30 -9l-32 -4l-30 9zm30 -9l31 -8l-32 -4l-31 8zm31 -8l30 -9l-32 -3l-30 8zm30 -9l30 -8l-32 -3l-30 8zm92 -13l29 -8l-32 -3l-30 8zm29 -8l30 -8l-33 -3l-29 8zm30 -8l29 -7l-32 -4l-30 8zm29 -7l29 -8l-32 -3l-29 7z" fill="#10d800" stroke="#10d800"/><path d="M6163 8698l32 -11l-38 1l-31 10z" fill="#a8cc00" stroke="#a8cc00"/><path d="M5631 8681l32 -10l-34 -3l-31 10zm32 -10l31 -9l-33 -3l-32 9zm31 -9l31 -10l-33 -2l-31 9zm31 -10l31 -9l-33 -2l-31 9zm31 -9l31 -9l-34 -2l-30 9zm31 -9l30 -9l-33 -2l-31 9zm30 -9l30 -9l-33 -2l-30 9zm30 -9l31 -8l-34 -3l-30 9zm153 -32l30 -8l-34 -2l-29 8zm30 -8l29 -8l-34 -2l-29 8zm29 -8l29 -8l-34 -2l-29 8z" fill="#38d400" stroke="#38d400"/><path d="M5152 8618l31 -8l-30 -6l-32 9zm31 -8l31 -8l-30 -6l-31 8zm31 -8l31 -9l-30 -5l-31 8zm31 -9l31 -8l-30 -5l-31 8zm31 -8l31 -8l-31 -5l-30 8zm61 -3l31 -8l-31 -5l-30 8zm31 -8l30 -8l-31 -5l-30 8zm30 -8l30 -8l-30 -5l-31 8zm30 -8l30 -8l-31 -5l-29 8zm30 -8l30 -7l-31 -5l-30 7zm61 -3l29 -8l-31 -4l-29 8zm29 -8l30 -7l-31 -5l-30 8zm30 -7l29 -8l-31 -4l-29 7zm29 -8l29 -7l-31 -5l-29 8z" fill="#00dc10" stroke="#00dc10"/><path d="M6195 8687l31 -10l-37 0l-32 11zm31 -10l31 -10l-37 0l-31 10zm31 -10l31 -11l-38 1l-30 10zm31 -11l30 -9l-37 0l-31 10zm30 -9l31 -10l-38 1l-30 9zm31 -10l30 -10l-38 1l-30 10zm30 -10l30 -9l-38 1l-30 9zm30 -9l29 -10l-37 1l-30 10zm29 -10l30 -9l-37 1l-30 9zm30 -9l29 -9l-37 1l-29 9zm29 -9l30 -9l-38 1l-29 9z" fill="#a4cc00" stroke="#a4cc00"/><path d="M6157 8688l32 -11l-37 1l-32 10zm32 -11l31 -10l-37 0l-31 11zm31 -10l30 -10l-37 1l-30 9zm30 -10l31 -10l-37 1l-31 10zm31 -10l30 -9l-37 0l-30 10zm30 -9l30 -10l-37 1l-30 9zm30 -10l30 -9l-37 0l-30 10zm30 -9l30 -10l-37 1l-30 9zm30 -10l30 -9l-37 1l-30 9zm30 -9l29 -9l-37 1l-29 9z" fill="#9ccc00" stroke="#9ccc00"/><path d="M5904 8685l31 -10l-35 -2l-31 10zm31 -10l31 -10l-35 -1l-31 9zm31 -10l31 -10l-35 -1l-31 10zm31 -10l31 -9l-36 -1l-30 9zm31 -9l30 -9l-35 -1l-31 9zm30 -9l30 -10l-35 -1l-30 10zm243 -62l29 -8l-35 -1l-29 9z" fill="#68d000" stroke="#68d000"/><path d="M5401 8644l31 -9l-31 -4l-32 8zm31 -9l31 -9l-31 -4l-31 9zm31 -9l31 -9l-31 -4l-31 9zm31 -9l31 -8l-32 -4l-30 8zm31 -8l30 -9l-31 -3l-31 8zm30 -9l31 -8l-32 -4l-30 9zm31 -8l30 -8l-32 -4l-30 8zm92 -13l29 -8l-32 -3l-29 8zm29 -8l30 -8l-32 -3l-30 8zm30 -8l29 -8l-32 -3l-29 8zm29 -8l30 -8l-32 -3l-30 8zm30 -8l29 -7l-32 -4l-29 8z" fill="#0cd800" stroke="#0cd800"/><path d="M4974 8568l31 -8l-29 -7l-31 8zm-29 -7l31 -8l-29 -7l-31 8zm60 -1l31 -8l-29 -7l-31 8zm-29 -7l31 -8l-29 -6l-31 7zm90 5l30 -7l-29 -7l-31 8zm-30 -6l31 -8l-29 -6l-31 7zm60 -1l31 -8l-29 -6l-31 7zm-29 -7l31 -7l-30 -7l-30 8zm60 -1l30 -8l-29 -6l-30 8zm-29 -6l30 -8l-29 -6l-31 7zm89 4l30 -7l-29 -6l-31 7zm-30 -6l31 -7l-30 -6l-30 7zm60 -1l30 -8l-29 -6l-30 8zm-29 -6l30 -8l-30 -6l-30 8zm59 -2l30 -7l-29 -6l-30 7zm60 -2l30 -7l-30 -6l-30 8zm-30 -5l30 -8l-30 -6l-29 8zm60 -2l29 -8l-30 -5l-29 7zm-30 -6l29 -7l-29 -6l-30 7zm59 -2l30 -7l-30 -5l-30 7zm30 -7l29 -7l-30 -6l-29 8zm29 -7l29 -7l-30 -6l-29 7z" fill="#00e024" stroke="#00e024"/><path d="M5661 8659l31 -9l-34 -3l-31 9zm217 -51l29 -9l-33 -2l-30 8zm29 -9l30 -8l-33 -3l-30 9zm30 -8l30 -9l-34 -2l-29 8zm30 -9l29 -8l-33 -2l-30 8zm29 -8l29 -8l-33 -2l-29 8z" fill="#34d400" stroke="#34d400"/><path d="M6294 8666l31 -10l-37 0l-31 11zm62 -20l30 -10l-37 1l-31 10zm30 -10l30 -10l-37 1l-30 10zm30 -10l30 -9l-37 1l-30 9zm30 -9l30 -10l-38 1l-29 10zm30 -10l30 -9l-38 1l-30 9zm30 -9l29 -9l-38 1l-29 9z" fill="#accc00" stroke="#accc00"/><path d="M6183 8667l30 -9l-36 0l-31 10zm30 -9l31 -10l-37 0l-30 10zm31 -10l30 -10l-36 0l-31 10zm30 -10l30 -9l-36 0l-30 9zm30 -9l30 -10l-36 1l-30 9zm30 -10l30 -9l-36 0l-30 10zm30 -9l30 -9l-37 0l-29 9zm30 -9l29 -9l-36 0l-30 9z" fill="#94cc00" stroke="#94cc00"/><path d="M5931 8664l31 -10l-35 -1l-31 9zm31 -10l30 -9l-34 -1l-31 9zm30 -9l31 -9l-35 -2l-30 10zm31 -9l30 -10l-35 -1l-30 9zm30 -10l30 -9l-35 -1l-30 9zm213 -51l29 -9l-35 0l-29 8z" fill="#60d000" stroke="#60d000"/><path d="M5759 8655l31 -9l-34 -3l-31 9zm31 -9l30 -10l-33 -2l-31 9zm30 -10l31 -9l-34 -2l-30 9zm31 -9l30 -8l-34 -3l-30 9zm30 -8l30 -9l-33 -2l-31 8zm30 -9l30 -9l-34 -2l-29 9zm30 -9l30 -8l-34 -2l-30 8zm30 -8l29 -9l-33 -2l-30 9z" fill="#3cd400" stroke="#3cd400"/><path d="M5692 8650l31 -9l-34 -3l-31 9zm31 -9l30 -9l-33 -3l-31 9zm30 -9l31 -9l-34 -3l-30 9zm31 -9l30 -9l-33 -3l-31 9zm30 -9l30 -9l-33 -2l-30 8zm30 -9l30 -8l-33 -3l-30 9zm30 -8l30 -9l-34 -2l-29 8zm151 -31l29 -8l-33 -2l-29 8z" fill="#30d400" stroke="#30d400"/><path d="M5215 8588l31 -8l-31 -6l-30 8zm31 -8l30 -8l-30 -6l-31 8zm61 -3l30 -8l-30 -5l-31 8zm-31 -5l31 -8l-30 -6l-31 8zm61 -3l30 -8l-30 -5l-30 8zm30 -8l31 -8l-31 -5l-30 8zm31 -8l29 -8l-30 -5l-30 8zm29 -8l30 -7l-30 -5l-30 7zm61 -2l29 -8l-30 -5l-30 8zm-31 -5l30 -8l-31 -5l-29 8zm60 -3l30 -8l-31 -4l-29 7zm30 -8l29 -7l-31 -5l-29 8zm29 -7l29 -8l-31 -4l-29 7z" fill="#00dc14" stroke="#00dc14"/><path d="M5007 8545l31 -7l-29 -7l-31 8zm31 -7l30 -8l-29 -6l-30 7zm30 -8l31 -7l-29 -7l-31 8zm60 -1l30 -7l-29 -7l-30 8zm-29 -6l30 -8l-29 -6l-30 7zm59 -1l30 -8l-29 -6l-30 7zm-29 -7l30 -7l-29 -7l-30 8zm89 5l30 -7l-30 -6l-30 7zm-30 -6l30 -7l-29 -6l-30 7zm60 -1l29 -8l-29 -6l-30 8zm-30 -6l30 -8l-29 -6l-30 8zm59 -2l30 -7l-29 -6l-30 7zm59 -1l30 -7l-30 -6l-29 7zm-29 -6l29 -7l-29 -6l-29 7zm59 -1l29 -8l-29 -5l-30 7zm29 -8l29 -7l-29 -5l-29 7z" fill="#00e028" stroke="#00e028"/><path d="M6032 8656l31 -9l-35 -1l-31 9zm31 -9l30 -10l-35 0l-30 9zm30 -10l31 -9l-36 -1l-30 10zm31 -9l30 -9l-36 -1l-30 9zm30 -9l30 -9l-36 -1l-30 9zm30 -9l29 -9l-35 0l-30 8zm29 -9l30 -9l-36 0l-29 9zm30 -9l29 -8l-35 -1l-30 9zm29 -8l29 -9l-35 0l-29 8z" fill="#6cd000" stroke="#6cd000"/><path d="M5689 8638l31 -9l-33 -3l-31 9zm31 -9l30 -9l-33 -3l-30 9zm30 -9l31 -9l-33 -2l-31 8zm154 -32l29 -8l-33 -2l-30 8zm29 -8l30 -8l-34 -2l-29 8zm30 -8l29 -8l-33 -3l-30 9zm29 -8l29 -8l-33 -3l-29 8z" fill="#2cd400" stroke="#2cd400"/><path d="M5558 8625l31 -9l-32 -3l-31 8zm31 -9l31 -8l-33 -4l-30 9zm31 -8l30 -9l-32 -3l-31 8zm30 -9l30 -8l-32 -4l-30 9zm30 -8l30 -8l-32 -4l-30 8zm30 -8l30 -9l-33 -3l-29 8zm121 -22l29 -7l-32 -3l-29 7z" fill="#14d800" stroke="#14d800"/><path d="M5463 8613l30 -8l-31 -4l-31 8zm153 -29l30 -8l-32 -4l-30 8zm30 -8l29 -8l-31 -4l-30 8zm29 -8l30 -8l-32 -4l-29 8zm30 -8l29 -8l-31 -4l-30 8z" fill="#08d800" stroke="#08d800"/><path d="M6207 8648l31 -10l-37 0l-30 10zm31 -10l30 -9l-37 0l-30 9zm30 -9l30 -9l-37 0l-30 9zm30 -9l30 -10l-37 1l-30 9zm30 -10l29 -9l-36 1l-30 9z" fill="#8ccc00" stroke="#8ccc00"/><path d="M5958 8644l30 -10l-35 -1l-30 9zm30 -10l30 -9l-34 -1l-31 9zm30 -9l30 -9l-34 -1l-30 9zm30 -9l30 -9l-34 -1l-30 9z" fill="#58d000" stroke="#58d000"/><path d="M5493 8605l31 -8l-32 -5l-30 9zm31 -8l30 -9l-32 -4l-30 8zm30 -9l30 -8l-32 -4l-30 8zm30 -8l30 -8l-32 -4l-30 8zm30 -8l30 -8l-32 -4l-30 8zm30 -8l29 -8l-31 -4l-30 8zm29 -8l30 -8l-32 -4l-29 8zm61 -4l30 -8l-32 -4l-29 8zm30 -8l29 -8l-32 -3l-29 7z" fill="#04d800" stroke="#04d800"/><path d="M5919 8631l30 -9l-34 -1l-30 8zm30 -9l30 -9l-34 -1l-30 9zm30 -9l30 -8l-34 -2l-30 9z" fill="#48d400" stroke="#48d400"/><path d="M5492 8592l30 -8l-31 -4l-30 8zm30 -8l30 -8l-31 -4l-30 8zm30 -8l30 -8l-31 -4l-30 8zm30 -8l30 -8l-31 -4l-30 8zm30 -8l30 -8l-32 -4l-29 8zm91 -12l29 -8l-32 -3l-29 7zm29 -8l29 -7l-32 -4l-29 8z" fill="#00d800" stroke="#00d800"/><path d="M5307 8564l30 -8l-30 -5l-30 7zm-30 -6l30 -7l-30 -6l-31 8zm60 -2l30 -8l-30 -5l-30 8zm30 -8l30 -8l-30 -5l-30 8zm30 -8l30 -7l-30 -5l-30 7zm30 -7l29 -8l-30 -5l-29 8zm60 -3l29 -7l-30 -5l-30 7zm29 -7l29 -8l-30 -5l-29 8zm29 -8l29 -7l-30 -5l-29 7z" fill="#00dc18" stroke="#00dc18"/><path d="M6231 8629l30 -9l-36 0l-30 9zm30 -9l30 -9l-36 0l-30 9zm30 -9l30 -9l-36 0l-30 9zm30 -9l29 -9l-36 0l-29 9z" fill="#84cc00" stroke="#84cc00"/><path d="M6088 8627l30 -9l-35 -1l-30 9zm30 -9l30 -9l-35 -1l-30 9zm30 -9l30 -8l-35 -1l-30 8zm30 -8l29 -9l-35 -1l-29 9zm29 -9l30 -9l-35 0l-30 8zm30 -9l29 -8l-35 -1l-29 9z" fill="#64d000" stroke="#64d000"/><path d="M5984 8624l30 -9l-35 -2l-30 9zm30 -9l30 -9l-35 -1l-30 8zm30 -9l29 -8l-34 -2l-30 9zm29 -8l30 -9l-35 -1l-29 8z" fill="#50d000" stroke="#50d000"/><path d="M5781 8611l30 -8l-33 -3l-30 9zm30 -8l30 -9l-33 -2l-30 8zm30 -9l29 -8l-33 -3l-29 9zm29 -8l30 -8l-33 -3l-30 8zm30 -8l29 -8l-33 -3l-29 8zm29 -8l30 -9l-33 -2l-30 8zm30 -9l29 -8l-33 -2l-29 8z" fill="#28d400" stroke="#28d400"/><path d="M5748 8609l30 -9l-33 -3l-30 9zm30 -9l30 -8l-33 -3l-30 8zm30 -8l29 -9l-32 -2l-30 8zm29 -9l30 -8l-33 -3l-29 9z" fill="#24d400" stroke="#24d400"/><path d="M5307 8551l30 -8l-30 -5l-30 7zm30 -8l30 -8l-30 -5l-30 8zm30 -8l30 -7l-31 -6l-29 8zm30 -7l29 -8l-30 -5l-30 7zm59 -3l30 -7l-30 -5l-30 7zm-30 -5l30 -7l-31 -6l-29 8zm60 -2l29 -8l-30 -5l-29 8zm29 -8l29 -7l-30 -5l-29 7z" fill="#00dc1c" stroke="#00dc1c"/><path d="M6083 8617l30 -9l-35 -1l-30 9zm30 -9l30 -8l-35 -1l-30 8zm30 -8l29 -9l-35 -1l-29 9zm29 -9l30 -8l-35 -1l-30 8zm30 -8l29 -9l-35 -1l-29 9zm29 -9l29 -8l-35 -1l-29 8z" fill="#5cd000" stroke="#5cd000"/><path d="M5159 8508l30 -7l-29 -7l-30 7zm30 -7l30 -8l-29 -6l-30 7zm59 -2l30 -7l-30 -6l-29 7zm-29 -6l29 -7l-29 -6l-29 7zm59 -1l29 -7l-29 -6l-30 7zm-30 -6l30 -7l-29 -6l-30 7zm88 5l30 -7l-30 -6l-29 7zm-29 -6l29 -7l-29 -6l-29 7zm59 -1l29 -7l-30 -6l-29 7zm-30 -6l29 -7l-29 -6l-29 7z" fill="#00e02c" stroke="#00e02c"/><path d="M6255 8611l30 -9l-36 -1l-30 9zm30 -9l29 -9l-36 0l-29 8z" fill="#7ccc00" stroke="#7ccc00"/><path d="M6078 8607l30 -8l-35 -1l-29 8zm30 -8l29 -9l-34 -1l-30 9zm29 -9l30 -8l-35 -2l-29 9zm30 -8l29 -9l-35 -1l-29 8zm29 -9l29 -8l-35 -1l-29 8z" fill="#54d000" stroke="#54d000"/><path d="M6009 8605l30 -9l-34 -2l-30 9zm30 -9l29 -8l-34 -2l-29 8zm29 -8l30 -9l-34 -1l-30 8zm30 -9l29 -8l-34 -2l-29 9z" fill="#48d000" stroke="#48d000"/><path d="M6357 8601l30 -9l-37 1l-29 9zm30 -9l29 -8l-36 0l-30 9zm29 -8l29 -9l-36 0l-29 9zm29 -9l29 -9l-36 1l-29 8z" fill="#88cc00" stroke="#88cc00"/><path d="M5805 8581l29 -9l-32 -2l-30 8zm29 -9l30 -8l-33 -3l-29 9zm30 -8l29 -8l-33 -2l-29 7zm29 -8l29 -8l-33 -2l-29 8z" fill="#1cd400" stroke="#1cd400"/><path d="M5581 8556l29 -8l-31 -4l-29 8zm61 -4l29 -8l-31 -4l-30 8zm29 -8l29 -7l-31 -4l-29 7zm29 -7l29 -8l-31 -4l-29 8z" fill="#00d804" stroke="#00d804"/><path d="M5366 8522l30 -7l-30 -6l-29 8zm30 -7l29 -8l-29 -5l-30 7zm60 -2l29 -8l-30 -5l-30 7zm-31 -6l30 -7l-30 -5l-29 7zm60 -2l29 -7l-30 -5l-29 7z" fill="#00dc20" stroke="#00dc20"/><path d="M6535 8589l29 -9l-37 1l-30 9zm29 -9l29 -9l-37 1l-29 9z" fill="#acc800" stroke="#acc800"/><path d="M6460 8591l29 -9l-36 1l-30 9zm29 -9l29 -8l-36 0l-29 9zm29 -8l29 -9l-37 1l-28 8z" fill="#98cc00" stroke="#98cc00"/><path d="M6423 8592l30 -9l-37 1l-29 8zm30 -9l29 -9l-37 1l-29 9zm29 -9l28 -8l-36 0l-29 9z" fill="#90cc00" stroke="#90cc00"/><path d="M6350 8593l30 -9l-37 0l-29 9zm30 -9l29 -9l-36 1l-30 8zm29 -9l29 -8l-37 0l-28 9z" fill="#80cc00" stroke="#80cc00"/><path d="M6314 8593l29 -9l-35 0l-30 9zm29 -9l30 -8l-36 0l-29 8zm30 -8l28 -9l-35 0l-29 9z" fill="#78cc00" stroke="#78cc00"/><path d="M6103 8589l29 -9l-34 -1l-30 9zm29 -9l29 -8l-34 -1l-29 8zm29 -8l29 -8l-34 -1l-29 8z" fill="#4cd000" stroke="#4cd000"/><path d="M5867 8575l29 -8l-32 -3l-30 8zm29 -8l30 -8l-33 -3l-29 8zm30 -8l29 -8l-33 -3l-29 8z" fill="#20d400" stroke="#20d400"/><path d="M5610 8548l30 -8l-31 -4l-30 8zm30 -8l29 -7l-31 -4l-29 7zm29 -7l29 -8l-31 -4l-29 8z" fill="#00d808" stroke="#00d808"/><path d="M6527 8581l29 -9l-38 2l-29 8zm29 -9l28 -8l-37 1l-29 9z" fill="#a0cc00" stroke="#a0cc00"/><path d="M6308 8584l29 -8l-36 -1l-29 9zm29 -8l29 -9l-36 0l-29 8z" fill="#70cc00" stroke="#70cc00"/><path d="M5278 8479l29 -7l-29 -6l-29 7zm29 -7l29 -7l-29 -6l-29 7z" fill="#00e030" stroke="#00e030"/><path d="M6593 8571l29 -8l-38 1l-28 8z" fill="#a8c800" stroke="#a8c800"/><path d="M6127 8571l29 -8l-34 -2l-29 8z" fill="#44d000" stroke="#44d000"/><path d="M6093 8569l29 -8l-34 -1l-29 8z" fill="#40d000" stroke="#40d000"/><path d="M5860 8554l29 -8l-32 -3l-29 8z" fill="#14d400" stroke="#14d400"/><path d="M5455 8500l29 -7l-30 -5l-29 7z" fill="#00dc24" stroke="#00dc24"/></g>
<path d="M530.5 904.6L523.0 904.1L515.7 903.5L508.5 902.9L501.4 902.1L494.4 901.3L487.5 900.4L480.7 899.4L473.9 898.3L467.3 897.1L460.8 895.9L454.4 894.6L448.0 893.2L441.8 891.7L435.6 890.2L429.5 888.6L423.5 886.9L417.5 885.2L411.6 883.4L405.8 881.5L400.1 879.5M530.5 904.6L538.0 901.3L545.3 898.2L552.6 895.2L559.8 892.2L566.8 889.4L573.8 886.6L580.7 884.0L587.5 881.4L594.2 878.9L600.8 876.5L607.3 874.2L613.7 871.9L620.1 869.7L626.3 867.6L632.5 865.6L638.6 863.6L644.6 861.7L650.6 859.8L656.4 858.0L662.2 856.3M538.0 901.3L530.5 900.9L523.2 900.4L515.9 899.8L508.8 899.1L501.8 898.3L494.9 897.5L488.1 896.6L481.4 895.5L474.7 894.4L468.2 893.3L461.8 892.0L455.4 890.7L449.1 889.3L442.9 887.8L436.8 886.2L430.8 884.6L424.8 882.9L419.0 881.2L413.1 879.4L407.4 877.5M523.0 904.1L530.5 900.9L537.9 897.8L545.1 894.8L552.3 892.0L559.4 889.2L566.3 886.5L573.2 883.9L580.0 881.3L586.7 878.9L593.3 876.5L599.8 874.2L606.2 872.0L612.6 869.8L618.9 867.7L625.0 865.7L631.1 863.8L637.1 861.9L643.1 860.0L648.9 858.2L654.7 856.5M545.3 898.2L537.9 897.8L530.5 897.4L523.3 896.8L516.2 896.2L509.1 895.5L502.2 894.7L495.4 893.8L488.7 892.9L482.0 891.8L475.5 890.7L469.0 889.5L462.7 888.2L456.4 886.9L450.2 885.5L444.1 884.0L438.0 882.4L432.1 880.8L426.2 879.1L420.4 877.3L414.6 875.5M515.7 903.5L523.2 900.4L530.5 897.4L537.8 894.5L544.9 891.6L552.0 888.9L559.0 886.2L565.8 883.7L572.6 881.2L579.3 878.7L585.9 876.4L592.4 874.1L598.9 872.0L605.2 869.8L611.5 867.8L617.7 865.8L623.8 863.8L629.8 862.0L635.7 860.1L641.6 858.4L647.4 856.6M552.6 895.2L545.1 894.8L537.8 894.5L530.5 894.0L523.4 893.4L516.4 892.7L509.4 892.0L502.6 891.2L495.9 890.3L489.2 889.3L482.7 888.2L476.2 887.1L469.9 885.8L463.6 884.5L457.4 883.2L451.3 881.7L445.2 880.2L439.2 878.7L433.3 877.0L427.5 875.3L421.7 873.5M508.5 902.9L515.9 899.8L523.3 896.8L530.5 894.0L537.7 891.2L544.7 888.5L551.7 885.9L558.6 883.4L565.4 880.9L572.1 878.5L578.7 876.2L585.2 874.0L591.6 871.8L598.0 869.7L604.2 867.7L610.4 865.7L616.5 863.8L622.5 862.0L628.5 860.2L634.3 858.4L640.1 856.7M559.8 892.2L552.3 892.0L544.9 891.6L537.7 891.2L530.5 890.7L523.5 890.1L516.6 889.4L509.7 888.6L503.0 887.7L496.4 886.8L489.8 885.8L483.3 884.7L477.0 883.5L470.7 882.3L464.5 881.0L458.3 879.6L452.3 878.1L446.3 876.6L440.4 875.0L434.5 873.3L428.8 871.6M501.4 902.1L508.8 899.1L516.2 896.2L523.4 893.4L530.5 890.7L537.6 888.0L544.6 885.5L551.4 883.0L558.2 880.6L564.9 878.2L571.5 876.0L578.0 873.8L584.4 871.6L590.8 869.6L597.1 867.6L603.2 865.6L609.3 863.7L615.4 861.9L621.3 860.1L627.2 858.4L633.0 856.7M566.8 889.4L559.4 889.2L552.0 888.9L544.7 888.5L537.6 888.0L530.6 887.5L523.6 886.8L516.8 886.1L510.0 885.3L503.4 884.4L496.8 883.4L490.4 882.4L484.0 881.3L477.7 880.1L471.5 878.8L465.3 877.5L459.3 876.1L453.3 874.6L447.4 873.0L441.5 871.4L435.7 869.7M494.4 901.3L501.8 898.3L509.1 895.5L516.4 892.7L523.5 890.1L530.6 887.5L537.5 885.0L544.4 882.5L551.2 880.1L557.8 877.8L564.4 875.6L571.0 873.5L577.4 871.4L583.7 869.3L590.0 867.3L596.2 865.4L602.3 863.6L608.3 861.7L614.3 860.0L620.2 858.3L626.0 856.6M573.8 886.6L566.3 886.5L559.0 886.2L551.7 885.9L544.6 885.5L537.5 885.0L530.6 884.4L523.7 883.7L517.0 882.9L510.3 882.1L503.8 881.2L497.3 880.2L490.9 879.1L484.6 877.9L478.4 876.7L472.2 875.4L466.1 874.1L460.2 872.6L454.2 871.1L448.4 869.5L442.6 867.9M487.5 900.4L494.9 897.5L502.2 894.7L509.4 892.0L516.6 889.4L523.6 886.8L530.6 884.4L537.4 882.0L544.2 879.6L550.9 877.4L557.5 875.2L564.0 873.1L570.4 871.0L576.8 869.0L583.0 867.0L589.2 865.1L595.3 863.3L601.4 861.5L607.3 859.8L613.2 858.0L619.0 856.4M580.7 884.0L573.2 883.9L565.8 883.7L558.6 883.4L551.4 883.0L544.4 882.5L537.4 882.0L530.6 881.3L523.8 880.6L517.2 879.8L510.6 878.9L504.1 878.0L497.7 876.9L491.4 875.8L485.2 874.7L479.0 873.4L473.0 872.1L467.0 870.7L461.0 869.2L455.2 867.7L449.4 866.1M480.7 899.4L488.1 896.6L495.4 893.8L502.6 891.2L509.7 888.6L516.8 886.1L523.7 883.7L530.6 881.3L537.3 879.0L544.0 876.8L550.6 874.7L557.1 872.6L563.6 870.5L569.9 868.6L576.2 866.6L582.4 864.8L588.5 862.9L594.5 861.2L600.5 859.4L606.4 857.8L612.2 856.1M587.5 881.4L580.0 881.3L572.6 881.2L565.4 880.9L558.2 880.6L551.2 880.1L544.2 879.6L537.3 879.0L530.6 878.4L523.9 877.6L517.4 876.8L510.9 875.9L504.5 874.9L498.2 873.8L491.9 872.7L485.8 871.5L479.7 870.2L473.7 868.8L467.8 867.4L461.9 865.9L456.1 864.4M473.9 898.3L481.4 895.5L488.7 892.9L495.9 890.3L503.0 887.7L510.0 885.3L517.0 882.9L523.8 880.6L530.6 878.4L537.3 876.2L543.9 874.1L550.4 872.0L556.8 870.0L563.1 868.1L569.4 866.2L575.6 864.3L581.7 862.5L587.8 860.8L593.7 859.1L599.6 857.4L605.4 855.8M594.2 878.9L586.7 878.9L579.3 878.7L572.1 878.5L564.9 878.2L557.8 877.8L550.9 877.4L544.0 876.8L537.3 876.2L530.6 875.5L524.0 874.7L517.5 873.8L511.1 872.9L504.8 871.8L498.6 870.7L492.4 869.6L486.3 868.3L480.3 867.0L474.4 865.6L468.5 864.2L462.7 862.7M467.3 897.1L474.7 894.4L482.0 891.8L489.2 889.3L496.4 886.8L503.4 884.4L510.3 882.1L517.2 879.8L523.9 877.6L530.6 875.5L537.2 873.4L543.7 871.4L550.1 869.4L556.5 867.5L562.7 865.6L568.9 863.8L575.0 862.0L581.1 860.3L587.0 858.6L592.9 857.0L598.8 855.3M600.8 876.5L593.3 876.5L585.9 876.4L578.7 876.2L571.5 876.0L564.4 875.6L557.5 875.2L550.6 874.7L543.9 874.1L537.2 873.4L530.6 872.6L524.1 871.8L517.7 870.9L511.4 869.9L505.2 868.8L499.0 867.7L492.9 866.5L486.9 865.2L480.9 863.9L475.1 862.5L469.3 861.0M460.8 895.9L468.2 893.3L475.5 890.7L482.7 888.2L489.8 885.8L496.8 883.4L503.8 881.2L510.6 878.9L517.4 876.8L524.0 874.7L530.6 872.6L537.1 870.6L543.5 868.7L549.9 866.8L556.2 865.0L562.3 863.2L568.5 861.4L574.5 859.7L580.5 858.1L586.4 856.4L592.2 854.8M607.3 874.2L599.8 874.2L592.4 874.1L585.2 874.0L578.0 873.8L571.0 873.5L564.0 873.1L557.1 872.6L550.4 872.0L543.7 871.4L537.1 870.6L530.6 869.8L524.2 869.0L517.9 868.0L511.6 867.0L505.5 865.9L499.4 864.7L493.4 863.5L487.4 862.2L481.6 860.8L475.7 859.4M454.4 894.6L461.8 892.0L469.0 889.5L476.2 887.1L483.3 884.7L490.4 882.4L497.3 880.2L504.1 878.0L510.9 875.9L517.5 873.8L524.1 871.8L530.6 869.8L537.0 867.9L543.4 866.1L549.7 864.3L555.8 862.5L562.0 860.8L568.0 859.1L574.0 857.4L579.9 855.8L585.7 854.3M613.7 871.9L606.2 872.0L598.9 872.0L591.6 871.8L584.4 871.6L577.4 871.4L570.4 871.0L563.6 870.5L556.8 870.0L550.1 869.4L543.5 868.7L537.0 867.9L530.6 867.1L524.3 866.2L518.1 865.2L511.9 864.1L505.8 863.0L499.8 861.8L493.8 860.5L488.0 859.2L482.1 857.7M448.0 893.2L455.4 890.7L462.7 888.2L469.9 885.8L477.0 883.5L484.0 881.3L490.9 879.1L497.7 876.9L504.5 874.9L511.1 872.9L517.7 870.9L524.2 869.0L530.6 867.1L537.0 865.3L543.2 863.5L549.4 861.7L555.5 860.0L561.6 858.4L567.5 856.8L573.4 855.2L579.3 853.6M620.1 869.7L612.6 869.8L605.2 869.8L598.0 869.7L590.8 869.6L583.7 869.3L576.8 869.0L569.9 868.6L563.1 868.1L556.5 867.5L549.9 866.8L543.4 866.1L537.0 865.3L530.6 864.4L524.4 863.4L518.2 862.4L512.1 861.3L506.1 860.1L500.2 858.9L494.3 857.5L488.5 856.2M441.8 891.7L449.1 889.3L456.4 886.9L463.6 884.5L470.7 882.3L477.7 880.1L484.6 877.9L491.4 875.8L498.2 873.8L504.8 871.8L511.4 869.9L517.9 868.0L524.3 866.2L530.6 864.4L536.9 862.6L543.1 860.9L549.2 859.2L555.2 857.6L561.2 856.0L567.1 854.4L572.9 852.9M626.3 867.6L618.9 867.7L611.5 867.8L604.2 867.7L597.1 867.6L590.0 867.3L583.0 867.0L576.2 866.6L569.4 866.2L562.7 865.6L556.2 865.0L549.7 864.3L543.2 863.5L536.9 862.6L530.7 861.7L524.5 860.7L518.4 859.6L512.4 858.5L506.4 857.3L500.5 856.0L494.7 854.6M435.6 890.2L442.9 887.8L450.2 885.5L457.4 883.2L464.5 881.0L471.5 878.8L478.4 876.7L485.2 874.7L491.9 872.7L498.6 870.7L505.2 868.8L511.6 867.0L518.1 865.2L524.4 863.4L530.7 861.7L536.8 860.0L543.0 858.4L549.0 856.7L555.0 855.2L560.9 853.6L566.7 852.1M632.5 865.6L625.0 865.7L617.7 865.8L610.4 865.7L603.2 865.6L596.2 865.4L589.2 865.1L582.4 864.8L575.6 864.3L568.9 863.8L562.3 863.2L555.8 862.5L549.4 861.7L543.1 860.9L536.8 860.0L530.7 859.0L524.6 858.0L518.5 856.9L512.6 855.7L506.7 854.4L500.9 853.1M429.5 888.6L436.8 886.2L444.1 884.0L451.3 881.7L458.3 879.6L465.3 877.5L472.2 875.4L479.0 873.4L485.8 871.5L492.4 869.6L499.0 867.7L505.5 865.9L511.9 864.1L518.2 862.4L524.5 860.7L530.7 859.0L536.8 857.4L542.8 855.8L548.8 854.3L554.7 852.7L560.5 851.2M638.6 863.6L631.1 863.8L623.8 863.8L616.5 863.8L609.3 863.7L602.3 863.6L595.3 863.3L588.5 862.9L581.7 862.5L575.0 862.0L568.5 861.4L562.0 860.8L555.5 860.0L549.2 859.2L543.0 858.4L536.8 857.4L530.7 856.4L524.6 855.3L518.7 854.1L512.8 852.9L507.0 851.6M423.5 886.9L430.8 884.6L438.0 882.4L445.2 880.2L452.3 878.1L459.3 876.1L466.1 874.1L473.0 872.1L479.7 870.2L486.3 868.3L492.9 866.5L499.4 864.7L505.8 863.0L512.1 861.3L518.4 859.6L524.6 858.0L530.7 856.4L536.7 854.8L542.7 853.3L548.6 851.8L554.4 850.3M644.6 861.7L637.1 861.9L629.8 862.0L622.5 862.0L615.4 861.9L608.3 861.7L601.4 861.5L594.5 861.2L587.8 860.8L581.1 860.3L574.5 859.7L568.0 859.1L561.6 858.4L555.2 857.6L549.0 856.7L542.8 855.8L536.7 854.8L530.7 853.8L524.7 852.6L518.8 851.4L513.0 850.1M417.5 885.2L424.8 882.9L432.1 880.8L439.2 878.7L446.3 876.6L453.3 874.6L460.2 872.6L467.0 870.7L473.7 868.8L480.3 867.0L486.9 865.2L493.4 863.5L499.8 861.8L506.1 860.1L512.4 858.5L518.5 856.9L524.6 855.3L530.7 853.8L536.6 852.2L542.5 850.7L548.4 849.3M650.6 859.8L643.1 860.0L635.7 860.1L628.5 860.2L621.3 860.1L614.3 860.0L607.3 859.8L600.5 859.4L593.7 859.1L587.0 858.6L580.5 858.1L574.0 857.4L567.5 856.8L561.2 856.0L555.0 855.2L548.8 854.3L542.7 853.3L536.6 852.2L530.7 851.1L524.8 849.9L519.0 848.7M411.6 883.4L419.0 881.2L426.2 879.1L433.3 877.0L440.4 875.0L447.4 873.0L454.2 871.1L461.0 869.2L467.8 867.4L474.4 865.6L480.9 863.9L487.4 862.2L493.8 860.5L500.2 858.9L506.4 857.3L512.6 855.7L518.7 854.1L524.7 852.6L530.7 851.1L536.6 849.7L542.4 848.2M656.4 858.0L648.9 858.2L641.6 858.4L634.3 858.4L627.2 858.4L620.2 858.3L613.2 858.0L606.4 857.8L599.6 857.4L592.9 857.0L586.4 856.4L579.9 855.8L573.4 855.2L567.1 854.4L560.9 853.6L554.7 852.7L548.6 851.8L542.5 850.7L536.6 849.7L530.7 848.5L524.9 847.3M405.8 881.5L413.1 879.4L420.4 877.3L427.5 875.3L434.5 873.3L441.5 871.4L448.4 869.5L455.2 867.7L461.9 865.9L468.5 864.2L475.1 862.5L481.6 860.8L488.0 859.2L494.3 857.5L500.5 856.0L506.7 854.4L512.8 852.9L518.8 851.4L524.8 849.9L530.7 848.5L536.5 847.1M662.2 856.3L654.7 856.5L647.4 856.6L640.1 856.7L633.0 856.7L626.0 856.6L619.0 856.4L612.2 856.1L605.4 855.8L598.8 855.3L592.2 854.8L585.7 854.3L579.3 853.6L572.9 852.9L566.7 852.1L560.5 851.2L554.4 850.3L548.4 849.3L542.4 848.2L536.5 847.1L530.7 845.9M400.1 879.5L407.4 877.5L414.6 875.5L421.7 873.5L428.8 871.6L435.7 869.7L442.6 867.9L449.4 866.1L456.1 864.4L462.7 862.7L469.3 861.0L475.7 859.4L482.1 857.7L488.5 856.2L494.7 854.6L500.9 853.1L507.0 851.6L513.0 850.1L519.0 848.7L524.9 847.3L530.7 845.9" fill="none" stroke="#000" stroke-width="0.8" stroke-linejoin="round"/>
<circle cx="530.61" cy="872.40" r="2.35" fill="#c00000" stroke="#1a0000" stroke-width="0.9"/>
<circle cx="530.49" cy="904.10" r="2.75" fill="#c00000" stroke="#1a0000" stroke-width="0.9"/>
<circle cx="662.25" cy="855.00" r="2.75" fill="#c00000" stroke="#1a0000" stroke-width="0.9"/>
<g font-family="Liberation Sans, sans-serif" fill="#4a4a4a"><text transform="translate(398.32 924.10) scale(1 0.915)" font-size="8.9" text-anchor="end">60</text><text transform="translate(397.53 908.93) scale(1 0.915)" font-size="8.9" text-anchor="end">80</text><text transform="translate(396.74 893.76) scale(1 0.915)" font-size="8.9" text-anchor="end">100</text><text transform="translate(395.95 878.59) scale(1 0.915)" font-size="8.9" text-anchor="end">120</text><text transform="translate(395.16 863.42) scale(1 0.915)" font-size="8.9" text-anchor="end">140</text><text transform="translate(394.37 848.24) scale(1 0.915)" font-size="8.9" text-anchor="end">160</text><text transform="translate(393.58 833.07) scale(1 0.915)" font-size="8.9" text-anchor="end">180</text><text transform="translate(392.79 817.90) scale(1 0.915)" font-size="8.9" text-anchor="end">200</text><text transform="translate(392.00 802.73) scale(1 0.915)" font-size="8.9" text-anchor="end">220</text><text transform="translate(399.50 972.46) scale(1 0.915)" font-size="8.9" text-anchor="end" letter-spacing="-0.3">2</text><text transform="translate(424.74 983.54) scale(1 0.915)" font-size="8.9" text-anchor="end" letter-spacing="-0.3">1.8</text><text transform="translate(449.98 994.62) scale(1 0.915)" font-size="8.9" text-anchor="end" letter-spacing="-0.3">1.6</text><text transform="translate(475.22 1005.70) scale(1 0.915)" font-size="8.9" text-anchor="end" letter-spacing="-0.3">1.4</text><text transform="translate(500.46 1016.78) scale(1 0.915)" font-size="8.9" text-anchor="end" letter-spacing="-0.3">1.2</text><text transform="translate(525.70 1027.86) scale(1 0.915)" font-size="8.9" text-anchor="end" letter-spacing="-0.3">1</text><text transform="translate(535.20 1027.86) scale(1 0.915)" font-size="8.9" letter-spacing="-0.3">0.5</text><text transform="translate(560.46 1016.76) scale(1 0.915)" font-size="8.9" letter-spacing="-0.3">0.6</text><text transform="translate(585.72 1005.66) scale(1 0.915)" font-size="8.9" letter-spacing="-0.3">0.7</text><text transform="translate(610.98 994.56) scale(1 0.915)" font-size="8.9" letter-spacing="-0.3">0.8</text><text transform="translate(636.24 983.46) scale(1 0.915)" font-size="8.9" letter-spacing="-0.3">0.9</text><text transform="translate(661.50 972.36) scale(1 0.915)" font-size="8.9" letter-spacing="-0.3">1</text><text transform="translate(418.80 1013.95) scale(1 0.915)" font-size="8.1" text-anchor="middle">C: Peptone (%)</text><text transform="translate(641.80 1013.95) scale(1 0.915)" font-size="8.1" text-anchor="middle">B: Corn cob (%)</text><text transform="translate(355.90 887.60) rotate(-90) scale(0.915 1)" font-size="8.6" text-anchor="middle">Cellulase activity (U/ml)</text></g>
</svg>
</body></html>
